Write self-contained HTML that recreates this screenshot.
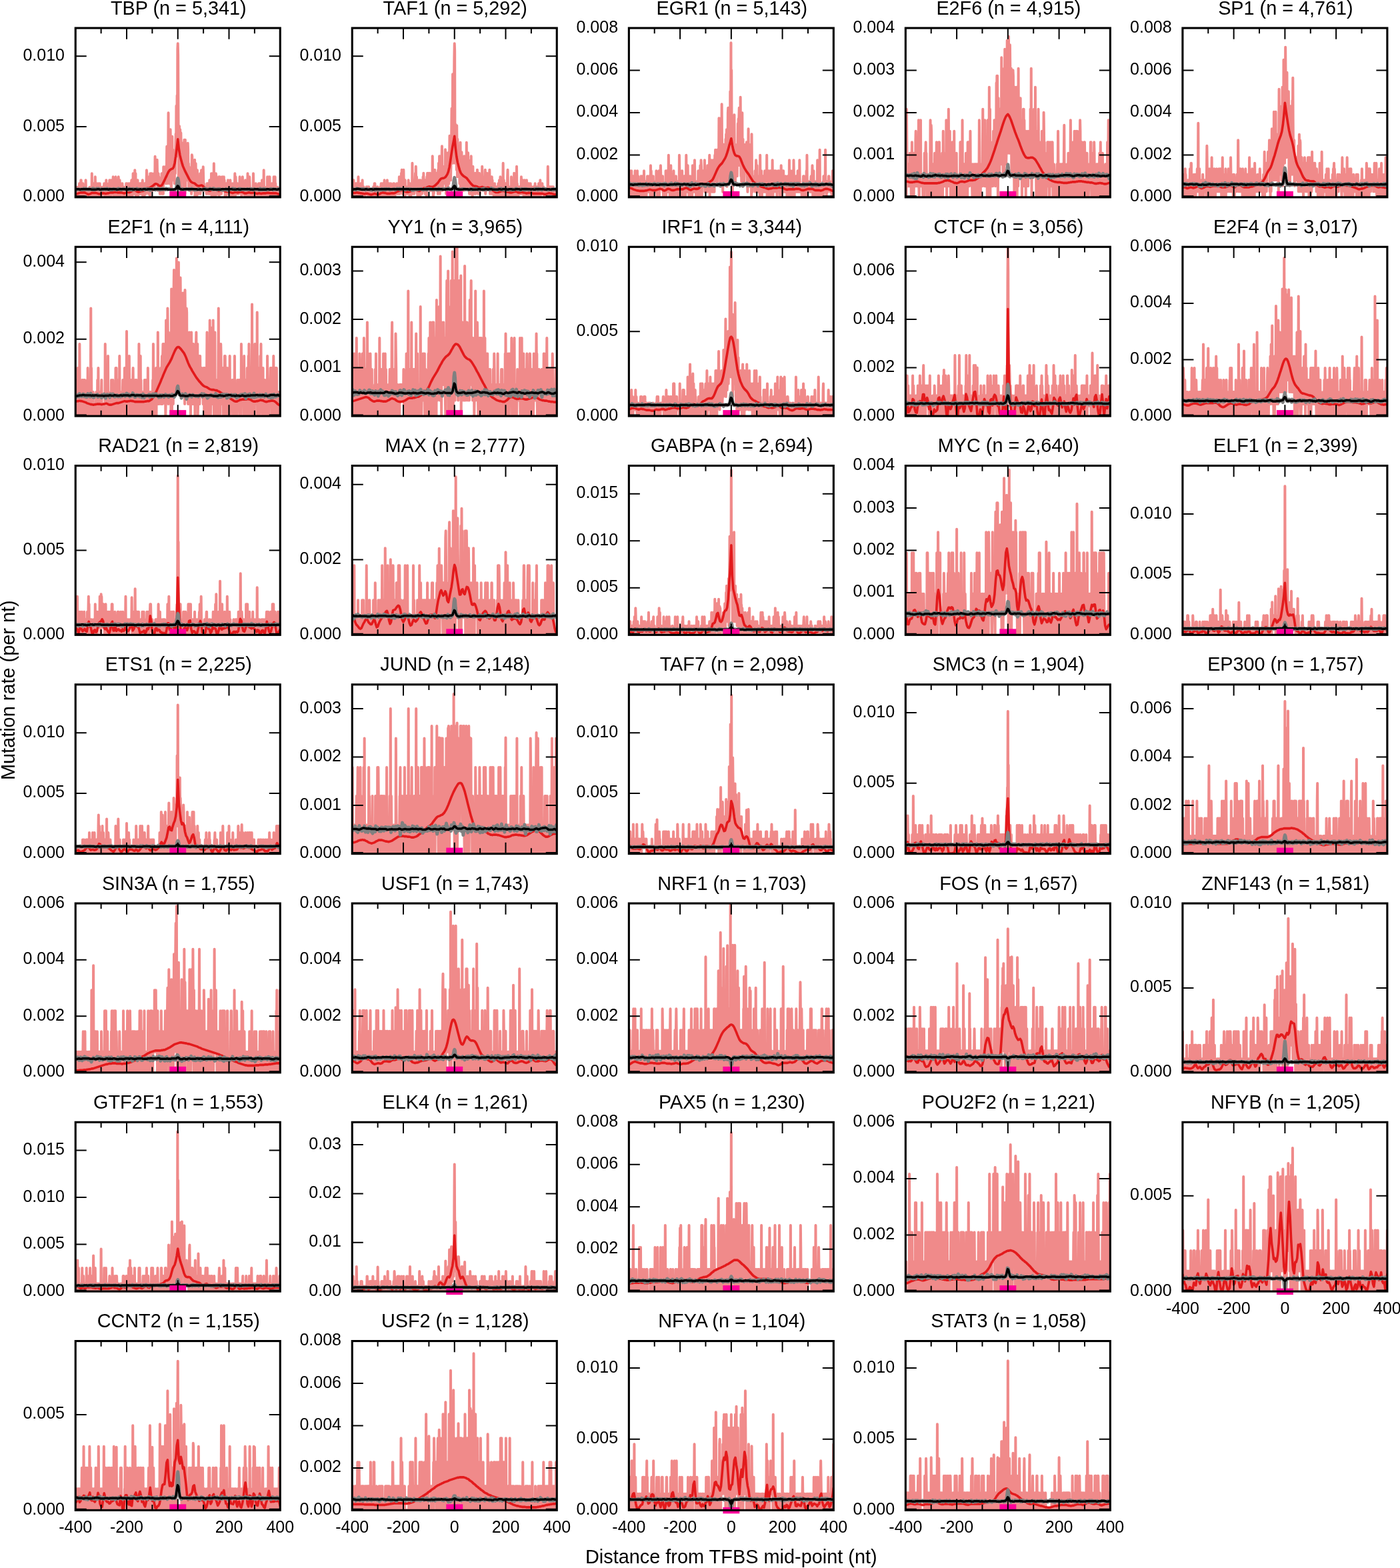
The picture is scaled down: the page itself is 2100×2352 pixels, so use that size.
<!DOCTYPE html><html><head><meta charset="utf-8"><title>Mutation rate around TFBS</title><style>html,body{margin:0;padding:0;background:#fff;width:2100px;height:2352px;overflow:hidden}svg{display:block}</style></head><body><svg width="2100" height="2352" viewBox="0 0 2100 2352"><style>.tl{font-family:"Liberation Sans",Arial,sans-serif;font-size:25px;fill:#000}.tt{font-family:"Liberation Sans",Arial,sans-serif;font-size:28.8px;fill:#000}.al{font-family:"Liberation Sans",Arial,sans-serif;font-size:28.9px;fill:#000}</style><rect width="2100" height="2352" fill="#fff"/><clipPath id="c0"><rect x="113.25" y="42.05" width="307.00" height="253.80"/></clipPath>
<g clip-path="url(#c0)">
<path transform="translate(113.25 295.85) scale(0.38375 0.5)" d="M0-20l1 0l1 20l1-10l1 10l1-30l1 0l1 20l1-10l1 0l1-10l1 10l1 20l1-20l1-10l1-11l1 31l1-10l1 10l1-10l1 20l1-51l1 0l1 51l1-20l1-21l1 11l1 10l1-10l1-11l1 31l1 10l1-30l1 0l1 10l1-10l1 10l1-10l1 20l1-10l1-31l1 31l1 0l1 0l1 0l1 10l1-10l1 20l1-10l1 0l1 10l1-10l1 10l1-10l1 0l1-20l1 10l1 0l1 10l1-20l1 10l1 10l1 10l1 0l1-71l1 61l1-20l1 0l1 10l1 0l1-21l1 41l1-41l1 41l1-10l1-10l1 10l1-51l1 41l1 20l1-10l1-20l1-11l1 0l1 21l1 10l1-20l1 20l1 10l1-41l1 41l1-10l1 10l1 0l1 0l1-41l1 21l1 10l1 0l1-10l1-10l1 30l1-20l1 10l1-20l1 0l1 10l1-10l1 20l1-10l1 0l1-10l1-11l1 31l1 10l1-10l1 10l1-10l1 0l1-10l1-31l1 51l1-41l1 41l1 0l1-20l1-10l1 30l1-20l1-10l1-11l1 31l1 0l1-41l1 31l1 10l1-10l1 20l1-10l1-41l1 31l1 10l1-31l1-10l1 31l1 10l1 0l1-51l1 41l1 20l1 0l1-30l1 30l1-30l1 0l1 20l1-20l1-31l1 20l1-10l1 31l1 10l1-10l1 20l1-20l1 0l1 20l1-20l1-41l1 41l1 20l1-10l1-10l1-31l1 51l1-30l1 30l1-41l1 31l1-20l1 20l1-20l1 0l1-11l1 21l1 10l1-10l1 10l1 10l1-30l1 20l1 0l1-10l1 20l1-10l1 0l1-10l1 10l1-31l1 11l1-11l1 11l1 30l1-30l1 10l1 10l1-31l1 31l1-20l1 30l1-10l1 0l1-31l1 11l1 20l1-20l1 10l1 20l1-41l1-10l1 10l1 21l1 20l1-20l1 10l1-61l1 51l1-10l1 0l1 0l1-41l1 61l1-71l1 40l1 21l1-51l1 61l1 10l1-20l1 10l1 0l1-31l1 31l1-41l1 51l1-10l1-20l1 10l1 10l1 0l1 0l1-31l1 21l1 0l1-21l1 31l1-31l1 11l1 10l1 0l1 0l1-10l1-21l1 51l1-20l1 10l1-31l1 11l1 10l1 20l1-30l1-11l1 11l1 10l1 10l1 0l1-10l1-21l1-40l1 10l1 20l1 21l1 10l1-31l1-10l1 20l1 31l1-31l1 11l1 20l1-20l1 30l1-71l1 30l1-20l1-10l1 20l1 31l1-51l1 30l1 11l1 10l1-10l1-31l1 20l1 11l1-21l1-20l1 10l1 0l1 31l1-92l1 71l1 0l1 0l1-10l1 10l1 10l1-10l1-61l1 41l1 20l1 31l1-10l1-41l1 41l1-31l1 20l1 0l1 11l1 20l1 0l1-41l1 21l1 10l1 0l1-21l1-30l1 0l1 61l1-51l1 51l1-10l1 10l1-81l1 20l1 20l1-30l1 10l1 10l1-30l1 10l1 0l1 40l1-50l1 40l1-30l1-71l1 111l1-20l1-71l1 41l1 0l1-162l1 182l1 10l1 0l1 20l1-141l1 91l1-19l1-93l1 61l1 61l1 61l1-31l1-121l1 101l1-111l1 81l1 50l1-91l1 30l1 41l1-20l1 40l1-40l1 50l1-81l1 21l1 30l1-71l1-48l1 68l1-152l1 92l1 0l1-123l1 143l1-282l1-17l1 34l1 194l1 192l1-30l1-122l1-20l1 61l1 10l1-61l1 55l1 128l1-173l1 51l1 0l1 51l1-31l1 61l1-101l1 0l1 30l1 20l1 92l1-51l1-51l1-50l1 40l1 0l1 122l1-162l1 152l1-71l1-10l1 30l1-81l1 91l1-20l1 30l1-50l1-61l1 18l1 93l1-50l1 71l1-61l1 71l1-51l1-10l1 20l1 10l1 0l1 10l1-20l1 51l1-61l1-56l1 5l1 81l1-10l1 31l1-41l1 10l1-30l1 20l1 41l1-41l1-51l1 112l1-20l1-10l1-71l1 40l1-10l1 0l1 71l1-10l1-71l1 51l1 0l1 10l1 10l1-20l1-21l1-10l1 20l1-20l1 10l1-20l1 61l1-31l1 11l1-21l1-30l1 30l1-30l1 61l1-21l1-40l1 40l1-50l1 30l1 31l1-11l1 11l1 0l1 10l1 0l1-10l1 0l1 0l1 10l1-10l1 20l1 0l1-31l1 11l1 10l1-21l1 0l1 21l1 0l1 10l1-20l1 20l1-41l1 31l1 10l1 0l1-20l1 20l1-10l1-51l1 61l1 10l1-71l1 71l1-10l1-41l1-10l1 0l1 41l1-81l1 101l1-51l1 10l1 21l1-21l1 0l1 41l1-71l1 10l1 51l1-41l1 41l1-20l1-11l1 0l1 31l1-20l1 20l1-51l1 61l1-10l1 0l1-51l1 41l1 0l1-10l1 10l1-31l1 41l1-31l1-10l1-10l1 0l1 31l1-11l1 21l1-21l1 21l1-41l1 41l1-31l1 21l1 10l1 20l1-10l1-20l1 0l1 30l1-41l1 11l1 20l1 0l1-10l1-21l1-10l1 10l1 21l1 0l1 0l1 0l1-21l1 21l1 20l1-51l1 51l1-30l1 10l1 20l1-10l1-20l1 20l1 0l1-31l1 11l1 20l1 0l1 0l1 10l1-30l1 30l1-30l1-41l1 71l1-10l1-51l1 20l1 11l1 20l1-10l1 10l1-10l1-21l1 31l1 0l1 0l1 0l1-10l1 0l1 0l1-10l1-31l1 31l1 10l1-10l1 0l1 20l1-20l1 30l1-30l1-11l1 31l1-51l1 31l1 20l1-20l1 10l1 10l1-20l1 20l1-10l1 20l1-10l1-41l1 41l1 0l1 10l1 0l1-10l1-10l1-10l1 30l1-71l1 30l1 21l1 0l1 20l1-20l1 10l1-51l1 20l1 21l1 20l1-20l1 0l1 0l1 0l1 0l1 10l1 10l1-10l1 0l1-10l1 0l1-51l1 41l1-11l1 0l1 11l1 30l1 0l1-10l1-20l1 30l1-41l1 11l1 20l1-10l1 10l1 10l1-20l1 10l1-10l1-10l1 20l1-31l1 31l1 10l1-41l1 11l1 20l1 0l1-31l1 31l1-20l1 30l1 0l1 0l1-51l1 51l1-30l1 30l1-41l1 31l1 0l1-71l1 81l1-20l1 20l1-20l1-10l1 20l1-10l1 10l1-20l1 0l1 30l1-30l1 20l1-51l1 41l1 20l1-20l1 20l1-10l1-51l1 31l1 20l1-51l1 51l1 10l1-10l1 0l1-20l1 30l1 0l1-30l1-11l1 11l1 20l1 0l1 0l1-20l1 20l1-51l1 51l1 10l1 0l1-20l1-41l1 51l1-31l1 41l1-30l1 10l1 10l1 10l1-20l1 0l1-10l1 10l1 10l1 0l1 0l1-10l1 20l1-20l1 10l1-10l1 10" fill="none" stroke="#f08a8a" stroke-width="4.0" vector-effect="non-scaling-stroke" stroke-linejoin="round" stroke-linecap="round"/>
<path transform="translate(113.25 295.85) scale(0.38375 0.5)" d="M0-10l4 0l4-1l4-1l4-1l4-1l4 0l4 0l4 0l4 0l4 2l4 1l4 2l4 0l4-1l4-1l4-2l4 0l4 0l4 0l4 0l4 1l4 1l4 1l4 0l4-1l4-1l4 0l4 0l4 1l4 0l4-1l4 0l4-1l4-1l4 0l4 0l4 0l4-1l4 0l4 0l4 1l4 0l4 0l4 0l4 0l4 1l4 1l4 0l4-1l4-1l4-1l4 0l4 0l4-1l4-2l4-2l4-1l4 0l4 2l4 2l4 1l4 0l4-1l4-1l4-1l4 0l4-1l4-2l4-3l4-2l4 0l4-1l4-1l4-2l4-2l4-2l4-3l4-2l4 0l4 1l4 3l4 2l4 0l4-1l4-4l4-6l4-6l4-7l4-6l4-7l4-6l4-4l4-2l4-2l4-1l4-5l4-12l4-20l4-24l4-27l4 28l4 19l4 13l4 11l4 10l4 7l4 7l4 6l4 6l4 6l4 6l4 5l4 4l4 2l4 1l4 1l4 2l4 3l4 2l4 1l4 0l4-1l4-1l4 1l4 3l4 4l4 4l4 2l4 1l4 1l4 0l4 0l4-2l4-2l4-1l4 0l4 1l4 2l4 2l4 1l4-1l4-1l4-2l4 1l4 1l4 3l4 1l4 0l4 0l4 1l4 1l4 1l4 1l4 0l4-1l4-1l4 0l4 1l4 0l4-1l4-1l4 0l4 1l4 1l4 2l4 0l4 0l4-1l4-1l4 0l4 1l4 0l4 0l4-1l4 1l4 1l4 1l4 0l4-1l4 0l4 1l4 0l4-1l4 0l4 0l4 0l4-1l4 0l4 0l4 1l4 0l4 0l4 0l4 0l4 0l4 0l4 1l4 1l4 1l4 0" fill="none" stroke="#e31a1c" stroke-width="3.6" vector-effect="non-scaling-stroke" stroke-linejoin="round"/>
<path transform="translate(113.25 295.85) scale(0.38375 0.5)" d="M0-23l2-1l2 2l2-2l2 0l2 0l2 0l2 0l2 1l2 0l2 0l2-1l2 2l2 0l2-1l2 0l2-3l2 1l2 2l2 0l2-3l2 3l2 0l2 0l2-1l2 0l2 1l2-2l2 1l2 1l2 0l2-1l2 0l2 1l2-3l2 2l2 2l2-3l2 2l2-1l2 0l2 0l2-2l2 2l2-1l2-1l2 2l2 1l2-1l2 1l2 0l2-2l2 2l2-1l2 1l2-1l2-1l2 1l2-1l2 2l2-2l2 1l2-2l2 2l2 1l2 0l2 0l2-2l2 3l2-1l2-1l2 2l2 0l2-2l2-1l2 0l2 1l2 0l2 0l2 1l2 1l2-1l2-2l2 0l2-1l2 1l2 1l2-1l2 1l2 2l2-1l2-1l2 0l2-1l2 0l2 1l2 0l2 0l2 1l2 0l2-3l2 2l2 1l2 0l2 1l2-4l2 2l2-1l2 3l2 0l2-1l2-2l2 3l2-3l2 1l2 0l2 0l2 1l2 0l2-2l2-1l2 1l2 1l2 0l2 0l2 0l2 0l2 1l2 1l2-2l2 0l2 1l2 0l2-1l2-1l2 1l2 2l2-3l2 1l2 0l2-1l2 1l2 1l2-2l2 2l2 1l2 1l2-4l2 2l2-2l2 1l2 0l2 0l2-1l2 2l2 0l2 1l2-1l2-1l2-1l2 0l2 2l2-3l2 3l2 0l2 1l2-1l2 0l2-2l2-1l2 3l2 0l2-2l2 1l2 0l2 0l2 1l2-3l2 1l2 0l2 2l2-2l2 1l2-1l2 1l2 0l2 2l2 0l2-1l2 0l2 0l2 0l2 2l2-1l2 0l2-1l2-3l2-1l2-11l2-12l2-7l2 6l2 12l2 10l2 4l2 1l2 0l2 2l2-1l2-2l2 1l2 0l2 1l2 2l2-1l2-2l2 0l2-1l2 0l2 1l2 0l2 1l2-2l2 1l2 2l2-3l2 0l2-1l2 2l2 0l2 0l2 0l2 2l2-1l2 1l2-1l2 0l2 1l2 0l2-2l2-1l2 0l2 1l2 1l2 1l2-1l2 0l2 0l2 1l2 0l2-1l2-1l2-2l2 2l2-1l2 2l2-2l2 1l2 1l2 0l2-1l2 0l2 0l2-2l2 1l2 1l2 0l2 0l2 1l2-3l2 0l2 3l2-1l2 0l2 0l2 0l2 2l2-2l2 1l2-2l2 1l2 1l2-2l2 2l2 1l2 0l2-1l2 2l2-3l2 1l2 1l2 0l2-1l2 0l2-2l2 2l2 1l2 1l2-3l2-1l2 2l2 0l2 0l2 0l2-1l2 0l2 0l2-2l2 2l2-1l2 1l2 1l2-2l2 1l2 2l2 0l2-1l2 0l2 0l2-2l2 0l2 0l2 3l2-3l2 2l2 0l2-1l2 0l2 1l2-1l2 1l2-1l2 1l2 0l2 0l2 0l2-2l2 1l2 1l2 0l2 0l2-2l2 2l2-2l2 0l2 1l2 1l2 1l2-2l2-1l2 2l2-1l2 1l2 0l2 0l2-1l2 0l2 0l2 2l2-1l2 1l2-4l2 1l2 3l2-1l2 1l2 0l2-3l2 2l2-2l2 3l2 0l2-2l2 2l2-1l2-1l2 1l2 0l2 0l2 0l2 0l2-2l2 0l2 0l2 1l2 0l2 2l2-3l2 1l2 0l2 1l2-1l2 1l2 0l2-1l2 0l2-1l2 2l2-2l2 3l2-1" fill="none" stroke="#808080" stroke-width="5.0" vector-effect="non-scaling-stroke" stroke-linejoin="round"/>
<path transform="translate(113.25 295.85) scale(0.38375 0.5)" d="M0-24l3 0l3 0l3 0l3 0l3 0l3 1l3-1l3 0l3 0l3 0l3 0l3 0l3 0l3 0l3 0l3 0l3 0l3 0l3 0l3 0l3 1l3 0l3 0l3 0l3 0l3 0l3 0l3-1l3 0l3 0l3 0l3 1l3 0l3-1l3 0l3 0l3 0l3 0l3 0l3 0l3 0l3 0l3 1l3-1l3 0l3 0l3 0l3 0l3 0l3 0l3 0l3 0l3 0l3 1l3 0l3 0l3-1l3 0l3 0l3 0l3 0l3 0l3 0l3 0l3 0l3 1l3 0l3 0l3-1l3 0l3 0l3 0l3 0l3 0l3 1l3 0l3-1l3 0l3 0l3 1l3 0l3 0l3 0l3-1l3 0l3 1l3 0l3-1l3 0l3 0l3 0l3 1l3 0l3-1l3 0l3 0l3 0l3 0l3 0l3 0l3 1l3 0l3-1l3 0l3 0l3 0l3 0l3 0l3 0l3 0l3 0l3 0l3 0l3 0l3 0l3 0l3 0l3 0l3 0l3 0l3 1l3 0l3 0l3 0l3 0l3 0l3 0l3 0l3-1l3 0l3-2l3-4l3-4l3 1l3 5l3 3l3 1l3 0l3 1l3 0l3-1l3 0l3 0l3 0l3 0l3 0l3 0l3 0l3 0l3 0l3 0l3 0l3 0l3 0l3 0l3 0l3 0l3 0l3 1l3 0l3 0l3-1l3 0l3 1l3 0l3-1l3 0l3 0l3 0l3 1l3 0l3 0l3 0l3-1l3 0l3 0l3 0l3 0l3 0l3 1l3 0l3 0l3 0l3 0l3 0l3 0l3 0l3 0l3 0l3-1l3 0l3 0l3 0l3 0l3 0l3 0l3 0l3 0l3 0l3 0l3 0l3 0l3 0l3 0l3 1l3 0l3 0l3 0l3 0l3-1l3 0l3 0l3 1l3 0l3 0l3-1l3 0l3 0l3 0l3 0l3 0l3 0l3 0l3 0l3 0l3 0l3 0l3 1l3 0l3 0l3 0l3 0l3-1l3 0l3 0l3 0l3 0l3 0l3 1l3 0l3 0l3 0l3 0l3 0l3 0l3 0l3 0l3 0l3-1l3 0l3 0l3 0l3 1l3 0l3 0l3 0l3-1l3 0l3 0l3 0l3 0l3 1l3 0l3-1l3 0l3 0" fill="none" stroke="#000000" stroke-width="3.5" vector-effect="non-scaling-stroke" stroke-linejoin="round"/>
<rect x="254.28" y="286.85" width="24.94" height="9.00" fill="#ff0099"/>
</g>
<path d="M151.62 42.05v8.3M151.62 295.85v-8.3M190.00 42.05v16.8M190.00 295.85v-16.8M228.38 42.05v8.3M228.38 295.85v-8.3M266.75 42.05v16.8M266.75 295.85v-16.8M305.12 42.05v8.3M305.12 295.85v-8.3M343.50 42.05v16.8M343.50 295.85v-16.8M381.88 42.05v8.3M381.88 295.85v-8.3M113.25 294.25h16.5M420.25 294.25h-16.5M113.25 190.10h16.5M420.25 190.10h-16.5M113.25 84.35h16.5M420.25 84.35h-16.5" stroke="#000" stroke-width="2" fill="none"/>
<rect x="113.25" y="42.05" width="307.00" height="253.80" fill="none" stroke="#000" stroke-width="3.1"/>
<text x="96.95" y="302.35" class="tl" text-anchor="end">0.000</text>
<text x="96.95" y="196.60" class="tl" text-anchor="end">0.005</text>
<text x="96.95" y="90.85" class="tl" text-anchor="end">0.010</text>
<text x="267.75" y="21.70" class="tt" text-anchor="middle">TBP (n = 5,341)</text>
<clipPath id="c1"><rect x="528.25" y="42.05" width="307.00" height="253.80"/></clipPath>
<g clip-path="url(#c1)">
<path transform="translate(528.25 295.85) scale(0.38375 0.5)" d="M0 0l1-51l1 41l1 0l1 10l1-10l1-41l1 31l1-21l1 31l1 0l1-10l1 10l1-10l1-21l1 31l1-31l1 41l1-31l1 11l1 10l1-31l1 31l1-10l1-41l1 51l1-31l1 41l1-31l1 31l1-20l1 10l1 10l1-31l1-10l1 31l1-10l1 20l1-10l1-10l1-31l1 41l1 0l1-10l1 0l1-11l1 31l1 0l1-20l1 10l1 10l1-20l1 0l1 10l1-10l1 0l1-11l1 11l1 10l1-10l1-11l1 11l1 10l1 10l1-10l1-21l1 31l1-20l1 20l1-20l1 20l1-20l1 10l1 0l1 10l1-10l1 0l1 10l1 0l1-20l1 20l1 0l1-20l1-11l1 0l1 31l1-20l1-21l1 41l1-41l1 41l1-20l1 10l1-10l1 0l1 20l1 0l1-20l1 20l1-31l1 21l1 0l1 0l1 10l1 0l1-10l1 0l1 10l1-20l1 10l1-21l1 11l1 10l1-31l1 31l1-31l1 21l1 0l1 20l1-31l1-10l1 21l1 0l1 10l1 0l1 10l1-51l1 31l1-11l1 0l1 21l1 0l1-21l1 31l1-20l1 20l1 0l1-51l1 41l1 0l1-21l1 11l1 20l1-10l1 10l1-41l1 41l1-10l1-21l1 31l1 0l1-41l1 31l1 10l1-31l1 0l1 0l1 11l1 0l1 0l1 20l1-41l1 31l1 10l1-41l1 31l1 10l1 0l1-10l1 0l1-10l1 10l1-21l1 0l1-10l1 0l1 21l1 10l1-21l1 0l1-10l1 0l1 31l1-21l1-30l1 51l1 0l1-10l1-31l1 20l1 0l1 11l1-52l1 41l1-51l1 62l1 0l1 10l1 0l1-21l1 11l1-62l1 41l1 10l1 0l1 11l1 20l1-51l1 41l1-10l1-11l1 21l1 0l1 0l1-10l1-11l1 11l1-11l1 11l1 10l1-41l1 41l1 0l1-21l1-10l1 41l1-41l1 21l1-11l1 31l1-20l1 0l1-11l1 0l1 21l1-92l1 82l1 0l1 10l1-21l1-10l1 21l1 10l1-31l1 0l1 21l1-31l1-21l1 52l1-72l1 51l1 10l1-30l1 41l1 10l1-21l1 31l1-10l1 10l1-20l1-11l1-20l1 51l1-31l1 31l1-31l1 31l1-51l1 10l1 0l1 21l1 0l1-11l1 21l1-10l1-21l1 21l1-41l1 41l1-52l1 21l1 10l1-10l1 31l1-11l1 21l1-41l1 0l1 20l1 0l1 21l1 10l1-61l1 30l1-41l1 41l1-20l1 0l1 20l1-41l1 11l1 30l1-10l1-10l1-21l1 52l1-21l1 21l1-11l1 0l1-10l1 0l1 21l1 0l1-103l1 62l1 30l1 31l1-20l1 10l1-10l1-11l1 11l1-62l1 31l1-10l1 30l1 0l1-20l1-21l1 0l1 41l1 0l1-41l1 11l1 51l1-72l1 72l1-92l1 51l1 31l1-103l1 31l1 82l1-41l1 0l1-72l1 41l1-31l1 72l1-72l1-40l1 133l1-62l1 62l1-72l1 51l1-20l1 10l1-21l1 0l1 31l1-20l1-11l1-71l1 25l1 36l1 72l1-72l1-51l1 72l1 41l1-72l1 31l1 30l1-102l1 92l1-92l1 92l1-41l1-20l1-82l1 92l1-31l1 51l1 21l1-41l1-92l1 15l1-97l1 164l1-51l1-21l1-195l1 267l1-184l1 24l1 6l1-51l1-108l1-46l1 21l1 338l1-118l1 97l1 21l1-62l1 0l1 82l1-133l1 82l1 72l1-113l1 61l1 31l1 0l1 0l1-61l1-9l1 50l1 61l1-82l1 72l1-113l1 164l1-51l1-72l1 62l1-74l1 94l1-72l1 31l1-10l1 10l1-20l1 82l1-41l1-21l1-41l1 62l1 10l1-51l1 71l1-71l1-11l1 62l1 10l1-123l1 123l1-10l1-21l1 41l1-51l1-51l1 72l1-21l1 51l1-61l1 82l1-51l1-49l1 69l1-61l1 82l1 10l1-113l1 113l1-41l1-10l1 0l1 61l1-20l1-72l1 61l1 11l1 0l1 0l1-21l1-10l1 0l1 41l1-62l1 21l1 41l1-62l1 31l1 21l1-21l1 21l1-62l1 62l1-21l1-20l1 51l1-41l1 31l1 10l1-62l1 41l1 21l1-41l1 31l1-11l1-10l1 10l1 0l1-10l1 10l1-61l1 31l1 0l1 0l1 30l1 0l1 11l1 0l1-11l1-30l1 20l1 0l1-41l1 72l1-10l1 0l1 0l1-11l1-41l1 21l1 0l1 10l1-10l1 10l1 0l1 10l1-41l1 31l1 0l1-41l1 41l1 31l1-10l1 0l1-41l1 0l1 41l1 10l1-51l1 30l1-20l1 41l1-31l1 0l1 21l1 0l1 20l1-10l1-21l1-10l1 31l1 0l1 10l1-31l1 11l1 0l1-11l1 21l1 10l1-20l1 20l1-31l1 11l1-21l1 31l1 0l1 0l1-41l1 41l1 10l1-10l1-51l1 20l1 0l1 10l1 31l1 0l1 0l1-41l1-10l1 31l1-11l1-71l1 92l1-31l1-10l1 51l1-10l1 0l1-21l1-10l1 0l1 41l1-10l1 10l1-41l1 21l1 20l1-10l1-51l1-21l1 51l1 21l1-10l1 10l1-21l1 21l1-10l1 20l1-10l1-10l1 0l1-11l1 21l1-51l1 61l1-10l1-10l1 20l1-31l1 0l1 31l1-10l1-41l1 51l1-72l1 21l1 41l1-31l1 21l1 0l1 10l1 0l1-41l1 51l1-92l1 72l1-21l1 21l1 0l1 20l1 0l1-20l1 10l1-10l1-11l1 21l1-21l1 21l1-21l1 21l1-10l1-11l1-30l1 51l1-31l1 31l1 0l1-10l1-31l1 41l1 0l1 0l1 10l1-41l1 10l1-20l1 41l1-31l1 41l1-20l1 20l1 0l1-20l1-31l1 51l1 0l1-10l1 0l1-31l1 10l1-10l1 31l1-31l1 41l1-20l1 0l1-11l1 21l1-31l1 41l1-10l1-10l1 0l1-11l1 11l1 0l1 10l1 0l1-10l1 20l1-31l1 11l1 10l1 10l1-10l1-21l1-10l1 31l1 10l1-10l1 0l1-21l1 0l1 31l1-31l1 31l1-20l1 20l1-20l1 10l1-31l1 31l1 0l1 10l1-10l1-10l1-31l1 51l1-10l1-10l1 0l1 10l1-10l1 0l1-21l1 31l1-10l1 10l1 0l1-21l1 11l1 20l1 0l1-20l1 20l1-10l1-10l1 10l1 10l1 0l1-20l1 0l1 0l1 10l1 0l1 0l1-82l1 92l1-10l1 10l1-31l1 11l1 20l1-31l1 0l1 21l1-21l1 21l1 0l1 0l1-10l1-11l1 21l1 0l1-21l1 31l1-10l1-21l1 11l1 20l1 0l1 0l1-10l1-10l1 10l1-10l1 20l1-20l1 10l1 0l1 0l1 0" fill="none" stroke="#f08a8a" stroke-width="4.0" vector-effect="non-scaling-stroke" stroke-linejoin="round" stroke-linecap="round"/>
<path transform="translate(528.25 295.85) scale(0.38375 0.5)" d="M0-13l4 0l4 0l4 0l4-1l4 0l4 1l4 0l4 1l4 0l4 1l4 0l4 1l4-1l4 0l4 0l4 1l4 1l4 1l4 0l4-1l4-1l4-1l4 1l4 1l4 0l4 0l4-1l4-2l4-1l4-1l4 1l4 0l4 1l4 1l4 0l4 0l4 0l4-1l4 0l4 0l4 0l4-1l4-2l4-2l4-1l4-1l4-1l4-1l4 0l4 1l4 2l4 1l4 1l4 0l4 0l4-1l4-1l4-1l4-2l4-1l4-2l4 0l4 1l4 3l4 1l4 0l4-2l4-2l4-2l4-2l4 0l4 0l4-2l4-2l4-1l4 0l4 1l4 0l4 0l4-2l4-2l4-3l4-3l4-3l4-5l4-4l4-3l4-1l4 0l4-1l4-2l4-4l4-5l4-8l4-13l4-19l4-21l4-20l4-16l4-17l4 36l4 25l4 17l4 12l4 11l4 8l4 5l4 3l4 3l4 2l4 2l4 2l4 4l4 4l4 4l4 4l4 3l4 3l4 1l4 1l4 0l4 1l4 2l4 1l4 0l4-1l4-1l4 1l4 1l4 1l4 0l4-1l4 0l4 1l4 1l4 3l4 2l4 3l4 2l4 2l4 0l4 0l4 0l4-1l4-1l4-2l4 0l4 0l4 1l4 2l4 0l4 0l4 1l4 1l4 0l4 0l4-1l4-1l4-1l4 0l4 1l4 2l4 0l4 0l4-1l4 0l4 1l4 0l4 1l4 1l4 0l4-1l4 0l4 0l4 1l4 0l4 1l4 0l4 0l4 0l4 0l4 0l4 0l4 0l4 0l4 0l4 1l4 1l4 0l4-1l4-1l4-1l4 0l4 1l4 0l4 1l4 1l4 1l4 0l4 0" fill="none" stroke="#e31a1c" stroke-width="3.6" vector-effect="non-scaling-stroke" stroke-linejoin="round"/>
<path transform="translate(528.25 295.85) scale(0.38375 0.5)" d="M0-25l2-1l2 3l2 0l2 0l2 0l2-1l2 2l2-1l2-3l2 2l2-1l2 2l2 0l2-1l2 0l2-1l2 1l2 0l2-1l2 2l2 0l2-2l2 1l2 0l2 1l2 1l2-2l2 1l2-2l2 1l2 0l2 1l2 0l2 0l2 0l2 1l2-2l2 0l2 3l2-1l2-2l2-1l2 1l2 0l2 3l2-2l2-2l2 2l2-1l2 1l2-1l2 2l2-1l2 0l2 0l2 1l2-2l2-1l2 3l2-1l2-1l2 1l2-2l2 2l2 1l2-3l2 0l2 0l2 1l2 0l2-1l2 0l2 2l2 1l2-1l2 0l2 0l2 0l2-1l2 0l2 0l2-1l2 1l2 2l2-1l2-1l2 0l2-2l2 1l2 0l2 0l2-1l2 2l2 1l2-2l2 1l2 0l2-1l2 1l2 1l2-2l2 2l2-1l2 2l2-1l2-2l2 0l2 1l2 0l2-1l2 2l2-1l2-1l2 1l2 0l2 0l2 3l2-2l2 0l2 2l2-3l2 1l2 0l2-1l2 1l2 0l2-1l2 0l2 1l2-1l2 0l2 0l2 0l2 0l2-1l2 1l2 1l2 0l2 1l2-1l2 0l2 0l2-2l2 1l2-1l2 3l2-2l2-1l2-1l2 1l2 0l2 0l2 1l2-1l2 2l2 0l2 0l2 1l2 0l2-1l2-1l2 0l2-1l2 1l2 2l2-1l2-1l2 2l2-4l2 3l2-2l2 1l2 1l2 0l2-1l2-1l2 1l2-1l2 1l2 0l2-1l2 1l2 1l2-1l2-1l2 2l2-2l2-2l2 2l2 1l2-1l2 1l2 0l2 1l2-1l2 0l2-3l2-10l2-14l2-8l2 7l2 13l2 11l2 5l2-1l2 0l2 2l2-1l2-2l2 1l2 2l2-1l2-1l2 0l2-1l2 1l2 0l2-1l2 1l2 0l2 1l2-1l2 1l2 0l2-1l2 1l2 1l2-1l2-1l2 0l2-1l2 2l2 1l2 0l2-3l2 0l2 2l2-1l2 1l2 0l2 0l2-3l2 1l2 0l2 1l2 1l2 1l2-2l2 1l2 0l2-1l2 0l2 0l2-1l2 3l2-1l2-3l2 0l2 3l2 1l2 0l2-2l2-1l2 1l2 1l2 0l2-1l2 1l2 1l2-1l2 0l2-4l2 3l2 0l2 0l2-1l2 1l2 1l2 0l2 0l2 1l2-1l2 2l2-2l2-1l2 1l2-2l2 0l2 0l2 2l2-3l2 2l2 1l2 1l2-1l2-2l2 2l2 1l2-2l2 2l2-1l2 0l2 1l2-2l2 1l2 1l2-1l2 0l2-1l2 1l2 1l2-2l2 2l2-2l2 1l2 1l2-1l2-1l2-1l2-1l2 2l2-1l2 2l2-1l2 1l2 0l2-1l2 2l2-1l2 1l2-3l2 1l2-1l2 1l2 1l2 1l2-3l2 0l2 3l2-2l2-1l2 1l2 1l2-1l2 2l2-1l2 0l2-1l2 1l2 0l2-1l2 1l2 0l2 0l2 0l2-2l2 0l2 2l2-1l2-2l2 1l2 0l2 3l2-4l2 3l2-1l2-1l2 2l2 0l2 0l2 1l2-2l2-2l2 2l2 0l2-1l2 0l2 0l2 2l2-1l2 2l2 0l2 0l2 0l2-1l2 0l2 0l2 0l2 0l2 1l2-2l2 0l2 2l2-3l2 1l2 1l2-1l2 2l2-3l2 0" fill="none" stroke="#808080" stroke-width="5.0" vector-effect="non-scaling-stroke" stroke-linejoin="round"/>
<path transform="translate(528.25 295.85) scale(0.38375 0.5)" d="M0-23l3 0l3-1l3 0l3 0l3 0l3-1l3 0l3 0l3 0l3 1l3 0l3 1l3 0l3 0l3 0l3 0l3-1l3 0l3 0l3 1l3 0l3 0l3-1l3 0l3 0l3 0l3 1l3 0l3-1l3 0l3 0l3 0l3 0l3 0l3 0l3 0l3 0l3 0l3 0l3 0l3 0l3 0l3 0l3 0l3 0l3 0l3 0l3 0l3 0l3 0l3 0l3 0l3 0l3 0l3 0l3 0l3 0l3 0l3 0l3 0l3 0l3 0l3 0l3 0l3 0l3 0l3 0l3 0l3 0l3 0l3 0l3 0l3 0l3 0l3 1l3-1l3 0l3 0l3 0l3 0l3 0l3 0l3 0l3 0l3 0l3 0l3 0l3 0l3 0l3 0l3 0l3 0l3 0l3 0l3 0l3 0l3 0l3 0l3 0l3 0l3 0l3 0l3 0l3 0l3 0l3 0l3 0l3 0l3 0l3 0l3 0l3 0l3 0l3 0l3 0l3 0l3 0l3 1l3 0l3 0l3 0l3-1l3 0l3 0l3 0l3 0l3 1l3 0l3-1l3 0l3-3l3-4l3-3l3 1l3 5l3 3l3 1l3 0l3 1l3 0l3 0l3 0l3 0l3 0l3-1l3 0l3 0l3 0l3 0l3 0l3 0l3 1l3 0l3-1l3 0l3 0l3 1l3 0l3 0l3 0l3 0l3 0l3 0l3-1l3 0l3 0l3 0l3 1l3 0l3 0l3 0l3 0l3-1l3 0l3 0l3 0l3 1l3-1l3 0l3 0l3 0l3 0l3 1l3 0l3 0l3 0l3 0l3 0l3 0l3 0l3-1l3 0l3 0l3 1l3 0l3-1l3 0l3 0l3 0l3 0l3 0l3 1l3 0l3-1l3 0l3 0l3 0l3 0l3 1l3 0l3 0l3 0l3-1l3 0l3 0l3 0l3 0l3 0l3 1l3 0l3-1l3 0l3 0l3 0l3 0l3 0l3 0l3 0l3 0l3 0l3 0l3 0l3 1l3-1l3 0l3 0l3 1l3 0l3-1l3 0l3 0l3 0l3 0l3 0l3 0l3 0l3 0l3 0l3 0l3 0l3 1l3 0l3 0l3-1l3 0l3 0l3 0l3 1l3 0l3-1l3 0l3 0l3 0l3 0l3 0l3 0" fill="none" stroke="#000000" stroke-width="3.5" vector-effect="non-scaling-stroke" stroke-linejoin="round"/>
<rect x="669.28" y="286.85" width="24.94" height="9.00" fill="#ff0099"/>
</g>
<path d="M566.62 42.05v8.3M566.62 295.85v-8.3M605.00 42.05v16.8M605.00 295.85v-16.8M643.38 42.05v8.3M643.38 295.85v-8.3M681.75 42.05v16.8M681.75 295.85v-16.8M720.12 42.05v8.3M720.12 295.85v-8.3M758.50 42.05v16.8M758.50 295.85v-16.8M796.88 42.05v8.3M796.88 295.85v-8.3M528.25 294.25h16.5M835.25 294.25h-16.5M528.25 190.10h16.5M835.25 190.10h-16.5M528.25 84.35h16.5M835.25 84.35h-16.5" stroke="#000" stroke-width="2" fill="none"/>
<rect x="528.25" y="42.05" width="307.00" height="253.80" fill="none" stroke="#000" stroke-width="3.1"/>
<text x="511.95" y="302.35" class="tl" text-anchor="end">0.000</text>
<text x="511.95" y="196.60" class="tl" text-anchor="end">0.005</text>
<text x="511.95" y="90.85" class="tl" text-anchor="end">0.010</text>
<text x="682.75" y="21.70" class="tt" text-anchor="middle">TAF1 (n = 5,292)</text>
<clipPath id="c2"><rect x="943.35" y="42.05" width="307.00" height="253.80"/></clipPath>
<g clip-path="url(#c2)">
<path transform="translate(943.35 295.85) scale(0.38375 0.5)" d="M0-32l1-31l1 16l1 15l1-47l1 47l1-15l1 15l1-31l1 63l1-79l1 79l1-32l1 16l1-47l1 16l1-16l1 31l1 16l1-31l1 15l1-15l1 47l1-32l1-47l1 63l1-16l1 0l1 16l1 0l1 0l1-16l1 32l1-79l1 79l1-47l1-16l1 47l1-16l1 32l1 0l1-16l1-16l1-15l1 31l1 16l1-32l1-31l1 63l1-47l1 0l1-16l1 47l1 0l1 0l1 16l1-16l1 0l1 16l1-79l1 47l1 16l1-16l1 0l1 32l1-32l1-15l1 31l1 16l1-16l1-16l1-15l1-16l1 31l1 0l1 16l1 0l1 0l1 0l1-47l1 0l1 31l1-31l1 31l1 32l1-95l1 79l1-63l1 63l1 0l1-16l1 16l1 0l1 16l1-16l1-47l1 63l1-32l1 0l1 0l1-15l1 31l1-31l1 15l1 0l1-15l1 31l1-63l1 63l1-31l1 47l1 0l1 0l1-47l1 31l1 0l1-31l1-32l1 63l1 16l1-63l1 31l1-31l1 0l1-32l1 32l1 31l1 0l1 0l1 0l1 0l1 0l1-31l1 47l1 0l1 16l1-16l1-16l1 0l1 16l1 0l1 0l1 16l1 0l1-79l1 79l1-16l1-16l1 0l1-47l1 63l1-31l1-32l1 32l1 31l1-110l1 79l1 31l1 0l1-63l1 79l1-16l1-16l1 32l1-95l1 63l1 0l1 16l1-16l1 32l1-32l1 32l1-16l1-16l1 16l1-63l1 79l1-16l1-47l1 47l1 16l1-47l1 0l1 0l1-16l1 31l1-15l1 0l1 0l1 15l1 0l1 32l1-47l1 47l1 0l1-16l1 16l1-126l1 47l1 63l1-31l1-32l1 63l1-47l1 63l1 0l1-16l1-16l1-47l1 79l1-16l1-31l1 0l1 47l1-32l1 0l1-31l1 16l1-16l1 16l1 15l1 32l1-32l1 16l1-110l1 79l1-48l1 48l1 0l1 31l1-79l1 48l1 15l1 16l1-16l1 32l1-16l1-16l1-15l1-16l1 63l1 0l1 0l1-16l1 16l1-32l1-31l1 63l1-16l1-79l1 63l1 0l1-63l1 79l1 0l1-47l1 16l1-64l1 95l1-16l1 16l1-16l1 16l1 16l1-47l1 15l1 16l1-31l1 15l1 0l1 32l1-79l1 63l1-16l1 32l1-16l1-31l1 31l1-31l1-48l1 63l1 32l1-111l1 16l1 32l1 63l1-47l1-16l1 31l1-31l1-16l1 16l1-16l1 47l1-47l1 32l1-64l1 95l1-31l1 15l1 0l1-31l1-16l1 47l1 16l1-16l1 16l1-79l1 32l1 31l1-15l1 0l1-32l1 47l1-47l1-47l1 126l1-47l1 0l1-16l1 16l1 15l1-79l1 32l1 47l1-15l1 31l1 0l1-31l1-64l1 79l1-31l1 31l1-15l1 31l1-63l1-47l1 31l1-47l1 95l1-32l1 16l1-63l1 0l1 15l1-31l1 95l1-64l1 32l1 0l1-32l1 16l1-142l1 158l1-63l1 79l1-95l1 126l1-31l1-79l1-95l1 126l1 64l1-232l1 121l1 111l1-16l1 47l1-110l1-32l1 0l1 0l1 63l1-63l1 111l1-79l1-16l1 95l1-127l1 48l1-63l1 31l1-45l1 171l1-31l1-48l1 0l1-142l1-15l1 221l1-188l1 156l1-158l1 79l1-16l1 111l1-254l1 1l1 63l1-210l1 416l1-334l1 192l1 31l1-31l1 189l1-111l1 32l1 16l1-95l1 0l1 95l1-184l1 136l1-47l1 32l1 79l1-48l1-47l1 0l1 31l1 48l1-95l1 95l1-79l1 0l1-79l1 126l1-140l1 109l1-111l1-31l1 79l1 94l1 0l1-94l1-111l1 142l1 95l1-48l1 64l1-79l1 15l1-142l1 174l1 47l1-142l1 127l1-48l1 16l1-47l1 79l1-64l1-15l1 0l1-32l1 47l1 32l1-32l1 0l1-54l1 39l1 47l1 32l1 31l1-31l1-32l1-126l1 158l1-95l1 63l1-79l1 63l1 63l1 0l1-120l1 120l1-31l1 16l1 47l1-189l1 110l1 32l1 31l1-31l1 0l1 0l1 0l1 15l1-15l1-16l1 16l1 15l1-47l1 63l1-47l1 0l1-48l1 16l1 63l1 16l1-79l1 63l1 16l1-31l1-16l1 16l1 0l1 15l1 0l1 0l1-31l1 63l1-126l1 110l1-16l1-47l1 63l1-63l1 32l1 47l1-32l1 16l1-31l1-16l1 16l1-16l1 16l1 15l1 16l1-31l1-32l1 47l1-15l1 31l1-16l1 16l1-31l1 15l1-94l1 126l1-63l1 16l1 31l1 16l1 0l1-47l1-32l1 79l1 0l1-47l1 31l1 16l1-79l1 0l1 16l1 16l1 15l1 16l1-16l1 0l1-79l1 95l1 16l1-32l1-15l1 31l1-31l1-16l1-16l1 32l1-16l1 31l1-31l1-16l1 63l1-16l1-31l1 31l1 32l1-16l1-16l1 0l1-47l1 47l1-31l1-16l1 16l1 16l1 0l1 15l1 32l1-47l1 0l1 0l1-48l1 32l1 47l1 16l1-79l1 16l1 16l1-32l1 16l1-16l1 63l1 0l1-31l1 31l1 0l1 0l1-31l1-16l1 47l1-31l1 31l1-16l1 16l1 16l1-47l1 0l1-16l1 63l1-63l1 31l1 0l1 16l1-95l1 95l1 16l1-32l1 32l1-79l1 32l1 31l1-31l1 31l1-47l1 16l1-32l1 79l1-16l1 16l1 0l1-111l1 48l1 47l1 16l1-32l1-31l1 16l1 31l1 0l1-31l1-16l1 47l1-16l1 0l1-31l1 47l1-63l1 32l1 31l1 0l1-31l1-16l1 47l1-95l1 64l1 31l1 0l1-16l1 0l1 0l1 0l1 16l1 16l1-16l1 0l1 16l1-32l1-15l1-16l1 47l1-47l1 31l1-15l1 47l1-47l1 31l1 16l1-16l1-31l1 47l1-79l1 79l1-126l1 94l1-15l1 15l1-15l1 15l1-15l1 31l1-31l1 31l1-31l1 31l1-16l1 16l1 0l1-31l1-16l1 0l1 47l1-31l1-16l1-32l1 63l1 32l1-63l1 63l1-79l1 79l1-47l1 15l1 16l1 16l1-16l1-31l1 31l1 0l1-16l1 16l1 0l1-16l1 0l1-79l1 111l1-16l1 16l1-47l1 47l1-63l1 31l1 0l1-110l1 142l1 0l1-32l1 16l1 0l1 16l1-16l1 0l1 0l1 16l1-32l1 16l1-31l1 47l1-63l1 0l1 31l1 16l1-31l1 0l1 0l1-95l1 126l1-31l1 15l1 32l1-16l1-16l1-15l1 15l1 16l1-16l1-15l1 15l1-31l1 0l1 31l1 0l1-15l1 15l1 0l1 16l1 0l1-16l1-15l1 15l1 32l1-47l1 31l1-63l1 79l1 0l1-16l1 0" fill="none" stroke="#f08a8a" stroke-width="4.0" vector-effect="non-scaling-stroke" stroke-linejoin="round" stroke-linecap="round"/>
<path transform="translate(943.35 295.85) scale(0.38375 0.5)" d="M0-28l4 0l4 1l4 1l4 2l4 1l4 1l4 1l4 1l4 0l4 1l4 0l4 0l4 0l4 0l4 0l4-1l4 0l4-1l4-1l4-1l4 0l4 1l4 1l4 0l4 0l4 0l4-1l4-1l4-1l4-1l4 0l4 1l4 2l4 2l4 0l4-1l4-2l4-2l4 0l4 1l4 2l4 1l4 0l4 0l4-1l4-1l4-1l4 0l4 0l4 0l4 0l4 0l4 0l4-2l4-1l4-1l4 1l4 2l4 2l4 1l4 0l4-2l4-1l4-1l4 1l4 0l4 0l4-1l4-3l4-3l4-3l4-3l4-1l4 0l4 0l4-1l4-2l4-2l4-2l4-2l4-2l4-4l4-6l4-7l4-7l4-7l4-6l4-5l4-4l4-3l4-3l4-5l4-5l4-5l4-7l4-9l4-10l4-12l4-10l4-11l4 19l4 15l4 10l4 6l4 2l4 0l4 1l4 2l4 5l4 8l4 8l4 7l4 6l4 5l4 5l4 4l4 4l4 5l4 5l4 5l4 5l4 4l4 2l4 2l4 2l4 2l4 2l4 1l4 2l4 1l4 1l4 1l4 0l4 2l4 1l4 1l4 0l4-1l4 0l4-1l4-1l4 0l4 0l4 0l4 0l4-1l4 0l4 0l4 0l4 0l4 2l4 2l4 1l4 1l4 0l4-1l4 0l4 0l4 0l4 0l4 0l4 0l4-1l4 0l4 0l4 0l4 1l4 2l4 1l4 0l4 0l4-1l4-1l4-1l4-1l4 0l4 0l4 0l4 0l4 1l4 2l4 1l4 0l4 0l4 0l4 0l4 1l4 0l4-1l4-1l4-2l4-1l4 0l4 0l4 1l4 1l4 1l4 2l4 1l4 0" fill="none" stroke="#e31a1c" stroke-width="3.6" vector-effect="non-scaling-stroke" stroke-linejoin="round"/>
<path transform="translate(943.35 295.85) scale(0.38375 0.5)" d="M0-44l2 3l2 5l2-5l2 4l2-2l2 2l2-2l2-1l2 3l2-1l2-2l2 2l2-2l2 3l2-1l2 0l2-2l2 3l2 1l2-2l2 2l2-4l2 2l2 0l2 1l2 2l2-4l2 0l2 2l2 1l2-2l2 0l2 1l2-4l2 1l2 2l2 2l2-2l2 0l2-1l2-1l2 3l2-1l2-1l2 2l2-1l2 0l2-2l2 1l2-2l2 3l2 1l2-2l2 2l2 0l2-3l2 0l2 0l2 2l2 2l2-4l2 0l2 1l2 0l2 2l2 0l2-3l2 0l2 5l2-6l2 4l2-4l2 2l2 1l2 1l2 0l2 0l2-2l2 0l2-1l2 3l2-2l2-3l2 4l2 1l2-2l2 0l2 1l2-1l2 2l2-5l2 1l2 4l2-1l2-3l2 3l2 1l2-2l2 0l2 2l2-1l2-2l2 4l2-3l2 2l2-2l2 0l2-1l2 0l2 1l2 1l2-2l2 2l2 2l2-1l2-2l2 4l2-5l2 3l2 4l2-4l2-4l2-2l2 2l2 3l2 2l2-1l2 0l2-1l2-3l2 1l2 2l2 0l2 0l2-2l2 1l2 2l2-2l2 3l2-1l2 3l2-5l2 3l2-3l2 1l2 1l2-1l2 4l2-1l2 2l2-3l2-2l2 1l2-1l2-3l2 4l2 3l2-3l2 2l2-1l2-1l2 0l2-2l2 3l2-1l2-2l2 5l2-2l2 0l2-1l2 0l2-2l2 3l2-3l2 3l2-2l2-2l2 1l2 5l2-6l2 4l2-1l2-1l2 1l2-4l2 2l2 0l2 0l2 3l2 0l2-1l2-1l2-1l2 1l2 0l2-3l2-3l2-9l2-13l2-8l2 8l2 13l2 8l2 7l2 1l2-3l2-2l2-1l2 1l2 4l2 1l2-3l2 3l2-2l2 2l2-2l2 5l2-2l2-2l2 0l2-1l2 4l2 1l2-7l2 1l2 1l2 1l2-1l2-1l2-2l2 0l2 7l2-1l2-2l2-1l2 3l2-2l2 2l2-1l2 0l2 0l2 3l2-6l2 2l2 1l2-2l2 1l2-1l2 0l2 0l2 0l2 5l2-4l2 0l2-2l2 0l2 2l2-1l2 2l2 0l2-3l2 3l2 0l2-2l2 2l2-1l2 1l2 3l2-2l2 1l2-2l2-1l2-1l2 3l2-2l2 1l2 0l2 0l2 0l2 0l2 0l2 1l2-1l2-3l2 5l2-4l2-1l2 2l2 2l2 1l2-7l2 5l2-1l2 0l2 0l2-2l2-1l2 7l2-1l2-1l2-2l2 0l2 0l2-1l2-2l2 0l2 3l2 1l2-3l2 1l2-1l2 3l2-3l2 0l2 0l2 4l2-5l2 1l2 0l2 0l2 7l2-3l2-3l2-2l2 2l2 0l2-1l2 1l2-2l2 4l2 0l2-4l2 3l2 1l2 1l2-1l2 2l2-1l2 1l2-1l2-5l2 2l2 5l2-4l2-1l2-1l2 3l2 1l2-4l2 1l2 0l2-2l2 2l2-4l2 4l2 2l2 1l2 3l2-3l2-3l2 1l2-1l2 3l2-2l2-3l2 6l2-1l2-3l2 0l2 1l2 3l2-4l2 1l2-1l2 2l2-2l2 0l2-2l2 1l2 3l2-1l2-1l2 1l2 0l2 0l2-1l2 0l2 1l2 0l2-1l2 0l2-2l2 2l2 2l2-1l2 2l2 2l2 1l2-3l2-2" fill="none" stroke="#808080" stroke-width="5.0" vector-effect="non-scaling-stroke" stroke-linejoin="round"/>
<path transform="translate(943.35 295.85) scale(0.38375 0.5)" d="M0-38l3 0l3 0l3 0l3 0l3 1l3 0l3-1l3 0l3 0l3 0l3 0l3-1l3 0l3 0l3 0l3 0l3 0l3 0l3 0l3 0l3 0l3 0l3 1l3 0l3-1l3 0l3 1l3 0l3 0l3 0l3 1l3-1l3 0l3 0l3 0l3 1l3 0l3 0l3 0l3-1l3 0l3 0l3 0l3 0l3 0l3 0l3 0l3 0l3 0l3 1l3 0l3 0l3-1l3 0l3 0l3 0l3 0l3 0l3-1l3 0l3 1l3-1l3 0l3 0l3 0l3 0l3 1l3 0l3 0l3 0l3-1l3 0l3 0l3 1l3 0l3-1l3 0l3 1l3 1l3 0l3 0l3-1l3 0l3 0l3 0l3 0l3 1l3 0l3-1l3 0l3 0l3-1l3-1l3 0l3 0l3 0l3 1l3 0l3 0l3 0l3 0l3 1l3 0l3 0l3 0l3 1l3 0l3 0l3-1l3 0l3 0l3 0l3 0l3 1l3 0l3-1l3 0l3 0l3 0l3 1l3 0l3 0l3 0l3-1l3 0l3 0l3 0l3-1l3 0l3-1l3-2l3-6l3-5l3 1l3 7l3 5l3 2l3 0l3 0l3 1l3 0l3 0l3 0l3 0l3-1l3 0l3 0l3 0l3 0l3 0l3-1l3 0l3 0l3 0l3 0l3 0l3 0l3 1l3 0l3 0l3 0l3 0l3 0l3-1l3 1l3 0l3 0l3 0l3 0l3 0l3 0l3 1l3 0l3 0l3 0l3-1l3 0l3 0l3 1l3-1l3 0l3 0l3 0l3 0l3-1l3-1l3 0l3 1l3 1l3 1l3 0l3 0l3-1l3 0l3 0l3 0l3-1l3 0l3 0l3 0l3 0l3 0l3 0l3 0l3 0l3 0l3 0l3 0l3 1l3 0l3 0l3 0l3 0l3-1l3 1l3 0l3 1l3 0l3-1l3 0l3 0l3 0l3 0l3 0l3 0l3 0l3 0l3 0l3 0l3 0l3 0l3 0l3 0l3 0l3 0l3 0l3-1l3 0l3 1l3 0l3 0l3 0l3 0l3 0l3 0l3 0l3 1l3 0l3 0l3-1l3 0l3 0l3 0l3 0l3 0l3-1l3-1l3 1l3 0l3 1l3 0l3 0l3 0l3 0l3 1l3 0" fill="none" stroke="#000000" stroke-width="3.5" vector-effect="non-scaling-stroke" stroke-linejoin="round"/>
<rect x="1084.38" y="286.85" width="24.94" height="9.00" fill="#ff0099"/>
</g>
<path d="M981.73 42.05v8.3M981.73 295.85v-8.3M1020.10 42.05v16.8M1020.10 295.85v-16.8M1058.47 42.05v8.3M1058.47 295.85v-8.3M1096.85 42.05v16.8M1096.85 295.85v-16.8M1135.22 42.05v8.3M1135.22 295.85v-8.3M1173.60 42.05v16.8M1173.60 295.85v-16.8M1211.97 42.05v8.3M1211.97 295.85v-8.3M943.35 294.25h16.5M1250.35 294.25h-16.5M943.35 232.40h16.5M1250.35 232.40h-16.5M943.35 168.95h16.5M1250.35 168.95h-16.5M943.35 105.50h16.5M1250.35 105.50h-16.5" stroke="#000" stroke-width="2" fill="none"/>
<rect x="943.35" y="42.05" width="307.00" height="253.80" fill="none" stroke="#000" stroke-width="3.1"/>
<text x="927.05" y="302.35" class="tl" text-anchor="end">0.000</text>
<text x="927.05" y="238.90" class="tl" text-anchor="end">0.002</text>
<text x="927.05" y="175.45" class="tl" text-anchor="end">0.004</text>
<text x="927.05" y="112.00" class="tl" text-anchor="end">0.006</text>
<text x="927.05" y="48.55" class="tl" text-anchor="end">0.008</text>
<text x="1097.85" y="21.70" class="tt" text-anchor="middle">EGR1 (n = 5,143)</text>
<clipPath id="c3"><rect x="1358.35" y="42.05" width="307.00" height="253.80"/></clipPath>
<g clip-path="url(#c3)">
<path transform="translate(1358.35 295.85) scale(0.38375 0.5)" d="M0 0l1-132l1 99l1 33l1-264l1 99l1 99l1 33l1-66l1 0l1 33l1 0l1 33l1-66l1 33l1 33l1 0l1-99l1 66l1-33l1 33l1 0l1 66l1-33l1-66l1-66l1 132l1 0l1-66l1 0l1 33l1-66l1 132l1-66l1 33l1-33l1 33l1-33l1 33l1-132l1-33l1 99l1 66l1-99l1 99l1-132l1 66l1 66l1 0l1-33l1-33l1-132l1 198l1 33l1-66l1 0l1 33l1-66l1-66l1-66l1 198l1 0l1 0l1 0l1-33l1 33l1 0l1 0l1 33l1-66l1 33l1-33l1 66l1 0l1-132l1 0l1 99l1 0l1-99l1-33l1 66l1-33l1 66l1 0l1 66l1-33l1 0l1 0l1-33l1 66l1-66l1 66l1-66l1 33l1 0l1 33l1-66l1-165l1 198l1 0l1-183l1 18l1 132l1 33l1 33l1-66l1 0l1-33l1 66l1-33l1 66l1-66l1 0l1 33l1-99l1 66l1 66l1 0l1 0l1-132l1 66l1-99l1 165l1-99l1 99l1-66l1 33l1 0l1 33l1-66l1-99l1 165l1-165l1 132l1 0l1 0l1 33l1-99l1 33l1 0l1 33l1-66l1 0l1-33l1 99l1 33l1-66l1-132l1 132l1-66l1 33l1 66l1-33l1 33l1 0l1-66l1 33l1-66l1 99l1-198l1 165l1 66l1-132l1 0l1 0l1 99l1-66l1 66l1-231l1 198l1-99l1 132l1 0l1-165l1 165l1-99l1 132l1 0l1-99l1 99l1-132l1 0l1 132l1-165l1 132l1-33l1 33l1 0l1 0l1-33l1-132l1 198l1-66l1 33l1 0l1-33l1 66l1-33l1-66l1-33l1 99l1 0l1 0l1 33l1 0l1 0l1-66l1 66l1-66l1 66l1-66l1 33l1 0l1-33l1-99l1 99l1-99l1 66l1-33l1 132l1-165l1 132l1-198l1 165l1 0l1 66l1-33l1 0l1 0l1 33l1-99l1 66l1 33l1-33l1 0l1-33l1-66l1 99l1-33l1 33l1 33l1 0l1 0l1-165l1 33l1 99l1-33l1-99l1 66l1 66l1-66l1 33l1 0l1-132l1 132l1-33l1 0l1 0l1 33l1 33l1 0l1 33l1-99l1 66l1-33l1 0l1 0l1 33l1-66l1 66l1 33l1-66l1 33l1-66l1 0l1 0l1 0l1 33l1 33l1 33l1-66l1-33l1 33l1 33l1-66l1 33l1 66l1-66l1-165l1 66l1 132l1 0l1-33l1 66l1-99l1 66l1-33l1-33l1 0l1 33l1 33l1-99l1-132l1 165l1-33l1-66l1 66l1 66l1-66l1 99l1-198l1 132l1 66l1 0l1-33l1 0l1 33l1-66l1-33l1 132l1 0l1-231l1 198l1 0l1-33l1 66l1-66l1-264l1 231l1-33l1-132l1 264l1-165l1 99l1 0l1 0l1 33l1-33l1-66l1 99l1-132l1 132l1-99l1-66l1 0l1 33l1 66l1-132l1 99l1-33l1 66l1 66l1-66l1 0l1-66l1-178l1 145l1-166l1 199l1-199l1 232l1 132l1-198l1-99l1 231l1-66l1 66l1 0l1-66l1-132l1 132l1-66l1 0l1-33l1 132l1-320l1 221l1 0l1 66l1-165l1 132l1 99l1-66l1-132l1-100l1-22l1 320l1-165l1-213l1 58l1 155l1-155l1 0l1 287l1-33l1-66l1-33l1-239l1 84l1 254l1-66l1-166l1 34l1-152l1 350l1-132l1 99l1 33l1-325l1 71l1 221l1-33l1-188l1 0l1 287l1 33l1-66l1-33l1 0l1 0l1-216l1 17l1 166l1 0l1 99l1 99l1-66l1-165l1-99l1 198l1 66l1-66l1 33l1-66l1-66l1-99l1 330l1-99l1-165l1-66l1 297l1-353l1 221l1 33l1-66l1 33l1 66l1-165l1 132l1-165l1 231l1-165l1 66l1 99l1-33l1 99l1-231l1 132l1 33l1 33l1-231l1 198l1-198l1 231l1-198l1 99l1 99l1-99l1-66l1 0l1 198l1-198l1 99l1 33l1-66l1 0l1 33l1-66l1-33l1 165l1-132l1 33l1 66l1-66l1-66l1 66l1-66l1 99l1-165l1 66l1 99l1-287l1 254l1 132l1-231l1 0l1 66l1 0l1 66l1 33l1-33l1-66l1-99l1 198l1-165l1 132l1 0l1-231l1 165l1 99l1-33l1 99l1-165l1 0l1-33l1 132l1 0l1 66l1-33l1-231l1 99l1 99l1 0l1-66l1-33l1 165l1-33l1-33l1-33l1 0l1 66l1 33l1-33l1-165l1 66l1 33l1 99l1-99l1 66l1-33l1-188l1 56l1 66l1-33l1 165l1 0l1-132l1 99l1 0l1-66l1 99l1-66l1 33l1-33l1 33l1-132l1 132l1-66l1 0l1-66l1 132l1-33l1 66l1 0l1-66l1-99l1 99l1 33l1 0l1 0l1-66l1-66l1 132l1-33l1-99l1 66l1 99l1 0l1-99l1 0l1 0l1 33l1 33l1-33l1 0l1 33l1 33l1-33l1 0l1 33l1-33l1-33l1-33l1 33l1 0l1 0l1-132l1 99l1 99l1-99l1 66l1-66l1 0l1 66l1-33l1-33l1 33l1 33l1 33l1 0l1-33l1-66l1 99l1-99l1 66l1-66l1 33l1 33l1 0l1-99l1-84l1 150l1 66l1-99l1 33l1 0l1 0l1 0l1 66l1-66l1 33l1-33l1-33l1 66l1 0l1 0l1-99l1 33l1 99l1 0l1-33l1 0l1 0l1-66l1 0l1-132l1 132l1 0l1 99l1 0l1-66l1 33l1 0l1 33l1-132l1-33l1 132l1-99l1 99l1-33l1-132l1 132l1 33l1 33l1-66l1 66l1-198l1 132l1 66l1-66l1-33l1-99l1 165l1-66l1 66l1 33l1-66l1-66l1 99l1 0l1-165l1 132l1-165l1 33l1 132l1 66l1 0l1-33l1-99l1-33l1 99l1 33l1-99l1 99l1 33l1-33l1-33l1 33l1-132l1 33l1-33l1 66l1 66l1-33l1 66l1-132l1 0l1 99l1-33l1-66l1 99l1 0l1 33l1-99l1 0l1 99l1-33l1-33l1 33l1-33l1-33l1 0l1 33l1-99l1 33l1-33l1 132l1 33l1-33l1 33l1-66l1-33l1 33l1-66l1 132l1-66l1 33l1-132l1 33l1 132l1-33l1 0l1 0l1-33l1 33l1 0l1 33l1-99l1 99l1-66l1-33l1 66l1 33l1-33l1-33l1 0l1 66l1-66l1-66l1 0l1 33l1 33l1-99l1 99l1-33l1 99l1-99l1 33l1 66l1-66l1-66l1 66l1 66l1-66l1 33l1 0l1 33l1 0l1-66l1 33l1-33l1-33l1 99l1 0l1-33l1 33l1-66l1-33l1 66l1-132l1 165l1 0l1-99l1-132l1 231l1-66l1 66l1-132l1 99l1-33l1-99" fill="none" stroke="#f08a8a" stroke-width="4.0" vector-effect="non-scaling-stroke" stroke-linejoin="round" stroke-linecap="round"/>
<path transform="translate(1358.35 295.85) scale(0.38375 0.5)" d="M0-47l4 0l4 0l4 1l4 1l4 0l4 0l4 0l4-1l4 0l4-1l4 0l4 0l4 1l4 1l4 1l4 1l4 0l4 1l4 0l4 0l4 0l4 0l4 0l4 0l4 0l4 0l4 0l4 0l4 0l4 0l4 0l4-1l4 0l4-1l4-1l4-1l4-1l4-2l4-1l4 0l4-1l4 1l4 0l4 2l4 1l4 1l4 2l4 1l4 0l4 1l4-1l4-1l4-2l4-1l4 0l4 0l4 1l4 0l4-1l4-1l4-1l4-2l4 0l4 0l4 0l4 0l4-1l4 0l4-2l4-2l4-2l4-3l4-3l4-3l4-4l4-3l4-3l4-3l4-4l4-4l4-6l4-6l4-7l4-8l4-9l4-9l4-9l4-10l4-9l4-10l4-9l4-9l4-9l4-10l4-10l4-9l4-8l4-7l4-4l4-3l4 4l4 6l4 7l4 9l4 9l4 9l4 9l4 8l4 8l4 7l4 8l4 9l4 8l4 8l4 7l4 6l4 5l4 3l4 1l4 0l4 0l4-1l4 0l4 0l4 2l4 2l4 3l4 5l4 5l4 5l4 6l4 5l4 6l4 5l4 4l4 5l4 4l4 3l4 3l4 2l4 2l4 1l4 2l4 1l4 1l4 1l4 0l4 1l4 0l4 0l4 0l4 1l4 0l4 1l4 0l4 0l4 0l4 0l4-1l4 0l4-1l4 0l4-1l4 0l4 0l4 0l4-1l4 0l4-1l4 0l4 0l4 0l4 1l4 0l4 1l4 0l4 1l4 0l4 0l4 1l4 0l4 0l4 1l4 1l4 1l4 0l4 0l4-1l4 0l4-1l4 1l4 0l4 1l4 1l4 0l4 0l4-1l4-1l4-1l4 0" fill="none" stroke="#e31a1c" stroke-width="3.6" vector-effect="non-scaling-stroke" stroke-linejoin="round"/>
<path transform="translate(1358.35 295.85) scale(0.38375 0.5)" d="M0-64l2-3l2 0l2 1l2-1l2 1l2 2l2 2l2 1l2-6l2 2l2 4l2-6l2-2l2 7l2 3l2-10l2-2l2 3l2 12l2-7l2 2l2 4l2-16l2 3l2 4l2 0l2 3l2 1l2-1l2 0l2-1l2-3l2 0l2 0l2 7l2-11l2 2l2 3l2-1l2 2l2 0l2 2l2-1l2-3l2 7l2-7l2 6l2 0l2-10l2 2l2 2l2 0l2 5l2-8l2 6l2 3l2 0l2-7l2 4l2-3l2 1l2-1l2-1l2 5l2-6l2 5l2-5l2 8l2 1l2 0l2-2l2-1l2-4l2 4l2-2l2 3l2 2l2-7l2-2l2 3l2-1l2-2l2 11l2-5l2-2l2-1l2 1l2-4l2-1l2 4l2 3l2-3l2 6l2-2l2-5l2-3l2 4l2 3l2-1l2-3l2 7l2-3l2-1l2 1l2-3l2 1l2-4l2 0l2 10l2-7l2 5l2 0l2 1l2-1l2 3l2-9l2 1l2 2l2 1l2-3l2 2l2 2l2 4l2-6l2-3l2-6l2 4l2 3l2 0l2 1l2 1l2 2l2 2l2 1l2-2l2-4l2 1l2-2l2 1l2 4l2-3l2-3l2 4l2 1l2 0l2-1l2 1l2-2l2-3l2 0l2 3l2-1l2-1l2-3l2 3l2-1l2 3l2 0l2 1l2-2l2 1l2-4l2-1l2 6l2-1l2-1l2 1l2-5l2 5l2-1l2-1l2 1l2 1l2-2l2 2l2-5l2-2l2 0l2 4l2 2l2-1l2 4l2-3l2-7l2 6l2-1l2 0l2 0l2 5l2 1l2-1l2-7l2 2l2 4l2-9l2 7l2 0l2-13l2-9l2-11l2 13l2 10l2 12l2 1l2-4l2 2l2-5l2 3l2 0l2 3l2-2l2 2l2-4l2 6l2-8l2 5l2 3l2-5l2 3l2-3l2-5l2 3l2 0l2 12l2-8l2 3l2-3l2-2l2 1l2 0l2 1l2-2l2-5l2 3l2 7l2-8l2 2l2 3l2 2l2 0l2 0l2-4l2 5l2 2l2-4l2-3l2-5l2 6l2 5l2-3l2-5l2 1l2 2l2 2l2-1l2-6l2 5l2 3l2 5l2-13l2 3l2 1l2 3l2-2l2-2l2 4l2-1l2 4l2 0l2-3l2-3l2-1l2 0l2 5l2 3l2-5l2 2l2-5l2-1l2 5l2 0l2 0l2-5l2 10l2-2l2-2l2-3l2-3l2 8l2-4l2 4l2-2l2-4l2-1l2 5l2-2l2-1l2 1l2-4l2 3l2 2l2 1l2 0l2-3l2-2l2-2l2 4l2 2l2-3l2 2l2 2l2-1l2-4l2-4l2 5l2 1l2 1l2-6l2 1l2 6l2-4l2-3l2 4l2 1l2 3l2-5l2 1l2 7l2-1l2-10l2 5l2 1l2-1l2-1l2-3l2 4l2-1l2 1l2-3l2 6l2-4l2 1l2 3l2-5l2-3l2 1l2 4l2-4l2 2l2-3l2-2l2 7l2 1l2 1l2-3l2 1l2-2l2 6l2-1l2-4l2 1l2 2l2 0l2-3l2-1l2-1l2 6l2-1l2 2l2-5l2 0l2-2l2 0l2 2l2 1l2 3l2-2l2-8l2 6l2-1l2 4l2-4l2-1l2 3l2-2l2-4l2 6l2-2l2 1l2 1l2 1l2-4l2 0l2 2l2-1l2 5l2 0l2 6l2-4l2-5" fill="none" stroke="#808080" stroke-width="5.0" vector-effect="non-scaling-stroke" stroke-linejoin="round"/>
<path transform="translate(1358.35 295.85) scale(0.38375 0.5)" d="M0-64l3 0l3-1l3 0l3 1l3-1l3 0l3 0l3 0l3 1l3 0l3 0l3-1l3 0l3 0l3 1l3 0l3 0l3 1l3 0l3 1l3-1l3-2l3-1l3 1l3 1l3 1l3 1l3-1l3-1l3 0l3 0l3 0l3 1l3 0l3-1l3-1l3 0l3-1l3-1l3 1l3 1l3 0l3 0l3 0l3 1l3-1l3 0l3 0l3 1l3 0l3 0l3 0l3 0l3 1l3 0l3 0l3 0l3 0l3 0l3-1l3 0l3 0l3-1l3 1l3 0l3 0l3 0l3 0l3 1l3-1l3-1l3-1l3 0l3 0l3 0l3 1l3 1l3 0l3-1l3 0l3 0l3 0l3 1l3 0l3-1l3-1l3-1l3 0l3 1l3 0l3 1l3 1l3 0l3 0l3 0l3-1l3-1l3 0l3-1l3 1l3 1l3 1l3 0l3 0l3-1l3 0l3 0l3 1l3 0l3 0l3-1l3 0l3 0l3 0l3-1l3 0l3 0l3 0l3 0l3 1l3 0l3 1l3 0l3-1l3-1l3 0l3 0l3 0l3 0l3 1l3-3l3-6l3-5l3 1l3 7l3 4l3 2l3 0l3-1l3 0l3-1l3 0l3 1l3 1l3 0l3 0l3 0l3 0l3 0l3 0l3 0l3 1l3 0l3 0l3-1l3-1l3 0l3 1l3 0l3 0l3-1l3 0l3 0l3-1l3 1l3 0l3 0l3 0l3 0l3 2l3 1l3 0l3-1l3-1l3-1l3 0l3 0l3 1l3 1l3 0l3 0l3-1l3-1l3 0l3 1l3 1l3 0l3 1l3 0l3 0l3 0l3 0l3-1l3 0l3 1l3 0l3 0l3 0l3 0l3-1l3-1l3 0l3 0l3 0l3 0l3-1l3 0l3 0l3 0l3 0l3 0l3 0l3 0l3 0l3 1l3 0l3 1l3 1l3 0l3-1l3-1l3 0l3-1l3 0l3 0l3 0l3 0l3 1l3 0l3 0l3 1l3-1l3 0l3 0l3 0l3 1l3 0l3-1l3-1l3 0l3 0l3 1l3 0l3-1l3 0l3 0l3 1l3 0l3 1l3-1l3 0l3 1l3 0l3 1l3 0l3-1l3 0l3 0l3 0l3 1l3 0l3-1l3 0l3-1l3-1l3-1" fill="none" stroke="#000000" stroke-width="3.5" vector-effect="non-scaling-stroke" stroke-linejoin="round"/>
<rect x="1499.38" y="286.85" width="24.94" height="9.00" fill="#ff0099"/>
</g>
<path d="M1396.72 42.05v8.3M1396.72 295.85v-8.3M1435.10 42.05v16.8M1435.10 295.85v-16.8M1473.47 42.05v8.3M1473.47 295.85v-8.3M1511.85 42.05v16.8M1511.85 295.85v-16.8M1550.22 42.05v8.3M1550.22 295.85v-8.3M1588.60 42.05v16.8M1588.60 295.85v-16.8M1626.97 42.05v8.3M1626.97 295.85v-8.3M1358.35 294.25h16.5M1665.35 294.25h-16.5M1358.35 232.40h16.5M1665.35 232.40h-16.5M1358.35 168.95h16.5M1665.35 168.95h-16.5M1358.35 105.50h16.5M1665.35 105.50h-16.5" stroke="#000" stroke-width="2" fill="none"/>
<rect x="1358.35" y="42.05" width="307.00" height="253.80" fill="none" stroke="#000" stroke-width="3.1"/>
<text x="1342.05" y="302.35" class="tl" text-anchor="end">0.000</text>
<text x="1342.05" y="238.90" class="tl" text-anchor="end">0.001</text>
<text x="1342.05" y="175.45" class="tl" text-anchor="end">0.002</text>
<text x="1342.05" y="112.00" class="tl" text-anchor="end">0.003</text>
<text x="1342.05" y="48.55" class="tl" text-anchor="end">0.004</text>
<text x="1512.85" y="21.70" class="tt" text-anchor="middle">E2F6 (n = 4,915)</text>
<clipPath id="c4"><rect x="1773.90" y="42.05" width="307.00" height="253.80"/></clipPath>
<g clip-path="url(#c4)">
<path transform="translate(1773.90 295.85) scale(0.38375 0.5)" d="M0-34l1 0l1-34l1 34l1 34l1-34l1 17l1-51l1 51l1-17l1-51l1 34l1-17l1 34l1 34l1-34l1 17l1 17l1-34l1 17l1 17l1-51l1 34l1 0l1 0l1-34l1 51l1-34l1-17l1-34l1 51l1 0l1 34l1-102l1 0l1 85l1 0l1 0l1 0l1-17l1 34l1-17l1-17l1 0l1-34l1 34l1 17l1 0l1 0l1-17l1-34l1 68l1-34l1 0l1 0l1 0l1 0l1-51l1 68l1 0l1 0l1-205l1 205l1 0l1-17l1 0l1-51l1 85l1-51l1 51l1-17l1-34l1 34l1 17l1-51l1 51l1 0l1-34l1 17l1-51l1 34l1 34l1-34l1-17l1 17l1 0l1-17l1 34l1-34l1 0l1 34l1 0l1 0l1 17l1-68l1-86l1 52l1 51l1 34l1 0l1-17l1 17l1-17l1-17l1 34l1-68l1 85l1-34l1 17l1 0l1-51l1 68l1-68l1 68l1-119l1 102l1-17l1 0l1-51l1 34l1-17l1 68l1-34l1 17l1-68l1 17l1 17l1 17l1 34l1-51l1 17l1 17l1 0l1-68l1 17l1 17l1 17l1 17l1-34l1 0l1-17l1 51l1-68l1 51l1 0l1 17l1 0l1-68l1 0l1 68l1 0l1-17l1 34l1-17l1 17l1 0l1-119l1 85l1 17l1-34l1-17l1 0l1 68l1-34l1 0l1 0l1 34l1-17l1-68l1 85l1-51l1 34l1-34l1 34l1-51l1 51l1-17l1 17l1 0l1-68l1 51l1 0l1 0l1-17l1 34l1-51l1-17l1 68l1-102l1 51l1 17l1 34l1-51l1 51l1 0l1 0l1-34l1 0l1 51l1-68l1 68l1-68l1 68l1 0l1-34l1-17l1 17l1 17l1 0l1 0l1 0l1-34l1-17l1 17l1-17l1 0l1 17l1-120l1 103l1 51l1-17l1 17l1-17l1-51l1 68l1-17l1-51l1 34l1 0l1 34l1-17l1-17l1 17l1-17l1 51l1-85l1 34l1 17l1 17l1 17l1 0l1-34l1 0l1 0l1 34l1-34l1-51l1 51l1 17l1-17l1 0l1 0l1-34l1 68l1-68l1 51l1 0l1 17l1 0l1 0l1-34l1-85l1 85l1 34l1-51l1 17l1 0l1-34l1 51l1 17l1 0l1-51l1-34l1 68l1-34l1 51l1-34l1-34l1 51l1 0l1 0l1 17l1-102l1 51l1 17l1 17l1-34l1 0l1 0l1 34l1-34l1 34l1-17l1-34l1 17l1 0l1 34l1-34l1-17l1 34l1 0l1 0l1-51l1 34l1 0l1 0l1 34l1-34l1 0l1 17l1 0l1-17l1 0l1 51l1-34l1 0l1-34l1 34l1-34l1 0l1-68l1 136l1-85l1 34l1 0l1-17l1 51l1-85l1 85l1-68l1 0l1 0l1-17l1 0l1-34l1 17l1 34l1 0l1-34l1-52l1 103l1 51l1-68l1 85l1-51l1 0l1 34l1-68l1 17l1-137l1 15l1 105l1-69l1 52l1 34l1-68l1 85l1-205l1 205l1-120l1 103l1 0l1-17l1-17l1-154l1 188l1 17l1-103l1-34l1 17l1-17l1 34l1 103l1-120l1 35l1 119l1-137l1-170l1 102l1 17l1-68l1 68l1 69l1 68l1-51l1 17l1-86l1 137l1-137l1 0l1-142l1 279l1 17l1-256l1 188l1-310l1 293l1-137l1 17l1 137l1-258l1 206l1-296l1 90l1 121l1 120l1 0l1-103l1-152l1 203l1-34l1-17l1 51l1-51l1-95l1 61l1 205l1-188l1 103l1 68l1 34l1-239l1 51l1 137l1-17l1-137l1 103l1 0l1 68l1-222l1 36l1-104l1 136l1 103l1 17l1-52l1-17l1 120l1 17l1-34l1 0l1-17l1-34l1 17l1 0l1-17l1 68l1-34l1 34l1-34l1 0l1 51l1-120l1 137l1-17l1-17l1-137l1 120l1 51l1-154l1 6l1 80l1 0l1 68l1-17l1-51l1-34l1 85l1-51l1 51l1-34l1 0l1 68l1-51l1 17l1-68l1 68l1-85l1 68l1 17l1 0l1 0l1 17l1-17l1-68l1 68l1 17l1-34l1 17l1-68l1-17l1 68l1 17l1-85l1 119l1-68l1 17l1-68l1 68l1 0l1 51l1-17l1-68l1 17l1 51l1-17l1-102l1 85l1-34l1 0l1 34l1-17l1 17l1 17l1-51l1-17l1 68l1-68l1 51l1 17l1-51l1 51l1-17l1 34l1-68l1 34l1-17l1 51l1-17l1 34l1 0l1-34l1 34l1-51l1 34l1 0l1-85l1 68l1-17l1 51l1-34l1 17l1-68l1 85l1-136l1 102l1 0l1 17l1 17l1 0l1-34l1 0l1 0l1-17l1 17l1 17l1 0l1 0l1 0l1 0l1-51l1 17l1 51l1 0l1-85l1 17l1 68l1 0l1-68l1 17l1-34l1 68l1 17l1-51l1 17l1-17l1 17l1 0l1 34l1-17l1 17l1 0l1 0l1-51l1 34l1-17l1-34l1 68l1-17l1-68l1 51l1-51l1-17l1 85l1-68l1 34l1 51l1-51l1 17l1 17l1 0l1 17l1-34l1 0l1-17l1 17l1-34l1 51l1 0l1 0l1-17l1-17l1-17l1 0l1 17l1 17l1 0l1 0l1 0l1 0l1-17l1 34l1 17l1-68l1-51l1 85l1 0l1-51l1 0l1 34l1 0l1-34l1 68l1-17l1 17l1 17l1-68l1 17l1 0l1-17l1 34l1 34l1-34l1-85l1 85l1-51l1 34l1 51l1-17l1-34l1-17l1 51l1-34l1-34l1 85l1-51l1 17l1 0l1-51l1 51l1 0l1-17l1 51l1-51l1 0l1 0l1 51l1-34l1-34l1 51l1-17l1 0l1 0l1 17l1-17l1 17l1-34l1 0l1 17l1-34l1 68l1-34l1 17l1 0l1 0l1-51l1 68l1-34l1 17l1 17l1 0l1 0l1-17l1-17l1 17l1 0l1-17l1 0l1-17l1 51l1-51l1-34l1 51l1 34l1-17l1 17l1-51l1 51l1-34l1 34l1-34l1-17l1 0l1 34l1 0l1 0l1-34l1 51l1-34l1-68l1 17l1 51l1 0l1 34l1-34l1 0l1 0l1-51l1 51l1 34l1-34l1-51l1 0l1 68l1-17l1 17l1-34l1-17l1 17l1-17l1 17l1 17l1-17l1 17l1 0l1-34l1 51l1 0l1-34l1 0l1-51l1 0l1 68l1 17l1 0l1-17l1-17l1-51l1 68l1 34l1-17l1-34l1 17l1 0l1 17l1-17l1 0l1 0l1 0l1-51l1 85l1-34l1 0l1-34l1 68l1-17l1-51l1-34l1 85l1-17l1 0l1 0l1-34l1 17l1 34l1 17l1-17l1 17l1-34l1 17l1-51l1 0l1 34l1 34l1-119l1 119l1-17l1-34l1 34l1-17l1 0" fill="none" stroke="#f08a8a" stroke-width="4.0" vector-effect="non-scaling-stroke" stroke-linejoin="round" stroke-linecap="round"/>
<path transform="translate(1773.90 295.85) scale(0.38375 0.5)" d="M0-30l4 0l4 0l4 1l4 2l4 0l4-1l4-1l4-1l4 1l4 1l4 0l4-1l4-1l4-2l4-1l4 1l4 3l4 2l4 0l4-1l4-1l4-2l4-2l4 0l4 0l4 1l4 1l4-1l4-1l4-1l4 0l4 0l4 0l4 0l4 0l4 1l4 2l4 1l4 0l4 0l4 0l4 0l4-1l4-1l4-2l4-1l4 0l4 1l4 2l4 2l4 0l4-3l4-3l4-3l4 0l4 2l4 2l4 2l4 2l4 1l4 0l4 0l4 0l4 0l4 0l4-1l4-1l4 0l4-1l4-1l4-1l4-2l4-1l4-2l4-1l4-1l4-1l4-3l4-4l4-5l4-6l4-7l4-7l4-5l4-4l4-5l4-8l4-10l4-10l4-9l4-11l4-11l4-12l4-10l4-8l4-8l4-11l4-20l4-29l4-37l4 23l4 21l4 20l4 18l4 14l4 10l4 10l4 13l4 17l4 16l4 14l4 9l4 7l4 5l4 6l4 7l4 7l4 6l4 4l4 4l4 1l4 1l4 0l4 1l4 1l4 0l4 0l4 0l4 2l4 4l4 4l4 3l4 2l4 1l4-1l4 1l4 1l4 1l4 1l4-1l4-1l4 0l4 1l4 1l4 1l4-2l4-2l4-2l4 1l4 1l4 1l4-1l4-1l4-1l4-2l4-1l4 0l4 0l4 1l4 1l4 0l4 0l4 1l4 1l4 1l4 1l4 1l4 1l4 1l4 1l4 2l4 1l4 0l4-1l4-1l4 0l4-1l4-1l4-2l4-1l4-1l4-1l4-1l4-1l4 0l4 0l4 0l4 1l4 1l4 2l4 1l4 0l4-1l4 0l4 1l4 0l4 1l4 0l4 0l4 0" fill="none" stroke="#e31a1c" stroke-width="3.6" vector-effect="non-scaling-stroke" stroke-linejoin="round"/>
<path transform="translate(1773.90 295.85) scale(0.38375 0.5)" d="M0-37l2 1l2-5l2 6l2 0l2-3l2-3l2 2l2-2l2 2l2 0l2 0l2 2l2-1l2-1l2-1l2 1l2 0l2-1l2-1l2 3l2 1l2-3l2-1l2 1l2 2l2-2l2 1l2-1l2 2l2 0l2-1l2 5l2 1l2-3l2-1l2 0l2 5l2-4l2-2l2-3l2 3l2 1l2 1l2-2l2-6l2 7l2-3l2 3l2-1l2-3l2 1l2 4l2 0l2-4l2 2l2 2l2-1l2-1l2-2l2 3l2-1l2 2l2 0l2 0l2-2l2 1l2-2l2 2l2 3l2-4l2 0l2 3l2-4l2 1l2 0l2 1l2-4l2 3l2 4l2-5l2 2l2-1l2-5l2 4l2-1l2 0l2 6l2-3l2-3l2 0l2 3l2-2l2 1l2 1l2-3l2-3l2 2l2 4l2 1l2-3l2-1l2 0l2 1l2 4l2-5l2 0l2 1l2 1l2 1l2-1l2 0l2-2l2 2l2-1l2-1l2 1l2 1l2 3l2-3l2-2l2 0l2 2l2 1l2-2l2 1l2-2l2 1l2 3l2-3l2 0l2 0l2 1l2-3l2 2l2-2l2 1l2 2l2-1l2 1l2 0l2 0l2 1l2-4l2 1l2-2l2 3l2 1l2 0l2 0l2-2l2 2l2 1l2 0l2-5l2 1l2 0l2 2l2-1l2 1l2-1l2 4l2-3l2 2l2 1l2-3l2 0l2 3l2 1l2-3l2 0l2-2l2 1l2 2l2-1l2-4l2 1l2 3l2 1l2 0l2 0l2-1l2 2l2-2l2 1l2-3l2 0l2 4l2-4l2-1l2 3l2 4l2-4l2 2l2-4l2 1l2 0l2-8l2-13l2-18l2-10l2 10l2 20l2 14l2 8l2-3l2-2l2 0l2 5l2-1l2-6l2 6l2-2l2 0l2 2l2-2l2 1l2-2l2 2l2-2l2 2l2-1l2 0l2 1l2 1l2-1l2 0l2 0l2 0l2 0l2 0l2-1l2 4l2-1l2-2l2-4l2 5l2-1l2 0l2 1l2-2l2-1l2-1l2 0l2 3l2-1l2 1l2 0l2 2l2-4l2 0l2 2l2-1l2 1l2-1l2 5l2-3l2-2l2 2l2-3l2 2l2-2l2 0l2 0l2 0l2-1l2 4l2-1l2-1l2 3l2 0l2 0l2-2l2 0l2 0l2-3l2 4l2 1l2-2l2-2l2 2l2-1l2 2l2 1l2-5l2 2l2-1l2 2l2-1l2 3l2-2l2 0l2 0l2-2l2 4l2-4l2 1l2 1l2 1l2 0l2-3l2 5l2-3l2-2l2-2l2 4l2 2l2-1l2-4l2 2l2 0l2 1l2 2l2-2l2-1l2 0l2 1l2-1l2 0l2 1l2-2l2 2l2 0l2 0l2-3l2 5l2 0l2-4l2 5l2-4l2 2l2 0l2-2l2 1l2 0l2 1l2 0l2 0l2 0l2-2l2-2l2 2l2 2l2 0l2 0l2 0l2-2l2-1l2 0l2 3l2 2l2-6l2 2l2 0l2-1l2 0l2-1l2 4l2-3l2 1l2-3l2 2l2 0l2 4l2-1l2 3l2-1l2-4l2 1l2-1l2 1l2 0l2 1l2-3l2 3l2-3l2 1l2 1l2 1l2-1l2-2l2-1l2 5l2-2l2 2l2-2l2 0l2 1l2 2l2-3l2-1l2 3l2-3l2-2l2 2l2 3l2-4l2 5l2-6l2 6l2-4" fill="none" stroke="#808080" stroke-width="5.0" vector-effect="non-scaling-stroke" stroke-linejoin="round"/>
<path transform="translate(1773.90 295.85) scale(0.38375 0.5)" d="M0-39l3-1l3 0l3 1l3 0l3 1l3 0l3 0l3 0l3-1l3 0l3 0l3 0l3 0l3 1l3 0l3 0l3-1l3 0l3 0l3 1l3 1l3 0l3 0l3 0l3-1l3 0l3 0l3 1l3 0l3 0l3 0l3-1l3 0l3-1l3 0l3 0l3 1l3 0l3 0l3 0l3 0l3 0l3 0l3 0l3 1l3 0l3-1l3 0l3 0l3 0l3 0l3 0l3 0l3 0l3 0l3 0l3 0l3 1l3 0l3 0l3 0l3-1l3-1l3 0l3 0l3 0l3 0l3 0l3 0l3 0l3 0l3 0l3 1l3 0l3-1l3 0l3 0l3 0l3 1l3 0l3 0l3 1l3 0l3-1l3 0l3 0l3 0l3 0l3 0l3 0l3 0l3 0l3 0l3 0l3 0l3 0l3 0l3 0l3-1l3 0l3 1l3 0l3 0l3 0l3 0l3 1l3 0l3-1l3-1l3 0l3-1l3 1l3 1l3 1l3 0l3 0l3-1l3 0l3 0l3 0l3 0l3 0l3 0l3 0l3 0l3-1l3 0l3 1l3 0l3-1l3-6l3-15l3-13l3 3l3 15l3 12l3 4l3 0l3 0l3 0l3 0l3 0l3 0l3 0l3 0l3 1l3 0l3 0l3 0l3 0l3 0l3 0l3 0l3 0l3 1l3 0l3 0l3 0l3 0l3 0l3 0l3 0l3-1l3 0l3 0l3 0l3 0l3 0l3 0l3 0l3 0l3 0l3 0l3 0l3 0l3 0l3 0l3 0l3 1l3 0l3 0l3 0l3 0l3 0l3 0l3 0l3-1l3 0l3 0l3 0l3-1l3 0l3 1l3 0l3 0l3 0l3 0l3 0l3 0l3 0l3 1l3-1l3 0l3 0l3 0l3 1l3 0l3 0l3-1l3 0l3-1l3 0l3 0l3 0l3 0l3 0l3 0l3 0l3 1l3 0l3 1l3-1l3 0l3 0l3 0l3-1l3 0l3 0l3 1l3 0l3 1l3 0l3-1l3 0l3 0l3 0l3-1l3 0l3 0l3 0l3 1l3 0l3 0l3 0l3 0l3 0l3 0l3 0l3 0l3 0l3 0l3 0l3 0l3 0l3 0l3 0l3 0l3-1l3 0l3 1l3 0l3 0l3 0l3-1l3 0l3 1" fill="none" stroke="#000000" stroke-width="3.5" vector-effect="non-scaling-stroke" stroke-linejoin="round"/>
<rect x="1914.93" y="286.85" width="24.94" height="9.00" fill="#ff0099"/>
</g>
<path d="M1812.28 42.05v8.3M1812.28 295.85v-8.3M1850.65 42.05v16.8M1850.65 295.85v-16.8M1889.03 42.05v8.3M1889.03 295.85v-8.3M1927.40 42.05v16.8M1927.40 295.85v-16.8M1965.78 42.05v8.3M1965.78 295.85v-8.3M2004.15 42.05v16.8M2004.15 295.85v-16.8M2042.53 42.05v8.3M2042.53 295.85v-8.3M1773.90 294.25h16.5M2080.90 294.25h-16.5M1773.90 232.40h16.5M2080.90 232.40h-16.5M1773.90 168.95h16.5M2080.90 168.95h-16.5M1773.90 105.50h16.5M2080.90 105.50h-16.5" stroke="#000" stroke-width="2" fill="none"/>
<rect x="1773.90" y="42.05" width="307.00" height="253.80" fill="none" stroke="#000" stroke-width="3.1"/>
<text x="1757.60" y="302.35" class="tl" text-anchor="end">0.000</text>
<text x="1757.60" y="238.90" class="tl" text-anchor="end">0.002</text>
<text x="1757.60" y="175.45" class="tl" text-anchor="end">0.004</text>
<text x="1757.60" y="112.00" class="tl" text-anchor="end">0.006</text>
<text x="1757.60" y="48.55" class="tl" text-anchor="end">0.008</text>
<text x="1928.40" y="21.70" class="tt" text-anchor="middle">SP1 (n = 4,761)</text>
<clipPath id="c5"><rect x="113.25" y="370.30" width="307.00" height="253.80"/></clipPath>
<g clip-path="url(#c5)">
<path transform="translate(113.25 624.10) scale(0.38375 0.5)" d="M0-108l1 108l1-36l1 36l1-72l1 0l1 72l1-72l1 0l1-72l1 36l1 72l1-36l1 72l1-108l1 108l1-216l1 180l1-36l1 72l1-72l1 36l1 0l1 36l1 0l1-72l1-36l1 0l1 0l1 108l1-36l1-36l1 36l1-72l1 36l1-36l1 0l1 108l1-36l1 0l1 36l1-36l1 0l1 0l1 0l1 36l1-108l1 108l1-144l1 72l1 72l1-72l1 72l1 0l1 0l1-72l1 36l1 36l1-36l1-72l1-215l1 287l1-108l1 108l1 36l1 0l1 0l1-36l1-36l1 0l1 72l1 0l1-36l1 0l1 0l1 36l1-36l1 36l1-36l1 0l1 0l1-36l1 0l1 36l1-36l1 72l1-108l1 108l1-36l1-108l1 144l1 0l1-36l1-36l1 72l1-36l1-36l1 36l1 0l1 0l1 0l1-36l1-36l1 108l1 0l1 0l1-36l1 0l1 36l1-36l1 36l1 0l1-36l1 0l1 0l1 36l1-216l1 144l1 72l1-36l1-108l1 108l1 0l1-36l1 0l1 72l1 0l1-180l1 180l1-36l1 36l1 0l1-36l1 36l1 0l1 0l1 0l1 0l1-72l1 72l1-108l1 36l1 36l1 0l1 0l1 0l1-72l1 108l1 0l1-72l1 72l1-36l1 36l1 0l1-36l1-36l1 36l1-108l1 108l1 0l1-108l1 144l1-108l1 72l1 0l1 36l1 0l1-108l1 72l1 36l1-36l1 36l1-180l1 180l1-36l1 0l1-36l1 72l1-36l1-36l1 36l1 0l1 0l1-36l1 0l1-36l1 36l1 0l1 72l1-36l1-36l1 36l1-108l1 144l1-108l1 0l1 72l1-36l1 0l1 0l1-182l1 182l1 36l1 36l1-36l1 0l1-72l1 108l1-36l1 36l1-180l1 144l1-36l1-36l1 108l1-36l1-72l1 36l1 0l1-36l1 72l1 36l1-36l1-72l1 0l1-36l1 72l1 72l1-72l1 36l1 36l1 0l1 0l1-36l1-72l1 72l1 0l1-36l1-36l1 36l1 72l1-36l1-36l1 72l1-72l1 0l1 36l1 36l1-216l1 108l1 108l1-36l1 36l1 0l1-180l1 180l1-108l1 108l1-36l1 0l1 0l1-36l1 0l1 0l1 36l1-36l1 72l1-36l1 0l1 0l1-72l1 36l1 36l1 0l1 36l1-108l1 36l1 36l1-36l1 36l1 0l1-36l1 72l1-144l1 108l1-36l1 72l1-72l1 72l1-36l1 0l1-36l1 0l1 72l1-72l1 36l1 36l1 0l1-36l1 0l1 0l1 0l1-72l1 108l1-216l1 108l1 108l1 0l1-72l1 36l1-36l1 0l1 36l1-36l1 72l1-144l1 144l1-144l1 108l1-108l1 72l1 36l1-215l1 143l1 36l1 0l1 36l1-36l1-36l1 0l1 0l1 0l1 36l1-72l1 108l1-36l1 0l1-72l1-36l1 108l1 36l1-144l1-36l1 72l1-72l1 108l1 36l1 0l1-108l1-36l1 180l1-72l1 108l1-36l1-251l1 179l1-36l1 36l1-179l1 215l1-251l1 72l1 107l1 108l1-215l1 107l1 72l1-72l1 36l1-36l1 36l1 36l1-108l1 180l1-72l1-309l1 237l1 144l1-359l1 143l1 180l1-144l1 144l1-144l1-198l1-60l1 294l1-36l1 108l1-72l1 36l1-251l1 108l1 107l1 72l1-401l1 329l1-234l1 306l1-72l1-234l1 91l1 143l1-317l1 389l1-306l1 91l1 107l1 0l1 108l1-343l1 92l1 215l1-72l1 72l1 36l1-108l1 36l1 36l1 36l1-297l1 225l1 72l1-108l1 36l1 36l1-251l1 323l1-342l1 55l1 251l1-72l1 36l1 0l1-215l1 12l1 203l1 0l1 36l1-36l1 72l1 0l1-72l1 0l1 36l1-179l1 71l1-36l1 108l1-108l1 216l1-108l1 0l1-143l1 215l1-108l1 108l1-108l1 108l1-180l1 180l1-180l1 144l1 0l1-36l1-36l1 0l1 144l1-108l1 0l1 36l1-144l1-35l1 215l1-72l1 72l1-72l1-108l1 216l1-36l1-108l1 108l1-72l1 36l1-108l1 144l1-36l1-108l1 72l1 0l1 0l1-36l1 36l1-36l1 72l1 0l1 0l1 0l1 0l1 36l1-36l1-72l1 36l1 108l1-36l1-108l1 108l1-36l1-36l1 108l1-144l1 108l1-108l1 0l1-107l1 143l1-36l1 108l1-36l1 72l1-144l1 108l1-36l1 36l1 0l1-251l1 251l1 36l1 0l1-36l1-229l1 157l1 36l1 36l1 0l1-72l1 72l1 0l1-251l1 215l1-108l1 180l1-72l1 0l1-36l1-143l1 251l1-72l1 0l1 0l1 0l1 36l1-72l1 0l1 108l1-72l1 0l1 36l1-108l1-179l1 251l1-36l1-72l1 144l1 36l1 0l1 0l1-72l1-144l1 36l1 108l1 36l1 0l1-36l1 36l1-36l1 0l1-72l1 144l1-72l1 36l1-36l1-36l1-72l1 144l1-144l1 108l1 72l1-72l1 0l1 36l1-72l1 72l1-108l1 72l1 72l1-72l1-36l1 36l1 0l1 0l1-72l1 144l1-180l1 180l1-36l1 36l1-108l1 72l1 0l1-36l1 0l1 36l1 0l1-72l1 0l1 72l1 36l1-72l1 0l1 72l1 0l1-180l1 180l1 0l1-36l1-36l1 36l1 0l1 36l1-36l1 0l1 36l1-108l1 36l1 36l1 0l1-36l1-36l1 36l1 0l1-36l1 72l1 36l1-72l1 0l1 72l1 0l1-216l1 180l1 0l1-108l1 72l1 0l1-36l1 72l1 0l1-36l1 72l1-180l1 180l1-108l1 72l1-36l1 72l1-108l1 108l1-108l1 72l1 0l1 0l1-108l1 36l1 72l1 0l1 36l1-180l1 180l1-216l1 72l1 72l1 72l1-108l1 108l1-36l1-72l1 0l1-36l1 72l1 36l1-299l1 299l1 0l1 36l1-36l1-36l1 72l1-36l1 36l1-36l1 36l1-216l1 108l1 72l1-36l1 36l1-144l1 144l1 0l1 0l1-275l1 311l1-36l1-72l1 108l1-144l1 144l1-72l1 36l1 36l1 0l1-36l1-144l1 144l1-72l1-108l1 180l1 0l1-108l1 36l1 72l1 36l1-36l1-108l1 144l1-36l1 36l1-72l1 0l1 36l1-72l1 72l1 0l1 0l1-36l1 72l1-72l1-36l1 108l1-36l1-144l1 144l1 0l1 0l1 0l1 36l1 0l1-72l1 36l1-36l1 0l1-36l1-36l1 72l1 36l1-72l1-36l1 144l1-72l1 72l1 0l1 0l1-36l1 36l1-180l1 108l1 72l1-144l1 72l1-36l1 36l1 72l1-144l1 108l1 36l1-72l1-72l1 144l1-72l1 72l1 0l1 0l1 0l1-36l1-36l1 36l1 0l1 36l1-36l1 36l1-36" fill="none" stroke="#f08a8a" stroke-width="4.0" vector-effect="non-scaling-stroke" stroke-linejoin="round" stroke-linecap="round"/>
<path transform="translate(113.25 624.10) scale(0.38375 0.5)" d="M0-44l4 0l4-1l4 0l4-1l4 1l4 0l4 1l4 1l4 1l4 1l4 2l4 1l4 1l4 1l4 1l4 0l4 1l4 0l4-1l4 0l4-1l4 0l4 0l4 0l4 1l4 0l4-1l4 0l4-1l4-1l4 1l4 2l4 1l4 0l4 0l4-1l4-1l4-1l4-1l4-1l4 0l4 0l4-1l4-1l4-1l4-1l4-1l4-1l4 1l4 0l4 0l4-1l4 0l4-1l4 1l4 0l4 1l4 1l4 0l4 0l4 0l4 0l4 0l4 0l4 0l4 0l4 0l4-1l4 0l4-1l4 0l4 0l4-2l4-2l4-3l4-5l4-5l4-6l4-6l4-7l4-7l4-7l4-7l4-8l4-7l4-8l4-7l4-7l4-7l4-5l4-5l4-5l4-6l4-6l4-8l4-7l4-7l4-6l4-4l4-2l4 0l4 3l4 3l4 4l4 4l4 4l4 6l4 7l4 8l4 8l4 7l4 6l4 5l4 6l4 5l4 5l4 5l4 5l4 4l4 4l4 4l4 3l4 4l4 3l4 3l4 2l4 1l4 1l4 2l4 2l4 2l4 1l4 1l4 0l4 0l4 1l4 1l4 0l4 2l4 1l4 2l4 2l4 2l4 2l4 1l4 1l4 2l4 1l4 2l4 3l4 2l4 3l4 2l4 2l4 2l4 1l4 0l4 0l4-2l4-1l4-2l4 0l4-1l4 0l4 0l4 0l4 0l4-1l4 0l4 1l4 1l4 2l4 2l4 1l4 0l4 0l4-1l4 0l4-1l4-1l4-1l4 1l4 0l4 2l4 1l4 1l4 0l4-1l4-1l4 0l4-1l4 0l4 0l4 1l4 2l4 2l4 3l4 3l4 2l4 1" fill="none" stroke="#e31a1c" stroke-width="3.6" vector-effect="non-scaling-stroke" stroke-linejoin="round"/>
<path transform="translate(113.25 624.10) scale(0.38375 0.5)" d="M0-58l2 2l2-3l2-2l2 1l2-4l2 1l2 5l2-9l2 4l2 0l2 3l2 1l2-4l2-1l2-2l2 2l2 5l2-5l2 1l2 0l2 6l2 0l2-6l2-4l2 5l2 0l2 3l2-5l2 6l2-10l2 8l2 1l2-1l2 3l2-6l2 7l2-7l2 3l2 0l2 0l2-3l2 2l2-4l2 8l2-2l2-2l2 2l2-1l2 1l2 1l2 3l2-9l2 6l2-2l2-4l2-2l2 9l2 2l2 1l2-7l2-2l2-2l2 2l2 1l2-2l2 5l2 3l2-4l2-6l2 4l2-2l2 1l2-3l2 1l2 6l2-3l2 4l2-4l2 0l2 0l2-1l2 4l2-2l2 3l2-1l2-2l2 1l2 2l2-4l2-2l2 4l2-4l2-1l2 1l2 0l2 3l2 2l2-3l2-4l2-2l2 5l2 2l2-3l2-1l2 4l2 3l2-4l2 0l2 2l2-4l2 3l2-8l2 7l2-3l2 1l2 7l2 0l2-2l2 0l2-5l2 2l2 1l2-2l2 3l2 2l2 0l2-5l2 0l2 3l2 4l2-5l2-5l2 7l2 4l2-3l2-4l2 2l2 0l2 0l2-1l2-1l2-1l2 2l2-4l2 8l2-3l2 1l2-5l2 0l2 5l2-4l2-3l2 8l2-4l2-2l2-1l2-2l2 3l2 1l2 3l2 0l2-2l2 6l2-2l2-5l2 1l2 5l2-6l2 2l2-2l2 2l2 2l2 2l2-4l2 1l2-5l2 3l2 0l2 0l2 3l2-3l2 5l2-5l2-1l2 3l2-1l2-1l2 2l2-5l2 1l2 1l2 3l2 3l2-6l2 2l2-5l2-2l2-5l2-13l2-4l2 10l2 7l2 9l2-1l2 1l2 1l2 9l2-5l2-7l2 5l2-2l2 3l2-3l2 2l2-6l2 11l2 5l2-5l2-6l2 3l2 0l2-4l2-1l2 3l2-1l2 3l2 1l2-3l2-3l2 2l2 0l2 1l2 0l2 0l2 2l2 0l2-2l2 1l2 0l2 2l2-2l2-2l2 1l2-2l2 1l2 1l2-6l2 9l2-3l2-2l2-3l2 2l2 1l2 3l2-3l2 2l2 0l2 7l2-3l2-2l2 1l2-1l2-1l2-3l2-1l2 1l2 3l2 0l2-2l2 3l2 0l2-2l2-3l2-3l2 8l2 1l2-4l2-1l2 7l2-6l2 2l2 0l2 3l2 0l2-7l2 2l2-3l2 6l2-2l2 0l2-4l2 3l2 0l2-1l2-2l2 11l2-8l2-2l2 7l2-2l2 2l2-2l2-3l2 1l2-3l2 4l2-1l2 0l2 1l2-4l2 4l2-1l2-3l2 3l2 6l2-3l2 1l2-2l2 1l2-4l2 0l2 1l2-3l2 2l2-2l2-1l2 1l2 4l2 0l2-6l2-1l2 7l2 7l2-9l2-2l2 2l2 1l2 2l2-6l2 5l2-6l2 7l2-1l2 3l2-2l2 1l2 1l2-9l2-2l2 12l2-4l2 2l2-1l2 1l2-1l2-4l2 2l2 2l2-2l2-3l2 0l2 6l2-2l2 1l2-5l2 1l2 3l2 1l2 1l2-5l2-1l2-2l2 4l2 2l2-1l2 0l2 4l2-3l2-3l2 0l2 1l2 7l2-7l2-2l2 5l2 3l2-7l2-2l2 6l2-2l2 3l2-1l2 0l2-3l2-2l2 2l2 1l2 0l2 0l2-6" fill="none" stroke="#808080" stroke-width="5.0" vector-effect="non-scaling-stroke" stroke-linejoin="round"/>
<path transform="translate(113.25 624.10) scale(0.38375 0.5)" d="M0-59l3-1l3 0l3-1l3 0l3-1l3 0l3 0l3 0l3-1l3 0l3 0l3 1l3 0l3 0l3 0l3 0l3 0l3 0l3 0l3 0l3 1l3-1l3 0l3 1l3-1l3 0l3 0l3 0l3 1l3 0l3 0l3 0l3 0l3 0l3 0l3 0l3 1l3-1l3 0l3 0l3 0l3 0l3 0l3-1l3 0l3 0l3 1l3 0l3 0l3-1l3-1l3 1l3 0l3 1l3 0l3 0l3 0l3-1l3 0l3 0l3 1l3-1l3 0l3 0l3 0l3 0l3 0l3 0l3 0l3 1l3 0l3-1l3-1l3 0l3 0l3 0l3 1l3 1l3-1l3 0l3 0l3 0l3 0l3 0l3 0l3 0l3 2l3 0l3-1l3 0l3 0l3 0l3 0l3 0l3 0l3 0l3 0l3 0l3 0l3 0l3 0l3 0l3 0l3 0l3 0l3 0l3 1l3 0l3 0l3-1l3 0l3 1l3-1l3 0l3-1l3 1l3 0l3 0l3 0l3 0l3 0l3 0l3 0l3 1l3 0l3 0l3-1l3-1l3-1l3 0l3-2l3-5l3-5l3 1l3 6l3 5l3 2l3 0l3 0l3-1l3 1l3 0l3 1l3 0l3 0l3 0l3-1l3-1l3-1l3 1l3 0l3 0l3 0l3 0l3 1l3 0l3 0l3 0l3 0l3 0l3 0l3-1l3 0l3 0l3 1l3 0l3 0l3-1l3 0l3 0l3 0l3 0l3 0l3 0l3 0l3 0l3 0l3 1l3 0l3 1l3 0l3 0l3 0l3 0l3 0l3-1l3-1l3 0l3 0l3 1l3 0l3 0l3 1l3 0l3-1l3-1l3 0l3 0l3-1l3 0l3 0l3 0l3 1l3 1l3 0l3 0l3 0l3 1l3-1l3-1l3 1l3 0l3 0l3 1l3 0l3-1l3-1l3 0l3 1l3 1l3 0l3 0l3-1l3 0l3-1l3 1l3 0l3-1l3 0l3 0l3 0l3 0l3 0l3 0l3-1l3 0l3 0l3 1l3 0l3 0l3 0l3 0l3 0l3-1l3 0l3 1l3 1l3 0l3 0l3 1l3-1l3 0l3-1l3-1l3 0l3 0l3 0l3 0l3 0l3 1l3 0l3 0l3-1l3 0l3 1l3 1" fill="none" stroke="#000000" stroke-width="3.5" vector-effect="non-scaling-stroke" stroke-linejoin="round"/>
<rect x="254.28" y="615.10" width="24.94" height="9.00" fill="#ff0099"/>
</g>
<path d="M151.62 370.30v8.3M151.62 624.10v-8.3M190.00 370.30v16.8M190.00 624.10v-16.8M228.38 370.30v8.3M228.38 624.10v-8.3M266.75 370.30v16.8M266.75 624.10v-16.8M305.12 370.30v8.3M305.12 624.10v-8.3M343.50 370.30v16.8M343.50 624.10v-16.8M381.88 370.30v8.3M381.88 624.10v-8.3M113.25 622.50h16.5M420.25 622.50h-16.5M113.25 508.74h16.5M420.25 508.74h-16.5M113.25 393.37h16.5M420.25 393.37h-16.5" stroke="#000" stroke-width="2" fill="none"/>
<rect x="113.25" y="370.30" width="307.00" height="253.80" fill="none" stroke="#000" stroke-width="3.1"/>
<text x="96.95" y="630.60" class="tl" text-anchor="end">0.000</text>
<text x="96.95" y="515.24" class="tl" text-anchor="end">0.002</text>
<text x="96.95" y="399.87" class="tl" text-anchor="end">0.004</text>
<text x="267.75" y="349.95" class="tt" text-anchor="middle">E2F1 (n = 4,111)</text>
<clipPath id="c6"><rect x="528.25" y="370.30" width="307.00" height="253.80"/></clipPath>
<g clip-path="url(#c6)">
<path transform="translate(528.25 624.10) scale(0.38375 0.5)" d="M0-94l1 94l1-47l1 47l1-47l1 0l1 0l1 0l1-140l1 93l1 94l1-47l1 47l1-140l1 140l1 0l1 0l1-234l1 140l1 94l1-94l1 0l1 0l1 47l1 0l1-93l1 93l1 47l1-94l1-93l1 93l1 94l1-94l1 94l1-94l1 47l1 47l1 0l1 0l1-140l1-47l1 47l1 93l1 47l1 0l1 0l1-234l1 94l1 46l1 0l1 47l1-47l1 94l1-140l1 93l1 0l1 47l1-47l1-93l1-141l1 141l1 46l1 94l1-187l1 47l1 46l1 47l1 47l1 0l1 0l1-140l1-47l1 93l1 47l1 47l1-94l1 94l1-140l1 140l1 0l1 0l1 0l1 0l1-47l1 0l1 0l1 0l1 0l1-47l1 94l1-140l1 93l1 0l1-140l1 187l1 0l1-47l1 0l1-47l1 47l1 0l1-47l1 0l1 47l1 47l1-94l1 47l1-187l1 187l1 47l1-94l1 94l1-47l1-47l1-46l1 140l1-94l1 94l1-47l1 47l1 0l1 0l1-187l1 187l1-47l1 47l1-94l1 94l1 0l1-187l1 187l1-94l1-46l1 93l1-47l1 47l1 47l1-47l1 0l1 47l1 0l1-47l1-47l1 47l1-47l1 47l1-47l1-46l1 140l1-47l1 47l1 0l1-94l1 47l1-47l1-140l1-47l1 281l1 0l1-94l1 47l1-93l1 93l1 0l1-93l1 93l1 0l1-93l1 140l1-94l1-153l1 60l1 47l1 140l1-47l1 47l1 0l1 0l1-94l1 94l1-47l1 47l1-47l1 47l1-47l1 47l1-94l1 47l1-47l1 47l1 0l1 0l1-47l1 0l1 47l1 0l1 0l1 0l1-47l1 47l1 0l1-93l1 93l1 47l1 0l1-47l1 47l1 0l1-47l1 0l1 47l1-94l1-93l1 140l1-47l1 94l1 0l1-47l1 0l1-328l1 281l1 47l1 0l1 47l1-94l1 94l1-140l1 46l1 47l1-47l1-46l1 93l1-234l1 281l1 0l1 0l1 0l1-47l1 0l1 47l1-140l1 140l1-47l1-47l1-46l1 93l1-47l1 47l1 47l1-94l1-153l1 200l1 0l1-93l1 93l1-140l1 140l1-47l1 94l1-47l1 47l1 0l1-47l1 0l1 0l1-47l1 94l1-328l1 281l1 47l1-47l1 47l1-47l1 0l1 0l1 0l1 0l1-140l1 0l1 140l1-47l1 0l1 47l1-140l1 187l1-140l1 93l1-93l1 46l1 47l1 0l1 0l1 47l1-47l1 47l1-47l1-47l1 0l1-93l1 140l1-187l1 234l1 0l1 0l1-94l1-187l1 234l1 0l1-140l1 47l1 140l1 0l1-94l1-46l1-141l1 94l1 140l1-234l1 0l1 47l1 94l1 140l1-140l1-47l1 140l1-187l1 140l1 94l1 0l1 0l1-348l1 208l1 46l1 47l1-47l1-140l1 0l1 0l1 140l1-46l1-188l1 47l1 187l1 47l1-93l1-339l1 385l1-140l1 94l1 140l1-281l1 187l1 0l1-140l1 140l1-93l1 93l1-187l1 94l1 0l1 93l1-140l1 47l1 93l1 47l1 47l1-234l1 94l1-47l1-141l1-78l1 219l1 93l1-93l1 47l1-295l1 435l1-234l1 234l1-187l1 140l1-47l1 94l1-94l1 0l1-234l1 328l1-406l1 359l1-93l1-47l1-94l1-212l1 399l1-93l1 187l1-187l1-47l1-172l1 219l1 47l1-235l1 328l1-47l1-140l1-274l1 180l1 188l1-47l1-141l1-180l1 368l1 46l1-140l1 187l1 0l1-93l1-266l1 78l1 94l1 94l1 0l1 46l1-187l1-94l1-46l1 421l1-281l1 141l1 93l1-93l1-141l1 94l1 47l1 93l1-140l1 93l1 47l1-187l1 140l1-356l1 356l1 47l1-47l1-46l1 46l1-187l1 187l1-46l1-141l1 234l1-93l1 0l1 0l1 46l1 0l1 47l1-140l1 140l1-140l1-161l1 114l1 94l1-141l1-47l1-78l1 266l1 46l1-46l1 0l1 46l1 47l1-187l1 94l1 46l1-93l1 47l1 140l1-47l1-187l1 47l1 47l1-235l1 328l1-93l1 46l1 0l1-140l1 187l1-234l1 47l1 94l1 93l1 47l1-47l1-187l1 94l1-47l1-47l1 187l1-187l1 234l1-140l1 46l1-46l1-94l1 140l1-46l1 93l1 47l1 0l1-187l1 140l1-93l1 140l1-375l1 328l1-140l1 47l1-94l1 234l1 0l1-140l1 93l1-47l1 47l1 0l1-140l1 140l1-140l1 140l1 47l1 0l1-47l1-47l1 94l1-140l1 46l1 0l1-46l1 93l1 47l1-47l1 0l1 0l1 47l1-47l1-47l1 94l1-47l1 47l1-140l1 46l1 47l1 0l1-140l1 47l1 93l1 47l1 0l1-47l1-47l1 47l1 47l1-47l1 0l1 47l1-47l1 47l1-187l1 187l1 0l1 0l1-94l1 94l1-47l1-47l1 47l1 47l1-94l1 47l1-47l1 0l1-46l1 140l1-47l1-93l1 93l1 0l1 47l1-94l1 94l1 0l1 0l1-47l1 0l1 47l1 0l1-187l1 187l1-247l1 153l1 94l1 0l1 0l1-47l1 0l1 47l1-94l1 0l1-93l1 140l1-93l1 140l1 0l1-94l1-93l1 93l1 0l1-46l1 46l1 0l1 47l1-187l1 47l1 187l1-47l1 47l1-47l1 0l1 0l1-47l1-46l1 46l1-140l1 187l1-47l1 94l1 0l1 0l1-94l1 0l1 94l1 0l1-47l1 0l1-93l1 46l1 47l1 0l1-47l1 47l1 0l1 0l1 0l1 0l1-187l1 234l1-187l1 187l1-47l1-47l1 0l1-140l1 187l1-47l1 94l1-140l1 140l1 0l1-187l1 140l1-47l1 47l1-93l1 140l1-47l1 47l1 0l1-94l1 94l1 0l1-94l1-93l1 140l1 47l1-47l1-47l1 47l1 0l1 0l1 47l1-140l1 140l1-187l1 0l1 47l1 46l1 94l1-47l1 0l1-93l1 0l1 140l1-47l1-93l1 140l1-47l1 47l1-47l1-140l1 93l1 0l1 47l1 0l1 0l1-93l1 93l1-47l1-46l1-107l1 107l1-47l1 140l1 47l1-94l1 47l1-93l1 93l1-47l1 47l1-93l1 140l1-47l1 47l1 0l1 0l1-94l1 94l1-47l1-47l1-46l1 0l1 140l1-47l1 0l1 47l1 0l1-47l1-140l1 140l1-140l1 187l1-47l1 0l1 0l1 0l1 47l1-47l1 47l1-140l1-94l1 187l1 47l1-140l1 93l1 0l1 47l1 0l1-94l1 94l1 0l1 0l1-140l1 93l1-47l1 94l1 0l1-140l1 93l1 0l1 47l1 0l1-187l1 47l1 46l1 47l1 0l1 47l1 0l1 0l1 0l1 0l1-47l1 0l1 0l1-93l1 93l1-47l1 47l1 0" fill="none" stroke="#f08a8a" stroke-width="4.0" vector-effect="non-scaling-stroke" stroke-linejoin="round" stroke-linecap="round"/>
<path transform="translate(528.25 624.10) scale(0.38375 0.5)" d="M0-44l4-1l4-1l4-1l4-1l4-1l4-1l4-1l4-1l4-1l4-1l4-1l4-1l4-1l4 0l4 1l4 1l4 3l4 3l4 2l4 2l4 1l4 0l4-1l4-1l4 0l4 0l4 0l4 1l4 0l4 1l4 0l4 0l4 0l4-1l4-2l4-1l4-2l4-2l4-1l4 1l4 1l4 1l4 3l4 2l4 1l4 1l4 0l4 0l4-1l4 0l4-2l4-1l4-2l4-2l4-2l4-1l4 0l4 0l4 0l4-1l4 0l4-1l4-1l4-1l4 0l4-2l4-2l4-2l4-2l4-3l4-3l4-2l4-4l4-5l4-5l4-7l4-7l4-6l4-6l4-5l4-5l4-5l4-5l4-6l4-6l4-6l4-5l4-6l4-5l4-4l4-4l4-3l4-2l4-3l4-3l4-5l4-6l4-5l4-6l4-4l4-3l4 0l4 1l4 3l4 4l4 6l4 6l4 6l4 6l4 5l4 3l4 3l4 2l4 1l4 2l4 3l4 4l4 5l4 5l4 5l4 6l4 6l4 5l4 6l4 6l4 6l4 6l4 6l4 5l4 6l4 6l4 6l4 5l4 5l4 4l4 3l4 3l4 2l4 2l4 2l4 2l4 1l4 1l4 1l4 0l4 1l4 1l4 0l4 0l4-2l4-2l4-3l4-3l4-2l4-2l4 0l4 1l4 1l4 2l4 1l4 1l4-1l4 0l4-1l4 0l4 0l4 1l4 1l4 1l4 0l4 0l4-1l4-1l4-1l4-1l4-1l4-1l4 0l4 0l4 0l4 2l4 2l4 2l4 1l4 1l4 1l4 0l4 1l4 0l4 0l4 1l4 1l4 0l4 1l4 0l4 0l4 1l4 0l4 0l4 0" fill="none" stroke="#e31a1c" stroke-width="3.6" vector-effect="non-scaling-stroke" stroke-linejoin="round"/>
<path transform="translate(528.25 624.10) scale(0.38375 0.5)" d="M0-68l2-11l2 4l2 13l2-11l2-1l2-1l2 9l2 0l2-4l2 5l2-6l2 4l2 1l2-5l2-6l2 4l2 0l2 0l2 0l2 2l2 1l2-1l2 0l2-6l2 9l2 0l2-1l2-1l2 0l2-3l2 2l2-1l2-6l2 0l2 1l2 10l2-5l2 1l2 2l2-6l2 9l2 0l2-6l2 9l2-7l2-5l2 4l2 4l2-2l2 1l2 8l2-14l2 8l2-7l2 4l2-10l2 8l2 0l2-4l2 1l2 5l2 4l2 3l2 0l2-10l2 1l2 7l2-7l2 1l2 2l2 8l2-3l2-7l2 5l2-4l2-3l2-1l2-3l2 8l2-6l2 1l2 7l2-6l2 0l2-1l2 8l2-4l2 0l2 8l2-7l2 4l2-1l2-11l2-1l2 1l2 6l2 8l2-10l2 6l2-5l2-8l2 1l2 8l2 3l2-1l2-2l2 1l2-4l2-1l2 2l2 7l2-10l2 6l2 2l2 5l2-10l2 0l2-1l2-6l2 8l2 3l2-9l2 0l2 11l2 4l2-8l2 1l2 5l2-11l2 8l2-9l2 10l2-10l2-4l2 9l2 3l2-4l2 2l2 4l2 1l2-10l2 3l2 1l2 4l2-6l2 1l2 0l2-8l2 11l2 5l2-12l2 0l2 6l2 2l2 0l2-4l2 10l2-7l2 8l2-10l2 8l2-13l2 3l2 3l2 0l2-5l2-4l2 1l2 3l2 7l2-5l2-2l2 6l2-5l2 4l2 10l2-13l2 4l2 0l2-1l2-2l2-6l2 8l2 0l2-9l2 8l2 8l2-22l2 13l2 10l2-6l2-10l2 0l2 9l2-3l2-1l2-7l2-10l2-29l2-11l2 15l2 28l2 12l2 9l2-1l2 2l2 3l2-8l2 6l2-4l2-8l2 1l2 6l2 5l2-11l2 5l2-2l2 4l2-5l2 2l2 5l2-4l2 4l2 3l2-9l2 9l2-3l2-10l2 3l2 6l2-3l2 5l2-3l2-9l2 12l2 5l2-11l2 7l2-1l2-5l2-5l2 12l2-3l2-5l2-3l2 6l2 2l2-5l2 3l2-1l2 5l2 3l2-1l2-11l2 8l2-1l2 0l2-2l2-11l2 15l2-7l2 2l2-9l2 12l2-2l2 7l2-9l2-2l2 5l2-6l2 7l2-2l2 3l2 1l2 0l2-3l2-5l2-2l2 5l2-4l2 5l2-9l2 11l2-12l2 7l2-8l2 13l2-2l2 2l2 1l2 4l2-16l2 2l2 6l2-1l2-6l2 6l2-6l2 3l2 10l2-3l2 2l2-3l2 6l2 0l2-6l2-2l2-3l2 2l2 11l2-4l2-15l2 0l2-2l2 8l2 3l2 3l2 5l2-10l2-1l2-8l2 11l2-3l2 13l2-11l2 3l2-1l2 2l2-2l2 5l2 6l2-18l2 3l2 6l2-8l2 6l2-9l2 1l2 4l2-3l2 3l2 8l2-3l2-7l2 7l2 0l2 10l2-9l2 0l2-1l2 0l2 2l2-4l2-8l2 3l2 9l2 11l2-9l2 5l2-5l2 0l2-1l2-13l2 0l2 2l2 0l2 2l2 3l2-9l2 18l2 4l2-15l2 2l2-2l2 4l2 1l2-3l2 1l2-1l2 5l2-6l2-7l2 10l2 1l2-1l2-9l2 5l2 3l2-2l2-9l2 7l2 12l2-2l2-4l2-13l2 19l2-7l2-3l2 9l2-4" fill="none" stroke="#808080" stroke-width="5.0" vector-effect="non-scaling-stroke" stroke-linejoin="round"/>
<path transform="translate(528.25 624.10) scale(0.38375 0.5)" d="M0-70l3 0l3-1l3 0l3 0l3 0l3 0l3 0l3 1l3 1l3-1l3-1l3 1l3 1l3 0l3-1l3 1l3 1l3 0l3-1l3-1l3 0l3 0l3 0l3-1l3 1l3 1l3 0l3 0l3 0l3-1l3 1l3 0l3 0l3 0l3 0l3 0l3-1l3 1l3 0l3 0l3 0l3-1l3-2l3-1l3 0l3 1l3 1l3 1l3 0l3 0l3 0l3 0l3 1l3 0l3 1l3 1l3 0l3-1l3 0l3-1l3-1l3 0l3 0l3 0l3 0l3 1l3 0l3 1l3 0l3 0l3 0l3-1l3 0l3 0l3 0l3 1l3 0l3-1l3 0l3-1l3 1l3 0l3 0l3 1l3 0l3 0l3-1l3 0l3-1l3-1l3 1l3 0l3 1l3 0l3 1l3 0l3-1l3 0l3 0l3 0l3 1l3 0l3 1l3 0l3 0l3 0l3-1l3 0l3 0l3 0l3-2l3-1l3 0l3 1l3 1l3 0l3 0l3-1l3-1l3 0l3 1l3 1l3 0l3 0l3 0l3 0l3 0l3 0l3 1l3-2l3-5l3-13l3-10l3 3l3 12l3 9l3 3l3 2l3 0l3 0l3 0l3-1l3 0l3-1l3 0l3 0l3 2l3 1l3 0l3-1l3 0l3 0l3 0l3 0l3 0l3 0l3-1l3 0l3-1l3 0l3-1l3-1l3-1l3 0l3 1l3 1l3 2l3 0l3 0l3-1l3 0l3 0l3 0l3 1l3 0l3 0l3 1l3 1l3 1l3 0l3-1l3 0l3-1l3 0l3-1l3 0l3 1l3 0l3-1l3 0l3 1l3 0l3 0l3 0l3 1l3 1l3 1l3-1l3-2l3-1l3-1l3 1l3 1l3 0l3-1l3 0l3-1l3 0l3-1l3 0l3 0l3 1l3 0l3 1l3 1l3-1l3-2l3 0l3 1l3 1l3 1l3 0l3 0l3 1l3 1l3-1l3-1l3-1l3 1l3 0l3 0l3-1l3 0l3-1l3 1l3 0l3 1l3 0l3-1l3 1l3 0l3 1l3-1l3-1l3-1l3 0l3-1l3 0l3 1l3 1l3 2l3 0l3 0l3-2l3-1l3 0l3 1l3 1l3 1l3 1l3 0l3 0l3-1l3-1l3-1l3 1" fill="none" stroke="#000000" stroke-width="3.5" vector-effect="non-scaling-stroke" stroke-linejoin="round"/>
<rect x="669.28" y="615.10" width="24.94" height="9.00" fill="#ff0099"/>
</g>
<path d="M566.62 370.30v8.3M566.62 624.10v-8.3M605.00 370.30v16.8M605.00 624.10v-16.8M643.38 370.30v8.3M643.38 624.10v-8.3M681.75 370.30v16.8M681.75 624.10v-16.8M720.12 370.30v8.3M720.12 624.10v-8.3M758.50 370.30v16.8M758.50 624.10v-16.8M796.88 370.30v8.3M796.88 624.10v-8.3M528.25 622.50h16.5M835.25 622.50h-16.5M528.25 551.59h16.5M835.25 551.59h-16.5M528.25 479.07h16.5M835.25 479.07h-16.5M528.25 406.56h16.5M835.25 406.56h-16.5" stroke="#000" stroke-width="2" fill="none"/>
<rect x="528.25" y="370.30" width="307.00" height="253.80" fill="none" stroke="#000" stroke-width="3.1"/>
<text x="511.95" y="630.60" class="tl" text-anchor="end">0.000</text>
<text x="511.95" y="558.09" class="tl" text-anchor="end">0.001</text>
<text x="511.95" y="485.57" class="tl" text-anchor="end">0.002</text>
<text x="511.95" y="413.06" class="tl" text-anchor="end">0.003</text>
<text x="682.75" y="349.95" class="tt" text-anchor="middle">YY1 (n = 3,965)</text>
<clipPath id="c7"><rect x="943.35" y="370.30" width="307.00" height="253.80"/></clipPath>
<g clip-path="url(#c7)">
<path transform="translate(943.35 624.10) scale(0.38375 0.5)" d="M0-39l1 39l1-39l1 39l1-19l1 0l1 19l1-19l1 0l1-20l1-39l1 39l1 0l1-19l1 0l1 58l1 0l1-39l1 20l1-20l1 20l1 0l1-20l1 20l1-39l1 39l1-59l1 59l1 0l1-39l1 39l1 0l1 19l1-19l1 0l1-20l1 20l1 0l1 19l1 0l1-19l1 19l1-19l1 0l1-20l1 0l1-19l1 19l1 20l1-39l1 58l1-19l1 0l1-20l1 0l1 39l1-39l1 39l1-19l1-39l1 39l1 0l1 19l1-58l1 58l1-19l1 0l1 19l1-39l1 39l1-39l1 20l1 0l1 0l1 19l1 0l1-19l1-20l1 39l1-39l1 0l1 20l1-20l1 0l1 39l1-19l1 19l1 0l1-19l1 0l1 19l1 0l1 0l1-19l1-20l1 20l1 0l1 19l1 0l1-19l1 19l1 0l1-19l1 0l1 0l1 0l1-20l1 0l1 20l1-20l1-19l1 39l1 19l1-19l1-39l1 58l1-19l1 0l1 19l1 0l1-19l1 0l1 19l1 0l1-39l1 20l1-20l1 20l1 0l1 0l1-20l1 0l1 0l1 0l1-19l1 0l1 39l1 19l1-19l1 19l1 0l1 0l1-19l1 19l1 0l1-19l1-59l1 59l1 19l1 0l1-39l1 0l1 39l1-58l1 39l1-39l1 19l1 39l1-19l1 0l1-20l1 20l1 0l1-39l1 39l1-20l1 39l1 0l1 0l1-58l1 19l1 0l1 20l1 19l1-97l1 78l1 0l1-78l1 58l1 39l1-58l1 19l1 39l1 0l1 0l1-58l1 39l1-39l1 39l1 0l1 0l1-20l1 20l1-20l1 20l1 0l1 0l1 19l1 0l1-97l1 97l1-39l1 20l1 0l1 0l1 19l1-19l1-20l1 20l1-20l1 0l1-39l1 78l1-78l1 78l1-78l1 78l1-19l1-20l1 39l1 0l1-39l1 0l1-19l1 58l1-39l1 39l1 0l1 0l1-19l1-98l1 98l1 19l1-19l1 19l1 0l1 0l1-19l1-78l1-58l1 155l1-58l1 58l1-19l1 19l1 0l1-97l1 39l1-59l1 78l1-88l1 127l1-58l1-39l1 58l1 0l1 0l1 0l1 0l1-39l1 78l1-58l1 19l1 20l1 19l1-19l1-20l1 39l1-39l1 0l1 0l1 20l1 0l1-39l1 39l1 19l1-39l1 20l1 0l1 0l1-78l1 97l1 0l1-78l1 39l1-58l1 78l1-78l1 58l1 20l1-59l1 20l1-20l1 78l1-58l1 19l1-39l1 59l1-20l1-39l1-19l1 39l1 19l1 39l1-39l1-97l1 136l1-39l1-19l1-39l1 58l1-58l1 39l1-20l1 59l1-20l1-39l1 20l1-59l1 117l1-58l1 19l1 20l1-20l1 20l1-78l1 97l1-39l1 20l1-20l1 39l1-97l1 19l1 78l1 0l1-78l1 20l1 39l1-59l1-58l1 78l1-59l1-19l1 97l1 39l1-78l1-58l1 97l1-78l1 78l1-78l1-77l1 116l1 0l1 39l1 20l1-78l1 19l1 20l1-59l1 59l1 19l1-97l1 58l1 39l1 0l1-19l1-20l1-39l1 59l1-140l1 120l1-39l1 20l1-78l1 58l1-77l1 0l1-97l1 233l1-39l1-97l1 97l1 0l1 19l1-19l1-97l1-20l1-40l1 157l1-39l1-19l1 0l1-98l1 0l1-194l1 311l1 0l1-78l1 97l1-375l1 317l1-97l1 136l1 19l1-188l1 247l1-214l1 58l1 97l1 0l1-136l1 59l1 58l1 39l1-243l1 146l1 116l1-39l1 78l1-175l1 136l1 59l1-175l1-20l1-14l1 170l1 19l1-136l1 97l1 20l1-39l1 78l1-59l1-39l1 20l1-39l1 117l1-78l1 19l1 0l1 0l1 78l1-19l1-117l1-19l1 116l1 20l1-20l1 0l1-19l1 58l1-136l1 58l1 20l1 0l1-59l1 98l1-20l1-39l1 39l1-116l1 116l1-58l1-20l1 59l1 19l1 20l1-59l1 39l1 0l1-97l1 117l1-20l1 0l1-39l1 59l1 0l1-78l1 78l1 0l1-59l1 39l1 39l1-39l1-58l1 58l1 0l1 39l1-19l1-39l1-78l1 97l1 20l1 19l1-78l1 39l1 20l1-117l1 97l1 0l1 39l1 0l1-39l1 0l1 39l1-58l1-39l1 78l1 0l1-59l1 0l1-39l1 117l1-58l1 58l1-19l1 19l1-19l1-20l1 39l1 0l1-19l1 0l1 0l1-20l1 20l1-59l1 78l1-39l1 0l1 39l1-78l1 39l1 39l1-39l1 39l1 0l1-39l1 20l1 0l1-78l1 97l1 0l1 0l1 0l1-39l1 0l1 39l1-19l1 19l1-39l1 20l1-39l1 39l1 0l1-59l1 59l1-20l1 20l1 0l1 19l1 0l1-19l1 0l1 0l1-39l1 39l1 0l1 19l1 0l1-39l1-58l1 19l1 78l1 0l1-39l1 20l1 0l1 0l1-20l1-78l1 98l1-59l1 39l1 0l1 0l1-19l1 19l1 20l1 19l1-19l1 19l1-78l1-39l1 117l1-19l1 0l1 0l1 19l1-112l1 112l1-19l1 19l1-39l1-19l1 39l1-20l1-78l1 78l1 39l1-19l1-20l1 39l1-39l1 20l1-20l1 20l1 19l1-58l1 58l1-58l1 19l1 0l1 0l1 20l1 19l1 0l1-39l1 39l1-19l1-20l1 39l1-19l1 0l1 0l1 19l1 0l1 0l1 0l1-39l1 39l1-39l1 39l1-19l1 0l1 0l1 19l1-19l1 0l1 0l1-20l1 39l1-117l1 98l1-20l1 20l1-20l1 39l1-19l1 0l1 19l1-78l1 78l1-58l1 39l1-39l1 19l1 39l1-19l1 19l1-39l1 39l1 0l1-78l1 39l1 39l1 0l1-19l1-59l1 39l1 20l1-78l1 78l1 19l1-58l1 58l1-78l1 78l1 0l1-39l1 20l1 0l1 19l1 0l1 0l1-19l1 19l1-58l1 39l1-39l1 39l1 19l1-39l1 0l1 39l1-19l1 0l1 0l1 0l1 19l1-39l1 20l1-20l1-19l1 19l1 20l1-20l1 20l1 0l1 19l1-58l1 19l1 20l1 0l1 19l1 0l1-78l1 59l1 0l1-20l1 0l1 20l1 19l1-39l1 20l1 19l1 0l1 0l1 0l1-19l1-98l1 117l1-39l1 39l1 0l1-19l1 0l1-20l1 20l1 0l1 19l1-39l1 39l1 0l1 0l1 0l1-39l1 39l1-78l1-19l1 97l1-19l1 0l1 19l1 0l1-39l1 0l1 0l1 20l1-20l1 20l1 0l1 0l1-20l1 39l1 0l1 0l1-19l1 0l1-59l1 59l1 19l1-19l1-39l1 58l1-19l1 19l1-58l1 58l1 0l1-19l1-20l1 0l1 39l1-58l1 58l1 0l1-19l1-20l1 39" fill="none" stroke="#f08a8a" stroke-width="4.0" vector-effect="non-scaling-stroke" stroke-linejoin="round" stroke-linecap="round"/>
<path transform="translate(943.35 624.10) scale(0.38375 0.5)" d="M0-20l4-1l4-1l4-2l4 0l4 0l4 0l4 2l4 1l4 1l4 0l4-1l4-1l4 1l4 0l4 1l4 1l4 1l4 0l4 0l4 0l4 1l4 1l4 0l4 0l4-1l4-2l4-1l4 1l4 0l4 0l4-1l4-1l4 0l4 0l4 2l4 0l4-1l4-1l4-1l4 0l4-1l4-1l4-1l4 0l4 0l4 1l4 1l4 0l4 0l4 0l4-1l4-1l4-1l4 1l4 0l4 1l4-1l4-1l4-3l4-2l4-3l4-1l4-1l4 1l4 2l4 2l4 1l4-1l4-2l4-3l4-4l4-3l4-2l4-1l4-2l4-2l4-2l4-1l4 0l4 0l4 0l4-3l4-5l4-7l4-8l4-7l4-6l4-3l4-3l4-3l4-7l4-11l4-16l4-18l4-19l4-18l4-19l4-17l4-12l4-3l4 4l4 12l4 18l4 22l4 21l4 20l4 15l4 12l4 10l4 7l4 7l4 5l4 4l4 3l4 3l4 4l4 5l4 6l4 5l4 3l4 3l4 2l4 1l4 2l4 2l4 1l4 1l4 3l4 3l4 3l4 1l4 1l4 0l4 1l4 2l4 1l4 0l4-1l4 1l4 0l4 0l4-1l4-1l4-2l4-1l4 0l4 1l4 2l4 2l4 1l4 0l4-1l4 1l4 0l4 1l4 2l4 2l4 1l4 1l4 0l4-1l4-2l4-2l4-1l4 0l4 1l4 0l4 0l4-1l4 0l4 0l4 2l4 1l4 1l4 0l4-1l4-1l4-1l4 0l4 0l4 1l4 0l4 1l4 1l4 0l4 0l4 1l4-1l4 0l4-1l4-1l4 1l4 0l4 1l4 0l4 0l4 0l4 0l4 0l4 0" fill="none" stroke="#e31a1c" stroke-width="3.6" vector-effect="non-scaling-stroke" stroke-linejoin="round"/>
<path transform="translate(943.35 624.10) scale(0.38375 0.5)" d="M0-33l2 2l2 0l2-1l2-2l2 0l2-3l2 4l2 2l2-4l2 1l2 0l2 4l2-4l2 2l2-2l2 3l2-3l2 1l2-2l2 2l2-1l2 2l2-1l2 0l2 2l2-6l2 6l2 0l2-1l2-2l2 2l2 1l2 0l2 0l2 0l2-1l2 1l2-4l2 1l2-1l2 2l2 1l2-2l2-3l2 6l2 0l2-2l2 0l2-2l2 4l2-1l2-1l2 1l2-2l2 0l2-1l2 0l2 3l2 0l2-1l2-2l2 1l2 0l2 3l2-2l2 2l2-1l2-2l2 1l2 1l2 0l2 1l2-3l2 2l2-2l2 1l2 1l2-2l2 0l2-1l2 1l2 2l2-1l2 2l2-2l2 1l2 1l2-2l2 0l2-3l2 1l2 0l2 3l2 1l2 0l2-1l2 0l2 1l2-1l2 0l2-3l2 0l2 4l2-2l2-1l2 0l2 1l2 0l2 1l2-2l2-1l2 3l2-2l2 2l2-3l2-1l2 4l2-4l2 1l2 2l2-1l2 0l2 0l2 1l2 2l2-3l2 1l2 1l2 2l2-1l2-1l2 1l2-3l2-1l2 3l2-1l2 0l2 0l2 0l2-2l2 1l2 3l2-2l2-2l2 1l2 2l2-1l2 1l2 0l2-3l2 1l2 2l2 0l2-4l2 3l2-2l2-2l2 3l2 2l2 0l2-1l2-3l2 4l2-3l2 1l2 2l2 3l2 0l2-4l2 0l2-1l2 2l2 1l2-2l2-1l2-1l2 1l2-3l2 3l2 1l2-1l2 0l2 0l2 1l2 4l2-5l2 1l2-1l2 2l2 0l2-2l2 2l2-2l2-1l2 0l2 1l2-2l2-11l2-15l2-7l2 6l2 13l2 12l2 4l2 1l2 1l2-2l2-1l2 1l2 0l2 2l2-1l2 3l2-3l2 1l2-1l2 0l2-1l2-1l2 4l2-1l2 0l2-1l2-3l2 2l2 0l2 3l2-4l2 2l2-2l2 2l2 2l2-2l2-1l2 0l2 2l2 0l2 1l2-3l2 2l2-1l2 2l2-3l2 4l2 0l2-1l2-2l2-1l2-3l2 3l2 1l2 1l2 0l2 1l2-2l2-3l2 2l2 2l2-2l2 2l2-2l2 0l2 0l2 0l2-1l2-3l2 3l2 3l2 0l2-1l2 2l2-1l2 1l2-2l2 3l2-5l2 3l2-2l2-1l2 3l2 0l2 0l2-1l2-2l2 4l2-1l2-3l2 4l2-2l2 0l2 1l2 1l2-1l2-2l2 0l2 0l2 0l2 2l2 1l2 0l2-3l2-2l2 0l2 6l2 1l2-7l2 2l2 2l2-6l2 2l2 3l2 0l2 2l2-1l2-2l2 2l2 1l2 1l2-1l2-4l2 0l2 5l2-1l2-1l2 2l2-1l2-2l2 3l2-3l2 3l2-3l2-3l2 4l2 1l2-3l2 1l2 1l2-1l2 1l2-2l2 1l2 3l2-2l2 0l2 0l2 3l2-5l2-3l2 3l2 1l2 1l2-2l2 1l2-2l2-1l2 4l2 2l2-1l2 2l2-5l2 1l2 0l2 0l2-1l2-1l2-1l2 0l2 1l2 2l2-2l2 2l2 0l2 0l2 0l2 0l2 3l2-2l2 0l2-3l2 3l2-1l2-1l2 0l2-2l2 2l2 2l2 0l2 0l2-1l2 1l2 0l2-1l2 1l2 0l2-2l2 0l2 3l2-3l2 1l2-1" fill="none" stroke="#808080" stroke-width="5.0" vector-effect="non-scaling-stroke" stroke-linejoin="round"/>
<path transform="translate(943.35 624.10) scale(0.38375 0.5)" d="M0-32l3-1l3 0l3 0l3 0l3 0l3 0l3 1l3 0l3 0l3-1l3 0l3 0l3 0l3 0l3 0l3 0l3 0l3 0l3 0l3 0l3-1l3 0l3 0l3 0l3 0l3 0l3 0l3 0l3 1l3 0l3 0l3 0l3 0l3 0l3 0l3 0l3 0l3 0l3 0l3 0l3 0l3 0l3 0l3 0l3 0l3 0l3 0l3 0l3 0l3 0l3 0l3 0l3 0l3 0l3 0l3 0l3 1l3-1l3 0l3 1l3 0l3-1l3 1l3 0l3 0l3 0l3-1l3 0l3 0l3 0l3 0l3 0l3 0l3 0l3 0l3 0l3 1l3 0l3 0l3-1l3 0l3 0l3 0l3 0l3-1l3 0l3 1l3 0l3 0l3 0l3 0l3 0l3 0l3 0l3 0l3 0l3 0l3-1l3 0l3 0l3 0l3 0l3 0l3 1l3 0l3 0l3 0l3 0l3 0l3 1l3 0l3-1l3 0l3 0l3 0l3 0l3-1l3 1l3 0l3 0l3 0l3 0l3 0l3 0l3 0l3-1l3 0l3 1l3 0l3-1l3-4l3-9l3-8l3 2l3 10l3 7l3 2l3 1l3 0l3 0l3 0l3 1l3 0l3 0l3 0l3-1l3 0l3 0l3 0l3 0l3 0l3 0l3 0l3 0l3 0l3 0l3-1l3 0l3 0l3 0l3 1l3 0l3 0l3 1l3 0l3-1l3 0l3 0l3 1l3 0l3-1l3 0l3 0l3 0l3 0l3-1l3 0l3 0l3 0l3 0l3 0l3 0l3 1l3-1l3 0l3 0l3 0l3 1l3 1l3 0l3 0l3-1l3 0l3 0l3 1l3 0l3 0l3-1l3 0l3-1l3 0l3 0l3 0l3 0l3 0l3 0l3 1l3 1l3 0l3 0l3 0l3 0l3 0l3 0l3 0l3-1l3 0l3 0l3 0l3 0l3 0l3 0l3 0l3 0l3 0l3 0l3 0l3 0l3 0l3 0l3 0l3 0l3 0l3 0l3 0l3 0l3 0l3 0l3 0l3 0l3 0l3 0l3-1l3 0l3 1l3 0l3 1l3 1l3 0l3 0l3-1l3 0l3 0l3-1l3 0l3-1l3 1l3 0l3 0l3 0l3 0l3 1l3-1l3 0l3 0l3-1" fill="none" stroke="#000000" stroke-width="3.5" vector-effect="non-scaling-stroke" stroke-linejoin="round"/>
<rect x="1084.38" y="615.10" width="24.94" height="9.00" fill="#ff0099"/>
</g>
<path d="M981.73 370.30v8.3M981.73 624.10v-8.3M1020.10 370.30v16.8M1020.10 624.10v-16.8M1058.47 370.30v8.3M1058.47 624.10v-8.3M1096.85 370.30v16.8M1096.85 624.10v-16.8M1135.22 370.30v8.3M1135.22 624.10v-8.3M1173.60 370.30v16.8M1173.60 624.10v-16.8M1211.97 370.30v8.3M1211.97 624.10v-8.3M943.35 622.50h16.5M1250.35 622.50h-16.5M943.35 497.20h16.5M1250.35 497.20h-16.5" stroke="#000" stroke-width="2" fill="none"/>
<rect x="943.35" y="370.30" width="307.00" height="253.80" fill="none" stroke="#000" stroke-width="3.1"/>
<text x="927.05" y="630.60" class="tl" text-anchor="end">0.000</text>
<text x="927.05" y="503.70" class="tl" text-anchor="end">0.005</text>
<text x="927.05" y="376.80" class="tl" text-anchor="end">0.010</text>
<text x="1097.85" y="349.95" class="tt" text-anchor="middle">IRF1 (n = 3,344)</text>
<clipPath id="c8"><rect x="1358.35" y="370.30" width="307.00" height="253.80"/></clipPath>
<g clip-path="url(#c8)">
<path transform="translate(1358.35 624.10) scale(0.38375 0.5)" d="M0 0l1 0l1-61l1 61l1 0l1 0l1-121l1 91l1-31l1 61l1-91l1 61l1 30l1 0l1 0l1-30l1-31l1 31l1 0l1 0l1-31l1 0l1 61l1 0l1-61l1 31l1 30l1-61l1-60l1 121l1-61l1-30l1 30l1 31l1 0l1 0l1 0l1 0l1 30l1-30l1 0l1-31l1 31l1 30l1 0l1-30l1 0l1 30l1-91l1 30l1 0l1 31l1 30l1-61l1 31l1 30l1-121l1 60l1 0l1 61l1-30l1 0l1-61l1 30l1 31l1 0l1 0l1 0l1 30l1-121l1-31l1 61l1 61l1 30l1-30l1-31l1-30l1 91l1 0l1-61l1 0l1 31l1-61l1 30l1 31l1 0l1-31l1 0l1-30l1 61l1 0l1 0l1 30l1 0l1 0l1-121l1 91l1-31l1 0l1 61l1 0l1-30l1 0l1 30l1 0l1 0l1-30l1-31l1 61l1-30l1 30l1-61l1 61l1-91l1 30l1 61l1 0l1-30l1 30l1-30l1-31l1 31l1-31l1 31l1 30l1 0l1 0l1-61l1 0l1-60l1 60l1-30l1 91l1-30l1-61l1 91l1-61l1 31l1 0l1-31l1 31l1 30l1-91l1 30l1 0l1 61l1-61l1 0l1-60l1 91l1-108l1 108l1-61l1 61l1-31l1 61l1-30l1-91l1 60l1 61l1 0l1 0l1 0l1 0l1-61l1 61l1 0l1-30l1-91l1 30l1 91l1 0l1-61l1 61l1-30l1-31l1 31l1 30l1-61l1 31l1 0l1-31l1 61l1-61l1 0l1 31l1-31l1 0l1 31l1-31l1 0l1 61l1-30l1-152l1 121l1 0l1 61l1 0l1-61l1 31l1 30l1 0l1 0l1 0l1 0l1 0l1-61l1-30l1 61l1 30l1-182l1 182l1 0l1 0l1 0l1 0l1-91l1 30l1-30l1 61l1-31l1 61l1-30l1 0l1-31l1 31l1-31l1 31l1 30l1-30l1 30l1-30l1 0l1 0l1 30l1-91l1 30l1-121l1 152l1 30l1-61l1 0l1 31l1-31l1 61l1-121l1 121l1 0l1-30l1 30l1-182l1 182l1 0l1-30l1 30l1-61l1 31l1 30l1-30l1 0l1-31l1 0l1 31l1 0l1-61l1 61l1 30l1-152l1 122l1-61l1 30l1 31l1 0l1-122l1 122l1 0l1-91l1 121l1-61l1 61l1-145l1 145l1 0l1 0l1 0l1 0l1 0l1 0l1-30l1 0l1 30l1-61l1 0l1 61l1-91l1 61l1 30l1 0l1 0l1 0l1-61l1 31l1 0l1 0l1 30l1-30l1-61l1 0l1 61l1-31l1 31l1 0l1-31l1 0l1 31l1-31l1 61l1-30l1 0l1-31l1 31l1-91l1 91l1 30l1-30l1 30l1-30l1 30l1-30l1 0l1 30l1 0l1-121l1 30l1 61l1-31l1-30l1 30l1 61l1 0l1-30l1 0l1-31l1 0l1 61l1-121l1 60l1-30l1 61l1 0l1-31l1 0l1 31l1-31l1-60l1 91l1 30l1-61l1-30l1 91l1 0l1-30l1 0l1-61l1 30l1 0l1 61l1 0l1-30l1 30l1-61l1 31l1 30l1 0l1-30l1 0l1-31l1 61l1 0l1 0l1-30l1-31l1 31l1-61l1 0l1 61l1-31l1-60l1 91l1 30l1-61l1 31l1 30l1 0l1-30l1-31l1-30l1-61l1 0l1-247l1-109l1 73l1 283l1 61l1-30l1 30l1-61l1 31l1 91l1-61l1 0l1 61l1 30l1 0l1-30l1 0l1 0l1 0l1-31l1 61l1-30l1 30l1-30l1 30l1-30l1 30l1-61l1 31l1 0l1 0l1 0l1-31l1-30l1 30l1-30l1 61l1 30l1-30l1-61l1 30l1 61l1-30l1 0l1-31l1-30l1 91l1-61l1 61l1-121l1 121l1 0l1-30l1-31l1 31l1 30l1 0l1-30l1 30l1-30l1-61l1 61l1-61l1 91l1 0l1-61l1 31l1-31l1 61l1-30l1 30l1-61l1 61l1-30l1 30l1 0l1-30l1 30l1-30l1-91l1 121l1-61l1 31l1 0l1 30l1 0l1-152l1 152l1-30l1-31l1 61l1 0l1 0l1 0l1-30l1-91l1 30l1 91l1-61l1 61l1-30l1-31l1-91l1 152l1 0l1 0l1-61l1 0l1 31l1 0l1 30l1-61l1 0l1-30l1 30l1 61l1-30l1 0l1 30l1-30l1 30l1 0l1-30l1 0l1 30l1-30l1 30l1 0l1 0l1-91l1 61l1 0l1 0l1-91l1 91l1-61l1 61l1 0l1 30l1 0l1-30l1-31l1 61l1 0l1-30l1 30l1 0l1-30l1 0l1 0l1-31l1-91l1 122l1 30l1-121l1 30l1 91l1-30l1 30l1-91l1 61l1 0l1 30l1 0l1-61l1 31l1 0l1-31l1 31l1 0l1 0l1 30l1 0l1-30l1 30l1-91l1 61l1 30l1 0l1-30l1-122l1 122l1-31l1 0l1 61l1-121l1 91l1 0l1 0l1 30l1-91l1 30l1 0l1 31l1 0l1 30l1-61l1 31l1 0l1-31l1 31l1 0l1-61l1 61l1-61l1 61l1-91l1 121l1 0l1-61l1 0l1 0l1 0l1 61l1 0l1 0l1-30l1-91l1 60l1 61l1-61l1-30l1 91l1-61l1 31l1 0l1 0l1-31l1 31l1 30l1 0l1 0l1 0l1-121l1 0l1 91l1 30l1 0l1 0l1-91l1 61l1-31l1 61l1 0l1-30l1 30l1-30l1-31l1 0l1 61l1-30l1-108l1 108l1-61l1 91l1 0l1-121l1 0l1 60l1 31l1 30l1 0l1 0l1-30l1-152l1 182l1 0l1-91l1 0l1 0l1 30l1 31l1 0l1 0l1 0l1-31l1 61l1 0l1-30l1 30l1-30l1 30l1-30l1-31l1 61l1-30l1-31l1 31l1 30l1 0l1-91l1 61l1-61l1 30l1 61l1-30l1-61l1 91l1 0l1 0l1-30l1-61l1 30l1 31l1 0l1-31l1 61l1 0l1-91l1 30l1-60l1 121l1-61l1 31l1 0l1 0l1 0l1-31l1 31l1-31l1 0l1 31l1 0l1 0l1-61l1 61l1 30l1-61l1 31l1 0l1-61l1-98l1 98l1 61l1-61l1 91l1 0l1-30l1 0l1 0l1 0l1-91l1 121l1-121l1 30l1 61l1 30l1-91l1 30l1 31l1 30l1-152l1 152l1 0l1 0l1-61l1 31l1 30l1 0l1-30l1 30l1-30l1 0l1-31l1 61l1-61l1 31l1 0l1-61l1 0l1 30l1 0l1-30l1 91l1-30l1 0l1 0l1 30l1 0l1 0l1 0l1-30l1-61l1 30l1 31l1-91l1 60l1 61l1-61l1 61l1-30l1 30l1 0l1-61l1 0l1-30l1 0l1 61l1 0l1-31l1 31l1-61" fill="none" stroke="#f08a8a" stroke-width="4.0" vector-effect="non-scaling-stroke" stroke-linejoin="round" stroke-linecap="round"/>
<path transform="translate(1358.35 624.10) scale(0.38375 0.5)" d="M0-1l4-12l4-18l4 19l4-4l4-9l4-2l4-24l4 3l4 28l4 9l4 1l4-22l4-5l4-8l4 1l4 2l4-23l4 0l4 26l4-7l4-9l4 11l4 23l4-8l4 22l4 6l4-5l4-14l4 7l4-3l4-3l4-34l4-3l4 19l4-2l4-14l4-7l4 10l4 12l4 33l4 2l4-30l4 9l4 3l4-8l4-14l4-9l4-11l4 27l4 35l4 0l4-36l4 13l4-10l4-5l4 12l4 14l4-11l4-42l4 9l4 20l4 6l4 8l4 8l4-19l4-21l4-17l4-1l4 21l4 46l4 5l4 0l4-19l4 14l4 1l4-26l4-20l4 8l4 10l4-4l4 24l4 5l4-40l4-3l4 19l4-25l4-7l4 4l4 14l4 15l4 0l4 22l4 8l4-1l4-21l4-36l4 21l4 37l4-69l4-251l4 210l4 47l4 40l4 18l4 5l4-2l4-26l4-27l4 9l4 10l4-2l4 10l4 18l4 1l4-20l4 7l4 15l4 7l4-12l4-16l4 1l4 13l4-5l4-24l4 1l4 13l4-3l4-6l4 30l4 8l4 0l4-22l4-27l4 25l4 24l4 0l4-41l4-22l4 26l4 20l4-1l4 7l4 5l4-20l4-28l4 5l4 8l4 7l4 3l4-18l4-6l4 15l4 15l4-13l4-5l4 18l4 13l4-20l4 7l4 12l4 4l4-7l4-18l4-18l4 19l4-23l4-7l4 35l4 28l4-1l4-13l4-15l4-9l4 18l4-9l4-7l4-14l4 10l4 3l4-2l4 4l4-5l4 3l4 11l4-30l4-6l4 18l4 27l4 17l4-7l4-31l4-26l4 28l4 36l4-25l4-25l4 28l4-16l4-20l4 4" fill="none" stroke="#e31a1c" stroke-width="3.6" vector-effect="non-scaling-stroke" stroke-linejoin="round"/>
<path transform="translate(1358.35 624.10) scale(0.38375 0.5)" d="M0-39l2 3l2 1l2-6l2 6l2-2l2-2l2 1l2 0l2 2l2 0l2-1l2 0l2 2l2-2l2-2l2 0l2 0l2 6l2-2l2-2l2 1l2 1l2 1l2-4l2-3l2 1l2 0l2 2l2-1l2 2l2-1l2 0l2 4l2-5l2 2l2 3l2-2l2-3l2 4l2-1l2 1l2 0l2 0l2 0l2-2l2-2l2 0l2 2l2 0l2-2l2 0l2 3l2 0l2 4l2-4l2 1l2-1l2-1l2 0l2 2l2-2l2-4l2 3l2-1l2-1l2 2l2-2l2 0l2 2l2-1l2 1l2 1l2 0l2 0l2-1l2-3l2 1l2 1l2 3l2-3l2 2l2-2l2-1l2 4l2 1l2-1l2-1l2 0l2 0l2-2l2 2l2 0l2 1l2-3l2 1l2-1l2 4l2-1l2-5l2 2l2 0l2 0l2 4l2-3l2 3l2-4l2 0l2 2l2-1l2-1l2 1l2 1l2-1l2 0l2-2l2 3l2-4l2 4l2-1l2-3l2 1l2 3l2-1l2-3l2 4l2-1l2 2l2-2l2-1l2 0l2-1l2 3l2-3l2-1l2 3l2 2l2-6l2 3l2-2l2 4l2 0l2 0l2-2l2 4l2-3l2 1l2 2l2-4l2 2l2-4l2 3l2 3l2-6l2 2l2 0l2-2l2 3l2 4l2-3l2-4l2 5l2-3l2 4l2-3l2 1l2 1l2-1l2-2l2 1l2 1l2-3l2 1l2 1l2-3l2 3l2-1l2 1l2 1l2-1l2 0l2-1l2 2l2 2l2-4l2 0l2 0l2-1l2 3l2 1l2-2l2 3l2-3l2 3l2-2l2 1l2-3l2-9l2-13l2-21l2-13l2 10l2 24l2 14l2 7l2 2l2 0l2 0l2 4l2-3l2 3l2-3l2 3l2-2l2-4l2 1l2 1l2 2l2-2l2-1l2 6l2 0l2 0l2-3l2 0l2 1l2-1l2 0l2-4l2 2l2-1l2-1l2 0l2 1l2 2l2-2l2 1l2-1l2-2l2 1l2 3l2-4l2 3l2 1l2 0l2-3l2 1l2 0l2 1l2-1l2 0l2 0l2 1l2-1l2 2l2-3l2-1l2 3l2 3l2-5l2 0l2 5l2-3l2 1l2 0l2 1l2 0l2 2l2-3l2 0l2 1l2 0l2-2l2 3l2-3l2-2l2 3l2-2l2 2l2-1l2 0l2 1l2-3l2 3l2-2l2 2l2-1l2 1l2 0l2-3l2 0l2-3l2 1l2 4l2-1l2 1l2 0l2 1l2-1l2 1l2 1l2 0l2-2l2 0l2 0l2 0l2 0l2 1l2-2l2 4l2-2l2 0l2-1l2 1l2 2l2-2l2 1l2 0l2-1l2 0l2 0l2-2l2 0l2 1l2-1l2 1l2-1l2-1l2 4l2-2l2-1l2 2l2-1l2 0l2 0l2-3l2 5l2-3l2 0l2 2l2-2l2 0l2-2l2 2l2 1l2 2l2-4l2 3l2 1l2-4l2 0l2 3l2-2l2 3l2-1l2 0l2-4l2 2l2 4l2-2l2-5l2 3l2 2l2 1l2-1l2-2l2 1l2 1l2 0l2-1l2-2l2 3l2 1l2-2l2 1l2-4l2-1l2 2l2 2l2 2l2-1l2-1l2 2l2-1l2-4l2 1l2 3l2 1l2-4l2 4l2 2l2-5l2 0l2 1l2 2l2-1l2 1l2-4l2 1l2 2l2-5" fill="none" stroke="#808080" stroke-width="5.0" vector-effect="non-scaling-stroke" stroke-linejoin="round"/>
<path transform="translate(1358.35 624.10) scale(0.38375 0.5)" d="M0-36l3 0l3-1l3 0l3-1l3 0l3 0l3 0l3 0l3 0l3 0l3 0l3 1l3 0l3 0l3 0l3 0l3 0l3 0l3-1l3 0l3 0l3 0l3 1l3 0l3 0l3-1l3 0l3 0l3 0l3 0l3 1l3 0l3 0l3 0l3 0l3-1l3 0l3 0l3 0l3 0l3 0l3 1l3 0l3 0l3 0l3-1l3 0l3 0l3 0l3 0l3 0l3 0l3 0l3 0l3 0l3 0l3 0l3 0l3 0l3 1l3 0l3 0l3 0l3-1l3 0l3 0l3 1l3 0l3-1l3 0l3 0l3 0l3 0l3 0l3 1l3-1l3 0l3 0l3 0l3 0l3 0l3 0l3 0l3-1l3 0l3 0l3 0l3 0l3 1l3 0l3-1l3 0l3 0l3 0l3 1l3 0l3 0l3 0l3 0l3 0l3 0l3 0l3 0l3 0l3 0l3 0l3 0l3 0l3 1l3 0l3 0l3 0l3 0l3 0l3 0l3 0l3 0l3-1l3 0l3 0l3 0l3 1l3-1l3 0l3 0l3 1l3 0l3-1l3-1l3-1l3-4l3-9l3-9l3 2l3 11l3 9l3 3l3 0l3-1l3 0l3 0l3 1l3 0l3-1l3 0l3 0l3 0l3 0l3 0l3-1l3 0l3 0l3 1l3 0l3 0l3 1l3-1l3 0l3-1l3 0l3 1l3 0l3 0l3 0l3 1l3 0l3 1l3-1l3 0l3-1l3 0l3 1l3 0l3 0l3-1l3 0l3 0l3 0l3 0l3 0l3 0l3 0l3 0l3 0l3 0l3 0l3 0l3 0l3 0l3 0l3 0l3 0l3 0l3 0l3 0l3 0l3 1l3 0l3-1l3 0l3 0l3 1l3-1l3 0l3 0l3 0l3 0l3 0l3 0l3 0l3 0l3-1l3 1l3 0l3-1l3 0l3 0l3 0l3 0l3 1l3 0l3 0l3 0l3 0l3 1l3 0l3 0l3 0l3 1l3 0l3-1l3-1l3 0l3 0l3 0l3 0l3 0l3 0l3 0l3 0l3 0l3 0l3 0l3 1l3 0l3-1l3 0l3 0l3 0l3 0l3 0l3 0l3 0l3 0l3 0l3 0l3 1l3 0l3 0l3 0l3 0l3 0l3 0l3 0l3-1l3-1" fill="none" stroke="#000000" stroke-width="3.5" vector-effect="non-scaling-stroke" stroke-linejoin="round"/>
<rect x="1499.38" y="615.10" width="24.94" height="9.00" fill="#ff0099"/>
</g>
<path d="M1396.72 370.30v8.3M1396.72 624.10v-8.3M1435.10 370.30v16.8M1435.10 624.10v-16.8M1473.47 370.30v8.3M1473.47 624.10v-8.3M1511.85 370.30v16.8M1511.85 624.10v-16.8M1550.22 370.30v8.3M1550.22 624.10v-8.3M1588.60 370.30v16.8M1588.60 624.10v-16.8M1626.97 370.30v8.3M1626.97 624.10v-8.3M1358.35 622.50h16.5M1665.35 622.50h-16.5M1358.35 551.59h16.5M1665.35 551.59h-16.5M1358.35 479.07h16.5M1665.35 479.07h-16.5M1358.35 406.56h16.5M1665.35 406.56h-16.5" stroke="#000" stroke-width="2" fill="none"/>
<rect x="1358.35" y="370.30" width="307.00" height="253.80" fill="none" stroke="#000" stroke-width="3.1"/>
<text x="1342.05" y="630.60" class="tl" text-anchor="end">0.000</text>
<text x="1342.05" y="558.09" class="tl" text-anchor="end">0.002</text>
<text x="1342.05" y="485.57" class="tl" text-anchor="end">0.004</text>
<text x="1342.05" y="413.06" class="tl" text-anchor="end">0.006</text>
<text x="1512.85" y="349.95" class="tt" text-anchor="middle">CTCF (n = 3,056)</text>
<clipPath id="c9"><rect x="1773.90" y="370.30" width="307.00" height="253.80"/></clipPath>
<g clip-path="url(#c9)">
<path transform="translate(1773.90 624.10) scale(0.38375 0.5)" d="M0-72l1 72l1 0l1-144l1 36l1 72l1 0l1 36l1 0l1-108l1 72l1 36l1-36l1 36l1-36l1 0l1-36l1 36l1 36l1-72l1 36l1 0l1 36l1-36l1 0l1 36l1 0l1-36l1-36l1 36l1-36l1 72l1-72l1 36l1 0l1 0l1-108l1 144l1-36l1-36l1 36l1 0l1 0l1 36l1-72l1 36l1-108l1 144l1-108l1 108l1-108l1 108l1-72l1-36l1 36l1 72l1 0l1-36l1-36l1 36l1-36l1 36l1 0l1 0l1 0l1 36l1-72l1 0l1 36l1-36l1 72l1 0l1 0l1-36l1 36l1 0l1 0l1-72l1-36l1 72l1-36l1-143l1 215l1-36l1-36l1 72l1 0l1 0l1-108l1 0l1 108l1 0l1 0l1-72l1-72l1 72l1 36l1 0l1 36l1-72l1-131l1 131l1 36l1 0l1 0l1-36l1 0l1 36l1 36l1-108l1-36l1 108l1 0l1 0l1 36l1-36l1 0l1-36l1 72l1-36l1-108l1 72l1 72l1 0l1-36l1 36l1-144l1 144l1-72l1 36l1 0l1-143l1 179l1-72l1-72l1 108l1-72l1 36l1 72l1-36l1 36l1-108l1 72l1 0l1 0l1 36l1 0l1-36l1 0l1-72l1 108l1-36l1 36l1 0l1 0l1 0l1 0l1 0l1-36l1 36l1-108l1 72l1 36l1 0l1 0l1 0l1-36l1 36l1-72l1 72l1-108l1 0l1 72l1 0l1 36l1-72l1 36l1 36l1 0l1 0l1-36l1 36l1-72l1 36l1-72l1 36l1-72l1 144l1-108l1 72l1 0l1-108l1 108l1 36l1-72l1 36l1 36l1-36l1 0l1-36l1 0l1 0l1 72l1-72l1 72l1-72l1 72l1 0l1-108l1 108l1-36l1 0l1 36l1-72l1 72l1 0l1-36l1 36l1 0l1-215l1 179l1 0l1-36l1-36l1 72l1 0l1 0l1-36l1 72l1-36l1-36l1 0l1 72l1 0l1-144l1 72l1 72l1 0l1-36l1 36l1-195l1 195l1 0l1-108l1 0l1 36l1 72l1-36l1-72l1 108l1-36l1 0l1 36l1-36l1 36l1-36l1 36l1 0l1 0l1-108l1 0l1 72l1 0l1 0l1 36l1 0l1-36l1 0l1-108l1 108l1 0l1 0l1-72l1 36l1-72l1 36l1 108l1 0l1-72l1-143l1 179l1 36l1-72l1 0l1 72l1-36l1 36l1 0l1-72l1 36l1 36l1-251l1 143l1 108l1-72l1 0l1 0l1 72l1-72l1 0l1 72l1-36l1 0l1 0l1 0l1 36l1-36l1 0l1-108l1 108l1-36l1-36l1 0l1 36l1 72l1 0l1-108l1 0l1-36l1 72l1 36l1 0l1 36l1-72l1 0l1 72l1 0l1-36l1-36l1 72l1-36l1-72l1-36l1 108l1-36l1 36l1 36l1-72l1-36l1 72l1 0l1 0l1-36l1-107l1 71l1 72l1-179l1 36l1 107l1 0l1-199l1 235l1-72l1-71l1 71l1 36l1 72l1-72l1 0l1-107l1 179l1-108l1 36l1 36l1-72l1-222l1 115l1 36l1 107l1 0l1 36l1-72l1 72l1 0l1-251l1 108l1 107l1 0l1-72l1 36l1-143l1 107l1 72l1-107l1 107l1-36l1-36l1 0l1 36l1 0l1-273l1 309l1-179l1 143l1-107l1 143l1 0l1-402l1 223l1 107l1-35l1-72l1 107l1-235l1 307l1-287l1 251l1 0l1-256l1 113l1 143l1-107l1 71l1 36l1-71l1-200l1 164l1 71l1 72l1-179l1 143l1-143l1 179l1-72l1 36l1-247l1 283l1-36l1 36l1-107l1 35l1 72l1 0l1-36l1-36l1 72l1-107l1 107l1 72l1-72l1 0l1-36l1 108l1-179l1 107l1 36l1-108l1-107l1 215l1-108l1 144l1-36l1-108l1-215l1 251l1 36l1-36l1 0l1 72l1-36l1-182l1 218l1 36l1 0l1-36l1 0l1 0l1-36l1 0l1-72l1 108l1-36l1-36l1 72l1-72l1-71l1 107l1 0l1 36l1 0l1 36l1-215l1 179l1-108l1 0l1 108l1-72l1 72l1-36l1 0l1 36l1 0l1-72l1 108l1 0l1-72l1 0l1-36l1 0l1 36l1-36l1-36l1 144l1-144l1 72l1 0l1-72l1 108l1-108l1 108l1-36l1 36l1-36l1-72l1 72l1-72l1 72l1 36l1 0l1-36l1-123l1 123l1 36l1 36l1 0l1-36l1 36l1-36l1-36l1 36l1-108l1 72l1 0l1 72l1-36l1-36l1 72l1-36l1-72l1 108l1 0l1-72l1 36l1 0l1 0l1 36l1-36l1 0l1 36l1-36l1-36l1 0l1 72l1-36l1-72l1 36l1 72l1-144l1 72l1 72l1-72l1 0l1 36l1-36l1 72l1 0l1-36l1-72l1 108l1 0l1 0l1-36l1-36l1 36l1 0l1-108l1 144l1-36l1 36l1 0l1-108l1 72l1 36l1-108l1 72l1 36l1-108l1 108l1-72l1 36l1 36l1-36l1-108l1 144l1-72l1 72l1 0l1-72l1 72l1-36l1-36l1 36l1-36l1-72l1 36l1 108l1-36l1 36l1-72l1 72l1-36l1 0l1 36l1 0l1-36l1 36l1 0l1-108l1 36l1 36l1 36l1-36l1 36l1 0l1 0l1-179l1 143l1-72l1 108l1-108l1 72l1 36l1-144l1 72l1 72l1-36l1 0l1 0l1-72l1 72l1-36l1-36l1 72l1-36l1 0l1 72l1-144l1 144l1 0l1 0l1-36l1-72l1-36l1 36l1 0l1 72l1-36l1 36l1 36l1-72l1 0l1 72l1-72l1 0l1 0l1 36l1 36l1 0l1 0l1-72l1 0l1-36l1-36l1 36l1 72l1-36l1 72l1 0l1 0l1-36l1-72l1-71l1 179l1 0l1 0l1-108l1 108l1-72l1-72l1 108l1-36l1 36l1 0l1-36l1 72l1-36l1 0l1-36l1 36l1 0l1-201l1 165l1 72l1 0l1-72l1 36l1 36l1-36l1 36l1 0l1-72l1 0l1 36l1-72l1 0l1 36l1 0l1-36l1 108l1 0l1-72l1 36l1 0l1-36l1 0l1 0l1 36l1 0l1 0l1 0l1-36l1-36l1 36l1 36l1 0l1 0l1 36l1-36l1 36l1-36l1-108l1 144l1-72l1 72l1-36l1-72l1 72l1 36l1-72l1 36l1 0l1 36l1-359l1 323l1 36l1 0l1 0l1-72l1 72l1-72l1 36l1-251l1 251l1-72l1 108l1-72l1 36l1 36l1-72l1 72l1-108l1 108l1 0l1-36l1 0l1 36l1-36l1-36l1 0l1 36l1-72l1 72l1 36l1 0l1-72l1 72l1-36l1 0l1-36l1 36l1 0l1 0l1 0l1 0l1-72l1 108l1 0l1-144l1 144l1-36l1 0" fill="none" stroke="#f08a8a" stroke-width="4.0" vector-effect="non-scaling-stroke" stroke-linejoin="round" stroke-linecap="round"/>
<path transform="translate(1773.90 624.10) scale(0.38375 0.5)" d="M0-35l4 0l4 1l4 1l4 1l4 0l4 0l4-1l4-2l4-1l4-1l4-1l4 0l4 0l4 1l4 1l4 1l4 1l4 0l4-1l4-1l4-1l4-1l4-1l4 0l4 0l4 0l4 0l4 0l4 0l4 0l4-1l4 0l4 0l4 2l4 2l4 3l4 3l4 2l4 1l4 0l4-1l4-2l4-2l4-2l4-2l4-1l4-1l4 0l4 1l4 1l4 1l4 1l4 0l4-1l4-1l4 0l4 0l4 0l4 1l4 1l4 0l4 1l4-1l4-1l4-1l4-3l4-2l4-2l4-2l4 0l4 0l4 0l4 0l4 0l4-1l4-1l4-2l4-1l4-1l4-1l4-1l4-2l4-3l4-5l4-5l4-5l4-5l4-4l4-3l4-4l4-6l4-6l4-8l4-9l4-10l4-9l4-10l4-10l4-8l4-5l4-2l4 2l4 6l4 10l4 11l4 13l4 12l4 10l4 8l4 6l4 4l4 4l4 3l4 5l4 4l4 4l4 2l4 0l4 1l4 1l4 1l4 1l4 1l4 1l4 0l4 1l4 2l4 2l4 4l4 3l4 4l4 3l4 2l4 2l4 1l4 1l4 0l4-1l4 0l4 1l4 0l4 1l4 1l4 0l4 0l4-1l4 0l4 0l4 0l4 1l4 0l4 1l4 1l4-1l4-1l4-2l4-1l4-2l4-1l4-1l4-1l4 0l4 0l4 1l4 0l4 1l4 0l4 0l4 0l4 1l4 0l4 1l4 1l4 1l4 1l4-1l4 0l4-1l4-1l4-1l4 0l4 1l4 0l4 1l4-1l4-1l4-1l4-1l4 0l4 0l4 2l4 2l4 1l4 2l4 0l4 1l4 0l4-1l4 0l4 0" fill="none" stroke="#e31a1c" stroke-width="3.6" vector-effect="non-scaling-stroke" stroke-linejoin="round"/>
<path transform="translate(1773.90 624.10) scale(0.38375 0.5)" d="M0-45l2-4l2 4l2 0l2 0l2 0l2-1l2 2l2-2l2 1l2 0l2-2l2 0l2 0l2 0l2 0l2 1l2 2l2-3l2 0l2 0l2-2l2 4l2-2l2 1l2-1l2-1l2 3l2-5l2 4l2-1l2 0l2 1l2-3l2 8l2-3l2-2l2 1l2-2l2-2l2 0l2 4l2-1l2 2l2-4l2 3l2-1l2-2l2-1l2-1l2 7l2-4l2 0l2 0l2-2l2 2l2-1l2 1l2-1l2 0l2 0l2 0l2 4l2-2l2 1l2-2l2 0l2-1l2 5l2 1l2-5l2 0l2 1l2 0l2 3l2-4l2 1l2-1l2 2l2 2l2-6l2 6l2-7l2 5l2-3l2 1l2-1l2 0l2 2l2 0l2 2l2 0l2-2l2 1l2 0l2 0l2-2l2 4l2 0l2-1l2 3l2-3l2 1l2-5l2-1l2-1l2 4l2-2l2 4l2-2l2 0l2 0l2-3l2 3l2-2l2 4l2 2l2-2l2-5l2-1l2 8l2-5l2 0l2 2l2-3l2 5l2-5l2 6l2-3l2-2l2-1l2-1l2 0l2 5l2-2l2-2l2 4l2-1l2 1l2-3l2 2l2 0l2 1l2 3l2-2l2-4l2 4l2-3l2-1l2-1l2 3l2-2l2-1l2 5l2-3l2 2l2-3l2 1l2-2l2 3l2-1l2-3l2 4l2-2l2 0l2-1l2 1l2 1l2 3l2 0l2-3l2 0l2-1l2-1l2-1l2 3l2-1l2 2l2-2l2 0l2 2l2-2l2-1l2 2l2 1l2-7l2 5l2 3l2-6l2 7l2-2l2-2l2-1l2 0l2 1l2 3l2 3l2-8l2-8l2-7l2-6l2 9l2 7l2 5l2 4l2-1l2 2l2-4l2-2l2 2l2 0l2-1l2 6l2 1l2-8l2 7l2-6l2 4l2-2l2 3l2 2l2-1l2 1l2-3l2 2l2-3l2 2l2-3l2 2l2-3l2 3l2-3l2 1l2 2l2 0l2-3l2 2l2-1l2-1l2 3l2 1l2 3l2-5l2 0l2 2l2 0l2-1l2 1l2 2l2-4l2-1l2 2l2-1l2 1l2-3l2 4l2-5l2 1l2-3l2 4l2 3l2-1l2-1l2 1l2 0l2 0l2 0l2-2l2 2l2 2l2 2l2-6l2 1l2 2l2-5l2 5l2-2l2 0l2 3l2-2l2 1l2-1l2-1l2 1l2-1l2-2l2 5l2-5l2-3l2 5l2-4l2 5l2-1l2 4l2-3l2 0l2 1l2-1l2 0l2 0l2 0l2-1l2 1l2 1l2 0l2-3l2 1l2 0l2 0l2-4l2 7l2-1l2-4l2-2l2-2l2 4l2 0l2 0l2 3l2 1l2-3l2 0l2 1l2 2l2 0l2-2l2 1l2 1l2-2l2-4l2 5l2 2l2-2l2-4l2 2l2 3l2-2l2 1l2-6l2 6l2 1l2-3l2-3l2 4l2 3l2-2l2-2l2-2l2 0l2 1l2 3l2 1l2-1l2-6l2 4l2 1l2 2l2-4l2 2l2 4l2-6l2 4l2 0l2 0l2-1l2 0l2 1l2 0l2-4l2 6l2-1l2-5l2-1l2 3l2 1l2-1l2 2l2 1l2-2l2-1l2 2l2-3l2 0l2 3l2-2l2 3l2-1l2 0l2 2l2-2l2-2l2 1l2-1l2-3l2 3l2-4l2 4l2 1l2 0l2-2l2-2" fill="none" stroke="#808080" stroke-width="5.0" vector-effect="non-scaling-stroke" stroke-linejoin="round"/>
<path transform="translate(1773.90 624.10) scale(0.38375 0.5)" d="M0-47l3 0l3 1l3 0l3 1l3 0l3-1l3 0l3-1l3 1l3 0l3 0l3 0l3 0l3 0l3 1l3 0l3 0l3 0l3 0l3-1l3 1l3 0l3 0l3 0l3 0l3 0l3 0l3 0l3 0l3-1l3 0l3 0l3 0l3 1l3 0l3 0l3 0l3 0l3 0l3 0l3 0l3 0l3 0l3 0l3 0l3-1l3-1l3 0l3 1l3 1l3-1l3 0l3 0l3 0l3 1l3 0l3-1l3 0l3 1l3 0l3 0l3 0l3-1l3 0l3 0l3 0l3-1l3 0l3 0l3 0l3 1l3 0l3 0l3 0l3 0l3 1l3 0l3 1l3 0l3 0l3-1l3-1l3 0l3 0l3 0l3 0l3 0l3 0l3 0l3-1l3 1l3 0l3 0l3 0l3 0l3 0l3 1l3 0l3 0l3 0l3 0l3 0l3-1l3 0l3 0l3 0l3 1l3 0l3 0l3-1l3 0l3-1l3 0l3-1l3 1l3 1l3 1l3 1l3 0l3 0l3 0l3-1l3 0l3 0l3 0l3 0l3-1l3 0l3-1l3 0l3-2l3-5l3-3l3 1l3 6l3 4l3 1l3-1l3 0l3 0l3 0l3 1l3 0l3-1l3 0l3 0l3 1l3 0l3-1l3 0l3 0l3-1l3 0l3 1l3 1l3-1l3 0l3 0l3 0l3 0l3 0l3 0l3 0l3-1l3 0l3 0l3 1l3 0l3 0l3 1l3 0l3 0l3 1l3-1l3-1l3 0l3-1l3 0l3 1l3 0l3 0l3 0l3 0l3 1l3 1l3 0l3 0l3 0l3-1l3 0l3 0l3-1l3 0l3 0l3 0l3 0l3 0l3 0l3 0l3 0l3 0l3 0l3 1l3 0l3 0l3-1l3 0l3 0l3 1l3 0l3-1l3 0l3-1l3 0l3 0l3 0l3 0l3 0l3 1l3 1l3 0l3 0l3 0l3 0l3 0l3 0l3 0l3-1l3 0l3-1l3 1l3 0l3 1l3 0l3 0l3-1l3 0l3-1l3 0l3 0l3 1l3 0l3 1l3 1l3 1l3 0l3-1l3-1l3-1l3-1l3 0l3 0l3 1l3 0l3 0l3 0l3 1l3 0l3 0l3 0l3 0l3-1l3 0l3 0l3 0l3 0" fill="none" stroke="#000000" stroke-width="3.5" vector-effect="non-scaling-stroke" stroke-linejoin="round"/>
<rect x="1914.93" y="615.10" width="24.94" height="9.00" fill="#ff0099"/>
</g>
<path d="M1812.28 370.30v8.3M1812.28 624.10v-8.3M1850.65 370.30v16.8M1850.65 624.10v-16.8M1889.03 370.30v8.3M1889.03 624.10v-8.3M1927.40 370.30v16.8M1927.40 624.10v-16.8M1965.78 370.30v8.3M1965.78 624.10v-8.3M2004.15 370.30v16.8M2004.15 624.10v-16.8M2042.53 370.30v8.3M2042.53 624.10v-8.3M1773.90 622.50h16.5M2080.90 622.50h-16.5M1773.90 539.50h16.5M2080.90 539.50h-16.5M1773.90 454.90h16.5M2080.90 454.90h-16.5" stroke="#000" stroke-width="2" fill="none"/>
<rect x="1773.90" y="370.30" width="307.00" height="253.80" fill="none" stroke="#000" stroke-width="3.1"/>
<text x="1757.60" y="630.60" class="tl" text-anchor="end">0.000</text>
<text x="1757.60" y="546.00" class="tl" text-anchor="end">0.002</text>
<text x="1757.60" y="461.40" class="tl" text-anchor="end">0.004</text>
<text x="1757.60" y="376.80" class="tl" text-anchor="end">0.006</text>
<text x="1928.40" y="349.95" class="tt" text-anchor="middle">E2F4 (n = 3,017)</text>
<clipPath id="c10"><rect x="113.25" y="698.55" width="307.00" height="253.80"/></clipPath>
<g clip-path="url(#c10)">
<path transform="translate(113.25 952.35) scale(0.38375 0.5)" d="M0 0l1-46l1 0l1 23l1 23l1-23l1 23l1-115l1 92l1 23l1-23l1 23l1 0l1-23l1 23l1 0l1-69l1 0l1 46l1-23l1 46l1-23l1 23l1-23l1-23l1-23l1 46l1 23l1-23l1 23l1-23l1 23l1-46l1 23l1-46l1 46l1 23l1-46l1 46l1-46l1 0l1 46l1 0l1-23l1 0l1 23l1-69l1 69l1 0l1-23l1-46l1-46l1 115l1-92l1 92l1-46l1 23l1-23l1 46l1-46l1 0l1 23l1 0l1-23l1 23l1 23l1 0l1 0l1 0l1 0l1 0l1-46l1 0l1 23l1-23l1 46l1 0l1-92l1 92l1 0l1-23l1 0l1 23l1 0l1-69l1 69l1-23l1 0l1-23l1 23l1-46l1 46l1-23l1 23l1 0l1-92l1 92l1-46l1 46l1 23l1-122l1 76l1-69l1 46l1 23l1 23l1 0l1 0l1-69l1 0l1 69l1 0l1 0l1 0l1 23l1 0l1-23l1 0l1-69l1 69l1-23l1 46l1 0l1-69l1 69l1-23l1-23l1 46l1 0l1-69l1 69l1-23l1 23l1 0l1 0l1-69l1 69l1-46l1 23l1-23l1 46l1-46l1-46l1 46l1-46l1 69l1-23l1 23l1 23l1 0l1-23l1 23l1 0l1-23l1-46l1 23l1 0l1 0l1 23l1 0l1 23l1 0l1 0l1-46l1 23l1-46l1 69l1-23l1-46l1 69l1 0l1-46l1 23l1 23l1-23l1-23l1 46l1-69l1 46l1 23l1-23l1 23l1-23l1 23l1-46l1-23l1 23l1 46l1-23l1 23l1 0l1-46l1 46l1-23l1 0l1-23l1-69l1 115l1-23l1 0l1 0l1 23l1-23l1-23l1 46l1-23l1 0l1-23l1 46l1-23l1 0l1 0l1 0l1-23l1 23l1-23l1 23l1-23l1 0l1 0l1-66l1 89l1 23l1-46l1 46l1 0l1 0l1-23l1-46l1 23l1 23l1 23l1 0l1-138l1 138l1-46l1 23l1 23l1-46l1-23l1 69l1-69l1 69l1 0l1-69l1 46l1-23l1-23l1 69l1-23l1 0l1 0l1 23l1 0l1-23l1-23l1 46l1 0l1-46l1 23l1 23l1-69l1 69l1 0l1 0l1-46l1 46l1-69l1 69l1-46l1 23l1 23l1-23l1 23l1-23l1 23l1 0l1-46l1 23l1-46l1 69l1-23l1 0l1-46l1 46l1 23l1-23l1 0l1 23l1-23l1-23l1-23l1-23l1 0l1 0l1 46l1 23l1 0l1 0l1 0l1-23l1 46l1 0l1 0l1 0l1-23l1 23l1 0l1 0l1-23l1 0l1 0l1 0l1-23l1 0l1 0l1 46l1-46l1 0l1 46l1 0l1-46l1 46l1 0l1-92l1 92l1-46l1 46l1-46l1 46l1-69l1 69l1 0l1 0l1-23l1-23l1 23l1 0l1 23l1-23l1 23l1-46l1 46l1 0l1-46l1 46l1-46l1 46l1 0l1-46l1 23l1 23l1 0l1 0l1-23l1 0l1 0l1 0l1 0l1 0l1-69l1 23l1 46l1 23l1-46l1-69l1 92l1 0l1 23l1 0l1 0l1-46l1 23l1 0l1-46l1 46l1 0l1-23l1 46l1-23l1-46l1 0l1 69l1-46l1-23l1 69l1-46l1 46l1-23l1 23l1-23l1-23l1 46l1-46l1 23l1-23l1 0l1-46l1 0l1-136l1-249l1 293l1-95l1 187l1 23l1 0l1-23l1 92l1-46l1 46l1-92l1 46l1 46l1 0l1 0l1-23l1 23l1-23l1 23l1-46l1 23l1 23l1-69l1 69l1 0l1-69l1 46l1 0l1-23l1 46l1-69l1 46l1 23l1-46l1 23l1-23l1 46l1-23l1 23l1-23l1 0l1-69l1 92l1-46l1 23l1-46l1-23l1 69l1-46l1 46l1-69l1 69l1 23l1-23l1 23l1 0l1-23l1-23l1 46l1 0l1-46l1 23l1-23l1 46l1-23l1 23l1-69l1 69l1-23l1 23l1-23l1 0l1 23l1-46l1 46l1 0l1 0l1-23l1-23l1 23l1-23l1 23l1 23l1-46l1-23l1 69l1-92l1 69l1-46l1 46l1 0l1-92l1 69l1 23l1 23l1 0l1 0l1-23l1 0l1 0l1 0l1 0l1 23l1-23l1-23l1 46l1 0l1 0l1 0l1-23l1 0l1-23l1-23l1 0l1 69l1-46l1 23l1-23l1 0l1 23l1 23l1-23l1 0l1 0l1-23l1 0l1 23l1 23l1-23l1 23l1-23l1 23l1-23l1 23l1-46l1 0l1 0l1 23l1-46l1 46l1 23l1-23l1 23l1-69l1 69l1-46l1 23l1-69l1 92l1 0l1-122l1 122l1-23l1 23l1-23l1 23l1 0l1-46l1 46l1 0l1-69l1 69l1-46l1 46l1 0l1-161l1 161l1-23l1 23l1-69l1 69l1 0l1 0l1-92l1 92l1-46l1 46l1-46l1 0l1 46l1-46l1 23l1 23l1-69l1 46l1 23l1-46l1 0l1 0l1 46l1-23l1 0l1 23l1-115l1 92l1-23l1 23l1-23l1 23l1 23l1-23l1 0l1-46l1 69l1 0l1-46l1 46l1-23l1 23l1 0l1 0l1-23l1 23l1 0l1 0l1-23l1 0l1 0l1-23l1 0l1 46l1-23l1 23l1-23l1 23l1-23l1-23l1 46l1-46l1 46l1-46l1 46l1-23l1 0l1 0l1 23l1 0l1-69l1 69l1-23l1 0l1-46l1 23l1 23l1 0l1-161l1 184l1-23l1-23l1 0l1-23l1 23l1 23l1 23l1-23l1 0l1 0l1-23l1 46l1-23l1 23l1-46l1 23l1 23l1-23l1 0l1 0l1-69l1 69l1 0l1-46l1 69l1-92l1 92l1-23l1 0l1-46l1 23l1 46l1-23l1-46l1 69l1-23l1-23l1 0l1 23l1 0l1 0l1 23l1-46l1 23l1-23l1 23l1-46l1 69l1-23l1-23l1 23l1-23l1 46l1-23l1-23l1 23l1 0l1 0l1 0l1 0l1 0l1 0l1 23l1-142l1 142l1-46l1 0l1 23l1-23l1 46l1 0l1-46l1 0l1 46l1 0l1 0l1 0l1-23l1 0l1 23l1-23l1-23l1 23l1 0l1-23l1 23l1 23l1-23l1-23l1 23l1 23l1 0l1-23l1 23l1-46l1 46l1-23l1 0l1 23l1-46l1-23l1 0l1 0l1 0l1 69l1 0l1-69l1 46l1 0l1 0l1 23l1-23l1 0l1 0l1 23l1 0l1-69l1 69l1 0l1-46l1 23l1 0l1 0l1-69l1 69l1 23l1-46l1-46l1 69l1 0l1-23l1 0l1 0l1-23l1 23l1 23l1-23l1 46l1 0l1-23l1 0l1 23l1 0l1 0l1-69l1 69l1 0l1-23l1 0l1 0l1 0l1 23l1-69l1 69" fill="none" stroke="#f08a8a" stroke-width="4.0" vector-effect="non-scaling-stroke" stroke-linejoin="round" stroke-linecap="round"/>
<path transform="translate(113.25 952.35) scale(0.38375 0.5)" d="M0-20l4 1l4 4l4 10l4-14l4 0l4 2l4 6l4-4l4-3l4 6l4 2l4-15l4-15l4 12l4 7l4 14l4 6l4-12l4-2l4 7l4-4l4-13l4-11l4-3l4-2l4-6l4 6l4 20l4 4l4-4l4 7l4 5l4 3l4-10l4-19l4-5l4 27l4 0l4-12l4 13l4-4l4-1l4 4l4-1l4 4l4-7l4 5l4-3l4-11l4 11l4 4l4-2l4-7l4-12l4 1l4 18l4-5l4-10l4 1l4 2l4 0l4 6l4 13l4-1l4-2l4 0l4-4l4 8l4-4l4-10l4 2l4-9l4-31l4 17l4 32l4 7l4 0l4-17l4-3l4 8l4-3l4 1l4 7l4 0l4 3l4-1l4 1l4 3l4-13l4-20l4 0l4 19l4-1l4-8l4-5l4 5l4 13l4 0l4-41l4-119l4 90l4 49l4 20l4 10l4-8l4-7l4-4l4 3l4 5l4-9l4-19l4-1l4 25l4 12l4-5l4 0l4 4l4 4l4-4l4-13l4-13l4-9l4 13l4 22l4 1l4 3l4-5l4-21l4 1l4 10l4 2l4 10l4-4l4-14l4 5l4-2l4 3l4 14l4 1l4-11l4-12l4 5l4 5l4-4l4 1l4-2l4 0l4-6l4 1l4 10l4 8l4 7l4 0l4-7l4-2l4 3l4-3l4 2l4-3l4-18l4-19l4 5l4 18l4 13l4 2l4-8l4-13l4 1l4 4l4 3l4 2l4 2l4-5l4 3l4 4l4 3l4 5l4-6l4 1l4 11l4 2l4-12l4-1l4 7l4 2l4-15l4-20l4 12l4 16l4 6l4-5l4-12l4-11l4-4l4 3l4 22l4 12l4-4l4-6l4-6" fill="none" stroke="#e31a1c" stroke-width="3.6" vector-effect="non-scaling-stroke" stroke-linejoin="round"/>
<path transform="translate(113.25 952.35) scale(0.38375 0.5)" d="M0-27l2-2l2-1l2-1l2 3l2-2l2-1l2 4l2-2l2-2l2 1l2 0l2 1l2-2l2 4l2-3l2 2l2-3l2 1l2 1l2-2l2 0l2-1l2 2l2 0l2 1l2-3l2 2l2-1l2 2l2 0l2 0l2-1l2-1l2 2l2-2l2 2l2-2l2 1l2-1l2 1l2 0l2 1l2-1l2-1l2 3l2-3l2-2l2 2l2 0l2 2l2 0l2-2l2 3l2-2l2-1l2 3l2-1l2-2l2 3l2-2l2 0l2-2l2 1l2 3l2 0l2-2l2 1l2-1l2 0l2 0l2-2l2 1l2 2l2-1l2 0l2-1l2-2l2 3l2-2l2 2l2 1l2-1l2-2l2 0l2 2l2-2l2 2l2-1l2 2l2 2l2-2l2 1l2 1l2-2l2-2l2-1l2-1l2 1l2 3l2-2l2-2l2 3l2 1l2-2l2-1l2 2l2 0l2-3l2 2l2 0l2-1l2 1l2-1l2 1l2 2l2 0l2-2l2 0l2 1l2 1l2 0l2 1l2-4l2 2l2 1l2 0l2-1l2 0l2 3l2-3l2-2l2 3l2 1l2-2l2 0l2 1l2 0l2-1l2-2l2 2l2 0l2 0l2 1l2-2l2 2l2 0l2-2l2 0l2 1l2-1l2 0l2-1l2 2l2-4l2 4l2 1l2 1l2 0l2-2l2 2l2-1l2 1l2-2l2 2l2-1l2 1l2-2l2-1l2 1l2-1l2 2l2-3l2 3l2-1l2 2l2-4l2 3l2-1l2 0l2 0l2 0l2 1l2 0l2-1l2 1l2-2l2 4l2 1l2-3l2-1l2 0l2-2l2 3l2-1l2 0l2 0l2-8l2-7l2-11l2-8l2 4l2 16l2 9l2 3l2 2l2 0l2-1l2-1l2 4l2 0l2-1l2-1l2 0l2 0l2 1l2-1l2-1l2 0l2 1l2 0l2 1l2-1l2 1l2-1l2 0l2-1l2 0l2 1l2-2l2 2l2 0l2 0l2 3l2-2l2-1l2 2l2-1l2 0l2-2l2-1l2 3l2-3l2 1l2 0l2 0l2 3l2-2l2-1l2 0l2 1l2-2l2 4l2-3l2 1l2-3l2 3l2-4l2 3l2 1l2 4l2-5l2 0l2 4l2-4l2 1l2-1l2-2l2 1l2 2l2-1l2 0l2 2l2-1l2 2l2 0l2-3l2 1l2 1l2-1l2-1l2 0l2 2l2 1l2-2l2-1l2 2l2-3l2 2l2 0l2 1l2 0l2-2l2 4l2-3l2-1l2 0l2-2l2 1l2 1l2 3l2-1l2-1l2-1l2 3l2 0l2-1l2-1l2-2l2-1l2 2l2 1l2-1l2 1l2-1l2 2l2-2l2 1l2 0l2 2l2-1l2-1l2 2l2-2l2 0l2 1l2 0l2 0l2-3l2 0l2 4l2-4l2 1l2-1l2 1l2 1l2-1l2-1l2 4l2-2l2-1l2 0l2 3l2-3l2-3l2 3l2 3l2-4l2 2l2 2l2-1l2 0l2-2l2 0l2 0l2 1l2 0l2 2l2-2l2-2l2 1l2 3l2-1l2 0l2-2l2 3l2 0l2-2l2 2l2-1l2-1l2-1l2 3l2-2l2 1l2-1l2-1l2 1l2-1l2-1l2 1l2 0l2-1l2 2l2 0l2 0l2-1l2 2l2-1l2 0l2-1l2-2l2 2l2 2l2-3l2 1l2 0l2-1l2 0l2 2l2 5" fill="none" stroke="#808080" stroke-width="5.0" vector-effect="non-scaling-stroke" stroke-linejoin="round"/>
<path transform="translate(113.25 952.35) scale(0.38375 0.5)" d="M0-30l3 0l3 0l3 0l3 0l3 0l3 0l3 0l3-1l3 0l3 0l3 1l3 0l3 0l3 1l3 0l3-1l3 0l3 0l3-1l3 0l3 0l3 0l3 1l3 0l3-1l3 0l3 0l3 0l3 0l3 0l3 0l3 0l3 0l3 1l3 0l3 0l3 0l3 0l3 0l3 0l3 0l3 0l3 0l3 0l3 0l3 0l3 0l3 0l3 0l3 0l3 0l3 0l3 0l3 1l3 0l3 0l3 0l3-1l3 0l3 0l3 0l3 0l3 0l3 0l3 0l3 0l3 0l3 0l3 0l3 0l3 0l3 0l3 0l3 0l3 0l3 0l3 1l3 0l3 0l3-1l3 0l3 0l3 0l3 0l3 0l3 0l3 1l3 0l3-1l3 0l3 0l3 0l3 0l3 0l3 0l3 0l3 0l3 0l3 0l3 0l3 0l3 0l3 0l3 0l3 0l3 0l3 0l3 0l3 0l3 0l3 0l3 0l3 0l3 0l3 0l3 0l3 0l3 0l3 0l3 0l3 1l3 0l3-1l3 0l3 0l3 0l3 0l3 0l3 0l3 0l3-3l3-4l3-5l3 1l3 6l3 4l3 2l3 0l3 0l3-1l3 0l3 0l3 1l3 0l3-1l3 0l3 1l3-1l3 1l3 0l3 0l3-1l3 0l3 0l3 0l3 1l3 0l3 0l3 0l3 0l3-1l3 0l3 0l3 0l3 0l3 0l3-1l3 0l3 0l3 0l3 1l3 0l3 0l3 0l3 0l3 1l3 0l3 0l3-1l3 0l3 0l3 0l3 1l3 0l3-1l3 0l3 0l3 1l3 0l3 0l3-1l3 0l3 0l3-1l3 0l3 0l3 1l3 0l3 0l3 0l3 0l3 1l3-1l3 0l3 0l3 0l3 0l3 0l3 0l3 0l3 0l3 0l3 0l3 0l3 0l3 0l3 0l3 0l3 0l3 0l3 0l3 0l3 0l3 0l3 0l3 0l3 0l3 0l3 0l3 0l3 0l3 0l3 0l3 1l3 0l3-1l3 0l3 0l3 0l3 0l3 1l3 0l3-1l3 0l3 0l3 0l3 0l3 0l3 0l3 0l3 0l3 0l3 1l3 0l3-1l3 0l3 0l3 0l3 0l3 0l3 1l3-1l3 0l3 0l3 0l3 0" fill="none" stroke="#000000" stroke-width="3.5" vector-effect="non-scaling-stroke" stroke-linejoin="round"/>
<rect x="254.28" y="943.35" width="24.94" height="9.00" fill="#ff0099"/>
</g>
<path d="M151.62 698.55v8.3M151.62 952.35v-8.3M190.00 698.55v16.8M190.00 952.35v-16.8M228.38 698.55v8.3M228.38 952.35v-8.3M266.75 698.55v16.8M266.75 952.35v-16.8M305.12 698.55v8.3M305.12 952.35v-8.3M343.50 698.55v16.8M343.50 952.35v-16.8M381.88 698.55v8.3M381.88 952.35v-8.3M113.25 950.75h16.5M420.25 950.75h-16.5M113.25 825.45h16.5M420.25 825.45h-16.5" stroke="#000" stroke-width="2" fill="none"/>
<rect x="113.25" y="698.55" width="307.00" height="253.80" fill="none" stroke="#000" stroke-width="3.1"/>
<text x="96.95" y="958.85" class="tl" text-anchor="end">0.000</text>
<text x="96.95" y="831.95" class="tl" text-anchor="end">0.005</text>
<text x="96.95" y="705.05" class="tl" text-anchor="end">0.010</text>
<text x="267.75" y="678.20" class="tt" text-anchor="middle">RAD21 (n = 2,819)</text>
<clipPath id="c11"><rect x="528.25" y="698.55" width="307.00" height="253.80"/></clipPath>
<g clip-path="url(#c11)">
<path transform="translate(528.25 952.35) scale(0.38375 0.5)" d="M0-104l1 0l1 104l1 0l1-52l1 0l1 0l1 0l1-156l1 208l1 0l1 0l1 0l1 0l1-52l1 0l1 52l1 0l1-52l1 0l1 52l1 0l1 0l1-104l1 104l1 0l1 0l1-52l1 52l1 0l1 0l1-52l1 52l1 0l1 0l1 0l1 0l1 0l1 0l1-104l1 104l1 0l1 0l1-52l1-52l1 104l1 0l1-52l1 52l1-52l1 0l1 52l1-52l1 52l1-52l1 52l1-208l1 156l1 0l1 52l1-104l1 104l1 0l1 0l1 0l1-52l1 0l1 52l1-104l1 104l1-52l1 52l1-52l1 52l1-52l1 52l1 0l1 0l1 0l1-52l1 0l1 0l1 52l1-104l1 52l1 52l1-52l1 0l1 0l1 52l1-156l1 104l1 52l1 0l1 0l1 0l1 0l1 0l1 0l1 0l1 0l1 0l1-104l1 104l1-52l1 52l1-52l1 52l1-104l1 0l1 104l1 0l1-52l1 52l1 0l1-52l1 52l1-208l1 156l1 52l1-52l1 0l1 0l1-52l1 104l1 0l1-104l1 104l1 0l1-260l1 156l1 104l1 0l1-52l1 0l1 0l1-52l1 0l1 52l1-156l1 208l1-104l1 52l1 52l1 0l1 0l1 0l1-52l1 0l1 52l1-226l1 174l1 52l1 0l1 0l1-52l1 52l1 0l1-156l1-52l1 0l1 156l1 0l1 52l1 0l1-52l1-52l1 52l1 0l1-52l1 52l1-52l1 52l1-104l1 156l1-156l1 156l1-104l1 52l1-104l1 156l1-208l1 208l1 0l1-156l1-52l1 104l1 104l1-52l1 0l1 0l1-52l1 0l1 104l1-52l1 52l1-52l1 0l1 52l1 0l1 0l1-52l1-52l1 104l1 0l1 0l1 0l1-208l1 156l1 52l1-52l1 52l1 0l1-156l1 52l1 104l1-208l1 156l1 52l1-52l1 0l1 52l1 0l1-52l1 0l1 52l1-52l1 52l1 0l1 0l1-52l1 0l1 52l1 0l1 0l1 0l1-52l1 52l1 0l1-208l1 208l1-104l1 0l1 104l1 0l1 0l1-52l1 52l1 0l1-52l1 0l1 0l1 52l1-52l1 0l1-52l1 104l1-52l1 0l1 52l1 0l1 0l1 0l1-208l1 104l1 52l1 0l1 0l1-104l1 156l1-52l1 0l1-52l1 52l1 0l1-52l1 104l1 0l1-52l1 52l1-104l1 104l1-104l1 0l1 104l1 0l1 0l1 0l1-104l1 104l1 0l1 0l1 0l1 0l1-156l1 156l1 0l1 0l1 0l1-104l1 0l1 0l1 52l1 0l1 0l1 0l1 52l1-104l1 52l1 52l1 0l1-104l1-52l1 156l1 0l1-156l1 156l1-104l1 52l1 0l1 52l1-52l1 52l1-104l1 104l1-52l1 52l1 0l1-52l1 52l1-104l1-52l1 156l1-104l1-104l1 104l1 52l1 0l1-156l1 208l1-259l1 155l1 104l1-104l1 0l1-104l1 0l1 156l1-52l1-104l1 52l1 104l1-52l1-52l1 104l1 52l1-156l1 104l1-52l1 104l1-156l1 52l1 52l1 0l1-156l1-85l1-19l1 104l1 208l1-156l1 52l1 0l1 104l1 0l1-104l1 52l1 0l1 0l1 52l1-312l1-26l1 234l1 52l1 52l1-260l1 208l1-104l1 52l1-52l1-52l1 104l1 0l1 104l1-104l1-104l1-164l1 320l1-52l1-156l1 52l1-52l1 0l1 104l1 156l1-208l1-266l1 422l1-156l1 156l1 0l1 0l1 0l1-298l1 90l1 52l1 104l1 0l1 52l1 52l1-156l1 104l1-156l1 156l1-52l1 0l1-223l1 327l1-104l1-275l1 223l1 52l1-208l1 260l1 0l1-156l1 104l1 0l1 52l1 0l1 0l1 0l1-52l1-208l1 312l1-104l1-167l1 167l1-208l1 52l1 208l1-104l1 52l1 104l1-156l1 156l1-260l1 52l1 156l1-52l1 0l1 0l1 0l1 104l1-104l1 0l1-52l1 104l1 0l1 52l1-104l1 52l1 52l1-52l1 52l1-260l1 156l1 52l1-52l1 104l1-208l1 156l1-52l1 52l1 0l1-52l1 52l1 0l1 0l1-104l1 104l1-52l1 104l1-52l1 0l1 0l1 0l1 52l1 0l1-104l1 104l1 0l1 0l1 0l1 0l1-156l1 104l1-52l1 104l1-52l1-52l1 104l1-104l1 0l1 104l1-52l1 0l1 0l1-52l1 104l1-104l1 52l1-104l1 104l1-104l1 156l1 0l1 0l1-104l1 52l1-104l1 104l1 52l1-52l1 52l1-52l1 0l1 0l1 52l1 0l1-104l1 0l1 104l1 0l1 0l1 0l1-156l1 0l1 156l1-104l1 0l1 52l1 52l1 0l1-104l1 104l1-104l1 104l1 0l1-52l1 0l1 52l1 0l1-52l1 52l1-52l1 0l1 0l1-52l1 0l1 104l1-208l1 208l1-208l1 156l1-156l1 52l1 104l1 52l1 0l1-52l1-52l1 0l1 52l1 52l1 0l1 0l1-52l1 0l1 52l1 0l1-104l1 104l1 0l1 0l1-52l1-104l1 52l1 52l1-52l1 104l1-248l1 248l1 0l1 0l1 0l1 0l1-104l1-104l1 208l1-104l1 0l1 52l1 0l1 0l1-52l1 52l1-104l1 156l1-52l1 52l1-52l1-52l1 104l1 0l1 0l1-52l1 52l1-104l1 104l1 0l1-156l1 52l1 104l1 0l1-52l1 0l1 52l1-52l1 52l1-104l1 52l1 0l1-52l1 104l1-52l1 52l1-52l1 52l1 0l1-104l1 52l1 0l1 0l1 52l1 0l1 0l1 0l1-52l1 52l1-52l1 0l1 52l1-52l1 52l1 0l1-52l1 0l1-52l1 52l1-52l1 0l1-104l1 0l1 208l1 0l1 0l1-52l1-52l1 0l1 104l1-52l1 52l1 0l1 0l1 0l1 0l1-156l1-52l1 104l1 104l1-104l1 104l1-208l1 156l1 52l1 0l1 0l1 0l1-52l1 52l1 0l1 0l1-52l1 0l1 0l1 52l1-156l1 104l1-52l1 104l1-52l1 52l1-52l1 52l1-104l1 104l1 0l1-52l1 0l1-104l1 156l1-208l1 208l1 0l1 0l1 0l1-52l1 52l1-52l1 52l1 0l1-52l1 52l1-52l1 0l1 52l1 0l1 0l1 0l1 0l1-104l1 52l1 0l1-52l1 104l1-52l1-52l1 52l1 52l1-52l1 52l1 0l1 0l1-52l1 52l1-156l1 156l1-52l1-52l1 0l1 52l1 52l1 0l1 0l1-208l1 104l1 52l1 52l1-208l1 156l1 52l1 0l1-104l1 104l1 0l1 0l1 0l1-104l1-52l1-52l1 208l1-52l1 52l1 0l1 0l1-52l1-104l1 104l1 0l1 52l1 0l1 0l1 0l1 0l1 0l1 0l1 0l1 0l1 0l1 0l1 0" fill="none" stroke="#f08a8a" stroke-width="4.0" vector-effect="non-scaling-stroke" stroke-linejoin="round" stroke-linecap="round"/>
<path transform="translate(528.25 952.35) scale(0.38375 0.5)" d="M0-57l4 1l4 8l4 10l4 7l4 3l4 4l4 4l4 2l4-2l4-7l4-7l4-5l4-6l4-4l4 4l4 7l4 3l4 3l4 0l4-6l4-7l4 1l4 11l4 10l4-2l4-9l4-7l4-5l4-5l4-5l4-4l4-5l4-5l4-2l4 10l4 18l4 11l4-6l4-20l4-15l4-1l4-1l4-5l4-4l4-3l4 2l4 10l4 17l4 14l4 6l4-5l4-9l4-8l4 1l4 12l4 13l4 7l4-2l4-9l4-7l4 3l4 3l4-3l4-4l4-7l4-11l4-4l4 6l4 8l4 7l4 7l4 7l4-1l4-10l4-11l4-4l4 0l4-1l4 2l4 7l4 2l4-13l4-22l4-18l4-12l4-13l4-6l4 8l4 8l4-4l4-9l4 8l4 20l4 5l4-14l4-16l4-15l4-21l4-29l4-17l4 9l4 21l4 19l4 21l4 19l4 0l4-14l4-2l4 12l4 3l4-12l4-10l4 1l4 8l4 14l4 17l4 13l4 1l4-4l4 2l4 8l4 11l4 14l4 13l4 2l4-8l4-9l4-5l4-3l4-3l4 3l4 8l4 8l4 4l4-2l4-8l4-2l4 8l4 9l4 0l4-14l4-23l4-12l4 10l4 21l4 16l4 5l4-8l4-7l4 0l4-3l4-10l4-3l4 8l4 13l4 6l4-2l4-2l4 0l4 0l4 3l4 5l4 6l4 3l4-6l4-17l4-20l4-4l4 14l4 11l4-5l4-8l4 7l4 17l4 4l4-7l4-5l4 0l4-1l4 1l4 10l4 9l4 3l4-4l4-9l4-6l4 2l4 0l4-9l4-8l4-5l4 4l4 6l4-1l4 0l4 9l4 14l4 17l4 10l4 3" fill="none" stroke="#e31a1c" stroke-width="3.6" vector-effect="non-scaling-stroke" stroke-linejoin="round"/>
<path transform="translate(528.25 952.35) scale(0.38375 0.5)" d="M0-56l2-2l2 8l2 2l2-9l2 4l2-4l2-3l2 4l2 1l2-3l2-4l2 2l2 4l2-1l2-1l2 2l2 1l2 1l2-1l2 2l2-4l2 1l2-1l2 1l2-2l2 4l2-1l2-2l2 4l2-3l2-3l2 5l2-5l2 1l2 2l2 0l2 5l2-5l2-4l2 7l2-4l2 2l2 0l2 0l2 3l2-4l2-1l2-1l2 0l2-4l2 7l2 2l2-3l2-4l2 3l2 0l2-2l2 5l2-4l2 0l2 1l2-5l2 7l2-6l2 4l2-2l2 3l2 0l2-3l2 5l2-4l2 3l2-1l2 0l2 1l2 2l2 1l2-7l2 4l2-4l2 5l2 4l2 0l2-1l2-4l2-5l2 5l2-3l2 2l2 3l2-5l2 1l2 1l2 0l2 2l2-3l2-1l2 3l2 3l2-3l2-6l2-1l2 1l2 0l2 5l2 0l2 0l2-1l2 4l2-2l2-1l2-5l2 1l2 3l2 1l2-1l2 3l2-1l2-2l2 3l2-3l2 2l2-3l2 0l2 4l2 1l2-3l2-1l2-2l2 0l2 0l2 2l2 0l2 2l2 0l2 1l2-1l2 2l2-3l2-4l2 3l2 2l2-2l2 3l2-4l2 4l2-3l2 6l2-5l2 1l2 1l2 0l2-4l2 0l2 1l2 3l2-1l2 0l2-1l2-5l2-1l2 5l2 2l2 1l2-2l2 0l2 4l2-5l2-1l2 1l2 0l2 2l2 0l2 1l2-4l2 2l2 3l2-4l2 4l2-4l2 1l2 2l2-3l2 1l2 5l2-5l2-5l2 5l2 2l2-4l2 4l2 2l2-6l2 3l2-1l2-2l2-7l2-13l2-21l2-9l2 4l2 22l2 15l2 6l2-2l2 7l2 1l2 3l2-4l2 2l2-1l2 1l2-7l2 6l2 0l2 0l2-4l2 2l2 0l2 2l2-2l2-2l2 1l2 1l2 3l2-1l2 0l2-1l2-1l2-3l2 4l2 0l2-1l2 0l2 2l2 1l2-3l2-2l2 5l2-1l2-2l2 1l2 0l2 1l2 0l2 0l2 1l2-3l2-3l2 5l2-3l2 3l2-3l2 4l2 0l2 0l2-2l2-2l2 1l2-5l2 3l2 3l2 0l2 3l2-3l2 1l2-2l2-1l2 4l2-2l2-1l2-1l2 0l2-2l2-2l2 3l2 5l2-2l2 3l2-3l2-3l2 1l2 0l2 2l2-6l2 7l2 1l2-4l2 2l2-1l2 4l2-2l2-4l2 0l2 4l2 2l2 3l2-6l2-4l2 8l2-6l2 1l2-1l2 3l2 1l2-6l2 1l2 3l2 2l2-6l2 4l2 0l2 0l2 0l2 1l2-4l2 4l2 1l2-8l2 2l2 8l2-3l2-9l2 5l2 2l2 2l2 5l2-8l2 1l2-1l2 4l2-2l2-3l2-3l2 5l2-1l2 2l2-2l2 0l2 1l2 0l2-3l2 7l2-7l2 4l2 2l2-2l2 1l2 0l2-1l2 3l2-7l2 5l2 2l2 2l2-7l2 0l2 2l2 0l2-1l2-1l2-1l2 0l2 2l2 4l2-4l2-1l2 0l2 1l2 1l2 1l2-6l2 5l2 1l2-5l2 1l2 4l2-3l2 3l2 0l2-1l2-5l2 7l2-1l2-1l2 2l2 1l2-3l2-3l2 1l2 7l2-7l2-5l2 5l2 2l2-1l2 3l2-4l2 2l2 4" fill="none" stroke="#808080" stroke-width="5.0" vector-effect="non-scaling-stroke" stroke-linejoin="round"/>
<path transform="translate(528.25 952.35) scale(0.38375 0.5)" d="M0-59l3 0l3 2l3 1l3 0l3-1l3 1l3 0l3 0l3 0l3-1l3 0l3 1l3 0l3 0l3 0l3 0l3 0l3 0l3 0l3 1l3 0l3 0l3 0l3-1l3-1l3 0l3 0l3 0l3 0l3 0l3 1l3 0l3 0l3-1l3 0l3 0l3 0l3 0l3 0l3 0l3 0l3 0l3 0l3 0l3 1l3 0l3 0l3 0l3 0l3 0l3 0l3-1l3 0l3-1l3 0l3 1l3 1l3 1l3 0l3 0l3 0l3 1l3 0l3-1l3-1l3 0l3-1l3 0l3 0l3 0l3 0l3 0l3 0l3 0l3 0l3 0l3-1l3 1l3 1l3 0l3 0l3 0l3-1l3 0l3-1l3 0l3 1l3 0l3 0l3 0l3-2l3 0l3 1l3 0l3 1l3 0l3 0l3 0l3 0l3 0l3 1l3 1l3-1l3-1l3 0l3 0l3 1l3 0l3 0l3 1l3-1l3-1l3 0l3 1l3 0l3 0l3 0l3 0l3-1l3-1l3 0l3 0l3 1l3 0l3 1l3-1l3-1l3 0l3 0l3-1l3-2l3-7l3-6l3 2l3 7l3 6l3 2l3 1l3 1l3 0l3-1l3 0l3 0l3-1l3 0l3 0l3 0l3 0l3 0l3 0l3 0l3 0l3 1l3 1l3 0l3-1l3-1l3 0l3 0l3 0l3 1l3 0l3 0l3 0l3 0l3 0l3 0l3 0l3 0l3 0l3 0l3 0l3 0l3-1l3 0l3-1l3-1l3 1l3 0l3 1l3 0l3 0l3 0l3 0l3 1l3 0l3 1l3 0l3 0l3-1l3 0l3 0l3-1l3 0l3 0l3-1l3 0l3 1l3 0l3 1l3 0l3 0l3 0l3 0l3 0l3 0l3 0l3 1l3-1l3 0l3 0l3-1l3 0l3 1l3 1l3 0l3 0l3-1l3 0l3 0l3 0l3-1l3 0l3 1l3 0l3 1l3-1l3 0l3-1l3-1l3 0l3 1l3 1l3 0l3 0l3 0l3 0l3 0l3-1l3 0l3 0l3 0l3 0l3 0l3 1l3 0l3-1l3 0l3-1l3 0l3 1l3 1l3 0l3 0l3 0l3 0l3 0l3 0l3 0l3 0l3-1l3 0l3 0l3 0l3-1l3 0" fill="none" stroke="#000000" stroke-width="3.5" vector-effect="non-scaling-stroke" stroke-linejoin="round"/>
<rect x="669.28" y="943.35" width="24.94" height="9.00" fill="#ff0099"/>
</g>
<path d="M566.62 698.55v8.3M566.62 952.35v-8.3M605.00 698.55v16.8M605.00 952.35v-16.8M643.38 698.55v8.3M643.38 952.35v-8.3M681.75 698.55v16.8M681.75 952.35v-16.8M720.12 698.55v8.3M720.12 952.35v-8.3M758.50 698.55v16.8M758.50 952.35v-16.8M796.88 698.55v8.3M796.88 952.35v-8.3M528.25 950.75h16.5M835.25 950.75h-16.5M528.25 839.55h16.5M835.25 839.55h-16.5M528.25 726.75h16.5M835.25 726.75h-16.5" stroke="#000" stroke-width="2" fill="none"/>
<rect x="528.25" y="698.55" width="307.00" height="253.80" fill="none" stroke="#000" stroke-width="3.1"/>
<text x="511.95" y="958.85" class="tl" text-anchor="end">0.000</text>
<text x="511.95" y="846.05" class="tl" text-anchor="end">0.002</text>
<text x="511.95" y="733.25" class="tl" text-anchor="end">0.004</text>
<text x="682.75" y="678.20" class="tt" text-anchor="middle">MAX (n = 2,777)</text>
<clipPath id="c12"><rect x="943.35" y="698.55" width="307.00" height="253.80"/></clipPath>
<g clip-path="url(#c12)">
<path transform="translate(943.35 952.35) scale(0.38375 0.5)" d="M0 0l1 0l1 0l1 0l1-27l1-13l1 27l1 0l1 13l1-27l1 14l1 0l1 0l1-14l1 14l1 13l1 0l1 0l1 0l1-40l1 27l1 13l1-54l1 54l1 0l1-27l1-53l1 26l1 54l1-13l1 13l1 0l1-27l1 27l1-40l1 27l1 0l1 0l1 13l1-13l1-14l1 14l1 13l1 0l1-13l1 0l1 0l1-14l1 14l1-41l1 54l1 0l1 0l1 0l1-40l1 27l1 13l1-13l1-27l1 40l1-13l1-27l1 40l1-40l1 13l1 14l1 0l1 0l1 13l1-13l1 0l1 13l1-13l1 0l1-27l1 27l1 13l1-67l1 54l1 0l1 13l1 0l1-13l1-14l1 27l1-13l1 0l1 13l1-27l1-13l1 0l1 40l1-13l1 0l1 0l1-27l1-14l1 54l1-13l1 0l1-14l1 14l1 0l1 13l1-13l1 13l1-13l1 0l1 13l1-13l1 0l1 13l1-54l1 54l1-40l1 27l1 0l1 0l1-67l1 80l1-13l1-54l1 67l1-13l1 13l1 0l1-27l1 27l1-13l1 0l1 13l1-13l1 0l1 0l1 0l1 0l1-41l1 54l1 0l1 0l1 0l1-27l1 0l1 27l1-40l1 27l1 13l1 0l1-54l1 27l1 27l1-13l1 0l1 13l1 0l1-40l1 27l1-41l1 54l1 0l1-27l1 14l1 0l1 0l1 13l1 0l1-13l1 0l1 13l1 0l1-27l1 14l1 0l1 13l1 0l1-13l1 0l1 13l1-13l1 13l1 0l1-54l1 54l1 0l1-13l1 13l1-13l1 13l1-13l1 0l1-41l1 54l1 0l1 0l1 0l1-13l1 13l1 0l1 0l1-13l1 0l1 0l1-14l1 0l1 14l1 13l1-13l1-14l1 14l1-27l1 13l1-27l1 41l1 13l1 0l1-13l1 13l1-13l1 13l1-27l1 27l1 0l1 0l1-13l1 0l1 0l1 13l1-13l1-14l1 27l1-27l1 14l1-14l1 0l1 27l1-40l1 40l1-13l1 13l1 0l1 0l1 0l1-13l1 0l1 0l1-14l1 27l1 0l1 0l1-13l1 0l1 13l1-13l1-14l1 27l1 0l1-13l1 13l1-27l1 27l1-27l1 27l1-27l1 0l1 14l1-41l1 27l1 27l1-27l1 27l1-40l1 0l1 40l1 0l1 0l1 0l1-13l1 0l1 0l1 13l1 0l1-13l1 13l1-27l1 27l1-13l1 13l1-54l1 54l1 0l1-27l1 14l1-14l1 0l1 27l1-54l1 54l1-13l1-14l1 27l1 0l1 0l1-13l1-14l1 27l1-13l1 0l1 13l1-27l1 14l1 0l1 13l1-13l1 13l1-27l1-13l1 27l1 13l1 0l1-13l1 0l1 13l1 0l1-67l1 67l1-27l1-13l1 13l1-27l1 0l1-13l1 27l1 13l1 27l1-13l1-14l1-80l1 107l1-27l1-53l1 13l1 54l1 0l1 0l1-81l1 0l1 27l1-27l1 54l1 40l1-27l1-80l1 94l1-14l1 27l1-85l1 72l1-67l1 80l1-40l1 0l1 27l1-41l1 0l1 0l1 41l1 0l1-14l1 0l1-40l1 67l1-67l1 0l1 40l1-27l1-40l1 27l1 54l1-81l1 54l1-87l1 73l1-93l1 107l1-27l1 27l1-40l1 40l1-14l1-53l1-62l1 142l1-107l1-54l1-107l1 161l1-54l1-38l1 92l1-13l1-347l1 333l1-94l1-19l1 100l1 134l1-107l1 93l1-101l1 61l1 14l1-228l1 268l1-94l1 67l1 27l1-107l1 93l1 0l1 14l1-78l1 78l1-81l1 94l1-13l1-54l1-13l1 67l1-54l1 54l1 13l1 27l1-40l1-67l1 67l1 27l1 0l1 0l1-108l1 41l1-10l1 36l1 54l1-80l1 80l1-40l1 13l1-40l1 54l1 0l1-14l1 27l1-13l1 13l1 0l1-67l1 13l1 27l1 0l1-13l1 40l1 0l1 0l1 0l1-27l1 0l1-40l1 40l1 14l1 13l1-13l1-67l1 53l1 0l1 14l1-27l1 13l1 0l1 14l1-27l1 40l1-13l1-27l1 40l1 0l1-54l1 54l1-13l1 13l1-13l1 13l1-27l1 0l1 27l1-27l1-13l1 40l1 0l1-13l1 0l1 13l1-40l1 27l1 0l1 0l1-14l1 0l1 27l1-13l1 0l1 0l1 13l1 0l1 0l1 0l1-40l1-27l1 54l1 0l1 13l1-27l1 14l1-54l1 67l1-54l1 14l1 13l1 14l1 13l1 0l1 0l1 0l1-40l1 40l1 0l1-13l1-14l1-13l1 27l1 13l1-13l1 13l1-27l1-13l1 40l1-27l1 14l1 0l1-41l1 41l1-14l1 0l1 14l1-14l1 27l1-13l1 13l1-27l1 27l1 0l1-13l1 13l1-13l1 13l1-13l1 0l1-41l1 0l1 54l1-13l1-14l1 27l1-80l1 67l1 0l1 0l1-14l1 27l1-13l1 13l1-13l1 13l1-67l1 67l1-40l1-14l1 54l1-27l1 27l1-13l1 13l1 0l1 0l1-13l1-14l1 0l1 27l1 0l1-27l1 27l1-13l1 0l1-41l1 54l1 0l1-13l1 13l1-40l1 13l1-40l1 13l1 27l1 14l1 13l1-13l1 13l1-40l1 0l1 13l1 27l1 0l1 0l1-13l1-14l1 0l1 14l1 13l1 0l1-27l1-13l1 27l1 13l1-13l1 13l1 0l1-27l1 0l1 27l1-13l1 0l1 13l1-13l1 13l1-13l1-14l1 0l1 27l1-13l1-41l1 0l1 27l1 14l1 13l1-13l1-54l1 54l1 13l1-13l1 13l1-13l1 0l1 13l1-13l1-14l1 27l1 0l1 0l1 0l1-13l1-14l1 14l1 0l1 0l1 0l1 13l1 0l1-13l1-14l1 0l1 14l1 13l1-27l1 14l1-27l1-14l1 41l1-14l1 14l1 13l1 0l1-13l1 13l1 0l1-13l1 13l1-27l1-27l1 54l1-13l1 13l1 0l1-27l1 14l1 13l1-13l1-14l1 27l1 0l1-13l1-14l1 27l1-40l1 13l1 27l1 0l1-27l1 27l1-13l1 13l1-13l1 13l1 0l1-13l1 0l1 13l1 0l1-13l1 13l1-27l1 0l1 27l1-13l1 0l1 0l1 13l1-13l1 13l1-13l1-14l1 27l1-40l1 40l1-40l1 13l1 27l1-13l1 0l1-27l1 0l1 27l1-14l1 14l1 13l1-27l1 0l1 14l1 13l1-13l1-14l1 27l1-13l1 13l1-27l1-27l1 41l1-14l1 14l1-27l1 0l1 13l1 14l1 0l1 13l1 0l1-27l1 0l1 14l1 13l1-13l1 13l1-40l1 13l1 14l1 0l1 0l1-14l1 14l1-14l1 14l1-14l1 14l1 13l1-54l1 54l1-13l1-14l1-13l1 27l1 13l1-13l1 13" fill="none" stroke="#f08a8a" stroke-width="4.0" vector-effect="non-scaling-stroke" stroke-linejoin="round" stroke-linecap="round"/>
<path transform="translate(943.35 952.35) scale(0.38375 0.5)" d="M0-5l4-3l4-3l4 2l4 1l4-5l4-6l4 1l4 5l4 3l4 1l4-1l4-1l4 1l4-2l4-2l4 0l4 3l4-1l4-2l4 3l4 0l4-3l4-3l4 1l4 4l4 4l4-1l4-5l4-5l4 1l4 7l4 3l4-1l4-1l4 0l4-2l4 0l4 0l4 0l4 2l4 3l4 2l4 0l4 0l4-1l4-1l4 0l4 2l4 1l4-4l4-5l4-3l4 3l4 6l4 2l4-1l4-4l4-2l4 4l4 3l4 0l4 0l4-1l4-1l4-5l4-5l4 1l4 6l4 5l4 0l4-3l4-4l4-2l4 2l4 3l4 1l4-1l4-1l4-1l4-3l4-10l4-10l4-1l4-3l4-11l4-14l4-3l4 14l4 11l4 2l4-4l4-10l4-14l4-6l4-1l4-8l4-25l4-47l4-48l4-67l4 92l4 40l4 13l4 14l4 11l4 9l4 17l4 15l4 1l4-3l4 9l4 13l4 9l4 2l4 5l4 1l4-4l4-2l4 3l4 6l4 4l4 3l4-1l4 0l4 0l4 0l4 2l4 0l4-6l4-5l4 1l4 7l4 4l4-2l4-2l4-3l4-1l4 3l4 6l4 1l4-6l4-6l4 1l4 4l4 0l4-2l4 5l4 3l4-1l4-2l4-5l4-6l4 2l4 5l4 4l4 1l4 0l4 1l4 1l4-1l4-5l4-5l4 1l4 6l4 5l4 2l4-1l4-2l4-3l4-4l4-1l4 6l4 2l4-1l4 0l4 1l4-1l4 0l4 3l4 2l4 0l4-3l4-1l4-1l4-4l4-3l4-1l4 3l4 2l4-2l4-5l4 1l4 5l4 2l4-2l4-2l4 0l4 0l4 2l4 2" fill="none" stroke="#e31a1c" stroke-width="3.6" vector-effect="non-scaling-stroke" stroke-linejoin="round"/>
<path transform="translate(943.35 952.35) scale(0.38375 0.5)" d="M0-16l2 1l2-1l2 0l2 0l2 0l2 0l2 0l2 1l2 0l2-1l2 0l2 0l2 2l2-2l2 0l2-1l2 0l2 1l2 0l2 1l2 0l2 0l2 0l2-1l2 0l2 1l2 0l2 0l2-1l2 0l2-1l2 2l2 0l2 0l2 0l2 0l2 0l2-1l2-2l2 2l2 1l2-1l2 0l2 1l2 0l2-1l2 0l2 2l2-2l2 1l2-1l2 0l2 0l2 1l2 0l2-1l2 1l2 0l2-1l2-1l2 1l2 0l2 0l2-1l2 1l2 0l2 1l2-1l2-1l2 0l2 1l2 1l2-2l2 2l2-1l2-1l2 1l2 0l2 0l2 0l2-1l2 2l2 0l2-1l2 1l2-2l2 1l2-2l2 1l2 1l2 0l2 0l2-1l2 1l2 0l2-1l2 1l2 0l2 0l2 0l2 0l2-1l2 1l2 0l2 1l2-3l2 1l2 1l2 0l2 0l2 0l2 0l2 0l2 0l2 1l2-1l2-1l2 2l2 0l2-1l2-1l2 1l2 0l2 1l2-1l2 2l2-2l2-1l2 0l2 1l2 0l2 0l2-1l2 1l2 0l2 0l2 1l2-2l2 1l2 0l2-1l2 1l2 0l2-1l2 1l2 0l2 0l2 1l2-1l2 0l2 0l2 1l2-1l2 0l2-1l2-1l2 2l2 0l2-1l2 2l2-2l2 1l2 1l2 0l2-1l2-1l2 0l2 2l2 1l2-1l2-1l2 0l2 2l2-2l2 0l2 1l2-3l2 2l2 0l2-1l2 0l2 1l2 1l2-1l2 1l2-1l2 1l2-2l2 2l2-2l2 1l2-1l2 1l2 0l2-1l2 0l2-2l2-4l2-8l2-4l2 2l2 9l2 6l2 1l2 2l2-1l2-1l2 0l2 1l2 0l2 0l2-1l2 2l2-2l2-1l2 1l2 0l2 1l2 0l2 0l2-1l2 0l2-1l2 0l2 1l2 1l2-1l2 0l2 0l2 2l2-1l2-1l2 0l2 1l2 1l2-1l2 0l2 0l2 1l2 1l2-2l2 0l2 1l2 0l2-1l2-1l2 2l2 0l2-1l2 1l2 0l2-2l2 1l2-1l2 0l2 1l2 0l2 0l2 0l2 0l2 0l2 0l2 0l2 1l2-1l2 0l2 0l2 0l2 0l2 0l2 0l2-1l2 0l2 1l2 1l2-1l2 0l2-1l2 1l2-1l2 2l2 0l2 1l2-3l2 1l2 0l2 0l2 0l2 0l2 0l2 0l2 0l2 1l2 0l2-1l2 0l2 1l2 0l2-1l2-1l2 0l2 2l2-2l2 0l2 0l2 0l2 1l2-1l2 0l2 2l2-1l2 0l2 0l2 0l2-1l2 1l2 0l2 0l2-1l2 1l2 0l2-1l2-1l2 1l2 0l2 2l2-1l2-1l2 0l2 2l2 0l2-1l2-1l2-1l2 2l2-1l2 0l2 1l2 1l2-2l2 1l2 1l2-1l2-1l2 0l2 1l2 0l2 0l2-1l2 1l2 0l2 1l2 0l2-2l2-1l2 2l2-1l2 0l2 2l2-2l2 0l2 0l2 0l2 0l2 0l2 1l2 1l2 0l2-1l2 1l2-1l2-1l2 0l2 2l2 0l2-1l2-1l2 0l2 0l2 0l2 0l2 0l2 1l2 2l2-2l2 1l2-1l2 0l2 0l2 1l2 0l2-2l2 0l2 2l2-1l2-1l2 1l2 0l2-1l2 0" fill="none" stroke="#808080" stroke-width="5.0" vector-effect="non-scaling-stroke" stroke-linejoin="round"/>
<path transform="translate(943.35 952.35) scale(0.38375 0.5)" d="M0-16l3 0l3 0l3-1l3 1l3 0l3 0l3 0l3 0l3 0l3 0l3 0l3 0l3 0l3 0l3 0l3 0l3 0l3 0l3-1l3 1l3 0l3 0l3 0l3 0l3 0l3 0l3 0l3 0l3 0l3 0l3 0l3 0l3 0l3 0l3 0l3 0l3 0l3 0l3 0l3 0l3 0l3 0l3 0l3 0l3 0l3 0l3 0l3 0l3 0l3 0l3 0l3 0l3 0l3 0l3 0l3 0l3 0l3 0l3 0l3 0l3 0l3 0l3 0l3 0l3 0l3 0l3 0l3 0l3 0l3 0l3 0l3 0l3 0l3 0l3 0l3 0l3 0l3 0l3 0l3 0l3 0l3 0l3 0l3 0l3 0l3 0l3-1l3 0l3 1l3 0l3 0l3 0l3 0l3 0l3 0l3 0l3 0l3 0l3 0l3 0l3 0l3 0l3 0l3 0l3 0l3 0l3 0l3 0l3 0l3 0l3 0l3 0l3 0l3 1l3 0l3-1l3 0l3 0l3 0l3 0l3 0l3 0l3 0l3 0l3 0l3 0l3 0l3 0l3 0l3 0l3-2l3-2l3-3l3 1l3 3l3 2l3 1l3 1l3 0l3-1l3 0l3 0l3 0l3 0l3 0l3 0l3 0l3 0l3 0l3 1l3 0l3 0l3-1l3 0l3 0l3 0l3 0l3 0l3 0l3 0l3 0l3 0l3 0l3 0l3 0l3 0l3 0l3 0l3 0l3 0l3 0l3 0l3 0l3 0l3 0l3 0l3 0l3 0l3 0l3 0l3 0l3 0l3 0l3 0l3 0l3 0l3 0l3 0l3 0l3 0l3 0l3 0l3 0l3 0l3 0l3 0l3 0l3 0l3 0l3 0l3 0l3 0l3 0l3 0l3 0l3 0l3 0l3 0l3 0l3 0l3 0l3 0l3 0l3 0l3 0l3 0l3 0l3 0l3 0l3 0l3 0l3 0l3 0l3 0l3 0l3 0l3 0l3 0l3 0l3 0l3 0l3 0l3 0l3 0l3 0l3 0l3 0l3 0l3 0l3 0l3 0l3 0l3 0l3 0l3 0l3 0l3 0l3 0l3 0l3 0l3 0l3 0l3 0l3 0l3 0l3 0l3 0l3 0l3 0l3 0l3 0l3 0l3 0l3 0l3 0l3 0" fill="none" stroke="#000000" stroke-width="3.5" vector-effect="non-scaling-stroke" stroke-linejoin="round"/>
<rect x="1084.38" y="943.35" width="24.94" height="9.00" fill="#ff0099"/>
</g>
<path d="M981.73 698.55v8.3M981.73 952.35v-8.3M1020.10 698.55v16.8M1020.10 952.35v-16.8M1058.47 698.55v8.3M1058.47 952.35v-8.3M1096.85 698.55v16.8M1096.85 952.35v-16.8M1135.22 698.55v8.3M1135.22 952.35v-8.3M1173.60 698.55v16.8M1173.60 952.35v-16.8M1211.97 698.55v8.3M1211.97 952.35v-8.3M943.35 950.75h16.5M1250.35 950.75h-16.5M943.35 881.85h16.5M1250.35 881.85h-16.5M943.35 811.35h16.5M1250.35 811.35h-16.5M943.35 740.85h16.5M1250.35 740.85h-16.5" stroke="#000" stroke-width="2" fill="none"/>
<rect x="943.35" y="698.55" width="307.00" height="253.80" fill="none" stroke="#000" stroke-width="3.1"/>
<text x="927.05" y="958.85" class="tl" text-anchor="end">0.000</text>
<text x="927.05" y="888.35" class="tl" text-anchor="end">0.005</text>
<text x="927.05" y="817.85" class="tl" text-anchor="end">0.010</text>
<text x="927.05" y="747.35" class="tl" text-anchor="end">0.015</text>
<text x="1097.85" y="678.20" class="tt" text-anchor="middle">GABPA (n = 2,694)</text>
<clipPath id="c13"><rect x="1358.35" y="698.55" width="307.00" height="253.80"/></clipPath>
<g clip-path="url(#c13)">
<path transform="translate(1358.35 952.35) scale(0.38375 0.5)" d="M0-62l1 0l1 0l1 0l1-184l1 246l1 0l1 0l1 0l1-62l1 62l1-62l1 62l1 0l1-62l1-61l1 123l1-123l1 123l1-123l1 0l1 123l1 0l1 0l1 0l1-246l1 246l1-62l1 62l1 0l1-123l1-123l1 246l1-62l1 0l1-123l1 123l1 0l1 62l1-185l1 123l1 62l1-123l1-62l1 185l1 0l1-62l1 0l1 0l1-61l1 123l1 0l1-62l1-123l1 185l1-123l1 123l1-185l1 62l1 61l1 0l1 62l1-62l1 62l1 0l1-123l1 123l1-62l1 0l1 62l1 0l1-123l1 61l1 62l1 0l1-62l1 0l1 62l1-62l1 62l1-62l1 0l1 62l1 0l1-246l1 246l1-246l1 123l1 123l1 0l1 0l1 0l1 0l1-185l1 0l1 123l1 62l1 0l1-185l1 185l1 0l1 0l1-123l1 123l1-185l1 185l1-123l1 123l1 0l1-185l1 62l1 123l1 0l1 0l1 0l1 0l1-123l1 123l1 0l1 0l1 0l1-62l1-184l1 123l1 123l1-246l1 61l1-123l1 185l1 61l1-61l1 61l1-123l1 62l1-62l1-61l1 246l1-62l1 62l1-62l1 62l1-62l1 0l1 62l1-62l1 62l1 0l1 0l1-123l1 123l1-185l1 62l1 123l1 0l1 0l1-123l1 123l1-62l1-61l1 123l1-123l1 61l1-61l1 123l1-62l1-61l1-62l1 185l1 0l1-246l1 246l1-185l1 123l1 0l1-123l1 185l1-62l1-61l1 123l1 0l1-246l1 61l1 123l1 62l1-62l1-184l1 184l1 62l1-62l1-123l1 185l1-62l1 0l1 62l1 0l1 0l1-123l1 123l1 0l1-62l1-255l1 317l1-185l1 185l1 0l1-62l1-123l1 123l1 0l1 0l1 62l1 0l1 0l1-123l1 123l1-123l1 123l1-246l1 123l1 123l1 0l1 0l1-62l1 0l1 62l1-123l1 61l1 62l1 0l1-246l1 123l1 61l1 62l1-123l1 61l1 62l1-62l1 0l1 0l1 62l1 0l1 0l1-62l1 0l1 0l1 62l1 0l1 0l1-62l1 62l1 0l1-62l1 0l1 0l1 62l1 0l1 0l1-185l1 185l1-62l1 62l1-62l1 0l1-61l1 61l1-61l1 123l1 0l1 0l1-62l1-123l1 185l1-123l1 61l1 0l1 0l1 0l1-61l1 0l1-123l1 246l1 0l1-123l1 123l1-62l1 62l1-185l1 123l1-184l1 246l1 0l1-62l1-61l1 0l1 61l1 0l1 62l1-62l1-61l1 123l1-62l1 0l1-61l1 123l1 0l1-62l1 62l1 0l1-62l1-61l1 0l1 61l1 0l1-61l1 123l1-308l1 185l1-123l1 246l1-123l1 0l1 123l1-62l1 0l1 62l1-308l1 62l1 123l1 61l1-123l1 62l1 61l1-61l1 61l1-123l1 123l1 0l1 62l1 0l1-62l1-246l1 246l1-61l1 0l1 61l1 0l1 0l1-61l1 0l1 61l1 62l1-308l1-61l1 246l1 0l1 61l1-123l1-211l1 273l1-62l1-211l1 273l1 61l1-184l1 123l1 0l1 61l1-184l1-62l1 62l1-84l1 84l1 61l1 0l1 62l1 61l1 62l1-369l1 123l1 61l1 123l1 62l1-62l1-123l1-61l1-224l1 408l1-123l1-211l1 273l1-123l1-150l1 211l1 0l1 0l1-234l1 111l1 123l1 0l1-184l1 246l1-273l1 396l1-246l1 123l1-372l1 372l1-62l1 185l1-369l1-12l1-15l1 396l1-246l1 246l1-308l1 246l1-123l1 0l1 0l1 62l1-185l1 123l1 123l1 0l1-61l1 0l1 0l1-62l1 62l1-220l1 220l1-185l1 123l1 123l1 0l1 0l1 62l1-62l1 62l1-62l1-61l1 0l1 61l1 0l1 62l1-185l1 185l1-308l1 123l1-120l1 59l1 0l1 61l1 123l1-61l1-185l1 185l1-123l1 0l1 184l1-123l1-123l1 246l1 62l1-123l1 0l1 61l1-246l1 185l1 123l1 0l1 0l1-185l1 62l1-62l1 62l1 123l1-123l1 0l1 61l1-123l1 62l1 61l1 0l1-61l1 0l1 123l1-123l1 0l1 123l1-123l1 61l1-123l1 185l1-185l1 185l1 0l1-185l1 185l1 0l1-62l1 62l1-62l1 62l1 0l1-62l1 0l1 0l1 62l1 0l1-123l1 0l1 0l1 123l1-62l1 0l1-61l1 61l1-123l1 123l1 0l1-184l1 246l1 0l1-246l1 184l1 62l1-62l1 62l1-62l1 0l1 62l1 0l1 0l1-123l1 123l1-62l1 0l1-61l1 61l1 0l1 0l1 62l1 0l1-62l1-61l1 61l1 0l1 62l1-279l1 279l1-62l1 62l1-123l1 123l1 0l1 0l1 0l1-62l1-61l1-123l1 184l1 62l1 0l1 0l1-62l1 62l1-123l1 123l1-62l1 62l1-62l1 0l1 62l1-123l1 61l1 0l1-123l1 123l1-61l1 123l1-62l1 0l1 62l1-62l1 62l1-123l1 0l1 61l1 0l1 62l1-123l1 123l1-62l1 0l1 62l1 0l1-123l1 61l1 62l1-185l1 123l1 62l1-62l1 62l1 0l1-62l1 0l1-61l1 61l1 0l1-61l1 123l1 0l1-62l1-61l1-62l1 185l1-62l1 0l1 62l1-123l1 61l1-123l1 185l1-246l1 246l1 0l1-123l1 123l1 0l1-62l1-123l1 62l1 61l1 62l1 0l1-185l1 123l1-123l1 123l1 62l1-62l1 62l1 0l1-62l1 62l1-62l1-246l1 308l1 0l1-62l1 62l1-123l1 61l1-246l1 308l1-123l1 61l1 0l1 62l1-62l1 62l1-185l1 185l1 0l1-62l1 62l1 0l1-393l1 331l1 62l1-62l1 62l1 0l1 0l1-185l1 185l1-246l1 184l1-61l1 123l1-62l1 62l1 0l1-185l1 62l1 61l1-61l1 0l1 61l1 0l1-61l1 61l1 62l1-246l1 0l1 246l1-62l1-61l1 0l1 123l1 0l1 0l1 0l1-123l1-62l1 123l1 62l1-246l1 184l1 0l1 0l1 62l1 0l1 0l1 0l1 0l1-123l1 61l1-61l1 123l1-123l1 61l1-61l1 123l1 0l1-369l1 307l1-184l1 246l1-62l1 62l1 0l1-62l1-61l1-123l1 61l1 185l1-246l1 184l1 62l1 0l1-246l1 184l1 62l1-62l1 0l1 62l1-62l1 0l1 62l1 0l1-62l1-123l1 185l1-123l1-123l1 246l1-185l1 123l1 0l1 62l1 0l1 0l1-246l1 246l1-123l1 123l1 0l1-123l1-123l1 246l1 0l1-246l1 123l1 123l1 0l1-62l1 62l1 0l1 0l1 0l1 0l1-62l1 0l1 62l1-62l1 62l1-62l1 62l1 0l1 0l1-185l1 185l1 0l1-62l1 0l1 62l1-62" fill="none" stroke="#f08a8a" stroke-width="4.0" vector-effect="non-scaling-stroke" stroke-linejoin="round" stroke-linecap="round"/>
<path transform="translate(1358.35 952.35) scale(0.38375 0.5)" d="M0-62l4 11l4 19l4 0l4-13l4-3l4-1l4-11l4-13l4-2l4 6l4 9l4 6l4-7l4-6l4 13l4 16l4 4l4 2l4 0l4-12l4-18l4 2l4 5l4 0l4 5l4-3l4 3l4 16l4 3l4-34l4-51l4-19l4 16l4 36l4 38l4 12l4-9l4-7l4-3l4-11l4-11l4-8l4 0l4 3l4-4l4 2l4 17l4 23l4 12l4-7l4-12l4-1l4 0l4-8l4 6l4 1l4-12l4 2l4 18l4 14l4 6l4 1l4-6l4-10l4-10l4-4l4-3l4-12l4-12l4 3l4 5l4-3l4 6l4 10l4 10l4 4l4-16l4-31l4-17l4 6l4-8l4-8l4 18l4 15l4-5l4-9l4-23l4-41l4-29l4-2l4 13l4 2l4 11l4 19l4 13l4-14l4-52l4-46l4-12l4 20l4 32l4 15l4 12l4 16l4 10l4 15l4 1l4 11l4 40l4 17l4-22l4-42l4-31l4-9l4 11l4 28l4 22l4 10l4-2l4 3l4 10l4 10l4 6l4 15l4 22l4 8l4-11l4-19l4-17l4-8l4 11l4 26l4 14l4-7l4-7l4 2l4 2l4 7l4-1l4-11l4 6l4 7l4-9l4-16l4 0l4 9l4 0l4 5l4 3l4-2l4 2l4-5l4-7l4-5l4-6l4-3l4 6l4 2l4-5l4 7l4 11l4-6l4-13l4-7l4 15l4 20l4 12l4-2l4-20l4-15l4-4l4-10l4-9l4-1l4 17l4 12l4-5l4 12l4 16l4-14l4-24l4-14l4 4l4-5l4 0l4 22l4 20l4-3l4-21l4-2l4 13l4-3l4-8l4 15l4 30l4 11l4-5l4-6l4-3l4-1" fill="none" stroke="#e31a1c" stroke-width="3.6" vector-effect="non-scaling-stroke" stroke-linejoin="round"/>
<path transform="translate(1358.35 952.35) scale(0.38375 0.5)" d="M0-61l2 0l2 4l2-8l2-1l2 0l2 7l2-6l2-2l2 7l2 2l2-2l2-2l2 2l2-5l2 2l2 2l2-4l2 0l2 1l2 4l2-1l2-2l2 1l2-3l2-2l2 5l2-1l2 3l2-4l2 0l2-2l2 4l2-1l2 3l2 0l2-7l2 0l2 4l2 2l2-11l2 8l2-4l2 5l2-7l2 8l2-1l2 2l2 0l2 2l2-3l2 0l2 4l2 0l2-3l2-5l2 4l2 2l2-4l2-3l2 9l2-5l2 1l2-1l2-1l2 2l2-2l2 1l2 0l2 1l2 1l2-5l2 0l2 8l2-3l2-2l2 1l2-5l2 7l2 2l2-6l2 1l2-1l2-1l2 0l2 3l2 3l2-7l2 1l2-2l2-2l2 6l2-1l2 1l2 2l2-7l2 2l2-3l2 7l2-2l2 1l2 0l2-9l2 5l2 5l2-2l2-1l2-1l2 1l2 3l2 3l2-1l2-2l2 2l2-4l2-8l2 9l2-4l2 1l2-2l2 1l2 1l2-3l2 2l2 1l2 0l2 0l2 2l2 6l2-7l2 1l2 2l2 1l2-9l2 6l2 1l2-3l2-1l2 7l2 0l2-7l2 0l2 1l2-4l2 6l2 4l2-5l2-3l2 0l2 7l2 3l2-4l2-6l2 3l2 5l2-2l2-3l2 1l2-2l2 2l2 2l2 0l2 1l2-6l2 3l2 1l2 3l2-4l2-3l2 3l2-1l2-2l2 2l2 3l2 2l2 1l2-10l2-3l2 8l2-1l2-2l2 1l2 6l2 4l2-4l2-6l2 4l2 1l2-7l2 2l2-1l2 1l2 5l2-7l2 1l2 1l2-1l2-2l2-13l2-8l2-10l2 2l2 18l2 11l2 3l2 1l2-3l2 0l2 3l2 2l2-5l2 2l2 1l2 2l2 2l2-6l2 3l2 5l2 2l2 3l2-14l2 9l2-2l2-1l2-5l2 1l2-3l2 4l2 2l2 4l2-4l2 5l2-2l2-2l2 2l2-1l2-2l2-1l2-1l2 2l2-5l2-1l2 6l2 2l2 2l2 0l2-4l2-1l2-4l2 3l2 2l2 1l2-2l2 5l2-4l2 1l2-6l2 5l2-1l2 2l2 1l2-4l2 7l2-3l2-5l2-3l2 7l2 0l2-5l2 5l2 4l2-2l2-2l2 4l2-3l2-2l2 0l2 0l2-1l2-1l2 5l2 1l2-4l2 4l2-7l2 0l2 3l2-1l2 0l2 4l2-4l2 2l2-5l2 1l2 0l2 1l2-3l2 1l2 1l2 2l2 4l2-2l2 3l2-2l2-1l2-1l2 4l2-7l2 0l2 7l2 1l2-2l2 2l2 2l2-8l2-1l2-2l2 5l2-3l2 1l2-4l2 8l2 4l2-4l2-1l2-3l2 2l2-2l2 0l2 0l2 2l2 0l2-2l2 5l2-8l2 5l2 0l2-6l2 3l2 4l2-1l2-3l2 3l2-2l2-3l2 2l2 4l2 1l2 1l2-5l2-1l2 5l2-1l2-10l2 3l2 5l2-1l2-1l2-3l2 6l2-2l2 5l2-7l2-2l2 5l2 2l2-9l2 7l2-1l2 0l2 5l2-1l2-3l2-2l2 3l2 1l2-4l2 1l2 8l2-4l2-6l2 0l2 5l2-3l2-2l2 1l2 6l2-3l2 3l2 1l2-6l2 1l2-2l2 1l2-5l2 6l2-1l2 0l2 0l2 2l2-3" fill="none" stroke="#808080" stroke-width="5.0" vector-effect="non-scaling-stroke" stroke-linejoin="round"/>
<path transform="translate(1358.35 952.35) scale(0.38375 0.5)" d="M0-65l3 1l3 0l3 0l3 0l3 0l3 1l3 1l3 0l3 0l3 1l3 0l3 0l3-1l3 0l3-1l3 0l3 0l3-1l3 0l3 1l3 2l3 0l3 0l3-1l3-1l3 0l3 0l3 0l3 0l3 0l3 0l3 1l3 0l3 0l3-1l3-1l3-1l3 0l3 1l3 0l3 0l3-1l3 0l3 0l3 1l3 1l3 0l3 0l3 0l3-1l3 0l3 1l3 0l3 0l3 0l3 0l3 1l3 0l3 0l3 1l3-1l3 0l3-1l3 0l3 0l3 0l3-1l3 0l3 1l3 0l3-1l3-1l3 0l3 1l3 0l3 1l3 0l3 1l3 0l3 1l3 0l3 0l3-1l3-1l3-1l3 0l3 1l3 1l3 0l3-1l3 0l3-1l3 0l3-1l3 1l3 0l3 1l3 0l3 0l3-1l3 0l3 0l3 0l3 1l3-1l3-1l3 0l3 0l3 0l3 1l3 0l3 1l3 1l3 0l3 0l3-1l3 0l3 0l3 0l3 0l3 0l3 0l3 0l3 0l3 0l3 0l3 0l3 0l3 0l3 0l3-3l3-6l3-6l3 1l3 6l3 5l3 2l3 1l3 0l3 0l3-1l3 0l3 0l3 1l3-1l3 0l3 0l3 0l3 0l3 1l3 1l3 0l3 0l3 0l3 0l3 0l3 0l3 0l3-1l3 0l3 0l3-1l3 0l3 1l3 1l3 0l3 0l3-1l3 0l3 0l3 1l3 0l3-1l3 0l3 0l3 0l3 0l3 0l3 0l3 0l3 0l3 0l3 0l3 0l3-1l3 1l3 1l3 0l3 0l3-1l3-1l3-1l3 0l3 0l3 1l3 0l3 0l3 1l3 1l3 0l3 0l3 0l3 0l3 0l3-1l3 0l3 0l3-1l3 0l3 0l3 0l3 0l3 1l3 0l3 1l3-1l3-1l3 0l3 1l3 1l3-1l3-1l3-1l3 0l3 0l3 0l3 0l3 1l3 0l3 1l3 0l3 0l3 0l3 1l3-1l3 0l3 0l3 0l3 0l3 0l3 0l3 0l3 1l3 1l3 1l3-1l3-1l3 0l3-1l3 0l3 0l3 1l3 0l3-1l3 0l3 0l3 0l3 0l3 0l3 0l3 1l3 0l3-1l3 0l3 0l3 0" fill="none" stroke="#000000" stroke-width="3.5" vector-effect="non-scaling-stroke" stroke-linejoin="round"/>
<rect x="1499.38" y="943.35" width="24.94" height="9.00" fill="#ff0099"/>
</g>
<path d="M1396.72 698.55v8.3M1396.72 952.35v-8.3M1435.10 698.55v16.8M1435.10 952.35v-16.8M1473.47 698.55v8.3M1473.47 952.35v-8.3M1511.85 698.55v16.8M1511.85 952.35v-16.8M1550.22 698.55v8.3M1550.22 952.35v-8.3M1588.60 698.55v16.8M1588.60 952.35v-16.8M1626.97 698.55v8.3M1626.97 952.35v-8.3M1358.35 950.75h16.5M1665.35 950.75h-16.5M1358.35 888.90h16.5M1665.35 888.90h-16.5M1358.35 825.45h16.5M1665.35 825.45h-16.5M1358.35 762.00h16.5M1665.35 762.00h-16.5" stroke="#000" stroke-width="2" fill="none"/>
<rect x="1358.35" y="698.55" width="307.00" height="253.80" fill="none" stroke="#000" stroke-width="3.1"/>
<text x="1342.05" y="958.85" class="tl" text-anchor="end">0.000</text>
<text x="1342.05" y="895.40" class="tl" text-anchor="end">0.001</text>
<text x="1342.05" y="831.95" class="tl" text-anchor="end">0.002</text>
<text x="1342.05" y="768.50" class="tl" text-anchor="end">0.003</text>
<text x="1342.05" y="705.05" class="tl" text-anchor="end">0.004</text>
<text x="1512.85" y="678.20" class="tt" text-anchor="middle">MYC (n = 2,640)</text>
<clipPath id="c14"><rect x="1773.90" y="698.55" width="307.00" height="253.80"/></clipPath>
<g clip-path="url(#c14)">
<path transform="translate(1773.90 952.35) scale(0.38375 0.5)" d="M0-39l1 39l1 0l1 0l1-39l1 39l1 0l1-39l1 39l1-39l1 20l1 0l1 19l1 0l1 0l1-19l1 19l1 0l1 0l1-58l1 39l1-39l1 39l1 0l1 0l1-20l1 39l1-19l1 0l1 19l1-19l1 19l1-19l1 19l1 0l1 0l1 0l1 0l1 0l1 0l1-58l1 19l1 39l1 0l1-19l1 19l1-19l1 19l1-19l1 0l1 19l1-19l1-20l1 39l1-39l1 0l1 39l1-19l1 19l1-19l1 19l1 0l1 0l1-19l1 19l1 0l1 0l1-39l1 20l1 0l1 19l1-19l1 0l1 19l1 0l1-19l1 0l1 19l1 0l1-39l1 20l1 0l1 0l1 19l1-19l1-20l1 39l1-19l1 19l1-39l1 39l1 0l1 0l1 0l1 0l1 0l1-39l1 20l1 19l1-19l1 19l1-19l1 19l1-19l1 19l1-19l1-20l1 39l1-58l1 58l1-39l1 20l1-39l1 39l1 0l1 0l1 19l1 0l1-77l1 58l1 19l1 0l1 0l1 0l1-58l1 39l1 19l1 0l1-19l1 19l1-19l1-39l1 0l1 58l1-19l1 0l1 0l1 19l1-39l1 39l1 0l1 0l1 0l1 0l1 0l1-19l1 19l1 0l1-135l1 135l1-19l1 19l1-39l1 0l1 20l1-39l1 19l1 20l1 0l1 0l1 0l1 19l1-39l1 39l1 0l1-19l1-20l1 0l1 39l1 0l1-73l1 73l1-19l1 0l1-20l1 39l1-58l1 58l1 0l1 0l1 0l1-39l1 39l1 0l1-39l1 20l1 19l1 0l1 0l1 0l1 0l1-19l1 0l1 0l1 0l1 19l1 0l1-19l1-20l1 39l1-19l1 19l1-39l1 39l1-19l1 19l1 0l1 0l1 0l1 0l1-39l1 39l1-19l1 0l1 19l1 0l1-19l1 19l1-39l1 39l1-97l1 97l1 0l1-19l1 19l1-19l1 0l1-20l1 0l1 39l1 0l1 0l1 0l1 0l1-19l1 19l1-19l1 0l1 19l1 0l1 0l1 0l1-19l1-20l1 20l1 0l1 19l1 0l1-19l1 0l1 19l1 0l1 0l1-58l1 58l1 0l1 0l1 0l1-19l1-20l1-19l1 58l1-19l1 19l1 0l1-19l1 0l1 19l1 0l1 0l1 0l1-19l1 19l1 0l1-19l1 0l1 19l1-19l1 19l1-19l1 19l1 0l1 0l1-19l1 19l1 0l1-39l1 39l1-19l1 19l1-19l1-20l1 39l1-39l1 39l1-19l1 19l1 0l1-19l1 0l1 0l1 19l1 0l1 0l1 0l1 0l1-19l1 19l1-19l1 19l1 0l1 0l1 0l1-39l1 39l1-19l1-20l1-19l1 58l1-19l1 0l1 0l1-20l1 0l1 39l1 0l1-58l1 0l1 39l1-20l1 39l1-58l1 58l1 0l1-19l1 19l1 0l1-19l1 19l1 0l1-19l1 0l1 19l1 0l1-19l1 19l1-77l1 77l1 0l1-19l1-79l1 79l1-20l1 0l1 20l1-20l1 20l1-39l1 39l1 0l1-20l1-19l1 19l1-77l1 116l1-19l1-39l1 39l1 0l1 0l1 0l1 19l1-39l1-19l1 39l1-119l1 61l1-20l1 97l1-39l1-19l1 58l1-39l1 39l1-39l1-106l1 87l1-39l1 58l1-38l1-20l1 39l1 0l1-77l1 58l1 58l1-78l1-96l1 38l1 116l1-407l1 388l1-39l1 0l1 39l1 19l1-58l1 97l1-39l1-77l1-80l1 157l1-58l1 58l1 20l1 0l1 0l1-39l1-39l1 78l1-78l1 39l1 0l1 39l1 0l1-112l1 112l1-58l1 58l1-20l1-38l1 0l1 38l1-19l1-19l1 0l1 38l1-19l1 39l1-20l1 20l1 0l1 19l1-19l1 19l1 0l1 0l1 0l1-58l1 39l1-90l1 109l1 0l1-58l1 58l1 0l1 0l1-19l1 19l1 0l1 0l1 0l1-19l1 19l1 0l1 0l1-39l1 39l1 0l1-58l1 39l1 0l1 19l1-19l1 0l1 0l1 19l1 0l1 0l1 0l1-19l1 0l1 0l1 19l1-19l1 19l1 0l1 0l1 0l1-19l1 19l1-19l1 0l1 19l1-39l1 39l1 0l1 0l1-39l1 39l1 0l1 0l1-19l1 0l1 19l1-58l1 39l1 0l1 19l1-19l1-39l1 19l1 39l1-19l1 0l1 0l1 0l1 19l1 0l1-19l1 0l1 19l1-19l1 19l1 0l1-19l1 19l1 0l1-39l1 39l1 0l1 0l1-39l1 20l1 19l1 0l1 0l1 0l1-19l1 19l1-19l1 0l1 19l1 0l1 0l1-19l1 19l1 0l1-19l1 19l1-19l1 19l1-19l1 19l1 0l1 0l1 0l1-19l1-20l1 20l1 0l1 19l1-58l1 39l1 0l1 19l1-39l1 20l1 19l1-58l1 58l1 0l1-58l1 39l1 0l1 19l1-19l1 0l1-20l1 39l1-19l1 0l1 19l1 0l1-19l1 19l1 0l1-39l1 39l1-19l1 19l1-39l1 39l1-19l1 19l1-39l1 39l1 0l1-19l1 19l1 0l1 0l1-19l1-20l1 39l1 0l1-39l1 39l1-19l1 0l1 19l1 0l1 0l1-19l1 19l1 0l1-39l1 39l1 0l1-19l1 19l1 0l1-19l1 19l1 0l1 0l1 0l1-39l1 39l1-39l1 20l1 19l1-19l1-20l1 39l1 0l1 0l1-19l1 19l1 0l1 0l1-39l1 39l1 0l1-19l1 19l1-19l1 19l1 0l1-19l1 19l1-19l1 0l1 19l1 0l1 0l1 0l1 0l1-19l1-20l1 20l1 19l1-19l1 19l1-39l1 20l1 19l1 0l1 0l1-19l1 19l1-39l1 39l1-19l1 0l1-39l1 19l1 20l1 19l1-19l1 0l1-20l1 39l1-19l1 19l1 0l1-19l1-20l1-19l1 39l1 19l1-39l1 20l1-20l1 39l1 0l1-19l1 19l1-19l1 19l1-109l1 70l1 20l1-20l1 20l1 0l1 19l1-19l1 0l1 19l1 0l1 0l1-19l1 19l1-39l1 39l1-19l1 0l1-20l1 39l1 0l1-19l1 19l1 0l1 0l1-19l1-20l1 20l1 0l1 19l1-19l1 0l1 0l1 19l1-19l1-20l1-19l1 19l1 20l1-58l1 77l1-19l1 19l1 0l1-39l1 0l1 39l1-19l1 19l1 0l1-19l1 0l1-20l1 20l1 19l1 0l1-39l1 39l1 0l1-39l1 39l1-39l1 20l1 19l1-19l1 0l1 19l1 0l1-58l1 19l1 20l1 19l1-39l1 20l1 19l1 0l1 0l1 0l1 0l1 0l1 0l1 0l1-39l1 39l1-39l1 0l1-19l1 19l1 39l1 0l1-39l1-19l1 39l1 19l1 0l1-39l1 20l1 0l1 19l1-39l1 39" fill="none" stroke="#f08a8a" stroke-width="4.0" vector-effect="non-scaling-stroke" stroke-linejoin="round" stroke-linecap="round"/>
<path transform="translate(1773.90 952.35) scale(0.38375 0.5)" d="M0-7l4-2l4-1l4 1l4-2l4-7l4 1l4 6l4 6l4 1l4-4l4-2l4-1l4-2l4 2l4 5l4 0l4-2l4-1l4 0l4-3l4 0l4 4l4 3l4-1l4-3l4-4l4-6l4-2l4 4l4 4l4 1l4-3l4-2l4 4l4 6l4-3l4-10l4-5l4 2l4 6l4 4l4 0l4 0l4 1l4 3l4 2l4 2l4-2l4-3l4 1l4 3l4 1l4-3l4-4l4-4l4 1l4 5l4 4l4 1l4-2l4-2l4 1l4 0l4-2l4-2l4 4l4 4l4 0l4-1l4 1l4-2l4-4l4-1l4 3l4 3l4 2l4-1l4-6l4-7l4-4l4-2l4 0l4 8l4 7l4 0l4-6l4-8l4-9l4-9l4-7l4 2l4 8l4-2l4-6l4 0l4-9l4-19l4-20l4-25l4-38l4 58l4 25l4 12l4 3l4-3l4 2l4-1l4-1l4 13l4 21l4 13l4 3l4 1l4 4l4 2l4-3l4-5l4 0l4 4l4 2l4 1l4 0l4-2l4 0l4-2l4-5l4-4l4 1l4 6l4 4l4 1l4 0l4 0l4 1l4 1l4 0l4 0l4-1l4-4l4-6l4-3l4 1l4 0l4 3l4 4l4 2l4-1l4 0l4 2l4 0l4-1l4 1l4 2l4 0l4 1l4-1l4-4l4-1l4 4l4 1l4 0l4 0l4 1l4-2l4-3l4 0l4-1l4-5l4-3l4 2l4 1l4-3l4 2l4 5l4-1l4-1l4 4l4 1l4-2l4 1l4 0l4-4l4-5l4-6l4 3l4 6l4 3l4 0l4 0l4 0l4-2l4-1l4 4l4 6l4-3l4-10l4-4l4 3l4 4l4 1" fill="none" stroke="#e31a1c" stroke-width="3.6" vector-effect="non-scaling-stroke" stroke-linejoin="round"/>
<path transform="translate(1773.90 952.35) scale(0.38375 0.5)" d="M0-18l2-2l2 2l2-1l2 0l2-1l2 1l2 2l2-2l2 1l2 0l2-2l2 2l2 1l2-2l2 1l2-2l2 1l2 1l2 1l2-2l2-1l2 1l2 0l2 1l2-1l2 2l2-3l2 0l2 0l2 1l2 2l2-1l2 1l2-3l2 0l2 1l2-1l2 1l2-1l2 0l2-1l2 3l2-1l2 1l2-1l2 0l2 0l2 0l2 1l2 0l2-1l2 1l2 1l2-2l2 0l2 0l2 1l2-1l2 0l2 0l2 0l2 1l2-1l2 0l2 1l2-1l2 0l2 0l2 0l2 0l2 0l2-1l2 0l2 2l2-1l2 2l2-2l2-1l2 2l2 0l2 0l2-2l2 1l2 0l2 0l2 1l2-1l2-1l2-1l2 0l2 1l2 1l2 0l2 0l2 0l2 0l2-1l2 0l2 2l2-3l2 1l2 0l2 1l2-1l2 0l2-1l2 2l2 0l2 0l2 0l2 0l2 0l2 0l2 1l2-1l2 1l2-1l2 1l2-1l2-1l2 0l2 1l2 1l2 0l2-1l2 1l2-1l2 0l2-1l2 2l2 0l2-1l2 0l2 0l2 0l2-1l2-1l2 2l2-1l2 2l2 0l2 0l2-1l2 1l2-1l2-1l2 2l2 0l2 1l2-2l2 0l2 0l2 0l2-1l2 2l2-2l2 2l2-1l2 0l2 0l2 0l2 0l2 2l2-2l2 0l2-1l2 1l2 0l2 0l2 1l2 0l2-1l2 0l2 0l2 0l2-1l2 1l2 1l2 0l2 0l2-1l2 0l2-1l2 0l2 2l2 0l2 1l2-2l2-2l2 2l2 0l2-1l2 1l2 0l2 0l2 0l2-1l2-6l2-7l2-4l2 4l2 4l2 7l2 2l2 0l2 4l2-2l2-1l2 2l2-1l2-1l2 1l2 0l2-1l2 2l2-1l2 1l2-1l2-1l2-1l2 1l2-1l2 3l2-1l2-1l2 0l2 0l2 1l2-2l2 2l2-1l2 0l2 1l2-1l2 1l2 0l2-1l2-1l2 3l2-1l2 0l2 0l2-1l2 1l2-1l2-1l2 1l2-1l2 1l2 0l2 0l2 0l2 0l2 2l2-1l2 0l2 0l2-3l2 3l2 0l2 1l2-1l2 1l2-2l2 0l2 1l2-2l2 0l2 3l2-2l2 1l2-2l2 2l2-1l2 0l2 1l2 0l2-2l2 0l2 1l2 1l2-2l2 1l2-1l2 0l2 2l2 1l2-1l2 0l2-1l2-1l2 0l2 2l2-1l2 0l2 0l2 0l2-1l2 2l2-1l2 1l2-1l2-1l2 2l2 1l2 1l2-4l2-1l2 1l2 2l2 0l2 0l2 2l2-2l2 0l2-1l2 0l2 3l2-2l2 0l2-1l2-1l2 0l2 0l2 0l2-1l2 2l2 2l2-3l2 2l2 0l2 0l2 0l2 0l2 0l2-1l2 0l2 0l2-1l2 1l2 2l2-1l2-1l2 1l2-1l2 2l2 0l2-2l2 0l2 1l2-2l2 2l2 0l2 0l2-1l2 0l2-1l2-1l2 2l2 0l2 1l2-1l2-1l2 0l2 2l2-1l2 0l2 0l2 0l2 0l2 1l2 0l2 1l2 0l2-1l2-2l2 3l2-2l2 2l2-1l2 0l2-1l2-1l2-1l2 1l2 1l2-1l2 0l2 2l2 0l2-1l2-1l2 1l2-1l2 1l2 0l2 0l2 1l2-1l2-1" fill="none" stroke="#808080" stroke-width="5.0" vector-effect="non-scaling-stroke" stroke-linejoin="round"/>
<path transform="translate(1773.90 952.35) scale(0.38375 0.5)" d="M0-19l3 0l3 0l3 0l3 0l3 0l3 0l3 0l3 0l3 0l3 0l3 0l3 0l3 0l3 0l3 0l3 0l3 0l3 0l3 0l3 0l3 0l3 0l3 0l3 0l3 0l3 0l3 0l3 0l3 0l3 0l3 0l3 0l3 0l3 0l3 0l3 0l3 0l3 0l3 1l3 0l3 0l3-1l3 0l3 0l3 0l3 0l3 0l3 0l3 0l3 0l3 0l3 0l3 0l3 0l3 0l3 0l3 0l3 0l3 0l3 0l3 0l3 0l3 0l3 0l3 0l3 0l3 0l3 0l3 0l3 0l3 0l3 0l3 0l3 0l3 0l3 0l3 0l3 1l3-1l3 0l3 0l3 0l3 0l3 0l3 0l3 0l3 0l3 0l3 0l3 0l3 0l3 0l3 0l3 0l3 0l3 0l3 0l3 0l3 0l3 0l3 0l3 0l3 0l3 0l3 0l3 0l3 0l3 0l3 0l3 0l3 0l3 0l3 0l3 0l3 0l3 0l3 0l3 0l3 0l3 0l3 0l3 0l3 0l3 0l3 0l3 0l3 0l3 0l3 0l3 0l3-2l3-2l3-3l3 1l3 3l3 2l3 1l3 0l3 0l3 0l3 0l3 0l3 0l3 0l3 0l3 0l3 0l3 0l3 1l3 0l3-1l3 0l3 0l3 0l3 0l3 0l3 0l3 0l3 0l3 0l3 0l3 0l3 1l3-1l3 0l3 0l3 0l3 1l3 0l3 0l3-1l3 0l3 0l3 0l3 1l3-1l3 0l3 0l3 0l3 0l3 0l3 0l3 0l3 0l3 0l3 0l3 0l3 0l3 1l3-1l3 0l3 0l3 0l3 0l3 0l3 0l3 0l3 0l3 0l3 1l3 0l3 0l3 0l3-1l3 0l3 0l3 0l3 0l3 0l3 0l3 0l3 0l3 0l3 0l3 0l3 0l3 0l3 0l3 0l3 0l3 1l3-1l3 0l3 1l3-1l3 0l3 0l3 0l3 1l3 0l3-1l3 0l3 0l3 0l3 0l3 0l3 0l3 0l3 0l3 0l3 0l3 0l3 0l3 0l3 0l3 0l3 0l3 0l3 0l3 0l3 0l3 0l3 0l3 0l3 0l3 0l3 0l3 0l3 0l3 1l3 0l3 0l3 0l3-1l3 0l3-1" fill="none" stroke="#000000" stroke-width="3.5" vector-effect="non-scaling-stroke" stroke-linejoin="round"/>
<rect x="1914.93" y="943.35" width="24.94" height="9.00" fill="#ff0099"/>
</g>
<path d="M1812.28 698.55v8.3M1812.28 952.35v-8.3M1850.65 698.55v16.8M1850.65 952.35v-16.8M1889.03 698.55v8.3M1889.03 952.35v-8.3M1927.40 698.55v16.8M1927.40 952.35v-16.8M1965.78 698.55v8.3M1965.78 952.35v-8.3M2004.15 698.55v16.8M2004.15 952.35v-16.8M2042.53 698.55v8.3M2042.53 952.35v-8.3M1773.90 950.75h16.5M2080.90 950.75h-16.5M1773.90 861.71h16.5M2080.90 861.71h-16.5M1773.90 771.06h16.5M2080.90 771.06h-16.5" stroke="#000" stroke-width="2" fill="none"/>
<rect x="1773.90" y="698.55" width="307.00" height="253.80" fill="none" stroke="#000" stroke-width="3.1"/>
<text x="1757.60" y="958.85" class="tl" text-anchor="end">0.000</text>
<text x="1757.60" y="868.21" class="tl" text-anchor="end">0.005</text>
<text x="1757.60" y="777.56" class="tl" text-anchor="end">0.010</text>
<text x="1928.40" y="678.20" class="tt" text-anchor="middle">ELF1 (n = 2,399)</text>
<clipPath id="c15"><rect x="113.25" y="1026.80" width="307.00" height="253.80"/></clipPath>
<g clip-path="url(#c15)">
<path transform="translate(113.25 1280.60) scale(0.38375 0.5)" d="M0 0l1-21l1 0l1 0l1 21l1 0l1-21l1 21l1-21l1 0l1 21l1-21l1 0l1 0l1 0l1 21l1 0l1-21l1 21l1 0l1 0l1-21l1 0l1 21l1 0l1 0l1-21l1 21l1-42l1 42l1 0l1-21l1 21l1-42l1 42l1 0l1 0l1-21l1 0l1 0l1 21l1-21l1-21l1 0l1 21l1 21l1-21l1-21l1 42l1-21l1-21l1 21l1-21l1 42l1-63l1 42l1 21l1 0l1 0l1-21l1 0l1 21l1 0l1-42l1 42l1-21l1 21l1-63l1 42l1 21l1 0l1-21l1 21l1 0l1-63l1 63l1 0l1-21l1 0l1 21l1 0l1-42l1 42l1-42l1 42l1-21l1 0l1 21l1-21l1-42l1-53l1 95l1-42l1-20l1 62l1 0l1-21l1 42l1-63l1 42l1 0l1-21l1 42l1-21l1 21l1-83l1 83l1 0l1-21l1-42l1 63l1-21l1 0l1 0l1 21l1-42l1 21l1-21l1 21l1 21l1 0l1-21l1-83l1 104l1-21l1 0l1 21l1 0l1-63l1 21l1 42l1 0l1-21l1 0l1 21l1-21l1-21l1 21l1 21l1 0l1-21l1 0l1 21l1-21l1 0l1 21l1 0l1-21l1 21l1-21l1 21l1 0l1-21l1 21l1 0l1-21l1 21l1-83l1 62l1 0l1 0l1 0l1 21l1-21l1 0l1 21l1-21l1-83l1 62l1 42l1 0l1 0l1 0l1-42l1 42l1 0l1-21l1 21l1-21l1 21l1-21l1 21l1 0l1 0l1-21l1 21l1 0l1-42l1 0l1 21l1 0l1 21l1 0l1 0l1-42l1 0l1 21l1 21l1-21l1 21l1-91l1 91l1-21l1 21l1 0l1 0l1 0l1 0l1-63l1 42l1 21l1-42l1 42l1 0l1-21l1 0l1 0l1 21l1-21l1 0l1 0l1 0l1 0l1 0l1 21l1 0l1 0l1-42l1 21l1 21l1-21l1 21l1 0l1 0l1-21l1 21l1 0l1-83l1 41l1 42l1 0l1-21l1 21l1 0l1 0l1 0l1-42l1 21l1 21l1 0l1 0l1-21l1 21l1-83l1 83l1-21l1 21l1 0l1-21l1 21l1-83l1 41l1 21l1 0l1-21l1 42l1-21l1-21l1 42l1-63l1 0l1 63l1 0l1-42l1 42l1 0l1 0l1-42l1 42l1-42l1 42l1-42l1 21l1-21l1-41l1 83l1 0l1 0l1-21l1 21l1-21l1-21l1 42l1 0l1 0l1-21l1 21l1 0l1-42l1 42l1-42l1 21l1 21l1-21l1 21l1-42l1 42l1-21l1 0l1 0l1 21l1-21l1 0l1 21l1 0l1 0l1-21l1 0l1 0l1 0l1 21l1-21l1 0l1 0l1 0l1 0l1 0l1 21l1 0l1-63l1 42l1 0l1 0l1 21l1-21l1-104l1 104l1-21l1 21l1-21l1-74l1 116l1 0l1-21l1-21l1 42l1-42l1 42l1-21l1 21l1-42l1-83l1 104l1-21l1 0l1 42l1-42l1 42l1-83l1 0l1 20l1 63l1-63l1 42l1-83l1-48l1 69l1-42l1 62l1-41l1 104l1-63l1 42l1-21l1 0l1-83l1 42l1 62l1 0l1-21l1-62l1 21l1-21l1 104l1-167l1 22l1 124l1-62l1 41l1-62l1 41l1 42l1-125l1 0l1 42l1 0l1 0l1-190l1 190l1 21l1-363l1 342l1-21l1-104l1 62l1 104l1 21l1-41l1-145l1 124l1-63l1 21l1 125l1-21l1-41l1 41l1 21l1-21l1-83l1 62l1-75l1 138l1-146l1 21l1 62l1 0l1 21l1 0l1 0l1-41l1 62l1 21l1-21l1-42l1 21l1 0l1 0l1-83l1 125l1-21l1-21l1 21l1-21l1 21l1 0l1-88l1 109l1-63l1 42l1-21l1 0l1-21l1 42l1 0l1-21l1 42l1-104l1-21l1 104l1-21l1-41l1 41l1-83l1 125l1-42l1-41l1 41l1 21l1 0l1 21l1-21l1 0l1 21l1 0l1 0l1 0l1-42l1-41l1 62l1 0l1 21l1-63l1 42l1 21l1-42l1 0l1 42l1-21l1 21l1 0l1-21l1 0l1 21l1-21l1 0l1 0l1 0l1 0l1 0l1 21l1-21l1 0l1 0l1 21l1 0l1 0l1 0l1-42l1 21l1 0l1 21l1-63l1 63l1-42l1 21l1 21l1 0l1-21l1-21l1 21l1 0l1 21l1 0l1-63l1 42l1-21l1 21l1 0l1 0l1 0l1 21l1-21l1 21l1 0l1 0l1 0l1-21l1 21l1 0l1-21l1 21l1-21l1 21l1-42l1 0l1-21l1 63l1-21l1 21l1-21l1 21l1-21l1-21l1 42l1 0l1-21l1 0l1 0l1 21l1 0l1 0l1 0l1 0l1-21l1 21l1 0l1 0l1-63l1 21l1 42l1 0l1-21l1 0l1 21l1-21l1-21l1-41l1 41l1 42l1 0l1-21l1 0l1 0l1 21l1-21l1 21l1-21l1 21l1 0l1-21l1 0l1 21l1 0l1-21l1-42l1 63l1-21l1 0l1 21l1 0l1-83l1 83l1 0l1-21l1-21l1 42l1 0l1 0l1-21l1 0l1 21l1 0l1-21l1-21l1 42l1-63l1 42l1 0l1 21l1 0l1-21l1 21l1 0l1-21l1 0l1 0l1 0l1-21l1 42l1 0l1-21l1 0l1 21l1 0l1 0l1-21l1-62l1 83l1-42l1 42l1-63l1 63l1-21l1 21l1 0l1-63l1 42l1 21l1 0l1-63l1-24l1 66l1 0l1 21l1-63l1 42l1 21l1 0l1 0l1-21l1-21l1 21l1 21l1-42l1-21l1 42l1 21l1-21l1 21l1-21l1-21l1 42l1-63l1 21l1 42l1 0l1-21l1 0l1-42l1 63l1 0l1 0l1-42l1-21l1 63l1-42l1 42l1 0l1 0l1-63l1 63l1-21l1 21l1 0l1-42l1 21l1 21l1 0l1-42l1 42l1-21l1 21l1-21l1 0l1 21l1-21l1 21l1 0l1 0l1 0l1 0l1-21l1 0l1 21l1-21l1-21l1 42l1-21l1 21l1 0l1-21l1-21l1 42l1 0l1-21l1 0l1-21l1 42l1-21l1 21l1 0l1-21l1 0l1-21l1 0l1 21l1 21l1-21l1 21l1 0l1 0l1 0l1-42l1 42l1 0l1-21l1 0l1 21l1 0l1-42l1 42l1-21l1 21l1 0l1 0l1 0l1-21l1 21l1-63l1 42l1 21l1-42l1 0l1 0l1 21l1 0l1 21l1 0l1 0l1 0l1-21l1-21l1 42l1-21l1 21l1-63l1 42l1-21l1 42l1 0l1 0l1-21l1 21l1 0l1-63l1 21l1-41l1 62l1 21l1-63l1-20l1 41l1 42l1 0l1-21l1 21l1-83l1 62l1 0l1 21l1 0" fill="none" stroke="#f08a8a" stroke-width="4.0" vector-effect="non-scaling-stroke" stroke-linejoin="round" stroke-linecap="round"/>
<path transform="translate(113.25 1280.60) scale(0.38375 0.5)" d="M0-10l4 1l4-1l4 0l4 3l4 2l4-1l4-2l4-1l4-2l4-4l4-4l4-1l4 0l4 6l4 3l4-1l4-1l4 2l4 0l4-1l4-3l4-7l4-8l4 1l4 5l4 4l4 1l4 0l4 0l4-2l4 1l4 3l4 2l4 2l4 3l4 2l4 2l4-3l4-6l4-4l4-1l4 1l4 7l4 5l4 1l4-3l4-4l4-1l4 3l4 5l4 0l4-5l4-2l4 0l4 0l4 2l4 2l4 0l4-4l4 2l4 3l4-1l4-4l4-4l4-5l4-2l4 1l4 5l4 2l4-4l4 0l4 6l4 4l4 0l4-3l4-1l4 1l4 2l4-1l4-3l4-2l4-4l4-8l4-6l4 4l4 5l4-6l4-8l4-8l4-15l4-16l4-2l4 10l4 1l4-12l4-10l4-7l4-14l4-27l4-82l4 70l4 29l4 23l4 12l4-4l4 6l4 20l4 12l4 5l4 9l4 8l4-3l4-9l4-10l4-4l4 11l4 19l4 10l4-4l4-2l4 4l4 6l4 1l4-1l4 2l4 1l4-4l4-2l4 0l4-1l4-1l4 4l4 8l4 1l4-6l4-5l4 1l4 4l4 4l4 3l4-3l4-6l4-5l4-3l4 6l4 6l4 1l4-3l4-3l4 0l4 3l4 1l4-3l4 0l4 3l4-1l4 0l4-1l4-5l4-1l4 1l4 0l4 0l4 2l4-1l4-3l4 1l4-1l4 2l4 0l4 1l4 3l4 2l4 1l4 1l4 3l4 2l4-3l4-3l4 0l4-1l4-1l4-2l4 3l4 4l4 0l4 0l4 0l4-5l4-6l4 2l4 5l4-2l4-2l4-1l4-9l4-6l4 5l4 7l4 3" fill="none" stroke="#e31a1c" stroke-width="3.6" vector-effect="non-scaling-stroke" stroke-linejoin="round"/>
<path transform="translate(113.25 1280.60) scale(0.38375 0.5)" d="M0-22l2 1l2 0l2 1l2-2l2 0l2 0l2 0l2 1l2-2l2 0l2 1l2 1l2-1l2 0l2 0l2 0l2 1l2-2l2 2l2 0l2-1l2 0l2 0l2 0l2 0l2 0l2-1l2 2l2-2l2 1l2 0l2 1l2-1l2 1l2 0l2-1l2 0l2 0l2 1l2 0l2 0l2 0l2 0l2 0l2-1l2 1l2 1l2-2l2 0l2 0l2 1l2-1l2-1l2 2l2 1l2 0l2-3l2 1l2 1l2 1l2-1l2-1l2 2l2-2l2 0l2-1l2 0l2 1l2 0l2-2l2 1l2 3l2 0l2-2l2 1l2 2l2-3l2 1l2-1l2 1l2 0l2 1l2-2l2 0l2 0l2 0l2-1l2 1l2 0l2 2l2-2l2 0l2 0l2-1l2 1l2-1l2 0l2 0l2 0l2 1l2 0l2 0l2 1l2-1l2-1l2 1l2 1l2 0l2-2l2 1l2 1l2 0l2-1l2 0l2 1l2-1l2 0l2 1l2 0l2-2l2 1l2 1l2 0l2 0l2 0l2-2l2-1l2 3l2 0l2-2l2-1l2 1l2 1l2 1l2-1l2 2l2 0l2-1l2-3l2 1l2 2l2-1l2 2l2 0l2-1l2-1l2-1l2 2l2-1l2 1l2-3l2 2l2-1l2 0l2 1l2 0l2 2l2-1l2 0l2-1l2-2l2-1l2 2l2 0l2 2l2-1l2 2l2-2l2 0l2 1l2 0l2-1l2 2l2-1l2-2l2 2l2 0l2-1l2 1l2 1l2-2l2 1l2-3l2 1l2 0l2 0l2 0l2 2l2-2l2 2l2-2l2 2l2-1l2 0l2 1l2-1l2-4l2-3l2-7l2-3l2 2l2 7l2 5l2 4l2 0l2-1l2 1l2 0l2-1l2-1l2 2l2 0l2-1l2 1l2-1l2-1l2 1l2 1l2 1l2-1l2-2l2 2l2 0l2 1l2-3l2 2l2-1l2-1l2 0l2 2l2 0l2-1l2 0l2 1l2 2l2-2l2 0l2-3l2 2l2 0l2 1l2-1l2-1l2 2l2 1l2-4l2 1l2 2l2 0l2 2l2-2l2-2l2 3l2-2l2-1l2 0l2 3l2-1l2-1l2 0l2-1l2 2l2 3l2-3l2-2l2-1l2 3l2-1l2 1l2-1l2 1l2-1l2 1l2 0l2 0l2-1l2-1l2 1l2 0l2 1l2-1l2 1l2-3l2 1l2 0l2 1l2 1l2-1l2 1l2-2l2 1l2 1l2 0l2 0l2 0l2-1l2-2l2 2l2-2l2 1l2 2l2 0l2-1l2 0l2-1l2 2l2 0l2 1l2-1l2-1l2 1l2-1l2 1l2-1l2-2l2 1l2 2l2-1l2 0l2 0l2-1l2 3l2-2l2 0l2 0l2 1l2 1l2-2l2 0l2 0l2 1l2 0l2 0l2-3l2 3l2-2l2 3l2-2l2 0l2 1l2 1l2-1l2-3l2 1l2 1l2 1l2 0l2 0l2 0l2 0l2 0l2 0l2-1l2 1l2 0l2 0l2-1l2 0l2 0l2 0l2 0l2-1l2 1l2-1l2 1l2 1l2-2l2 3l2-1l2-1l2 2l2-2l2 0l2 1l2 2l2-1l2-2l2 1l2 1l2 0l2-3l2 0l2 3l2-2l2 0l2 1l2 0l2-2l2 1l2 0l2-1l2 1l2 0l2 0l2 1l2 1l2 1l2-2l2-1l2 0" fill="none" stroke="#808080" stroke-width="5.0" vector-effect="non-scaling-stroke" stroke-linejoin="round"/>
<path transform="translate(113.25 1280.60) scale(0.38375 0.5)" d="M0-22l3 0l3 0l3 0l3 0l3 0l3 0l3 1l3 0l3 0l3-1l3 0l3 0l3 0l3 0l3 0l3 0l3 0l3 0l3 0l3 0l3 0l3 0l3 0l3 0l3 1l3 0l3 0l3-1l3 0l3 0l3 1l3 0l3 0l3-1l3 0l3 0l3 0l3 0l3 0l3 0l3 0l3 0l3 0l3 0l3 0l3 0l3 0l3 1l3 0l3 0l3-1l3 0l3 0l3 0l3 0l3 0l3 0l3 0l3 0l3 0l3 0l3 0l3 0l3 0l3 0l3 0l3 0l3 0l3 0l3 1l3 0l3 0l3-1l3 0l3 0l3 0l3 0l3 0l3 1l3 0l3 0l3 0l3 0l3 0l3 0l3 0l3 0l3-1l3 0l3 0l3 0l3 0l3 0l3 0l3 0l3 0l3 0l3 1l3 0l3 0l3 0l3 0l3-1l3 1l3 0l3 0l3 0l3 0l3 0l3-1l3 0l3 0l3 0l3 0l3 0l3 0l3 0l3 0l3 0l3 0l3 0l3 0l3 0l3 0l3 0l3 0l3 0l3 0l3 0l3 0l3-2l3-2l3-2l3 1l3 3l3 2l3 0l3 0l3 0l3 0l3 0l3 0l3 0l3 0l3 0l3 0l3 0l3 1l3 0l3 0l3-1l3 0l3 0l3 0l3 0l3 0l3 0l3 0l3 1l3 0l3-1l3 0l3 0l3 0l3 0l3 0l3 1l3-1l3 0l3 0l3 0l3 0l3 1l3 0l3-1l3 0l3 0l3 0l3 0l3 0l3 0l3 0l3 1l3 0l3 0l3 0l3 0l3 0l3 0l3 0l3 0l3 0l3 0l3 0l3-1l3 0l3 0l3 0l3 0l3 0l3 0l3 0l3 0l3 0l3 1l3 0l3-1l3 0l3 0l3 0l3 0l3 0l3 0l3 0l3 0l3 0l3 0l3 0l3 0l3-1l3 0l3 0l3 0l3 1l3 0l3 0l3 0l3 0l3 0l3 0l3 0l3 0l3 0l3 0l3 0l3 0l3 1l3 0l3-1l3 0l3 0l3 0l3 0l3 0l3 0l3 0l3 0l3 0l3 0l3 0l3 0l3 0l3 0l3 0l3 0l3 0l3 0l3 0l3 0l3 0l3-1l3 0l3 0l3 0l3 0l3 0" fill="none" stroke="#000000" stroke-width="3.5" vector-effect="non-scaling-stroke" stroke-linejoin="round"/>
<rect x="254.28" y="1271.60" width="24.94" height="9.00" fill="#ff0099"/>
</g>
<path d="M151.62 1026.80v8.3M151.62 1280.60v-8.3M190.00 1026.80v16.8M190.00 1280.60v-16.8M228.38 1026.80v8.3M228.38 1280.60v-8.3M266.75 1026.80v16.8M266.75 1280.60v-16.8M305.12 1026.80v8.3M305.12 1280.60v-8.3M343.50 1026.80v16.8M343.50 1280.60v-16.8M381.88 1026.80v8.3M381.88 1280.60v-8.3M113.25 1279.00h16.5M420.25 1279.00h-16.5M113.25 1189.96h16.5M420.25 1189.96h-16.5M113.25 1099.31h16.5M420.25 1099.31h-16.5" stroke="#000" stroke-width="2" fill="none"/>
<rect x="113.25" y="1026.80" width="307.00" height="253.80" fill="none" stroke="#000" stroke-width="3.1"/>
<text x="96.95" y="1287.10" class="tl" text-anchor="end">0.000</text>
<text x="96.95" y="1196.46" class="tl" text-anchor="end">0.005</text>
<text x="96.95" y="1105.81" class="tl" text-anchor="end">0.010</text>
<text x="267.75" y="1006.45" class="tt" text-anchor="middle">ETS1 (n = 2,225)</text>
<clipPath id="c16"><rect x="528.25" y="1026.80" width="307.00" height="253.80"/></clipPath>
<g clip-path="url(#c16)">
<path transform="translate(528.25 1280.60) scale(0.38375 0.5)" d="M0 0l1-259l1 259l1 0l1-86l1 86l1-86l1 86l1-86l1 86l1-86l1 86l1 0l1 0l1 0l1-86l1 0l1-87l1 173l1 0l1-86l1-87l1-86l1 259l1-173l1 173l1 0l1 0l1-86l1 86l1-86l1 86l1-259l1 259l1-86l1-87l1 173l1-86l1 86l1 0l1 0l1-86l1 86l1-86l1 0l1-173l1 86l1 0l1-173l1 346l1 0l1 0l1-86l1 86l1 0l1 0l1-86l1 86l1 0l1-86l1 0l1 0l1 0l1 86l1 0l1-259l1 259l1-173l1 87l1 86l1 0l1 0l1 0l1 0l1 0l1 0l1 0l1 0l1-86l1-87l1 173l1-86l1 0l1 86l1 0l1-86l1 86l1 0l1 0l1 0l1 0l1-173l1 87l1 86l1-86l1 86l1-86l1 86l1 0l1-259l1 173l1 86l1-259l1 86l1 173l1 0l1-86l1 86l1 0l1-86l1 86l1-86l1-87l1 173l1 0l1-173l1 0l1 173l1 0l1-173l1 87l1 86l1-86l1 86l1 0l1-173l1 173l1 0l1 0l1-86l1 86l1 0l1-86l1 0l1 86l1-259l1 173l1 86l1-86l1 86l1 0l1 0l1 0l1 0l1 0l1 0l1-86l1-87l1 173l1-86l1-349l1 435l1 0l1-173l1 87l1 0l1 0l1 86l1 0l1 0l1 0l1 0l1-86l1 86l1 0l1-86l1 86l1 0l1-86l1 0l1 86l1-346l1 173l1 87l1 0l1 86l1-86l1 86l1-86l1 86l1-86l1 0l1 86l1-86l1 86l1-86l1-87l1 0l1-86l1 259l1-86l1-87l1 173l1 0l1-173l1 173l1 0l1 0l1-86l1 86l1-173l1 87l1 86l1-86l1 0l1-173l1 259l1 0l1 0l1 0l1 0l1-173l1 87l1 0l1-87l1 0l1 0l1 173l1 0l1 0l1-435l1 435l1-86l1 0l1 0l1 86l1-86l1-87l1 87l1 0l1 86l1 0l1-173l1-86l1 259l1 0l1 0l1 0l1 0l1 0l1-86l1 86l1-86l1-87l1 87l1 86l1 0l1 0l1-86l1 86l1-435l1 435l1-86l1-87l1 173l1-86l1 86l1-259l1 259l1 0l1 0l1-86l1 0l1 86l1-173l1 87l1 86l1 0l1-173l1 173l1-259l1 173l1 86l1 0l1-259l1 86l1 173l1 0l1 0l1 0l1 0l1 0l1-346l1 173l1 87l1 86l1-259l1 173l1 0l1-87l1 173l1 0l1-86l1 0l1 86l1 0l1-259l1 0l1 259l1-259l1 173l1-173l1 173l1 86l1 0l1 0l1 0l1-86l1 86l1-86l1 86l1-383l1 383l1 0l1-86l1 0l1 0l1 0l1 0l1 0l1-87l1 87l1 86l1-259l1 259l1-259l1 86l1 0l1 87l1 0l1 0l1-297l1 210l1 0l1 0l1 87l1 0l1 86l1-259l1 86l1-175l1 262l1 86l1 0l1-86l1-260l1 346l1-86l1 0l1-260l1 173l1 173l1 0l1-346l1 346l1-173l1 173l1 0l1 0l1-259l1 173l1 86l1-259l1 86l1-86l1 173l1 0l1 0l1-260l1 346l1 0l1-86l1 86l1-173l1 0l1-204l1 377l1-383l1 37l1 173l1 173l1-259l1 173l1-87l1 87l1-87l1-173l1 173l1-210l1 297l1-87l1 0l1-86l1 86l1-173l1 173l1 87l1-393l1 393l1-87l1 173l1 0l1-86l1-260l1 260l1-173l1-124l1 0l1 210l1-210l1-9l1 392l1-173l1 87l1-87l1 87l1-260l1 260l1 0l1 0l1-260l1 87l1 86l1-210l1 124l1 0l1 86l1-210l1 37l1 173l1 87l1-260l1 173l1-173l1 87l1-124l1 210l1-210l1 297l1 86l1-346l1 87l1 259l1-86l1-173l1 0l1-124l1 210l1 87l1-173l1 0l1 86l1 173l1-259l1 259l1-86l1-297l1 383l1-86l1 0l1-262l1 89l1 173l1-173l1-87l1 173l1 87l1-87l1 0l1 173l1-173l1 0l1 173l1-86l1 0l1 86l1-86l1 0l1 0l1 86l1-86l1 86l1-259l1 86l1 173l1-86l1 86l1-86l1 0l1-87l1 0l1 87l1 0l1 0l1 86l1-86l1 86l1 0l1-259l1 86l1 173l1-173l1 87l1 86l1-86l1 0l1-87l1 173l1-173l1 87l1 0l1 0l1 86l1-173l1 173l1-259l1 0l1 259l1-86l1 0l1 0l1-173l1 86l1 87l1 0l1-87l1 0l1 173l1-173l1 173l1 0l1 0l1-86l1 86l1 0l1-173l1 173l1-86l1 86l1 0l1-259l1 259l1 0l1 0l1 0l1-173l1-86l1 259l1 0l1-86l1 86l1-259l1 173l1 86l1 0l1-86l1 0l1 86l1-86l1-87l1 87l1 0l1-87l1 173l1-173l1 87l1 86l1 0l1-86l1 0l1 86l1-86l1 86l1-259l1 259l1-173l1 173l1 0l1-86l1-173l1 173l1 86l1-86l1 0l1 86l1 0l1-173l1 173l1 0l1 0l1-173l1 173l1 0l1-86l1 86l1-86l1 86l1 0l1-259l1 86l1-175l1 262l1 86l1 0l1 0l1-86l1 86l1-86l1 0l1 0l1 0l1 0l1 0l1 0l1 86l1-86l1 86l1 0l1 0l1 0l1-173l1 173l1-86l1 0l1 0l1-87l1 87l1 86l1-86l1 86l1-173l1 87l1 0l1 0l1-87l1 87l1-87l1 173l1 0l1 0l1 0l1-86l1 0l1 0l1-260l1 346l1 0l1-86l1 86l1-86l1 86l1 0l1-86l1 0l1 0l1 0l1 0l1 86l1-173l1 87l1 0l1 0l1-173l1 259l1 0l1 0l1-86l1 86l1 0l1-173l1 0l1 87l1 0l1 0l1 0l1 86l1 0l1-86l1 86l1-86l1 86l1-86l1 86l1 0l1-86l1 0l1 0l1 0l1 86l1-86l1 0l1 0l1 0l1 86l1 0l1 0l1-86l1-260l1 87l1 173l1 0l1-87l1 173l1-173l1 87l1-87l1 87l1 86l1 0l1-259l1 259l1-86l1 86l1 0l1 0l1-86l1-87l1 87l1 86l1-259l1-104l1 190l1 87l1-87l1 0l1-86l1-87l1 346l1-173l1 173l1-86l1 0l1 86l1-86l1 86l1-173l1-86l1 173l1 0l1 86l1-86l1-173l1 259l1-86l1 0l1 86l1 0l1 0l1-86l1 0l1 86l1 0l1-86l1-87l1 87l1 86l1 0l1-173l1 173l1 0l1 0l1 0l1-173l1 173l1-86l1 86l1-86l1 86l1 0l1-86l1 0l1 0l1 0l1 0l1 86l1-173l1 173l1 0l1 0l1 0l1-173l1-173l1 346l1-173l1 173l1-173l1 173l1-173l1 87l1 86l1-259l1 259l1 0l1-86l1 0l1 0l1 86l1-346l1 346l1 0l1 0" fill="none" stroke="#f08a8a" stroke-width="4.0" vector-effect="non-scaling-stroke" stroke-linejoin="round" stroke-linecap="round"/>
<path transform="translate(528.25 1280.60) scale(0.38375 0.5)" d="M0-33l4-1l4 0l4-1l4-1l4-1l4-2l4-1l4-1l4 0l4-1l4 1l4 0l4 2l4 1l4 2l4 2l4 1l4 1l4 1l4-1l4-1l4-1l4-2l4-2l4-1l4-2l4 0l4 0l4 0l4 1l4 1l4 1l4 1l4 0l4 1l4 0l4-1l4-1l4-1l4-2l4-2l4-2l4-2l4-2l4-2l4-1l4-1l4 0l4 0l4 0l4 1l4 0l4 0l4 1l4 0l4 0l4 1l4 1l4 0l4 0l4-1l4-1l4-1l4-2l4-3l4-2l4-3l4-3l4-3l4-2l4-3l4-2l4-3l4-2l4-2l4-2l4-3l4-3l4-5l4-4l4-4l4-4l4-3l4-2l4-1l4-1l4-2l4-1l4-3l4-3l4-5l4-5l4-7l4-7l4-8l4-8l4-8l4-7l4-7l4-6l4-6l4-5l4-5l4-4l4-1l4 0l4 2l4 6l4 8l4 9l4 12l4 12l4 13l4 12l4 12l4 12l4 10l4 10l4 8l4 6l4 5l4 3l4 2l4 1l4 0l4 0l4 0l4 0l4 1l4 1l4 2l4 2l4 3l4 1l4 2l4 0l4 1l4-1l4 0l4 0l4 0l4 1l4 0l4 1l4 1l4 1l4 1l4 1l4 1l4 0l4 0l4-1l4 0l4-1l4-1l4-2l4-1l4 0l4-1l4 0l4 0l4 1l4 0l4 0l4 1l4 0l4 1l4 0l4 0l4-1l4-1l4-2l4-2l4-2l4-2l4-2l4-1l4-2l4-1l4 0l4 0l4 1l4 2l4 3l4 3l4 3l4 3l4 2l4 2l4 0l4 0l4-1l4-2l4-2l4-1l4-2l4-1l4 0l4-1l4 0" fill="none" stroke="#e31a1c" stroke-width="3.6" vector-effect="non-scaling-stroke" stroke-linejoin="round"/>
<path transform="translate(528.25 1280.60) scale(0.38375 0.5)" d="M0-78l2-1l2 9l2-4l2-2l2 3l2-10l2 9l2 4l2 3l2-1l2 4l2-12l2-3l2-5l2 12l2 2l2-7l2 6l2 3l2-1l2-4l2-5l2 3l2-8l2 10l2 8l2-11l2 2l2-2l2 3l2 9l2-15l2-1l2 5l2 4l2-10l2 3l2 13l2-5l2 9l2-15l2 0l2 9l2-2l2 3l2-17l2 4l2-1l2 5l2-4l2 7l2-3l2 7l2-2l2 3l2 0l2-12l2 10l2-10l2 3l2 6l2 1l2-7l2-3l2 5l2-6l2 9l2-7l2-1l2 0l2 4l2-4l2 0l2 1l2 5l2 9l2-14l2 1l2-1l2-3l2 10l2-4l2 3l2 3l2-13l2 9l2-2l2-4l2-4l2 9l2-8l2 11l2-10l2 25l2-13l2-12l2-2l2-10l2 5l2 10l2 4l2 7l2-18l2 16l2-5l2-6l2 4l2 2l2 6l2-11l2 0l2 7l2 6l2-1l2-2l2-1l2-2l2-11l2 10l2 5l2-13l2 7l2 4l2-1l2-1l2 5l2-15l2 3l2 9l2-7l2 1l2 1l2 8l2-7l2 0l2-3l2 4l2 11l2-10l2 3l2 2l2-4l2 3l2-2l2-3l2 5l2 0l2-3l2-1l2-9l2 9l2 2l2-2l2-6l2 2l2-5l2-1l2 14l2-2l2-5l2 2l2-8l2-4l2 17l2-2l2 11l2-7l2-4l2-6l2-6l2 8l2 3l2 0l2-6l2 13l2-13l2-3l2 0l2 2l2 10l2-2l2-13l2 10l2-18l2 7l2 1l2 8l2 2l2-3l2 0l2 4l2-4l2 8l2-18l2 13l2-2l2 1l2-9l2-10l2 7l2 1l2 18l2 5l2-11l2-7l2 10l2-11l2 12l2-2l2-2l2-6l2-10l2 11l2 11l2-13l2-1l2 25l2-11l2-7l2-1l2 0l2 2l2-3l2 7l2-7l2 13l2-4l2 0l2-11l2-8l2 2l2 15l2 3l2-11l2 0l2 1l2-13l2 16l2-8l2 4l2 10l2 0l2-4l2-3l2 0l2-8l2 14l2-5l2-8l2 18l2-9l2 5l2-5l2-7l2 15l2-5l2-9l2 1l2 2l2 8l2-1l2-1l2-2l2-1l2-2l2-3l2 0l2 6l2-2l2 3l2-7l2 3l2-3l2 1l2 1l2-7l2 9l2 1l2 4l2-4l2-11l2 8l2-3l2-8l2 17l2-8l2 0l2 6l2-8l2 6l2 2l2-18l2 13l2 3l2-6l2 9l2-1l2 6l2-14l2 1l2-8l2 7l2 0l2 6l2-4l2 1l2 2l2 5l2 1l2-2l2-10l2 7l2-6l2 3l2 0l2 3l2 4l2-6l2 4l2-7l2-5l2 15l2-4l2-3l2-6l2 9l2-1l2-2l2-1l2 5l2-1l2-8l2 3l2 6l2-3l2 3l2-16l2 20l2 8l2-13l2-7l2 8l2-6l2-1l2 3l2 6l2 0l2-5l2 6l2-2l2-12l2 2l2 8l2-5l2 2l2-5l2 0l2-1l2 7l2 8l2 0l2-10l2 1l2-3l2-9l2 10l2 6l2-5l2-2l2 10l2-5l2 0l2-6l2 4l2 5l2-11l2 4l2-2l2 3l2 5l2 3l2-5l2-3l2-5l2-3l2 16l2 9l2-13l2-11l2 17l2-6l2 6l2-6l2-8l2 2l2 11l2 1l2-5l2-15l2 12" fill="none" stroke="#808080" stroke-width="5.0" vector-effect="non-scaling-stroke" stroke-linejoin="round"/>
<path transform="translate(528.25 1280.60) scale(0.38375 0.5)" d="M0-73l3-1l3 0l3 0l3 0l3 0l3 0l3 1l3 0l3 1l3-1l3-1l3-1l3-1l3-1l3 0l3 0l3 1l3 0l3 1l3 0l3-1l3 1l3 0l3 0l3 1l3 0l3 0l3 0l3 0l3 0l3 0l3 2l3 0l3-1l3-1l3-1l3 1l3 0l3 0l3 0l3 0l3 0l3 0l3 0l3 1l3 1l3 0l3-1l3 0l3 0l3-1l3 0l3 1l3 0l3 0l3 0l3 0l3 0l3 0l3-1l3-1l3 0l3 1l3 1l3 1l3-1l3 0l3-1l3 0l3 0l3 1l3 0l3 0l3 0l3 0l3-1l3 0l3-1l3 0l3 1l3 0l3 0l3-1l3 1l3 0l3 1l3-1l3 0l3 0l3 0l3 1l3 1l3 0l3 0l3 0l3-1l3-1l3-1l3-1l3 0l3 1l3 1l3 1l3 0l3 0l3-1l3 0l3 0l3 0l3 1l3 0l3 0l3 0l3-1l3-1l3 0l3 0l3 1l3-1l3 0l3 2l3 1l3 0l3 0l3 0l3-1l3-1l3-1l3 0l3 0l3-1l3-3l3-3l3 0l3 2l3 3l3 1l3 1l3 0l3 0l3 0l3 0l3-1l3-1l3-1l3 0l3 0l3 2l3 1l3 1l3 0l3-1l3 0l3 1l3-1l3-1l3 0l3 1l3 0l3 0l3 1l3 1l3 0l3 0l3-2l3-1l3 0l3 1l3 1l3 0l3 0l3-2l3 0l3 0l3 1l3 0l3 0l3 1l3 0l3-2l3-1l3 0l3 2l3 2l3-1l3-1l3-2l3 1l3 1l3 1l3 0l3 0l3 0l3 0l3-1l3 0l3 0l3 1l3 0l3 0l3 1l3 0l3-1l3 0l3 0l3 0l3 0l3-1l3 0l3 0l3 1l3 0l3-1l3-1l3 0l3 1l3 1l3 0l3 1l3 0l3 0l3-1l3-1l3 0l3 0l3 1l3 0l3 0l3 0l3 0l3 1l3 1l3 0l3 0l3 0l3 0l3-1l3-1l3-1l3-1l3 1l3 1l3 1l3-1l3-1l3-1l3 0l3-1l3 0l3 0l3-1l3 0l3 1l3 1l3 2l3 2l3 0l3 0l3 0l3 0l3 0l3-1l3-1l3 0l3 2l3 1" fill="none" stroke="#000000" stroke-width="3.5" vector-effect="non-scaling-stroke" stroke-linejoin="round"/>
<rect x="669.28" y="1271.60" width="24.94" height="9.00" fill="#ff0099"/>
</g>
<path d="M566.62 1026.80v8.3M566.62 1280.60v-8.3M605.00 1026.80v16.8M605.00 1280.60v-16.8M643.38 1026.80v8.3M643.38 1280.60v-8.3M681.75 1026.80v16.8M681.75 1280.60v-16.8M720.12 1026.80v8.3M720.12 1280.60v-8.3M758.50 1026.80v16.8M758.50 1280.60v-16.8M796.88 1026.80v8.3M796.88 1280.60v-8.3M528.25 1279.00h16.5M835.25 1279.00h-16.5M528.25 1208.09h16.5M835.25 1208.09h-16.5M528.25 1135.57h16.5M835.25 1135.57h-16.5M528.25 1063.06h16.5M835.25 1063.06h-16.5" stroke="#000" stroke-width="2" fill="none"/>
<rect x="528.25" y="1026.80" width="307.00" height="253.80" fill="none" stroke="#000" stroke-width="3.1"/>
<text x="511.95" y="1287.10" class="tl" text-anchor="end">0.000</text>
<text x="511.95" y="1214.59" class="tl" text-anchor="end">0.001</text>
<text x="511.95" y="1142.07" class="tl" text-anchor="end">0.002</text>
<text x="511.95" y="1069.56" class="tl" text-anchor="end">0.003</text>
<text x="682.75" y="1006.45" class="tt" text-anchor="middle">JUND (n = 2,148)</text>
<clipPath id="c17"><rect x="943.35" y="1026.80" width="307.00" height="253.80"/></clipPath>
<g clip-path="url(#c17)">
<path transform="translate(943.35 1280.60) scale(0.38375 0.5)" d="M0-22l1 0l1-22l1 44l1-66l1 0l1 44l1-22l1 44l1-44l1 44l1 0l1-22l1 0l1-22l1 44l1 0l1-88l1 88l1 0l1-22l1-22l1 44l1-22l1-22l1 44l1-44l1 44l1-22l1 22l1 0l1-88l1 44l1 22l1 22l1 0l1 0l1-44l1 0l1 22l1 0l1 22l1-44l1 44l1-22l1 0l1 22l1-44l1 44l1 0l1-22l1 0l1-66l1 66l1 0l1-44l1 22l1 0l1 22l1 0l1-22l1 22l1-22l1 22l1 0l1-22l1 0l1 22l1-22l1 44l1-22l1 0l1 0l1 22l1-22l1 0l1 22l1 0l1 0l1 0l1 0l1-22l1 0l1 0l1 0l1 22l1 0l1-22l1 0l1 22l1-44l1 22l1 0l1 22l1-22l1 22l1-22l1 0l1 22l1-22l1 22l1-22l1 0l1 0l1 0l1-66l1 44l1 44l1-22l1 22l1-102l1 102l1 0l1-22l1 22l1-22l1 0l1 0l1-22l1-22l1 22l1 0l1 44l1-22l1 0l1 0l1 22l1 0l1-22l1 0l1 22l1 0l1 0l1-22l1 0l1-44l1 44l1 22l1 0l1-22l1-44l1 66l1-66l1 66l1 0l1 0l1 0l1-66l1 66l1-22l1 0l1 0l1 0l1 0l1 22l1-66l1 66l1 0l1-22l1-22l1 44l1 0l1 0l1-22l1-22l1 44l1 0l1-22l1 22l1-22l1 0l1 22l1-44l1 22l1-44l1 66l1-22l1 0l1 22l1-44l1 44l1-22l1 22l1 0l1 0l1-44l1 22l1 0l1 22l1 0l1-88l1 22l1 66l1 0l1-22l1 22l1 0l1-44l1 22l1 0l1 22l1 0l1 0l1-22l1 22l1 0l1 0l1 0l1-22l1 22l1-22l1-22l1-44l1 66l1 0l1-22l1 22l1 22l1 0l1-44l1 22l1 22l1-22l1 0l1 22l1 0l1-44l1 44l1 0l1-22l1 22l1 0l1-22l1 22l1 0l1-88l1 66l1-22l1 0l1 0l1 22l1 0l1 22l1-22l1 22l1 0l1-44l1 44l1 0l1-22l1-44l1 66l1 0l1-22l1-44l1 44l1 0l1-22l1 22l1-44l1 66l1-22l1-44l1 66l1-22l1 22l1-88l1 66l1 22l1 0l1-44l1 0l1 22l1 22l1-22l1-22l1 44l1-22l1-22l1 44l1-88l1 22l1 44l1 22l1 0l1-44l1-22l1 66l1-22l1 0l1 22l1 0l1 0l1-22l1 0l1 0l1 22l1-44l1 0l1 22l1-66l1 44l1 44l1 0l1 0l1 0l1-66l1 44l1-44l1 66l1 0l1-44l1 22l1-22l1 22l1 0l1 22l1-44l1 44l1-22l1 22l1-22l1 22l1-66l1 66l1 0l1-22l1 0l1-44l1 44l1-22l1 22l1 22l1 0l1-22l1-44l1 0l1 44l1-44l1 22l1 22l1 0l1-22l1-67l1 89l1-66l1-45l1 111l1 0l1-22l1-22l1 66l1-111l1 111l1-66l1-67l1 67l1-22l1 22l1-133l1 199l1-22l1-89l1 45l1-67l1 111l1-133l1 44l1 89l1-22l1-22l1 0l1 66l1-22l1-89l1 111l1-44l1 22l1-66l1 44l1-119l1 97l1-22l1 44l1-22l1-45l1-44l1 22l1 111l1-44l1-89l1 133l1-239l1 239l1 0l1-44l1-45l1-277l1 322l1-89l1 67l1-387l1 453l1-133l1 89l1-89l1-133l1 67l1 177l1 22l1-177l1 111l1 88l1-66l1 0l1-144l1 210l1-88l1 0l1-89l1 133l1 22l1-44l1 22l1 22l1-133l1 22l1 89l1 22l1-44l1-115l1 137l1 22l1-44l1-22l1-23l1 0l1 23l1 88l1-66l1-45l1 89l1-44l1 22l1 22l1-22l1 0l1 0l1 0l1 22l1 0l1 22l1-22l1-22l1 22l1-66l1 44l1-22l1 0l1 44l1-109l1 131l1-88l1 22l1 44l1 22l1-22l1-111l1 67l1 0l1 44l1 22l1 0l1 0l1 0l1 0l1-44l1 44l1-44l1 22l1 0l1 22l1-22l1 22l1-44l1 44l1-22l1 22l1-66l1 66l1 0l1 0l1-22l1-44l1 44l1 22l1 0l1-22l1-44l1 0l1 22l1 22l1-22l1-44l1 66l1 0l1-44l1 44l1 22l1 0l1 0l1-22l1-22l1 0l1 0l1-22l1 44l1 0l1 22l1-44l1 44l1-44l1 44l1 0l1 0l1 0l1-22l1-22l1 44l1-22l1-22l1 44l1 0l1 0l1 0l1-22l1-44l1 22l1-22l1 0l1 44l1-22l1 44l1-44l1 0l1 22l1 0l1 22l1 0l1-44l1 22l1 0l1 0l1-22l1 22l1-22l1-22l1 44l1-66l1 44l1 44l1-22l1-44l1 44l1 0l1 22l1 0l1 0l1-44l1 22l1 0l1 22l1-66l1 66l1 0l1 0l1-22l1 22l1-66l1 44l1 0l1 22l1 0l1 0l1 0l1 0l1 0l1-22l1 22l1 0l1-22l1 22l1-22l1 22l1-22l1 0l1-22l1 22l1 22l1-22l1 22l1 0l1 0l1 0l1-44l1 44l1 0l1-44l1 44l1 0l1-44l1 44l1-22l1-22l1 44l1 0l1-44l1-22l1 66l1-22l1 0l1-22l1 22l1 22l1-66l1 44l1-44l1 66l1 0l1-44l1 44l1 0l1 0l1-22l1 0l1 22l1 0l1 0l1 0l1-22l1 0l1-44l1 22l1 44l1 0l1 0l1-22l1 22l1 0l1-22l1-109l1 87l1 44l1-22l1 22l1 0l1 0l1-22l1 22l1-22l1 0l1 22l1 0l1-22l1 22l1 0l1 0l1-22l1 0l1 22l1 0l1 0l1-22l1 22l1 0l1 0l1 0l1-44l1 22l1 22l1 0l1-22l1 22l1-22l1 22l1 0l1-44l1-22l1 66l1 0l1-22l1 22l1 0l1 0l1-22l1 0l1 0l1-44l1 66l1-22l1-44l1 44l1 0l1 0l1 22l1 0l1 0l1-22l1 22l1 0l1-44l1 44l1-88l1 66l1 22l1-22l1 0l1-22l1 0l1-44l1 66l1-22l1 0l1 0l1 22l1 0l1 0l1 22l1 0l1-22l1 22l1-44l1 0l1 22l1 22l1 0l1-22l1 0l1-66l1 22l1 0l1 66l1 0l1-22l1 22l1-22l1 22l1 0l1-44l1 22l1-22l1 44l1 0l1 0l1-22l1 22l1-22l1-22l1 22l1 0l1-22l1 0l1 44l1-22l1-22l1 22l1 0l1 0l1 22l1 0l1-66l1 66l1 0l1 0l1 0l1 0l1-22l1 22l1 0l1 0l1 0l1-44l1-44l1 88l1-22l1 22l1-22l1-44l1 66l1-44l1 44l1 0l1-22l1 0l1 22l1-22l1 22l1-22l1 0l1 0l1 0" fill="none" stroke="#f08a8a" stroke-width="4.0" vector-effect="non-scaling-stroke" stroke-linejoin="round" stroke-linecap="round"/>
<path transform="translate(943.35 1280.60) scale(0.38375 0.5)" d="M0-25l4 1l4 4l4 4l4 1l4 0l4 0l4 0l4-1l4 1l4 1l4 0l4-3l4-7l4-4l4 1l4 4l4 5l4 7l4 5l4 1l4-2l4-2l4 0l4-1l4-3l4-2l4 2l4 1l4-4l4-2l4 4l4 4l4 0l4-3l4-1l4 1l4 0l4 0l4 1l4 3l4 0l4-2l4-2l4 0l4 2l4-1l4-2l4 0l4 4l4 4l4 0l4-5l4-6l4 0l4 5l4 4l4 0l4-5l4-5l4 0l4 4l4 0l4-5l4-4l4 0l4 1l4 2l4 0l4-2l4-2l4 2l4 5l4 1l4-4l4-3l4 0l4 0l4 1l4 2l4 1l4-3l4-5l4-6l4-9l4-9l4-8l4-4l4-7l4-11l4-6l4 1l4 9l4 9l4-1l4-11l4-13l4-3l4-2l4-19l4-41l4 9l4 16l4 24l4 17l4 6l4 4l4 4l4 1l4 2l4 8l4 12l4 9l4 1l4-5l4-2l4 3l4 9l4 13l4 8l4 2l4 0l4 0l4-4l4-6l4-5l4 1l4 5l4 2l4 3l4 5l4 5l4-1l4-4l4-8l4-3l4 3l4 3l4-4l4-4l4 3l4 7l4 5l4 2l4 2l4 4l4 3l4 0l4-3l4-1l4 0l4 0l4-2l4-4l4-4l4-3l4 2l4 5l4 5l4 1l4-2l4 0l4 1l4 2l4 2l4 1l4 1l4 1l4-1l4-1l4-3l4-2l4-1l4-2l4-3l4-1l4 3l4-1l4-6l4-7l4-2l4 6l4 5l4 0l4-3l4 0l4 5l4 4l4 0l4-3l4-3l4 1l4 5l4 5l4 0l4-4l4-4l4 0l4 3l4 1l4 0" fill="none" stroke="#e31a1c" stroke-width="3.6" vector-effect="non-scaling-stroke" stroke-linejoin="round"/>
<path transform="translate(943.35 1280.60) scale(0.38375 0.5)" d="M0-19l2 0l2-2l2 1l2 1l2 0l2 0l2-2l2 1l2 0l2 1l2-2l2 1l2 1l2-1l2 0l2 0l2-1l2 1l2-1l2 1l2-1l2 0l2-1l2 0l2 3l2 0l2-2l2 1l2 0l2 1l2-2l2 0l2 1l2 0l2 0l2-1l2 1l2 0l2 0l2-1l2 1l2-1l2 0l2 1l2-1l2 2l2 0l2 0l2-2l2 2l2-1l2 1l2 0l2-1l2 2l2-2l2 0l2 1l2-1l2 1l2-1l2 0l2-1l2 2l2 0l2 0l2-1l2-1l2 0l2 1l2 0l2 0l2 1l2 0l2-1l2-1l2 2l2 0l2 0l2 0l2-1l2 0l2-2l2 1l2 1l2 1l2-2l2 0l2 1l2 0l2-1l2 0l2 1l2 1l2-2l2 0l2 0l2 1l2 0l2 1l2 0l2-1l2 0l2 1l2-3l2 0l2 2l2-1l2 2l2 0l2 0l2-1l2 1l2 0l2-1l2-2l2 3l2-1l2-1l2 2l2-1l2-1l2 1l2 1l2-1l2 0l2 0l2 0l2 0l2 1l2-1l2 1l2 0l2 0l2 0l2-1l2 0l2 1l2-2l2 1l2 0l2-1l2 1l2 0l2-2l2 2l2-1l2 0l2 1l2 0l2-1l2 1l2 0l2 1l2-2l2 0l2 0l2 3l2-1l2-1l2 1l2 0l2-1l2-1l2-2l2 3l2 1l2-1l2 0l2 0l2 2l2 0l2-1l2 0l2 1l2-1l2-1l2 2l2-2l2 1l2-2l2 2l2-2l2 0l2 3l2-2l2 1l2-1l2 0l2 0l2 1l2-2l2 1l2 1l2 0l2 1l2-3l2-6l2-12l2-3l2 5l2 7l2 6l2 4l2 0l2-1l2 0l2 0l2 0l2 1l2-1l2 0l2-1l2 1l2 1l2 0l2 0l2-1l2 2l2-2l2 0l2-1l2 1l2 0l2 1l2 2l2-2l2 0l2 0l2-1l2 0l2 0l2 2l2 0l2-2l2 2l2-2l2 2l2 1l2-2l2-1l2 2l2-2l2 0l2 1l2 0l2-2l2 1l2-1l2 2l2-1l2 1l2 1l2-1l2 2l2-2l2-1l2-1l2 2l2 0l2 0l2 0l2 0l2 0l2 0l2 1l2-1l2-1l2 1l2 1l2-2l2 0l2 0l2 0l2 3l2-1l2 0l2 1l2-2l2-1l2 0l2 2l2 0l2-1l2-1l2 1l2-1l2 2l2 0l2-1l2-1l2 2l2-1l2 1l2-1l2 1l2-1l2 0l2 0l2-1l2 1l2 1l2-1l2-1l2 0l2 2l2-2l2 1l2 0l2-1l2 1l2 1l2-1l2 2l2-1l2-1l2-1l2 0l2 1l2 0l2 1l2 0l2-2l2 1l2 1l2-1l2 1l2-1l2 1l2 0l2 0l2-1l2-1l2 2l2-1l2 1l2-1l2 1l2-1l2 0l2-1l2 1l2 1l2-1l2 1l2-1l2 0l2 0l2-1l2 1l2-1l2 1l2 1l2-2l2 1l2 0l2 1l2-2l2-1l2 2l2 0l2 1l2 0l2-2l2 2l2-1l2-1l2 2l2-1l2-1l2 1l2 0l2 1l2-1l2-1l2 1l2 1l2 0l2 0l2-2l2 0l2 1l2 1l2-3l2 1l2 1l2 0l2-1l2 2l2-1l2 0l2 1l2-2l2 1l2-1l2 2l2 0l2 0l2 0l2-1" fill="none" stroke="#808080" stroke-width="5.0" vector-effect="non-scaling-stroke" stroke-linejoin="round"/>
<path transform="translate(943.35 1280.60) scale(0.38375 0.5)" d="M0-20l3 0l3 0l3 0l3 1l3 0l3-1l3 0l3 0l3 0l3 0l3 0l3 0l3 0l3 0l3 0l3 0l3 0l3 0l3 0l3 0l3 0l3 0l3 0l3 0l3 0l3 0l3 0l3 0l3 0l3 0l3 0l3 0l3 1l3 0l3 0l3 0l3 0l3 0l3-1l3 0l3 0l3 0l3 0l3 0l3 1l3 0l3-1l3 0l3 0l3 0l3 0l3 0l3 0l3 0l3 0l3 0l3 0l3 0l3 0l3 0l3 0l3-1l3 0l3 0l3 1l3 0l3 0l3 0l3 0l3 0l3 0l3 0l3 0l3 0l3 0l3 0l3 0l3 0l3 0l3 0l3 0l3 0l3 0l3 0l3 0l3 1l3 0l3 0l3-1l3 0l3 0l3 0l3 0l3 0l3 0l3 0l3 0l3 0l3 0l3 0l3 0l3 0l3 0l3 0l3 0l3 0l3 0l3 0l3 0l3 0l3 0l3 0l3 0l3 0l3 0l3 0l3 0l3 0l3 0l3 0l3 0l3 0l3 0l3 0l3 0l3 0l3 0l3 0l3 0l3 0l3-1l3-3l3-2l3 0l3 4l3 2l3 0l3 0l3 0l3 0l3 0l3 0l3 0l3 0l3 0l3 0l3 0l3 0l3 0l3 0l3 0l3 0l3 0l3 0l3 0l3 0l3 0l3 0l3 0l3 0l3 0l3 0l3 0l3 0l3 0l3 0l3 1l3 0l3 0l3-1l3 0l3 0l3 0l3 0l3 0l3 0l3 0l3 0l3 0l3 0l3 0l3 0l3 0l3 0l3 0l3 0l3 0l3 0l3 0l3 0l3 0l3 0l3 0l3 0l3 0l3 0l3 0l3 0l3 0l3 0l3 0l3 0l3 0l3 0l3 0l3 0l3 0l3 0l3 1l3 0l3 0l3-1l3 0l3 0l3 1l3 0l3-1l3 0l3 0l3 0l3 0l3 0l3 0l3 0l3 0l3-1l3 0l3 1l3 0l3 0l3 0l3 0l3 0l3 0l3 1l3 0l3 0l3-1l3 0l3 0l3 0l3 0l3 0l3 0l3 0l3 0l3 0l3 0l3 0l3 0l3 0l3 1l3 0l3 0l3-1l3 0l3 0l3 0l3 0l3 0l3 0l3 0l3 0l3 0l3 0l3 0" fill="none" stroke="#000000" stroke-width="3.5" vector-effect="non-scaling-stroke" stroke-linejoin="round"/>
<rect x="1084.38" y="1271.60" width="24.94" height="9.00" fill="#ff0099"/>
</g>
<path d="M981.73 1026.80v8.3M981.73 1280.60v-8.3M1020.10 1026.80v16.8M1020.10 1280.60v-16.8M1058.47 1026.80v8.3M1058.47 1280.60v-8.3M1096.85 1026.80v16.8M1096.85 1280.60v-16.8M1135.22 1026.80v8.3M1135.22 1280.60v-8.3M1173.60 1026.80v16.8M1173.60 1280.60v-16.8M1211.97 1026.80v8.3M1211.97 1280.60v-8.3M943.35 1279.00h16.5M1250.35 1279.00h-16.5M943.35 1189.96h16.5M1250.35 1189.96h-16.5M943.35 1099.31h16.5M1250.35 1099.31h-16.5" stroke="#000" stroke-width="2" fill="none"/>
<rect x="943.35" y="1026.80" width="307.00" height="253.80" fill="none" stroke="#000" stroke-width="3.1"/>
<text x="927.05" y="1287.10" class="tl" text-anchor="end">0.000</text>
<text x="927.05" y="1196.46" class="tl" text-anchor="end">0.005</text>
<text x="927.05" y="1105.81" class="tl" text-anchor="end">0.010</text>
<text x="1097.85" y="1006.45" class="tt" text-anchor="middle">TAF7 (n = 2,098)</text>
<clipPath id="c18"><rect x="1358.35" y="1026.80" width="307.00" height="253.80"/></clipPath>
<g clip-path="url(#c18)">
<path transform="translate(1358.35 1280.60) scale(0.38375 0.5)" d="M0-28l1 28l1-28l1 28l1 0l1-28l1-29l1 29l1-86l1 57l1 57l1-28l1-29l1 57l1 0l1 0l1 0l1-28l1 28l1-28l1 0l1 0l1 0l1 28l1 0l1 0l1-57l1 57l1-57l1 57l1-173l1 145l1 28l1-28l1 0l1 0l1-29l1 0l1 29l1-57l1 85l1-57l1 57l1-28l1-29l1 0l1 29l1 0l1 28l1-57l1 57l1 0l1 0l1-28l1-57l1 85l1 0l1-85l1 28l1 0l1 29l1-29l1 29l1 0l1 28l1-85l1 85l1-57l1 57l1-28l1 28l1-28l1 0l1 28l1 0l1 0l1 0l1 0l1-57l1 57l1-57l1 57l1-28l1 28l1-57l1 29l1 28l1-85l1 85l1-28l1-29l1 57l1-28l1 28l1-28l1-29l1 57l1 0l1-57l1 57l1-114l1 114l1 0l1-57l1 57l1-57l1 0l1 57l1-28l1-29l1 0l1 29l1 28l1 0l1 0l1-28l1 28l1-57l1 57l1-57l1 57l1-57l1 29l1 0l1 28l1 0l1-28l1 0l1 28l1-28l1-29l1 0l1 57l1 0l1-57l1 57l1-57l1 57l1-28l1-29l1 57l1-28l1-29l1 57l1 0l1 0l1-28l1 0l1 28l1-28l1 0l1 0l1-29l1 29l1-29l1 29l1 0l1 28l1-57l1 29l1 0l1-29l1 0l1 57l1-57l1 0l1 57l1 0l1-28l1 28l1-28l1 28l1 0l1 0l1 0l1 0l1-85l1 85l1 0l1 0l1-28l1 28l1 0l1-28l1 0l1 0l1 28l1 0l1-28l1 28l1 0l1 0l1-28l1-29l1 57l1 0l1-28l1-57l1 28l1 29l1 28l1-57l1 57l1 0l1 0l1-28l1 28l1-28l1 28l1-57l1 29l1 28l1 0l1 0l1-85l1 85l1-28l1-29l1 57l1 0l1-85l1 85l1-57l1 57l1 0l1 0l1 0l1-57l1 57l1-57l1 57l1-28l1 0l1 0l1 0l1 0l1 0l1-57l1 28l1 29l1 28l1 0l1 0l1 0l1-28l1 0l1 28l1 0l1 0l1-28l1 28l1-28l1-29l1 29l1 0l1-29l1 29l1-29l1 29l1-86l1 114l1-28l1 28l1-28l1-57l1 57l1 28l1-28l1 28l1-85l1 57l1-29l1 29l1 28l1 0l1-28l1 28l1-28l1 0l1 28l1-28l1 28l1 0l1-57l1 57l1-57l1 29l1 0l1 28l1-57l1 29l1 0l1 28l1 0l1-28l1 0l1-57l1 85l1-28l1 28l1-106l1 106l1-28l1-57l1 85l1-85l1 85l1-28l1 28l1-28l1-57l1 57l1 0l1 28l1 0l1 0l1 0l1-57l1 29l1 28l1-28l1-29l1 29l1-29l1 57l1 0l1-57l1 57l1 0l1-28l1 28l1-28l1 0l1 28l1-28l1-57l1 28l1 0l1 29l1 0l1 0l1-29l1 0l1 57l1-57l1 57l1 0l1-85l1 85l1-85l1 0l1 28l1 29l1-29l1 29l1 0l1 28l1-28l1 0l1 0l1 0l1-86l1 114l1-85l1 57l1 0l1 28l1 0l1-57l1 57l1-28l1-29l1 29l1 0l1 28l1 0l1-57l1 57l1 0l1-57l1 57l1-57l1 57l1 0l1-28l1-29l1 57l1 0l1-28l1 28l1-57l1 0l1 57l1-28l1-86l1 0l1 0l1-28l1-57l1 9l1-237l1 370l1-209l1 181l1 57l1 0l1-57l1 85l1-85l1 0l1 57l1 28l1-28l1-29l1 57l1-28l1 28l1 0l1 0l1 0l1 0l1 0l1-28l1 0l1 28l1-28l1 0l1 28l1-28l1 28l1 0l1 0l1 0l1 0l1-28l1 28l1-85l1 28l1 29l1 28l1 0l1 0l1-85l1 85l1 0l1 0l1-85l1 57l1 0l1 28l1 0l1-28l1 0l1 28l1 0l1-85l1 57l1 28l1 0l1-57l1 57l1-28l1 28l1-28l1 28l1 0l1-28l1-29l1 57l1 0l1 0l1-28l1 0l1 0l1 28l1 0l1-57l1 57l1 0l1 0l1-28l1 28l1 0l1 0l1-28l1 28l1-57l1-28l1 57l1 28l1-28l1-29l1 57l1-57l1 57l1 0l1-28l1 28l1-57l1 29l1-29l1 57l1-114l1 114l1 0l1 0l1-85l1 57l1 0l1 0l1 0l1 28l1 0l1-28l1 28l1-28l1-29l1 29l1-29l1 57l1-28l1 28l1 0l1 0l1-28l1 0l1 28l1-57l1 0l1 29l1 28l1 0l1-85l1 85l1 0l1-28l1 0l1 0l1 0l1-29l1 57l1 0l1-28l1 28l1-85l1 57l1 28l1-28l1 28l1 0l1-57l1 57l1-28l1 28l1 0l1 0l1-85l1 85l1 0l1-28l1-29l1 57l1-28l1 0l1 0l1 0l1-29l1 57l1 0l1 0l1-57l1 29l1 28l1 0l1-28l1-29l1 29l1-29l1 57l1 0l1-28l1 28l1 0l1-28l1-57l1 57l1-29l1 57l1-28l1-57l1 85l1-28l1 0l1 0l1 28l1-28l1 28l1 0l1-28l1 28l1-114l1 86l1 28l1 0l1 0l1-57l1 57l1 0l1-28l1 28l1-28l1 0l1 28l1-57l1 57l1-28l1-29l1 57l1-114l1 29l1 57l1 0l1-29l1 29l1 28l1-28l1 28l1-28l1 0l1 0l1 28l1-85l1 85l1-57l1 57l1 0l1-28l1-29l1 0l1 0l1 29l1-29l1-28l1 28l1 57l1-28l1 28l1-57l1-28l1 85l1 0l1-28l1 28l1-85l1 0l1 85l1 0l1 0l1-28l1 28l1-57l1 29l1 28l1-28l1 28l1 0l1 0l1-57l1 29l1 28l1 0l1-28l1 28l1 0l1-57l1 57l1 0l1-28l1 28l1 0l1 0l1 0l1-57l1 0l1 57l1-28l1 0l1 0l1 0l1 28l1-28l1 0l1 0l1-29l1 57l1-57l1 29l1-29l1 57l1 0l1-28l1 28l1 0l1-28l1 28l1 0l1-57l1 57l1-28l1 0l1 28l1-28l1 0l1 0l1 28l1 0l1-28l1 28l1-28l1 0l1-116l1 144l1-57l1 57l1 0l1 0l1 0l1-28l1-57l1 85l1 0l1-28l1 0l1 28l1 0l1 0l1 0l1 0l1-85l1 85l1-57l1-28l1 57l1 28l1-28l1 0l1 0l1 0l1 0l1 0l1 28l1 0l1-28l1 28l1 0l1 0l1-28l1 28l1 0l1-28l1 0l1 0l1 0l1-29l1 29l1-57l1 85l1-28l1 28l1 0l1 0l1-85l1 28l1 57l1 0l1-28l1 28l1-85l1 85l1 0l1-57l1 0l1 57l1-85l1 57l1 28l1-28l1 28l1-57l1 29l1-29l1 29l1 28l1-28l1 28l1-28l1 28l1-28l1-29l1 57l1 0" fill="none" stroke="#f08a8a" stroke-width="4.0" vector-effect="non-scaling-stroke" stroke-linejoin="round" stroke-linecap="round"/>
<path transform="translate(1358.35 1280.60) scale(0.38375 0.5)" d="M0-3l4-13l4-19l4 19l4 15l4-5l4 0l4-5l4-6l4-15l4-1l4 6l4 11l4 2l4-18l4-5l4 11l4 12l4 13l4 0l4-10l4-7l4-3l4 7l4 3l4 2l4-10l4-6l4 13l4 2l4-7l4 6l4-3l4-4l4 1l4 2l4 8l4-5l4-14l4-1l4-2l4 6l4 19l4 3l4 0l4 0l4-1l4 1l4-6l4-16l4 5l4 15l4-4l4-4l4-7l4 2l4 10l4-5l4-9l4-8l4 16l4 11l4-1l4-20l4-15l4 5l4 8l4-1l4 8l4 12l4-1l4-9l4-3l4 4l4 0l4 2l4-10l4 0l4 9l4 6l4-11l4 3l4 9l4-11l4-19l4 3l4 6l4-13l4-1l4 16l4-8l4 5l4 12l4 1l4 5l4-1l4 1l4-3l4-30l4-84l4-39l4 90l4 44l4 14l4 17l4 0l4-1l4 1l4 0l4-16l4 3l4 0l4 2l4 3l4-4l4 6l4 3l4 0l4 0l4 3l4 0l4-9l4-14l4 8l4 1l4-11l4 2l4 6l4 9l4-7l4 8l4 0l4-10l4 3l4 0l4 1l4 0l4 6l4 4l4-5l4-6l4-1l4 6l4-2l4-4l4 5l4-13l4-2l4 12l4 13l4 0l4 0l4-3l4-10l4-21l4-6l4 22l4 4l4-4l4-9l4-15l4 9l4 10l4 1l4 8l4 7l4 4l4 1l4 2l4 0l4-2l4-12l4 0l4-6l4 2l4 16l4 1l4-6l4 1l4 0l4-5l4 6l4-3l4 7l4-5l4-20l4 5l4 12l4 9l4 0l4-14l4-10l4 10l4-1l4-1l4-8l4 1l4 4l4 6l4 6l4 0" fill="none" stroke="#e31a1c" stroke-width="3.6" vector-effect="non-scaling-stroke" stroke-linejoin="round"/>
<path transform="translate(1358.35 1280.60) scale(0.38375 0.5)" d="M0-26l2 0l2 0l2-1l2-1l2 3l2 0l2 0l2-1l2 2l2-2l2-1l2 1l2 1l2-2l2-1l2 1l2 3l2 0l2-1l2 0l2-1l2-3l2 1l2 1l2-2l2 0l2 3l2 0l2-1l2 2l2-2l2-1l2 2l2-3l2 1l2 1l2-1l2 1l2 1l2 0l2-1l2 1l2 0l2 0l2 0l2 0l2-2l2 1l2 1l2 1l2-1l2 0l2 0l2 1l2 0l2 0l2-3l2 0l2 1l2-2l2 2l2 2l2-2l2-1l2 1l2 2l2-3l2 2l2 0l2-2l2 1l2 1l2 0l2-2l2 1l2 1l2 1l2-4l2 2l2 1l2-1l2 0l2-1l2 3l2-2l2-1l2 1l2-2l2 2l2 1l2-2l2 1l2 0l2 0l2 0l2 0l2 1l2-1l2-2l2 4l2-1l2-2l2-1l2 0l2 3l2 0l2 0l2 0l2 1l2-3l2-1l2 4l2-1l2-3l2 3l2 0l2-2l2-1l2 0l2 3l2 0l2 0l2-1l2-1l2 1l2 0l2-1l2-2l2 2l2 0l2 0l2 1l2 1l2-1l2-1l2 1l2 2l2-1l2-3l2 3l2-1l2 1l2-1l2 2l2-2l2 0l2 2l2-3l2 0l2 3l2-2l2 0l2 3l2-3l2 2l2-1l2-3l2 3l2-1l2 0l2-1l2 2l2-1l2 0l2 0l2-2l2 1l2 1l2 3l2-3l2 2l2 2l2-4l2 1l2-3l2 2l2 1l2-1l2-1l2 0l2 4l2-4l2-2l2 5l2-1l2 2l2-1l2-1l2-2l2 1l2-2l2 1l2 3l2 2l2-4l2-1l2-2l2-12l2-12l2-10l2 9l2 15l2 6l2 6l2 1l2-1l2 0l2 3l2-1l2-3l2 0l2 2l2-2l2 2l2-2l2 2l2 1l2 0l2 0l2 0l2-2l2 0l2 2l2 0l2 0l2-1l2 1l2-2l2 2l2 1l2-2l2 1l2 0l2-1l2-1l2 1l2 2l2-1l2 0l2-2l2 2l2-1l2-1l2 1l2 1l2 0l2-1l2 1l2-1l2 1l2-1l2 3l2-2l2-3l2 3l2-1l2 0l2 2l2-2l2 2l2-2l2 1l2 0l2-3l2 2l2 2l2-1l2-3l2 1l2 1l2 0l2-1l2 1l2-1l2 1l2-3l2 3l2 0l2 0l2 0l2 2l2-4l2 4l2-1l2 0l2 0l2-2l2 1l2-1l2 0l2 1l2 1l2-1l2-2l2 1l2-1l2 1l2 2l2-1l2 1l2 2l2 1l2-3l2-2l2 0l2 0l2 2l2 1l2-4l2 1l2 0l2 1l2 0l2 1l2 0l2 0l2 1l2-1l2-1l2 0l2-1l2-1l2 2l2-1l2-1l2 1l2 2l2 2l2-4l2 1l2 2l2-2l2 0l2 0l2 1l2 2l2-2l2 0l2 0l2 1l2 0l2-3l2 2l2-4l2 5l2-1l2 1l2-1l2 0l2 0l2 0l2-2l2 2l2 0l2-1l2 0l2 2l2-3l2 3l2-2l2 0l2-1l2 1l2 0l2-1l2 1l2 1l2-2l2 0l2 2l2-1l2 2l2-2l2-2l2 2l2 1l2-1l2 0l2 1l2 0l2 1l2 2l2-1l2-2l2 0l2 0l2-1l2 2l2 2l2-4l2 1l2-2l2 2l2 0l2-1l2 0l2 1l2-3l2 1l2 3" fill="none" stroke="#808080" stroke-width="5.0" vector-effect="non-scaling-stroke" stroke-linejoin="round"/>
<path transform="translate(1358.35 1280.60) scale(0.38375 0.5)" d="M0-26l3 0l3 0l3-1l3 0l3 0l3 1l3 0l3 0l3 0l3 0l3 0l3 0l3 0l3 0l3 0l3 0l3-1l3 0l3 0l3 0l3 0l3 0l3 1l3 0l3-1l3 0l3 0l3 0l3 0l3 0l3 0l3 0l3 1l3 0l3 0l3 0l3-1l3 0l3 0l3 1l3 0l3-1l3 0l3 0l3 1l3 0l3 0l3 0l3 0l3 0l3-1l3 0l3 1l3 0l3-1l3 0l3 0l3 0l3 0l3 0l3 0l3 0l3 1l3 0l3 0l3 0l3-1l3 0l3 0l3 0l3 1l3 0l3 0l3 0l3-1l3 0l3 1l3 0l3 0l3 0l3 0l3 0l3 0l3 0l3 0l3 0l3 0l3-1l3 0l3 0l3 0l3 1l3 0l3-1l3 0l3 0l3 0l3 0l3 1l3 0l3 1l3 0l3-1l3 0l3 0l3 0l3 0l3-1l3 0l3 0l3 0l3 0l3 0l3 0l3 0l3 0l3 0l3 1l3 0l3 0l3 0l3 0l3-1l3 0l3 0l3 0l3 0l3 0l3 0l3 0l3-2l3-3l3-3l3 0l3 4l3 3l3 1l3 0l3 1l3 0l3 0l3 0l3 0l3 0l3 0l3-1l3 0l3 0l3 1l3 0l3 0l3-1l3 0l3-1l3 1l3 0l3 0l3 0l3 0l3 0l3 0l3 0l3 0l3 0l3 0l3 1l3 0l3 0l3 0l3-1l3 0l3 0l3 0l3 0l3 0l3 0l3 0l3 1l3 0l3 0l3 0l3-1l3 0l3 0l3 0l3 0l3 0l3 1l3 0l3 0l3-1l3 0l3 0l3 0l3 0l3 0l3 0l3 0l3 1l3 0l3 0l3-1l3 0l3 0l3 0l3 0l3 0l3 1l3 0l3 0l3 0l3 0l3 0l3-1l3 0l3 0l3 1l3 0l3 0l3 0l3 0l3 0l3-1l3 0l3 0l3 0l3 0l3 0l3 0l3 0l3 0l3 0l3 0l3 0l3 0l3 0l3 0l3 0l3 0l3 0l3 1l3 0l3 0l3 0l3 0l3 0l3 0l3 0l3 0l3 0l3-1l3 0l3 0l3 0l3 0l3 0l3 0l3 0l3 0l3 1l3 0l3 0l3-1l3 0l3 0l3 0" fill="none" stroke="#000000" stroke-width="3.5" vector-effect="non-scaling-stroke" stroke-linejoin="round"/>
<rect x="1499.38" y="1271.60" width="24.94" height="9.00" fill="#ff0099"/>
</g>
<path d="M1396.72 1026.80v8.3M1396.72 1280.60v-8.3M1435.10 1026.80v16.8M1435.10 1280.60v-16.8M1473.47 1026.80v8.3M1473.47 1280.60v-8.3M1511.85 1026.80v16.8M1511.85 1280.60v-16.8M1550.22 1026.80v8.3M1550.22 1280.60v-8.3M1588.60 1026.80v16.8M1588.60 1280.60v-16.8M1626.97 1026.80v8.3M1626.97 1280.60v-8.3M1358.35 1279.00h16.5M1665.35 1279.00h-16.5M1358.35 1174.85h16.5M1665.35 1174.85h-16.5M1358.35 1069.10h16.5M1665.35 1069.10h-16.5" stroke="#000" stroke-width="2" fill="none"/>
<rect x="1358.35" y="1026.80" width="307.00" height="253.80" fill="none" stroke="#000" stroke-width="3.1"/>
<text x="1342.05" y="1287.10" class="tl" text-anchor="end">0.000</text>
<text x="1342.05" y="1181.35" class="tl" text-anchor="end">0.005</text>
<text x="1342.05" y="1075.60" class="tl" text-anchor="end">0.010</text>
<text x="1512.85" y="1006.45" class="tt" text-anchor="middle">SMC3 (n = 1,904)</text>
<clipPath id="c19"><rect x="1773.90" y="1026.80" width="307.00" height="253.80"/></clipPath>
<g clip-path="url(#c19)">
<path transform="translate(1773.90 1280.60) scale(0.38375 0.5)" d="M0-106l1 106l1 0l1-53l1 53l1 0l1 0l1-106l1 106l1 0l1 0l1 0l1 0l1 0l1-158l1 52l1 53l1 53l1 0l1 0l1 0l1 0l1-53l1-105l1 158l1-53l1 0l1 0l1 0l1 0l1 53l1 0l1 0l1 0l1 0l1 0l1-53l1 0l1 53l1-53l1-105l1 158l1 0l1-53l1 53l1 0l1 0l1 0l1-53l1 0l1 53l1-53l1 0l1 53l1-53l1 53l1-158l1 158l1 0l1 0l1-53l1 53l1-106l1 106l1 0l1-53l1 0l1 53l1-53l1-53l1 106l1-53l1 0l1 0l1-53l1 106l1-53l1 0l1 53l1 0l1 0l1 0l1-53l1 53l1 0l1 0l1 0l1-106l1 53l1 53l1 0l1 0l1 0l1-106l1 106l1 0l1 0l1 0l1-53l1 0l1-53l1 106l1-106l1-158l1 264l1-106l1 53l1 0l1 53l1-53l1 0l1 0l1-105l1 52l1 106l1-53l1 53l1 0l1 0l1 0l1 0l1-53l1 53l1-53l1 0l1 0l1 53l1 0l1 0l1-53l1 53l1-53l1 53l1 0l1 0l1-53l1 53l1-106l1 106l1-53l1 53l1 0l1-106l1 0l1 106l1 0l1-53l1 53l1-106l1 106l1 0l1-53l1 53l1 0l1-158l1 158l1 0l1 0l1 0l1 0l1 0l1-158l1 158l1-53l1 53l1-106l1 53l1 53l1 0l1-53l1-165l1 112l1 106l1 0l1-53l1 0l1 53l1 0l1 0l1-53l1 53l1 0l1-53l1 53l1 0l1 0l1-53l1 0l1 53l1 0l1-158l1 158l1-53l1-53l1 53l1-53l1 106l1 0l1 0l1 0l1-53l1 0l1-53l1 106l1-53l1-158l1 211l1-53l1 53l1-53l1-158l1 0l1 158l1 53l1 0l1-106l1-52l1 52l1 106l1 0l1-53l1 53l1-53l1 53l1 0l1-53l1-105l1 105l1 0l1 0l1-105l1 158l1-158l1 158l1 0l1-106l1 106l1 0l1-53l1 0l1 0l1 53l1-53l1 53l1 0l1 0l1 0l1-53l1 0l1 53l1-218l1 218l1-158l1 158l1-53l1 53l1 0l1-211l1 158l1 0l1-53l1 53l1 0l1 53l1-106l1 53l1 53l1 0l1 0l1 0l1 0l1 0l1 0l1 0l1-53l1 0l1 53l1-53l1 53l1 0l1 0l1-106l1-52l1 158l1 0l1-106l1 53l1 0l1 53l1-53l1 0l1-105l1 105l1-105l1 105l1 53l1 0l1-53l1 0l1-53l1-112l1 218l1-53l1-53l1 53l1 53l1 0l1-106l1 0l1 53l1 0l1 53l1-106l1-158l1 158l1-52l1 52l1 106l1 0l1 0l1 0l1 0l1-53l1 53l1-106l1 53l1 0l1 53l1-53l1 0l1-105l1 158l1 0l1-53l1 53l1-53l1 0l1 0l1 0l1 53l1-53l1 53l1 0l1-53l1 0l1 53l1-53l1 0l1 0l1 0l1 53l1-53l1-53l1 106l1 0l1-53l1-105l1 52l1-52l1 0l1 158l1 0l1 0l1 0l1-53l1 53l1-53l1-53l1 106l1-53l1 0l1-53l1 53l1 0l1-211l1 211l1 0l1-53l1 106l1-53l1 53l1-53l1 0l1 0l1 53l1-53l1-53l1 0l1 53l1 53l1-53l1 53l1 0l1-53l1 53l1-254l1 254l1-53l1-105l1 0l1-299l1 404l1-105l1 52l1 106l1-377l1 377l1-53l1 53l1-106l1 106l1-53l1-375l1 428l1-53l1 0l1 53l1-211l1 211l1 0l1 0l1-53l1 0l1-53l1 53l1 0l1-105l1 0l1 158l1 0l1 0l1-106l1 106l1-53l1 53l1-53l1-105l1 105l1-53l1 106l1-158l1 105l1-53l1-52l1 158l1-53l1-53l1 53l1 53l1-106l1 0l1 106l1 0l1-53l1 53l1-53l1-105l1 52l1 53l1 53l1-158l1 105l1 53l1 0l1-53l1-105l1 158l1-106l1 53l1 53l1-53l1 53l1-317l1 317l1-158l1 105l1 0l1 53l1 0l1-53l1 53l1-53l1 0l1 53l1-53l1 53l1-106l1 106l1-158l1 158l1 0l1-106l1 106l1-106l1 106l1 0l1-106l1 53l1 53l1-53l1 0l1-53l1 53l1 53l1 0l1-53l1 53l1 0l1-53l1 0l1-53l1 106l1-106l1 106l1 0l1 0l1 0l1 0l1 0l1 0l1 0l1 0l1-53l1 0l1 0l1 53l1-158l1-53l1 158l1 53l1-53l1 53l1-53l1 53l1-53l1 53l1 0l1 0l1 0l1-53l1 53l1-53l1 53l1 0l1 0l1 0l1 0l1 0l1 0l1 0l1-53l1 53l1 0l1 0l1-53l1 53l1-53l1 53l1 0l1 0l1 0l1 0l1-106l1 53l1 53l1 0l1-53l1 53l1-53l1 53l1-53l1 0l1 0l1 0l1-53l1 53l1 0l1 53l1 0l1-53l1 53l1 0l1 0l1-53l1 53l1 0l1 0l1-53l1 53l1 0l1 0l1-106l1 53l1 0l1 0l1 0l1 53l1-106l1 106l1-53l1 0l1-53l1 53l1 53l1 0l1-53l1 53l1 0l1 0l1 0l1 0l1 0l1 0l1-106l1 106l1 0l1 0l1-53l1 53l1 0l1-158l1 158l1 0l1 0l1 0l1 0l1 0l1 0l1-53l1-53l1-112l1 218l1-106l1 106l1 0l1 0l1 0l1 0l1 0l1-53l1 53l1-158l1 158l1-53l1-105l1 158l1-158l1 158l1 0l1 0l1-53l1 53l1 0l1-53l1 53l1-106l1 53l1 0l1 53l1-158l1-60l1 218l1 0l1 0l1-53l1 0l1 53l1 0l1-53l1 53l1 0l1-53l1 53l1-53l1 0l1-105l1 158l1 0l1-53l1 53l1-283l1 283l1 0l1-53l1 53l1-106l1 106l1 0l1-106l1 106l1 0l1 0l1-53l1 53l1-158l1 105l1 53l1 0l1-53l1 53l1 0l1 0l1-53l1 0l1 53l1-211l1 158l1 53l1 0l1 0l1 0l1 0l1 0l1-158l1 105l1-158l1 158l1 0l1 53l1-106l1 0l1 0l1 106l1 0l1-53l1 53l1 0l1 0l1-53l1-53l1 53l1 0l1 0l1 53l1-53l1 0l1 53l1 0l1 0l1 0l1 0l1 0l1-53l1 0l1 53l1-158l1 158l1 0l1-106l1 106l1-53l1 53l1 0l1 0l1 0l1 0l1 0l1 0l1 0l1-53l1 0l1-53l1 106l1-106l1 0l1 106l1 0l1-53l1 53l1-53l1 53l1-106l1 106l1 0l1-53l1-53l1 53l1 0l1 53l1-106l1 106l1-53l1 0l1-211l1 264l1-106l1 53l1 53l1 0l1-53l1 53l1 0l1 0l1 0l1 0l1-158l1 158l1-53l1 53l1 0l1 0" fill="none" stroke="#f08a8a" stroke-width="4.0" vector-effect="non-scaling-stroke" stroke-linejoin="round" stroke-linecap="round"/>
<path transform="translate(1773.90 1280.60) scale(0.38375 0.5)" d="M0-28l4 0l4-1l4 0l4 0l4-1l4 0l4 0l4 0l4 0l4 0l4 0l4 0l4-1l4 0l4 0l4 0l4 0l4 0l4 0l4 0l4 0l4-1l4-1l4-1l4-1l4-1l4 0l4 1l4 1l4 1l4 2l4 1l4 0l4 0l4 0l4 0l4 0l4 0l4 0l4 0l4 0l4 0l4 0l4 0l4-1l4-1l4-2l4-2l4-2l4-2l4-1l4-2l4 0l4 0l4 1l4 1l4 1l4 2l4 1l4 1l4 1l4 0l4 1l4 0l4 0l4 0l4-1l4 0l4-2l4-1l4-2l4-2l4-3l4-2l4-1l4-1l4-1l4 0l4 0l4 0l4 0l4 0l4 0l4-1l4-1l4-2l4-2l4-3l4-3l4-2l4-2l4-2l4-2l4-1l4-2l4-1l4 0l4-1l4-1l4 0l4 0l4 0l4 0l4 0l4 0l4-1l4 0l4 1l4 0l4 1l4 1l4 1l4 2l4 2l4 2l4 2l4 2l4 3l4 2l4 3l4 3l4 2l4 3l4 2l4 2l4 2l4 2l4 1l4 1l4 2l4 1l4 1l4 2l4 2l4 1l4 1l4 1l4 0l4 0l4-1l4-1l4 0l4-1l4 0l4-1l4 0l4 0l4 0l4 0l4 1l4 0l4 1l4 0l4 1l4-1l4 0l4-1l4-1l4-1l4 0l4-1l4 0l4 0l4 0l4 0l4 0l4 1l4 0l4 0l4 0l4-1l4 0l4-1l4 0l4-1l4-1l4-1l4 0l4 0l4 0l4 1l4 1l4 1l4 1l4 1l4 1l4 0l4 0l4-1l4-1l4-1l4-1l4-1l4 0l4 0l4 0l4 1l4 1l4 1l4 0" fill="none" stroke="#e31a1c" stroke-width="3.6" vector-effect="non-scaling-stroke" stroke-linejoin="round"/>
<path transform="translate(1773.90 1280.60) scale(0.38375 0.5)" d="M0-36l2-2l2 1l2 0l2 6l2 1l2-4l2-1l2 5l2-3l2 2l2-3l2-3l2 3l2-2l2 2l2-1l2-2l2-1l2 2l2 4l2-3l2 4l2-3l2-6l2 2l2 3l2 3l2-2l2-1l2 0l2-2l2 5l2-2l2-3l2 2l2 0l2 0l2 1l2 0l2 4l2 0l2-3l2 0l2-1l2 4l2-4l2-6l2 3l2 3l2 1l2 0l2 1l2-8l2 2l2 1l2-1l2 2l2 2l2 3l2-3l2 1l2-1l2-3l2 6l2 2l2-9l2 1l2 1l2-1l2 4l2 1l2-5l2 2l2 0l2-3l2 4l2-5l2 8l2-5l2 3l2-3l2 4l2-1l2-2l2-1l2 2l2 1l2-6l2 0l2 7l2-4l2 0l2-1l2 4l2-3l2 0l2 2l2-2l2 4l2-1l2-5l2 5l2 0l2 1l2-6l2 3l2 2l2-3l2 2l2-1l2-1l2-4l2 6l2 1l2-7l2 8l2-2l2-3l2 3l2 0l2-5l2 5l2 1l2-1l2-2l2-1l2 5l2-1l2 0l2-4l2 0l2 2l2 0l2 3l2 1l2 3l2-2l2-1l2-4l2-2l2 3l2 5l2-2l2 0l2-3l2 1l2 3l2-2l2 4l2-3l2-6l2 10l2-3l2-7l2 0l2-1l2 7l2-7l2 1l2 2l2 4l2-6l2 1l2 0l2 1l2 0l2 5l2-4l2 0l2-2l2 1l2 2l2 3l2-10l2 4l2 2l2 3l2-2l2-1l2 0l2 3l2-3l2 2l2 0l2 0l2-6l2 2l2 0l2 2l2-3l2 4l2-2l2 3l2-4l2 4l2 0l2-2l2-6l2-10l2-6l2 4l2 11l2 3l2 3l2 4l2-2l2-3l2 2l2 3l2-2l2 0l2 0l2-3l2 0l2 5l2-2l2-3l2 4l2-2l2 1l2-5l2-1l2 7l2-1l2-3l2 0l2-1l2 2l2 0l2-2l2 5l2 2l2-3l2 1l2-1l2-5l2 1l2 4l2-3l2 2l2 0l2 0l2 1l2 1l2-2l2-5l2 3l2-3l2 5l2 6l2-4l2-3l2-1l2 6l2-1l2-2l2-4l2 5l2-1l2 0l2-2l2-1l2 6l2-4l2-1l2-1l2 4l2-1l2 1l2-3l2-5l2 7l2-2l2 1l2 5l2-4l2-3l2 2l2 1l2 0l2-2l2 0l2-3l2 6l2-5l2 2l2 3l2 0l2 2l2-3l2-3l2 1l2-1l2-1l2 1l2-1l2 2l2-2l2 8l2-2l2-2l2-2l2 2l2-2l2 0l2-3l2 6l2-2l2 3l2-6l2 8l2-1l2-3l2-3l2 2l2-3l2 0l2 4l2 0l2-3l2-4l2 5l2 2l2-2l2 5l2-7l2-1l2 4l2 2l2-4l2 0l2 1l2 4l2-3l2-3l2 8l2-7l2 3l2-4l2 0l2 2l2 3l2-4l2 2l2-1l2 0l2-5l2 2l2 1l2 6l2-4l2 0l2 3l2-2l2 0l2 1l2 1l2-3l2 4l2-3l2 2l2 0l2-1l2 3l2-5l2-5l2 7l2 0l2 2l2-2l2-8l2 5l2 1l2 3l2-3l2 7l2-6l2 5l2-4l2 1l2-2l2 1l2-4l2 10l2-7l2-2l2 2l2 3l2 0l2 1l2-8l2 3l2 8l2-8l2-3l2-1l2 6l2 1l2-5l2 2" fill="none" stroke="#808080" stroke-width="5.0" vector-effect="non-scaling-stroke" stroke-linejoin="round"/>
<path transform="translate(1773.90 1280.60) scale(0.38375 0.5)" d="M0-33l3-1l3 0l3 0l3 0l3 0l3 0l3 0l3 0l3 0l3 0l3 0l3 0l3 0l3 0l3 0l3 0l3 0l3 1l3 0l3-1l3 0l3-1l3 0l3 1l3 0l3 0l3 0l3 0l3 1l3 0l3-1l3 0l3 0l3-1l3 1l3 0l3 0l3 1l3 0l3-1l3 0l3 0l3-1l3 0l3 0l3 0l3 0l3 1l3 0l3 0l3-1l3 0l3 0l3 0l3 1l3 0l3 0l3 0l3 1l3 0l3 1l3-1l3-1l3 0l3 0l3 0l3 0l3 1l3 0l3-1l3 0l3-1l3 0l3 1l3 0l3 0l3 0l3 0l3 0l3-1l3 0l3 0l3 1l3 0l3 0l3 1l3 0l3-1l3 0l3 0l3 0l3 1l3-1l3 0l3 0l3 0l3 0l3 0l3 0l3 0l3 0l3 0l3 0l3 0l3 0l3 0l3 0l3 0l3 0l3 0l3 0l3 0l3 0l3 0l3 0l3 0l3 0l3-1l3 0l3 0l3 0l3 1l3 0l3-1l3 0l3 1l3 0l3 0l3 1l3-1l3-1l3-2l3-1l3 1l3 2l3 2l3 0l3-1l3 0l3 0l3 0l3 1l3 0l3 0l3-1l3-1l3 1l3 0l3 0l3 0l3 0l3 0l3 0l3 1l3-1l3 0l3 0l3 0l3 0l3 0l3 1l3 0l3 0l3-1l3 0l3-1l3 0l3 1l3 0l3 1l3 0l3-1l3 0l3 0l3 0l3 0l3 1l3 0l3 0l3-1l3-1l3 0l3 0l3-1l3 1l3 0l3 0l3 0l3 0l3 0l3 1l3 0l3 0l3 0l3 0l3 1l3 0l3 0l3 0l3 0l3 0l3-1l3 0l3-1l3 0l3 0l3 1l3 0l3 0l3 0l3 0l3 0l3-1l3 0l3 0l3 0l3 1l3 1l3 1l3 0l3-1l3 0l3-1l3 0l3 0l3 0l3 0l3 0l3 0l3 0l3 0l3 1l3 0l3-1l3 0l3 0l3 0l3 0l3 0l3 1l3 0l3 0l3 0l3-1l3 1l3 0l3-1l3 0l3 0l3-1l3 0l3 0l3 1l3 0l3 0l3 1l3 0l3 0l3 0l3-1l3 0l3-1l3 0l3 0l3 0l3 0" fill="none" stroke="#000000" stroke-width="3.5" vector-effect="non-scaling-stroke" stroke-linejoin="round"/>
<rect x="1914.93" y="1271.60" width="24.94" height="9.00" fill="#ff0099"/>
</g>
<path d="M1812.28 1026.80v8.3M1812.28 1280.60v-8.3M1850.65 1026.80v16.8M1850.65 1280.60v-16.8M1889.03 1026.80v8.3M1889.03 1280.60v-8.3M1927.40 1026.80v16.8M1927.40 1280.60v-16.8M1965.78 1026.80v8.3M1965.78 1280.60v-8.3M2004.15 1026.80v16.8M2004.15 1280.60v-16.8M2042.53 1026.80v8.3M2042.53 1280.60v-8.3M1773.90 1279.00h16.5M2080.90 1279.00h-16.5M1773.90 1208.09h16.5M2080.90 1208.09h-16.5M1773.90 1135.57h16.5M2080.90 1135.57h-16.5M1773.90 1063.06h16.5M2080.90 1063.06h-16.5" stroke="#000" stroke-width="2" fill="none"/>
<rect x="1773.90" y="1026.80" width="307.00" height="253.80" fill="none" stroke="#000" stroke-width="3.1"/>
<text x="1757.60" y="1287.10" class="tl" text-anchor="end">0.000</text>
<text x="1757.60" y="1214.59" class="tl" text-anchor="end">0.002</text>
<text x="1757.60" y="1142.07" class="tl" text-anchor="end">0.004</text>
<text x="1757.60" y="1069.56" class="tl" text-anchor="end">0.006</text>
<text x="1928.40" y="1006.45" class="tt" text-anchor="middle">EP300 (n = 1,757)</text>
<clipPath id="c20"><rect x="113.25" y="1355.05" width="307.00" height="253.80"/></clipPath>
<g clip-path="url(#c20)">
<path transform="translate(113.25 1608.85) scale(0.38375 0.5)" d="M0-62l1 62l1 0l1-62l1 62l1 0l1-62l1 0l1 0l1 62l1 0l1 0l1-62l1 62l1 0l1-62l1 0l1 62l1 0l1 0l1 0l1-62l1 0l1 62l1 0l1-62l1 0l1 0l1 62l1-62l1-61l1 61l1 62l1-62l1 62l1-62l1 62l1-123l1 123l1-62l1 62l1 0l1 0l1 0l1 0l1-62l1 62l1 0l1 0l1 0l1 0l1-62l1 62l1 0l1-62l1 62l1-62l1 62l1 0l1 0l1 0l1-62l1 62l1-247l1 185l1 62l1 0l1-62l1 0l1-61l1-198l1 321l1 0l1-62l1 62l1-62l1 62l1-123l1 123l1-123l1 123l1 0l1 0l1 0l1 0l1-123l1 123l1 0l1 0l1 0l1-62l1 0l1 0l1 62l1-62l1 0l1 0l1 62l1-62l1 62l1 0l1-123l1 61l1 62l1-62l1 0l1 0l1 62l1-62l1 62l1-62l1 0l1 62l1 0l1-185l1 0l1 123l1 62l1 0l1-185l1 185l1-62l1 0l1 0l1-61l1 0l1 123l1-62l1 62l1 0l1 0l1 0l1-62l1 62l1 0l1 0l1-62l1 0l1 0l1 62l1-123l1 61l1-123l1 123l1 62l1-185l1 185l1 0l1 0l1 0l1 0l1-185l1 62l1 61l1-123l1 185l1-185l1 123l1 62l1-123l1 0l1 61l1 0l1 62l1 0l1-62l1 62l1-62l1 62l1 0l1 0l1 0l1-123l1 61l1 62l1-62l1 0l1 62l1 0l1-62l1 62l1 0l1 0l1-62l1 62l1 0l1 0l1-185l1 123l1 0l1 0l1 62l1 0l1 0l1 0l1 0l1-123l1 123l1 0l1 0l1-62l1 0l1 0l1-123l1 185l1 0l1-62l1 62l1-62l1 62l1 0l1-62l1 62l1-185l1 62l1 123l1 0l1 0l1 0l1-62l1 0l1 62l1-123l1 123l1 0l1 0l1-123l1 0l1 123l1-123l1 61l1 62l1-123l1 0l1 123l1 0l1 0l1-62l1 0l1 62l1-123l1 123l1 0l1-62l1 62l1-123l1 123l1-62l1 62l1 0l1-62l1-123l1 185l1-62l1 0l1 62l1-185l1 185l1-123l1 123l1-123l1 61l1-61l1 0l1 0l1 0l1 123l1 0l1-62l1-123l1 185l1-62l1 0l1 0l1 0l1 0l1 0l1 62l1-62l1 62l1 0l1-62l1 0l1 0l1-123l1 62l1 123l1-123l1 61l1-61l1 123l1-62l1 62l1-185l1 185l1-62l1-123l1 123l1-123l1 62l1 0l1 61l1 62l1-123l1 0l1 0l1 0l1-62l1 123l1-185l1 62l1 123l1 0l1 0l1-185l1 124l1 61l1 0l1 0l1-61l1 123l1-185l1 123l1-61l1 61l1 62l1-62l1 62l1-123l1 61l1 62l1-62l1 62l1-62l1 62l1-185l1 123l1 62l1-62l1 62l1-62l1-61l1 123l1 0l1-62l1 62l1 0l1-62l1-61l1 61l1-61l1-62l1 185l1-62l1 0l1 0l1 62l1-123l1-62l1 0l1-69l1 192l1 0l1-61l1 0l1-186l1 247l1 62l1 0l1-62l1 62l1 0l1 0l1 0l1-185l1-94l1 217l1 62l1 0l1 0l1 0l1-62l1 62l1-62l1-123l1-170l1 293l1 0l1-123l1 62l1-62l1-185l1-78l1 325l1-124l1-252l1 252l1 247l1-123l1 0l1 0l1-186l1 186l1-207l1 268l1-123l1 62l1 0l1 123l1-123l1 0l1 123l1-185l1 0l1 0l1-94l1 217l1-61l1 123l1-62l1 0l1-61l1 0l1-62l1 185l1-370l1 308l1 62l1-271l1 86l1 123l1-61l1 61l1 0l1 0l1 0l1-123l1 0l1 185l1-123l1-62l1 0l1 185l1 0l1-62l1 0l1-247l1 247l1-61l1 61l1 62l1-62l1 0l1-247l1 186l1 61l1 0l1-61l1 61l1-308l1 116l1 192l1 62l1-247l1 185l1-123l1 185l1-185l1 185l1-62l1-123l1 0l1 62l1 0l1 123l1 0l1-62l1 0l1 62l1-185l1 185l1 0l1 0l1-123l1-247l1 247l1 61l1 62l1 0l1-123l1 0l1-62l1 123l1-61l1 123l1 0l1-123l1 123l1-185l1 0l1 62l1 123l1-247l1 62l1 123l1-61l1 61l1 0l1 62l1-123l1 0l1 123l1-62l1 0l1-61l1 123l1-62l1-61l1 123l1-62l1-158l1 97l1-62l1 185l1-185l1 185l1-62l1 62l1-123l1 0l1-124l1 247l1-123l1 61l1-123l1 185l1 0l1 0l1-62l1 62l1-62l1-61l1-62l1-185l1 185l1 0l1 123l1 0l1 0l1-185l1 185l1-61l1 61l1 62l1-62l1 0l1 0l1-61l1 61l1 0l1 0l1 0l1 62l1 0l1-62l1 0l1-123l1 123l1 62l1 0l1 0l1-62l1-61l1-62l1 185l1 0l1-185l1 0l1 123l1-61l1 61l1-123l1 0l1 185l1-62l1-61l1 123l1-62l1 62l1 0l1-123l1 61l1 62l1-185l1 0l1 123l1 0l1 62l1 0l1 0l1-62l1 0l1 62l1-62l1 0l1 62l1-123l1 123l1-185l1 0l1 185l1 0l1-62l1-61l1 123l1 0l1-62l1 0l1 62l1-62l1 0l1-185l1 247l1-62l1 0l1 0l1 62l1 0l1 0l1-123l1-62l1 62l1 123l1-62l1 0l1-61l1 123l1 0l1 0l1-62l1 62l1-62l1 62l1-123l1 123l1-62l1 62l1 0l1-62l1 62l1-212l1 212l1 0l1 0l1-185l1 185l1-123l1 123l1-62l1 62l1-123l1 123l1-62l1 62l1 0l1-62l1 0l1 62l1-62l1 62l1 0l1 0l1 0l1 0l1-62l1 62l1 0l1-62l1 62l1 0l1-123l1 123l1 0l1-62l1 62l1-123l1 123l1-62l1 0l1-123l1 185l1 0l1-62l1 62l1 0l1 0l1 0l1 0l1-62l1 62l1-123l1 61l1 62l1 0l1-62l1 62l1-123l1 123l1 0l1 0l1-62l1 62l1 0l1-62l1 62l1 0l1 0l1-62l1 0l1 0l1 0l1-61l1 61l1 0l1 62l1-62l1-61l1 61l1-61l1 61l1 62l1 0l1 0l1-123l1 0l1 123l1-62l1 62l1-123l1 123l1 0l1 0l1-62l1 62l1 0l1 0l1-123l1 61l1 0l1 62l1 0l1 0l1 0l1-62l1 0l1 0l1 62l1-123l1 123l1-123l1 123l1-123l1 123l1-62l1 0l1 62l1 0l1-62l1 62l1 0l1-62l1 62l1-123l1 61l1 62l1-62l1 0l1 62l1-62l1 62l1 0l1-62l1 0l1 0l1 62l1-185l1 62l1-124l1 247l1-123l1 123l1-62l1 62l1 0l1 0l1-62l1 62l1-62l1 62l1-247l1 247" fill="none" stroke="#f08a8a" stroke-width="4.0" vector-effect="non-scaling-stroke" stroke-linejoin="round" stroke-linecap="round"/>
<path transform="translate(113.25 1608.85) scale(0.38375 0.5)" d="M0-6l4 0l4 0l4 0l4-1l4 0l4 0l4 0l4-1l4 0l4 0l4-1l4 0l4-1l4 0l4-1l4-1l4 0l4-1l4-1l4-1l4-1l4-1l4-1l4-1l4-1l4-1l4-1l4-1l4-1l4-1l4 0l4-1l4-1l4 0l4 0l4-1l4 0l4 0l4 0l4 1l4 0l4 0l4 0l4 0l4 1l4 0l4-1l4 0l4 0l4-1l4-1l4 0l4-1l4-1l4-1l4-2l4-1l4-1l4-1l4-2l4-1l4-2l4-1l4-2l4-2l4-2l4-1l4-2l4-2l4-2l4-2l4-1l4-2l4-1l4-1l4-1l4-1l4-1l4 0l4 0l4 0l4 0l4 0l4-1l4 0l4-1l4 0l4-1l4-2l4-1l4-2l4-1l4-2l4-2l4-2l4-2l4-2l4-1l4-1l4-1l4-1l4-1l4 0l4 0l4 1l4 0l4 1l4 0l4 1l4 1l4 0l4 1l4 1l4 1l4 1l4 1l4 1l4 1l4 1l4 2l4 1l4 1l4 2l4 1l4 1l4 1l4 1l4 1l4 1l4 1l4 1l4 1l4 1l4 1l4 1l4 1l4 1l4 1l4 1l4 1l4 2l4 1l4 1l4 2l4 1l4 2l4 1l4 1l4 2l4 1l4 1l4 2l4 1l4 1l4 2l4 1l4 1l4 1l4 2l4 1l4 1l4 1l4 1l4 1l4 1l4 1l4 0l4 1l4 0l4 0l4 0l4 0l4 0l4 0l4 0l4-1l4 0l4 0l4 0l4-1l4 0l4 0l4 0l4 0l4-1l4 0l4 0l4 0l4-1l4 0l4 0l4-1l4 0l4-1l4 0l4-1l4 0l4 0l4 0l4 0" fill="none" stroke="#e31a1c" stroke-width="3.6" vector-effect="non-scaling-stroke" stroke-linejoin="round"/>
<path transform="translate(113.25 1608.85) scale(0.38375 0.5)" d="M0-39l2-1l2-1l2-4l2-1l2 3l2 5l2 1l2 0l2-1l2-8l2 2l2 4l2 4l2-5l2-4l2 6l2-1l2-8l2 8l2-6l2 5l2-1l2 2l2-4l2 6l2 0l2-3l2 0l2 2l2 3l2 4l2-4l2-3l2-1l2-5l2 1l2 1l2 1l2 3l2-5l2 0l2-4l2 7l2 0l2-6l2 7l2 3l2-8l2-1l2 4l2 3l2 0l2 1l2-5l2 0l2 2l2-1l2 1l2-4l2 0l2 4l2 0l2-3l2 7l2-9l2 2l2 7l2 2l2-7l2-4l2 2l2 7l2-4l2-1l2 3l2-1l2-2l2 4l2-2l2-1l2-1l2 7l2-11l2 1l2 2l2 8l2-5l2-4l2-2l2 6l2-6l2 3l2-2l2-2l2 6l2 3l2-6l2 1l2-2l2 2l2 4l2-3l2-2l2 7l2-2l2-1l2-7l2 3l2 2l2 1l2 6l2-7l2 5l2-2l2-1l2-7l2 3l2 1l2-2l2 6l2 3l2-5l2-2l2 3l2-7l2 1l2 6l2-2l2 5l2-2l2 2l2-2l2-2l2-2l2 2l2-1l2-1l2 1l2 2l2-4l2 5l2-1l2-3l2 0l2-1l2 8l2-4l2-1l2 2l2 0l2 3l2-12l2 4l2 4l2-4l2 3l2-2l2-3l2 7l2-1l2-4l2-4l2 4l2-5l2 5l2 9l2-3l2-4l2-5l2 7l2-4l2 1l2 6l2 2l2 0l2-4l2-7l2-1l2 10l2 1l2-4l2-2l2 2l2 0l2 5l2-5l2-2l2 0l2-3l2 6l2-5l2 4l2-4l2 6l2-8l2 8l2-7l2-3l2-5l2 2l2 2l2 2l2 8l2 2l2-6l2 1l2 1l2 7l2-3l2-6l2 1l2 2l2 3l2-1l2-4l2-3l2 3l2 2l2 0l2-4l2 6l2-6l2 1l2-2l2-1l2-3l2 7l2 2l2-4l2 6l2-1l2 2l2-9l2 10l2 0l2-6l2 3l2-1l2-4l2 6l2-5l2 0l2 5l2 2l2-3l2-3l2 1l2 3l2-7l2 3l2-5l2 6l2 1l2-4l2 2l2 4l2-5l2 4l2-4l2-4l2 6l2 0l2 2l2 0l2-7l2 4l2 1l2 0l2 1l2-3l2 4l2 4l2-3l2 1l2-5l2 0l2-1l2 0l2 2l2 2l2-1l2 2l2-9l2 4l2 3l2-3l2 6l2-4l2-4l2 11l2-12l2 2l2 3l2 3l2-3l2 4l2-6l2 5l2 0l2-2l2 5l2-5l2-1l2 1l2-4l2 4l2-8l2 4l2 5l2 1l2-2l2 0l2-1l2-1l2-1l2 0l2 2l2-2l2 3l2 5l2-5l2-4l2 2l2 4l2 0l2-1l2-4l2-5l2 7l2 2l2 2l2-2l2-7l2 2l2 1l2-1l2-2l2 6l2-2l2 0l2 1l2 3l2-6l2 5l2 3l2-3l2 2l2-3l2-2l2 3l2 6l2-7l2-5l2 4l2 2l2-3l2-2l2 3l2 0l2-5l2 1l2 4l2 4l2-7l2 3l2-1l2 2l2 0l2-3l2 1l2 0l2-3l2 5l2 0l2 1l2-3l2-5l2 5l2 0l2-3l2 2l2 6l2-3l2-1l2-4l2 1l2 7l2-2l2-2l2 5l2-2l2-7l2 7l2-6l2 0l2 4l2-2l2 1l2 1l2 0" fill="none" stroke="#808080" stroke-width="5.0" vector-effect="non-scaling-stroke" stroke-linejoin="round"/>
<path transform="translate(113.25 1608.85) scale(0.38375 0.5)" d="M0-40l3 0l3-1l3 0l3-1l3 0l3 1l3 0l3 0l3-1l3 0l3 0l3 0l3 0l3 0l3 0l3 0l3 0l3 0l3 1l3 0l3 0l3 0l3-1l3 0l3 1l3 1l3 0l3-1l3 0l3-1l3 0l3 0l3 1l3 0l3 0l3 1l3 0l3 0l3-1l3-1l3 0l3 0l3 1l3 0l3-1l3 1l3 0l3 0l3-1l3 0l3 0l3 1l3 0l3 1l3 0l3 0l3-1l3 0l3 0l3 0l3 0l3 1l3-1l3 0l3-1l3 0l3 0l3 0l3 0l3 1l3-1l3 0l3 0l3 0l3 1l3 0l3 1l3-1l3 0l3-1l3 0l3 0l3 0l3 0l3 0l3 0l3 0l3 1l3 0l3 0l3 0l3 0l3 0l3-1l3 0l3 0l3 0l3-1l3 0l3 1l3 0l3 0l3 0l3 0l3 0l3 0l3-1l3 0l3 0l3 1l3 1l3 0l3 0l3 0l3 0l3 0l3 0l3 0l3-1l3 0l3 1l3 0l3 0l3 0l3-1l3 0l3 0l3 0l3 0l3 0l3 0l3-2l3-1l3 0l3 2l3 2l3 1l3 0l3 0l3-1l3-1l3 0l3 1l3 1l3 0l3-1l3-1l3 0l3 0l3 1l3 0l3 0l3 0l3 0l3 0l3 0l3-1l3 0l3 0l3 0l3 1l3-1l3 0l3 0l3 1l3 0l3 1l3 0l3-1l3 0l3 0l3 0l3 0l3 0l3 0l3 0l3 0l3 0l3 0l3 0l3 0l3 0l3 0l3 0l3 0l3-1l3 0l3 0l3 0l3 0l3 1l3 0l3 0l3 0l3 0l3 0l3 0l3 0l3 0l3 0l3 0l3 0l3-1l3 0l3 1l3 0l3 0l3-1l3-1l3 0l3 1l3 1l3 0l3 1l3-1l3 0l3-1l3 0l3 0l3 0l3 0l3 0l3 0l3 0l3 0l3-1l3 0l3 0l3 0l3 1l3 1l3 0l3 0l3-1l3 0l3 0l3-1l3 0l3 1l3 0l3 0l3 0l3 1l3-1l3 0l3 0l3 0l3 0l3 0l3 0l3 0l3 0l3 0l3 1l3 0l3 1l3 0l3 0l3-1l3-1l3 0l3 0l3 0l3 1l3 0l3 1" fill="none" stroke="#000000" stroke-width="3.5" vector-effect="non-scaling-stroke" stroke-linejoin="round"/>
<rect x="254.28" y="1599.85" width="24.94" height="9.00" fill="#ff0099"/>
</g>
<path d="M151.62 1355.05v8.3M151.62 1608.85v-8.3M190.00 1355.05v16.8M190.00 1608.85v-16.8M228.38 1355.05v8.3M228.38 1608.85v-8.3M266.75 1355.05v16.8M266.75 1608.85v-16.8M305.12 1355.05v8.3M305.12 1608.85v-8.3M343.50 1355.05v16.8M343.50 1608.85v-16.8M381.88 1355.05v8.3M381.88 1608.85v-8.3M113.25 1607.25h16.5M420.25 1607.25h-16.5M113.25 1524.25h16.5M420.25 1524.25h-16.5M113.25 1439.65h16.5M420.25 1439.65h-16.5" stroke="#000" stroke-width="2" fill="none"/>
<rect x="113.25" y="1355.05" width="307.00" height="253.80" fill="none" stroke="#000" stroke-width="3.1"/>
<text x="96.95" y="1615.35" class="tl" text-anchor="end">0.000</text>
<text x="96.95" y="1530.75" class="tl" text-anchor="end">0.002</text>
<text x="96.95" y="1446.15" class="tl" text-anchor="end">0.004</text>
<text x="96.95" y="1361.55" class="tl" text-anchor="end">0.006</text>
<text x="267.75" y="1334.70" class="tt" text-anchor="middle">SIN3A (n = 1,755)</text>
<clipPath id="c21"><rect x="528.25" y="1355.05" width="307.00" height="253.80"/></clipPath>
<g clip-path="url(#c21)">
<path transform="translate(528.25 1608.85) scale(0.38375 0.5)" d="M0 0l1 0l1 0l1-186l1 186l1-62l1-124l1 186l1 0l1 0l1-62l1-187l1 249l1 0l1-62l1 62l1 0l1 0l1-62l1 62l1 0l1 0l1 0l1-62l1 0l1 0l1 62l1-62l1-62l1 62l1-124l1 186l1 0l1 0l1 0l1 0l1 0l1 0l1-62l1 0l1 0l1-62l1-62l1 62l1 62l1 62l1-186l1 0l1 186l1-62l1 62l1-62l1 0l1 0l1 62l1 0l1-186l1 124l1 62l1 0l1-124l1 0l1 62l1 62l1-62l1-62l1 62l1 62l1 0l1-124l1 0l1-62l1 124l1 0l1 62l1 0l1-62l1 0l1 62l1-62l1 62l1 0l1 0l1 0l1 0l1-62l1-62l1 124l1-62l1 62l1 0l1 0l1-62l1 62l1 0l1-186l1 186l1 0l1 0l1-62l1 62l1-186l1 186l1 0l1-124l1 62l1 62l1 0l1 0l1 0l1-124l1 62l1 62l1 0l1 0l1 0l1 0l1 0l1-124l1 62l1 0l1 62l1 0l1-186l1 124l1 0l1 62l1-124l1 124l1 0l1 0l1-124l1 62l1 0l1 62l1 0l1-124l1 62l1-62l1 62l1 62l1-62l1 0l1 62l1 0l1 0l1-124l1 124l1-62l1 62l1-62l1 62l1-62l1 62l1-124l1 62l1 0l1-124l1 124l1 0l1 62l1-62l1-62l1 62l1 62l1 0l1-124l1 62l1 0l1 62l1-195l1 195l1-62l1 62l1-62l1 62l1 0l1-62l1-187l1 125l1 62l1 0l1 0l1 0l1-124l1 186l1-124l1 124l1-124l1 62l1 62l1-62l1-124l1 186l1-62l1 62l1 0l1-124l1 124l1-62l1 62l1 0l1-62l1 0l1-62l1 62l1 62l1-186l1 62l1 124l1-124l1 62l1-124l1 124l1 0l1 0l1 62l1 0l1-124l1 62l1 0l1 62l1 0l1-186l1 62l1 124l1 0l1-62l1-124l1 124l1 0l1 62l1 0l1 0l1 0l1-186l1 124l1 62l1-62l1 62l1-62l1 62l1-62l1 62l1 0l1-62l1 62l1 0l1-62l1 0l1 0l1-62l1 124l1-62l1 62l1-186l1 186l1 0l1 0l1 0l1 0l1 0l1 0l1 0l1-249l1 187l1 62l1-62l1 0l1-124l1 186l1 0l1 0l1 0l1-124l1 0l1 124l1 0l1-62l1 62l1-62l1 0l1-62l1 62l1-62l1 124l1-62l1 62l1 0l1 0l1-62l1-124l1 186l1-62l1 0l1 0l1 0l1 62l1-62l1 0l1 0l1 0l1 0l1 62l1-62l1 62l1-124l1 0l1 62l1 0l1-62l1 62l1-124l1 124l1 62l1-62l1 62l1 0l1 0l1 0l1-62l1 0l1 0l1 62l1-62l1 62l1 0l1 0l1-124l1 62l1 0l1 62l1 0l1-124l1 62l1-62l1 0l1 124l1 0l1 0l1-62l1 62l1-124l1 124l1 0l1-62l1-62l1 0l1 124l1 0l1 0l1-62l1-62l1 0l1-125l1-47l1 296l1-62l1 62l1-186l1 0l1 186l1 0l1-62l1-187l1 249l1-62l1-62l1 62l1 0l1 0l1 0l1 0l1-62l1 62l1-124l1 62l1 62l1 0l1-62l1-62l1 186l1-249l1 125l1 62l1-420l1 482l1 0l1-124l1 62l1-249l1 249l1-249l1 249l1-124l1-254l1 316l1 0l1 0l1 0l1 124l1-124l1-262l1 386l1-62l1-378l1 316l1 62l1-249l1 311l1 0l1-62l1 0l1-187l1 187l1-124l1-125l1 62l1 187l1 62l1 0l1-62l1-124l1 186l1-124l1 62l1 0l1-187l1 249l1 0l1-398l1 336l1 0l1-62l1 124l1 0l1 0l1-186l1 0l1 124l1-187l1 249l1-124l1 0l1 0l1 124l1-311l1 125l1 124l1-249l1 125l1 124l1-187l1 249l1-62l1-200l1 200l1 0l1-124l1 124l1 0l1 0l1 62l1-124l1 62l1 0l1-62l1 0l1 124l1 0l1-186l1 124l1-124l1 62l1-187l1 249l1 62l1-186l1 124l1 0l1 0l1-62l1 62l1-124l1 186l1 0l1-62l1-324l1 324l1 0l1-192l1 192l1 62l1-124l1 62l1 0l1 62l1-124l1 0l1 62l1 62l1-62l1 0l1 62l1-62l1 62l1-62l1 62l1-186l1 186l1 0l1-62l1 62l1 0l1-124l1 62l1 0l1 0l1 62l1-186l1 124l1-62l1 124l1 0l1 0l1-124l1 124l1 0l1-62l1 0l1-192l1 130l1 124l1 0l1-62l1 62l1-62l1 0l1 62l1 0l1-124l1 124l1-124l1 124l1-62l1 62l1-62l1 0l1 62l1 0l1 0l1 0l1-62l1 62l1-62l1 0l1-124l1 186l1-186l1 124l1 62l1-62l1 0l1 0l1 0l1 62l1-186l1 124l1 0l1 62l1-62l1 0l1 0l1 0l1 62l1-62l1 62l1 0l1-124l1 124l1-62l1 62l1-62l1 62l1-62l1 0l1 62l1 0l1-62l1 62l1 0l1-62l1-124l1 62l1 124l1-124l1 124l1 0l1 0l1-62l1-62l1 124l1 0l1 0l1-62l1 0l1 62l1 0l1 0l1-62l1 0l1 62l1 0l1-62l1 0l1 62l1 0l1 0l1-62l1-124l1 0l1 62l1 62l1 0l1 62l1-186l1 186l1 0l1-62l1 62l1-262l1 262l1 0l1 0l1 0l1 0l1 0l1-186l1 124l1 62l1-62l1 0l1 0l1 0l1 62l1 0l1-62l1 62l1-62l1 62l1 0l1 0l1-62l1 62l1-311l1 249l1 0l1 62l1 0l1 0l1 0l1-62l1 0l1 62l1-62l1-62l1 62l1-62l1 0l1 62l1 62l1 0l1 0l1 0l1-62l1 0l1 62l1-62l1 62l1-62l1 62l1-62l1-62l1 62l1 62l1 0l1 0l1-62l1 62l1-62l1 0l1 0l1 62l1-62l1 0l1 62l1-186l1 186l1-62l1 0l1 62l1 0l1-124l1-125l1 249l1-62l1 62l1-124l1 62l1 62l1-124l1 124l1 0l1-124l1 124l1-124l1 62l1 62l1-62l1-62l1 124l1 0l1 0l1 0l1 0l1-62l1 0l1 0l1-124l1 62l1 124l1-62l1 0l1 62l1-62l1 62l1 0l1 0l1-62l1 0l1-62l1 62l1 0l1-62l1 62l1-62l1 124l1-62l1 62l1-124l1 124l1-124l1 124l1 0l1 0l1 0l1-124l1 124l1 0l1-62l1 0l1-62l1-62l1 186l1-62l1 62l1-62l1 0l1 0l1 62l1 0l1 0l1-124l1-62l1 186l1-186l1 124l1 0l1 0l1 0l1 0l1 0l1 62l1-62l1 62l1-124l1 124l1-124l1 62l1 0l1 0l1 62l1 0l1 0l1 0l1-62l1 62l1-62l1 62l1 0l1 0" fill="none" stroke="#f08a8a" stroke-width="4.0" vector-effect="non-scaling-stroke" stroke-linejoin="round" stroke-linecap="round"/>
<path transform="translate(528.25 1608.85) scale(0.38375 0.5)" d="M0-34l4 0l4 1l4 2l4 2l4 1l4-1l4-2l4-2l4-4l4-3l4-3l4 0l4 1l4 1l4 1l4 0l4 1l4 3l4 4l4 4l4 2l4 1l4-1l4-1l4-1l4 0l4 1l4 0l4-1l4-3l4-2l4-1l4 0l4 0l4 1l4 0l4 0l4-2l4-2l4-1l4 0l4 0l4-1l4-3l4-1l4-1l4 2l4 2l4 2l4-1l4-2l4-2l4-1l4 1l4 2l4 2l4 2l4 3l4 3l4 1l4 1l4 0l4-1l4 0l4-1l4-2l4-1l4-1l4-1l4 0l4-1l4 0l4-1l4-1l4-2l4-1l4 0l4 1l4 3l4 2l4 1l4-2l4-1l4-2l4-2l4-3l4-4l4-5l4-5l4-4l4-6l4-8l4-11l4-15l4-16l4-15l4-14l4-9l4-2l4 3l4 8l4 11l4 12l4 12l4 12l4 10l4 6l4 1l4-5l4-8l4-7l4-4l4 2l4 4l4 4l4 2l4 0l4 0l4 1l4 2l4 4l4 6l4 7l4 7l4 7l4 6l4 4l4 2l4 2l4 2l4 3l4 3l4 3l4 2l4 2l4 1l4-1l4-2l4-3l4-1l4 0l4 2l4 3l4 2l4 2l4 0l4-1l4 0l4 1l4 1l4 1l4 0l4-3l4-3l4-2l4 1l4 2l4 3l4 1l4 0l4 0l4-1l4-2l4-1l4-1l4 0l4 1l4 2l4 1l4 1l4-1l4-1l4-2l4-3l4-2l4-1l4 1l4 2l4 2l4 0l4 0l4 0l4-1l4-1l4 0l4 0l4 1l4 0l4 1l4-1l4-2l4-2l4-1l4 0l4 2l4 3l4 5l4 4l4 3l4 1" fill="none" stroke="#e31a1c" stroke-width="3.6" vector-effect="non-scaling-stroke" stroke-linejoin="round"/>
<path transform="translate(528.25 1608.85) scale(0.38375 0.5)" d="M0-46l2 2l2-1l2 0l2-4l2 2l2 7l2-3l2-2l2 2l2 0l2-6l2-1l2 9l2-2l2-5l2 0l2 6l2-4l2 3l2 2l2-4l2-5l2 7l2-6l2-1l2 7l2-2l2 1l2-3l2 1l2 0l2 0l2-2l2 2l2-1l2 5l2-2l2-3l2 0l2 1l2 1l2 1l2-4l2 1l2 0l2-2l2 7l2 2l2 0l2-2l2-2l2-1l2 1l2 0l2 3l2-4l2 1l2 1l2-3l2-1l2 2l2 0l2 1l2 1l2 2l2-4l2-2l2 5l2-3l2 0l2 0l2 3l2-1l2 0l2-5l2 7l2-4l2 1l2 0l2-2l2 2l2 2l2-8l2 2l2 1l2 0l2 1l2 0l2 1l2 3l2-1l2-6l2 7l2-7l2 6l2-1l2 2l2 0l2 0l2 2l2 2l2 1l2-8l2 2l2 1l2-4l2 1l2 2l2 1l2 4l2-9l2 3l2 2l2 1l2-5l2 2l2 2l2-4l2 2l2 1l2-1l2-7l2 4l2-1l2 4l2 2l2-3l2 0l2-3l2 3l2 5l2-2l2-4l2-3l2 3l2 2l2-2l2 1l2 6l2-3l2-2l2 0l2 2l2 1l2-4l2-9l2 3l2 10l2-5l2 4l2-4l2 0l2 4l2-5l2 2l2 2l2-6l2 1l2 1l2-5l2 7l2 2l2 0l2-3l2 2l2-1l2-1l2-2l2 8l2-3l2-3l2 1l2 0l2 4l2-7l2 5l2 2l2 2l2-7l2-3l2 5l2-2l2 1l2-2l2 5l2-3l2 2l2 1l2 0l2 3l2-8l2 5l2 0l2-6l2 4l2-4l2-2l2-6l2-9l2-4l2 3l2 18l2 1l2 0l2 4l2-6l2 1l2 1l2 3l2 0l2 0l2-2l2 1l2 2l2 1l2-6l2 4l2 2l2-2l2 6l2-4l2-3l2-3l2 0l2 0l2 7l2-8l2 6l2-4l2-1l2 2l2 1l2-5l2 2l2-3l2 10l2-6l2 0l2-2l2 3l2 4l2-7l2 1l2 2l2-1l2 0l2 6l2-4l2 0l2 1l2 0l2-3l2 4l2-6l2 2l2 3l2-3l2 6l2-5l2 6l2-3l2-4l2 0l2 5l2-8l2 1l2 3l2-1l2 2l2 1l2 3l2-3l2-6l2 7l2 0l2 1l2 5l2-6l2 1l2-8l2 2l2 4l2-1l2 0l2-6l2 8l2-7l2 10l2-9l2 2l2 3l2 5l2-8l2 4l2-5l2 6l2 0l2-1l2-5l2 1l2-1l2 3l2 5l2-8l2-2l2 6l2 0l2 4l2 0l2-5l2-2l2 5l2-3l2-6l2 3l2-5l2 7l2 5l2 1l2-3l2-1l2-3l2 0l2-2l2 5l2 2l2-2l2-3l2 1l2-5l2 6l2-1l2-2l2 5l2 0l2-5l2 2l2 3l2 0l2-5l2 6l2-4l2 4l2-3l2-4l2 6l2-2l2-1l2 9l2-11l2 1l2-1l2-3l2 1l2 5l2-4l2 5l2 0l2 4l2-2l2-6l2 3l2-7l2 5l2 4l2 0l2-1l2-3l2 7l2-3l2 2l2-1l2 2l2-7l2 4l2 4l2-5l2 3l2 1l2-1l2-5l2 1l2-2l2 3l2 0l2-6l2 2l2 5l2-2l2 3l2-4l2 1l2 4l2-7l2 10l2-8l2-3l2-4l2 5l2 1" fill="none" stroke="#808080" stroke-width="5.0" vector-effect="non-scaling-stroke" stroke-linejoin="round"/>
<path transform="translate(528.25 1608.85) scale(0.38375 0.5)" d="M0-44l3-1l3 0l3 0l3-1l3 0l3 1l3 0l3 1l3 0l3 1l3 0l3 0l3-1l3 1l3 0l3-1l3 0l3 0l3-1l3-1l3 0l3 0l3 1l3 0l3 1l3 0l3 0l3-1l3 0l3 0l3 1l3-1l3 0l3-1l3 1l3 0l3 0l3 0l3-1l3 0l3 0l3 0l3 0l3 0l3 0l3 0l3 0l3 0l3 0l3 0l3 1l3 0l3 0l3 1l3-1l3 0l3-1l3 1l3 0l3 0l3 0l3 0l3 1l3 0l3 0l3-1l3 0l3 0l3-1l3 0l3 0l3 0l3 0l3 1l3 0l3 0l3 0l3 0l3 0l3 0l3 0l3 0l3 1l3-1l3 0l3 0l3 0l3 0l3 0l3-1l3 0l3 1l3 0l3 1l3-1l3 0l3 0l3 0l3-1l3 0l3 0l3 1l3 0l3 1l3-1l3 0l3-1l3 0l3 0l3 1l3 0l3 0l3 0l3-1l3 0l3-1l3 1l3 1l3 0l3 0l3-1l3 0l3 1l3 0l3 0l3 0l3-1l3 0l3 0l3 0l3-1l3-3l3-3l3 0l3 3l3 3l3 2l3 0l3 0l3 0l3 0l3 0l3 0l3 0l3-1l3 0l3 0l3 1l3 0l3 0l3 0l3 0l3 0l3 0l3 0l3-1l3 0l3-1l3 0l3 1l3 0l3 1l3 0l3 0l3 1l3 0l3 0l3-1l3 0l3 0l3 0l3 0l3 0l3 0l3-1l3 0l3 0l3 0l3 1l3 1l3 0l3-1l3 0l3 0l3 0l3 1l3 0l3 0l3-1l3 0l3 0l3 1l3 1l3 0l3 0l3-1l3 0l3-1l3 0l3 0l3 0l3 0l3 0l3 0l3 0l3-1l3 0l3 0l3 0l3 0l3-1l3 0l3 1l3 0l3 0l3 1l3 0l3-1l3 0l3 0l3 0l3 1l3 0l3 0l3 1l3 0l3 0l3 0l3-1l3-1l3 0l3 0l3 1l3 0l3 0l3 1l3 0l3 0l3 0l3 1l3-1l3 0l3-1l3 1l3 0l3 0l3 0l3-1l3 0l3 0l3-1l3 1l3 0l3 1l3 0l3 0l3-1l3 0l3 0l3-1l3 0l3 1l3 1l3 0l3 0l3 0" fill="none" stroke="#000000" stroke-width="3.5" vector-effect="non-scaling-stroke" stroke-linejoin="round"/>
<rect x="669.28" y="1599.85" width="24.94" height="9.00" fill="#ff0099"/>
</g>
<path d="M566.62 1355.05v8.3M566.62 1608.85v-8.3M605.00 1355.05v16.8M605.00 1608.85v-16.8M643.38 1355.05v8.3M643.38 1608.85v-8.3M681.75 1355.05v16.8M681.75 1608.85v-16.8M720.12 1355.05v8.3M720.12 1608.85v-8.3M758.50 1355.05v16.8M758.50 1608.85v-16.8M796.88 1355.05v8.3M796.88 1608.85v-8.3M528.25 1607.25h16.5M835.25 1607.25h-16.5M528.25 1524.25h16.5M835.25 1524.25h-16.5M528.25 1439.65h16.5M835.25 1439.65h-16.5" stroke="#000" stroke-width="2" fill="none"/>
<rect x="528.25" y="1355.05" width="307.00" height="253.80" fill="none" stroke="#000" stroke-width="3.1"/>
<text x="511.95" y="1615.35" class="tl" text-anchor="end">0.000</text>
<text x="511.95" y="1530.75" class="tl" text-anchor="end">0.002</text>
<text x="511.95" y="1446.15" class="tl" text-anchor="end">0.004</text>
<text x="511.95" y="1361.55" class="tl" text-anchor="end">0.006</text>
<text x="682.75" y="1334.70" class="tt" text-anchor="middle">USF1 (n = 1,743)</text>
<clipPath id="c22"><rect x="943.35" y="1355.05" width="307.00" height="253.80"/></clipPath>
<g clip-path="url(#c22)">
<path transform="translate(943.35 1608.85) scale(0.38375 0.5)" d="M0 0l1 0l1-64l1-63l1 63l1 64l1 0l1 0l1 0l1-64l1 0l1 64l1-64l1 64l1 0l1 0l1-127l1 63l1-127l1 64l1 127l1-64l1 64l1-64l1-127l1 191l1 0l1-127l1 127l1-127l1 127l1-127l1 127l1-127l1 63l1 64l1 0l1-64l1 64l1 0l1 0l1-64l1 0l1 0l1 64l1-64l1 0l1 64l1-191l1 191l1-64l1 64l1-127l1 127l1-64l1 0l1 64l1-127l1 0l1 127l1 0l1 0l1 0l1 0l1 0l1 0l1-127l1 127l1 0l1-64l1-63l1 127l1-64l1 64l1-64l1 0l1-63l1 127l1-64l1 0l1 64l1 0l1-64l1-63l1 127l1-127l1 127l1 0l1-64l1 0l1-127l1 191l1 0l1 0l1-127l1 63l1 64l1 0l1 0l1-64l1 0l1 0l1 64l1 0l1-64l1 0l1 0l1 0l1-63l1 127l1 0l1-127l1 0l1 127l1 0l1 0l1-64l1 64l1-64l1 64l1-64l1 0l1 64l1-64l1 0l1 64l1 0l1-64l1 64l1 0l1 0l1-191l1 64l1 63l1-63l1 63l1 0l1 64l1-127l1 127l1 0l1-64l1 64l1 0l1 0l1-127l1 63l1 0l1 0l1 64l1 0l1-64l1 64l1-127l1 127l1 0l1 0l1-64l1 0l1 64l1 0l1-127l1-64l1 191l1-64l1 0l1 0l1 0l1 64l1 0l1 0l1 0l1-64l1 0l1 64l1 0l1 0l1 0l1 0l1-64l1-63l1 63l1 0l1 64l1-127l1-64l1 64l1 63l1 64l1-64l1 64l1-64l1 64l1-64l1 64l1 0l1 0l1-64l1 0l1 64l1 0l1 0l1-127l1 127l1-64l1 64l1 0l1 0l1-127l1 63l1 0l1 64l1 0l1 0l1-127l1-64l1 191l1-64l1 64l1-64l1 64l1-64l1 64l1-64l1 0l1 64l1-64l1 64l1-64l1 64l1 0l1 0l1-64l1 0l1 64l1-127l1 63l1 0l1 64l1-127l1 63l1 64l1 0l1-64l1-127l1 191l1-64l1 64l1 0l1 0l1-127l1 63l1 64l1-64l1 64l1 0l1-127l1 127l1-191l1 127l1 64l1-64l1-63l1-64l1 127l1 64l1-191l1 0l1 64l1 127l1 0l1-127l1 127l1 0l1-64l1 0l1 0l1 0l1 0l1 64l1-64l1 0l1-127l1 191l1-127l1 127l1 0l1 0l1-64l1 64l1-64l1-63l1 63l1 0l1-63l1 127l1-127l1 63l1 0l1 64l1-347l1 283l1 0l1 0l1-63l1 63l1 64l1 0l1 0l1 0l1-64l1-127l1 191l1-127l1 0l1 63l1 0l1 64l1-64l1-63l1 127l1-64l1 0l1 0l1-63l1 63l1 0l1-63l1 127l1 0l1 0l1-127l1 127l1-191l1 0l1 64l1-64l1 191l1-127l1 127l1 0l1-127l1 0l1-64l1 64l1 63l1 0l1-127l1 191l1-127l1-178l1 305l1-127l1 63l1 64l1-127l1 0l1 63l1-356l1 356l1-190l1 254l1-191l1 191l1 0l1-127l1 63l1-127l1 0l1 64l1-245l1 372l1-64l1-127l1 0l1 127l1 0l1 64l1 0l1-64l1 64l1-318l1 127l1 127l1 0l1-317l1 381l1 0l1 0l1-127l1 127l1-64l1-63l1-64l1 64l1 127l1-64l1-461l1 461l1 64l1-127l1-255l1 318l1 0l1 64l1-318l1-64l1 318l1 0l1 0l1-274l1 147l1 127l1 64l1-382l1 382l1-254l1 127l1-64l1 127l1-127l1 191l1-191l1 64l1 0l1-178l1 241l1 64l1-64l1-190l1 190l1-63l1 63l1 64l1-64l1 0l1 64l1-127l1 63l1-63l1 0l1 63l1-63l1 0l1 0l1 127l1-127l1 127l1-191l1 64l1-161l1 288l1-64l1 64l1 0l1-64l1-63l1-191l1 318l1-191l1 191l1-191l1 0l1 127l1-63l1 63l1 0l1 0l1-63l1 127l1 0l1-127l1-127l1 254l1-127l1-118l1 245l1-127l1 127l1 0l1-127l1 63l1 64l1-64l1 64l1 0l1-64l1 0l1 64l1-191l1 127l1-63l1 0l1-64l1 64l1 63l1-190l1 254l1-64l1 64l1 0l1-64l1-63l1 63l1 64l1 0l1 0l1 0l1-64l1 0l1 64l1 0l1-64l1-63l1 63l1 0l1 0l1 0l1-63l1 127l1 0l1-191l1 191l1-64l1 0l1 64l1-64l1 64l1-64l1 0l1-266l1 330l1 0l1 0l1-64l1 0l1 64l1-64l1 64l1 0l1 0l1-64l1-127l1 191l1-64l1 0l1 0l1 64l1-127l1 63l1 64l1 0l1-127l1-64l1 191l1-64l1 64l1-64l1 64l1-64l1 0l1 64l1 0l1 0l1 0l1 0l1 0l1-64l1 0l1 0l1-127l1 191l1 0l1-127l1 63l1 0l1 0l1 64l1-127l1 127l1-64l1 64l1 0l1 0l1 0l1-64l1 64l1 0l1 0l1 0l1 0l1 0l1 0l1 0l1 0l1-191l1 127l1 64l1 0l1-191l1 127l1 64l1-64l1-254l1 318l1-64l1 64l1-64l1 0l1 0l1 64l1 0l1 0l1 0l1 0l1 0l1-64l1 64l1-127l1 127l1 0l1-191l1 191l1-127l1 127l1 0l1-191l1 127l1-63l1 127l1 0l1-64l1 0l1 64l1 0l1 0l1-191l1 64l1 127l1 0l1 0l1-64l1 64l1-127l1 63l1 0l1 0l1 64l1-64l1 64l1-64l1 64l1 0l1-64l1-127l1 127l1 64l1-64l1 0l1-63l1 0l1 127l1-64l1 0l1 64l1-127l1 0l1 0l1 0l1-64l1-80l1 80l1 191l1 0l1-64l1-127l1 64l1 127l1-64l1 64l1-64l1-63l1 127l1-64l1 0l1 0l1 64l1-64l1 64l1 0l1-64l1 0l1 64l1 0l1 0l1-64l1 64l1-64l1-63l1 127l1 0l1-64l1-63l1 127l1 0l1 0l1-64l1 64l1-64l1 0l1-127l1 191l1-127l1-64l1 127l1 0l1 0l1-63l1 63l1 64l1 0l1-64l1 0l1-63l1 127l1 0l1-127l1 63l1 64l1-64l1 64l1-127l1 127l1 0l1-64l1 64l1 0l1-64l1 64l1 0l1 0l1-64l1-63l1 127l1-64l1 64l1-64l1-63l1 127l1-127l1 63l1 64l1-64l1 0l1-127l1 0l1 191l1-64l1-63l1 63l1 0l1 0l1 64l1 0l1 0l1-64l1 64l1 0l1 0l1-127l1 127l1-127l1-64l1 0l1 64l1 127l1 0l1-64l1 64l1-64l1-127l1 191l1 0l1-127l1 127l1-64l1 0l1 0l1 0l1 64l1 0l1-64l1 64l1-64l1 64l1-127l1 127l1-64l1-63l1 127l1-64" fill="none" stroke="#f08a8a" stroke-width="4.0" vector-effect="non-scaling-stroke" stroke-linejoin="round" stroke-linecap="round"/>
<path transform="translate(943.35 1608.85) scale(0.38375 0.5)" d="M0-25l4 0l4-2l4-2l4-2l4-1l4-1l4 1l4 1l4 1l4 1l4 1l4 0l4 0l4 1l4 1l4 0l4 0l4-1l4-1l4-1l4 0l4 0l4 0l4 1l4 0l4 0l4 1l4 0l4 0l4 0l4-1l4-1l4 0l4 0l4 0l4 1l4 1l4 0l4 0l4 0l4 1l4 0l4-1l4 0l4-1l4-1l4 1l4 1l4 1l4 1l4 0l4-1l4-1l4 0l4 0l4 0l4-1l4 0l4-2l4-1l4-2l4-2l4-2l4-3l4-3l4-1l4 0l4 1l4 1l4 1l4 0l4-1l4 0l4-1l4-1l4-1l4-1l4-1l4-2l4-2l4-4l4-4l4-5l4-5l4-6l4-7l4-7l4-7l4-8l4-7l4-6l4-5l4-4l4-3l4-3l4-3l4-2l4-3l4-3l4-1l4 1l4 3l4 5l4 7l4 7l4 8l4 7l4 7l4 4l4 3l4 2l4 2l4 0l4 1l4 2l4 3l4 4l4 5l4 5l4 3l4 2l4 2l4 2l4 4l4 4l4 5l4 4l4 3l4 2l4 2l4 3l4 2l4 1l4 0l4 0l4-1l4 0l4 0l4 1l4 1l4 1l4 0l4 1l4 1l4 2l4 1l4-1l4-1l4-3l4-2l4 0l4 0l4 0l4 0l4 0l4-1l4-1l4 0l4 1l4 0l4-1l4-1l4-3l4-3l4-2l4-2l4-1l4 2l4 2l4 4l4 4l4 3l4 1l4 0l4-2l4-2l4-2l4-2l4 0l4 1l4 3l4 2l4 1l4 1l4-2l4-2l4-2l4-2l4-1l4 0l4 0l4 0l4 0l4 1l4 1l4 2l4 1l4 1l4 1l4 0" fill="none" stroke="#e31a1c" stroke-width="3.6" vector-effect="non-scaling-stroke" stroke-linejoin="round"/>
<path transform="translate(943.35 1608.85) scale(0.38375 0.5)" d="M0-44l2-4l2 1l2 0l2 5l2-5l2 2l2-3l2 3l2-1l2 0l2-2l2 6l2 0l2-4l2 5l2 1l2 0l2-3l2-4l2 0l2 1l2 4l2 2l2-6l2 0l2-6l2 6l2-2l2 2l2 3l2 4l2-4l2-3l2 4l2 1l2 1l2-1l2 7l2-6l2-3l2-8l2 6l2-1l2 1l2 2l2-4l2-2l2 4l2 3l2 1l2-2l2-7l2-2l2 16l2-11l2-4l2-2l2 7l2-2l2 3l2 4l2 3l2-8l2-2l2 2l2 0l2 2l2-5l2 2l2 4l2-3l2-1l2-2l2 0l2 2l2 1l2 1l2 1l2-8l2 3l2-1l2 7l2 2l2-5l2 3l2 1l2-3l2-1l2 6l2 3l2-4l2-5l2-1l2 1l2 4l2-2l2 2l2 4l2-7l2 0l2-2l2 4l2 0l2-3l2 0l2 0l2 1l2-7l2 3l2 4l2 2l2 0l2 1l2-4l2-5l2 4l2 3l2-7l2 5l2-1l2 0l2 2l2-5l2 7l2 1l2-4l2 2l2 0l2 0l2 2l2 1l2-3l2-5l2 6l2 1l2-6l2 1l2 10l2-6l2 2l2-2l2 0l2 3l2-6l2-2l2 6l2-2l2 3l2-2l2-3l2 3l2-4l2 5l2-1l2-5l2-5l2 3l2 1l2 2l2 1l2-1l2 1l2-7l2 3l2 5l2 2l2-2l2 2l2 1l2-1l2-3l2-2l2 1l2 1l2 5l2-2l2-3l2-5l2 4l2 5l2-9l2 6l2 2l2-5l2 1l2 8l2-7l2-3l2 7l2 2l2-4l2 3l2 2l2-3l2 0l2 0l2 3l2 1l2 10l2 6l2-2l2-9l2-7l2-6l2-1l2 3l2 4l2-7l2 9l2-8l2 0l2 5l2-1l2-1l2-4l2 4l2 3l2-1l2-5l2 2l2 2l2-7l2 0l2 5l2-3l2-1l2 5l2 0l2 2l2-8l2 0l2 1l2 3l2-2l2 0l2 2l2-3l2-1l2 9l2-6l2-5l2 9l2-4l2 1l2 0l2 2l2-6l2 6l2 4l2-8l2 2l2-4l2 10l2-5l2 0l2 0l2-1l2-3l2 1l2 0l2 3l2-6l2 5l2-3l2-4l2 6l2 2l2 2l2-7l2 7l2 0l2-1l2 1l2-5l2 5l2-3l2-2l2 1l2 1l2 6l2-8l2 6l2-6l2-3l2 6l2 1l2 1l2 1l2-5l2-2l2-9l2 8l2 4l2-2l2-1l2 4l2-5l2-1l2 3l2 2l2 0l2-1l2 2l2-3l2-3l2 1l2 4l2-1l2 1l2 2l2-3l2 0l2 3l2-2l2 3l2-3l2 2l2-2l2 0l2 3l2-3l2-3l2 5l2 1l2-4l2-5l2 3l2 3l2-6l2 1l2 9l2 0l2-1l2-4l2 1l2 0l2 4l2-4l2 5l2-5l2-1l2 4l2 1l2-2l2-2l2 0l2 3l2-7l2 2l2 2l2-1l2-1l2 5l2-2l2-2l2-2l2 1l2 5l2 0l2-3l2 4l2-6l2 1l2 1l2-1l2-3l2 4l2-2l2-1l2 1l2 3l2-5l2-1l2 6l2 0l2-2l2 1l2 2l2-3l2 2l2 4l2-5l2 8l2-10l2 4l2-5l2 1l2 2l2 1l2 4l2-6l2 8l2-7l2-4l2 1l2 1l2 5l2 3l2-8l2 4" fill="none" stroke="#808080" stroke-width="5.0" vector-effect="non-scaling-stroke" stroke-linejoin="round"/>
<path transform="translate(943.35 1608.85) scale(0.38375 0.5)" d="M0-45l3 0l3 1l3 0l3 0l3-1l3 0l3 0l3 0l3-1l3 0l3 0l3 0l3 1l3 0l3-1l3 0l3-1l3 0l3 1l3 1l3 1l3 0l3 0l3 0l3 0l3 0l3 0l3 0l3-1l3 0l3 0l3 0l3 1l3-1l3 0l3 0l3 0l3 0l3 0l3 0l3 0l3 0l3 1l3 0l3 0l3 0l3-1l3 0l3 0l3 1l3 1l3-1l3 0l3-1l3 1l3-1l3 0l3 0l3 1l3-1l3 0l3 0l3 1l3 0l3 0l3-1l3 0l3 0l3 0l3 0l3 1l3 0l3 0l3-1l3 0l3 0l3 1l3 0l3 0l3 0l3 0l3-1l3 0l3 0l3 0l3 0l3-1l3 0l3 1l3 0l3 0l3 0l3 1l3 0l3 0l3 0l3-1l3 0l3 0l3 0l3 0l3 0l3 0l3 1l3 1l3 0l3 0l3-1l3-1l3 0l3 0l3 0l3 0l3 0l3 0l3 0l3 0l3 0l3 0l3 0l3 0l3 0l3 0l3 0l3 0l3-1l3 0l3 0l3 0l3 1l3 1l3 2l3 2l3 0l3-2l3-2l3-1l3 0l3 1l3 0l3 0l3 0l3 0l3-1l3-1l3 0l3 0l3-1l3 1l3 0l3 1l3 0l3 0l3 0l3 0l3 0l3 0l3 0l3 0l3-1l3 0l3 0l3 0l3 0l3 1l3 0l3 0l3 0l3 0l3 0l3 1l3 0l3 0l3 0l3 0l3 1l3 0l3-1l3 0l3-1l3 1l3 0l3-1l3 0l3 0l3-1l3 0l3 0l3 1l3 0l3 0l3 1l3 0l3-1l3 0l3 0l3-1l3 0l3 1l3 1l3 1l3-1l3 0l3-1l3 0l3 0l3 0l3 0l3 0l3 0l3 0l3 0l3 1l3 0l3 0l3 0l3-1l3 0l3 0l3 0l3 0l3 1l3 0l3 0l3 0l3 0l3 0l3 0l3-1l3 0l3-1l3 0l3 0l3 1l3 0l3 0l3-1l3 0l3 0l3 0l3 1l3 0l3 0l3-1l3 0l3 0l3 0l3 0l3 0l3 0l3 0l3 0l3 0l3 1l3 0l3 0l3 0l3 0l3 0l3 0l3 0l3 1l3 0l3 0l3-1l3 1" fill="none" stroke="#000000" stroke-width="3.5" vector-effect="non-scaling-stroke" stroke-linejoin="round"/>
<rect x="1084.38" y="1599.85" width="24.94" height="9.00" fill="#ff0099"/>
</g>
<path d="M981.73 1355.05v8.3M981.73 1608.85v-8.3M1020.10 1355.05v16.8M1020.10 1608.85v-16.8M1058.47 1355.05v8.3M1058.47 1608.85v-8.3M1096.85 1355.05v16.8M1096.85 1608.85v-16.8M1135.22 1355.05v8.3M1135.22 1608.85v-8.3M1173.60 1355.05v16.8M1173.60 1608.85v-16.8M1211.97 1355.05v8.3M1211.97 1608.85v-8.3M943.35 1607.25h16.5M1250.35 1607.25h-16.5M943.35 1524.25h16.5M1250.35 1524.25h-16.5M943.35 1439.65h16.5M1250.35 1439.65h-16.5" stroke="#000" stroke-width="2" fill="none"/>
<rect x="943.35" y="1355.05" width="307.00" height="253.80" fill="none" stroke="#000" stroke-width="3.1"/>
<text x="927.05" y="1615.35" class="tl" text-anchor="end">0.000</text>
<text x="927.05" y="1530.75" class="tl" text-anchor="end">0.002</text>
<text x="927.05" y="1446.15" class="tl" text-anchor="end">0.004</text>
<text x="927.05" y="1361.55" class="tl" text-anchor="end">0.006</text>
<text x="1097.85" y="1334.70" class="tt" text-anchor="middle">NRF1 (n = 1,703)</text>
<clipPath id="c23"><rect x="1358.35" y="1355.05" width="307.00" height="253.80"/></clipPath>
<g clip-path="url(#c23)">
<path transform="translate(1358.35 1608.85) scale(0.38375 0.5)" d="M0-65l1 0l1-66l1 0l1 66l1 65l1 0l1-65l1 65l1 0l1-131l1 131l1-65l1 0l1 65l1 0l1-131l1 131l1-131l1 131l1 0l1-131l1 131l1 0l1 0l1-65l1 65l1-131l1 0l1 66l1 0l1 65l1-65l1-131l1 131l1 0l1 65l1-65l1 65l1-65l1 65l1 0l1-131l1 131l1-131l1 131l1 0l1 0l1 0l1 0l1-65l1 0l1 0l1 0l1 0l1 65l1-196l1 65l1 131l1-65l1 65l1 0l1 0l1 0l1-65l1-66l1 66l1 65l1-65l1 65l1-65l1 0l1-66l1 131l1 0l1 0l1 0l1 0l1 0l1-65l1 65l1 0l1 0l1 0l1-65l1 65l1 0l1-65l1 65l1 0l1 0l1 0l1 0l1-131l1 131l1 0l1-65l1 65l1 0l1-65l1-131l1 196l1 0l1-65l1 0l1 65l1-65l1 65l1-196l1 65l1 131l1 0l1-65l1 0l1 0l1 0l1-131l1 196l1-65l1 65l1 0l1 0l1 0l1 0l1-65l1 0l1 65l1 0l1-65l1 65l1-65l1 65l1-65l1 0l1 65l1-65l1 65l1-65l1-66l1 131l1-65l1 65l1 0l1-131l1 0l1 66l1 0l1-66l1 131l1-65l1 65l1 0l1 0l1 0l1 0l1 0l1-131l1 131l1-131l1 131l1-131l1 131l1 0l1-65l1 0l1 0l1 65l1-65l1 65l1-196l1 196l1 0l1-65l1 65l1-131l1 131l1 0l1 0l1 0l1 0l1-65l1 0l1 65l1-131l1 66l1 65l1-65l1-131l1 196l1-131l1 131l1-65l1 65l1 0l1 0l1 0l1 0l1-65l1 0l1-66l1 131l1-327l1 327l1-131l1 0l1 131l1 0l1 0l1 0l1 0l1 0l1-131l1 66l1 65l1 0l1 0l1-65l1 65l1-65l1 65l1-65l1 65l1 0l1 0l1-65l1 65l1-261l1 261l1 0l1 0l1-131l1 131l1 0l1-65l1 0l1 65l1 0l1 0l1 0l1-65l1 65l1 0l1 0l1-65l1 0l1 0l1 65l1 0l1 0l1 0l1-237l1 237l1-131l1 131l1 0l1 0l1 0l1-65l1 65l1 0l1-65l1 65l1-65l1 0l1 65l1 0l1 0l1 0l1-65l1-66l1 66l1 65l1 0l1-65l1 65l1-65l1 0l1 0l1 0l1 65l1-65l1 0l1 65l1 0l1 0l1-65l1 65l1-65l1 0l1 0l1 65l1 0l1 0l1 0l1 0l1 0l1 0l1-131l1 131l1 0l1 0l1 0l1-65l1 65l1 0l1-65l1 0l1 0l1 65l1-131l1 66l1 65l1-345l1 214l1 131l1-131l1 131l1-131l1 66l1-131l1-83l1 279l1-65l1-66l1 0l1 66l1-66l1 66l1 65l1 0l1 0l1-65l1 0l1-66l1 0l1 131l1 0l1 0l1-65l1 65l1-65l1 0l1 0l1 65l1-65l1 65l1-65l1-66l1 131l1-65l1 65l1 0l1 0l1 0l1-131l1 131l1 0l1-65l1 0l1 65l1-398l1 398l1 0l1-131l1 131l1 0l1 0l1 0l1 0l1-65l1-66l1 131l1-131l1 131l1 0l1-65l1-131l1 0l1-65l1 196l1-248l1 248l1-196l1-66l1 262l1 0l1-131l1 65l1-65l1 196l1-65l1 65l1-131l1-130l1 65l1 65l1-130l1 130l1 131l1-196l1-235l1 235l1 65l1 66l1-66l1 66l1-66l1 0l1 0l1-214l1 345l1-131l1-130l1 196l1-66l1-216l1 347l1-131l1 66l1-131l1 131l1-196l1 196l1-66l1-65l1 65l1 131l1-131l1 131l1-131l1 66l1-131l1 0l1 65l1 131l1 0l1-65l1-280l1 345l1-131l1-148l1 214l1 0l1 0l1 0l1 0l1-66l1 0l1 131l1-65l1 65l1-196l1 65l1 66l1 65l1-131l1 131l1-196l1 131l1 0l1 65l1-65l1 65l1-131l1-65l1 196l1-65l1 0l1 65l1 0l1-196l1 196l1-65l1 0l1-66l1 131l1 0l1-65l1 0l1 65l1 0l1-65l1 65l1 0l1-65l1 65l1 0l1-65l1 65l1-65l1 0l1 65l1 0l1 0l1 0l1 0l1-131l1 66l1 65l1-65l1-189l1 189l1 65l1 0l1-65l1 65l1 0l1 0l1-65l1 0l1 0l1 0l1 0l1-131l1 131l1 0l1 65l1-65l1-66l1 131l1 0l1 0l1 0l1-65l1 65l1-65l1 65l1-196l1 196l1-131l1 66l1 0l1-66l1-65l1 0l1 131l1 65l1-65l1 0l1 65l1 0l1 0l1 0l1-65l1 65l1-65l1 0l1 0l1 65l1-131l1 131l1-65l1 65l1 0l1 0l1 0l1-65l1 0l1 65l1-65l1 65l1-65l1 0l1 0l1 65l1 0l1-65l1 65l1-65l1 0l1 0l1 65l1-65l1-66l1 0l1 131l1 0l1 0l1 0l1 0l1 0l1 0l1-65l1 65l1 0l1 0l1-65l1 65l1-65l1 0l1 65l1-65l1 65l1-65l1 65l1 0l1 0l1-65l1 65l1-65l1-131l1 131l1 0l1-66l1 66l1 0l1 0l1 65l1-131l1 66l1 0l1-66l1 131l1-131l1-65l1 131l1 0l1-66l1 131l1 0l1 0l1-65l1 0l1-131l1 196l1 0l1 0l1 0l1 0l1-65l1 0l1 65l1-65l1 65l1-65l1 65l1 0l1-131l1 66l1 65l1 0l1 0l1 0l1-196l1 131l1 65l1 0l1 0l1 0l1 0l1-65l1 65l1-65l1 0l1 0l1 0l1-131l1 131l1 0l1 65l1 0l1-65l1 0l1 65l1-65l1 65l1-131l1 66l1-66l1 66l1 65l1 0l1 0l1 0l1 0l1-327l1 262l1 65l1-65l1-131l1 131l1 0l1-131l1 196l1 0l1 0l1 0l1-65l1 0l1-66l1 66l1 0l1 0l1 0l1-131l1 196l1 0l1-131l1 131l1-65l1 0l1 65l1-65l1 65l1-65l1 65l1 0l1 0l1 0l1-65l1 65l1-65l1-196l1 196l1 65l1-131l1 131l1 0l1-65l1 0l1-273l1 273l1 0l1 0l1 0l1 0l1 65l1 0l1 0l1 0l1-131l1 131l1-65l1 65l1 0l1 0l1 0l1-196l1 196l1-65l1 65l1-196l1 196l1-131l1 66l1 65l1-131l1 131l1 0l1 0l1-65l1 0l1-66l1 131l1-131l1 131l1 0l1-65l1 65l1 0l1-65l1 0l1 65l1-65l1 65l1-131l1 0l1-65l1 65l1 66l1 0l1 65l1 0l1 0l1 0l1-65l1 0l1 0l1 0l1 65l1-196l1 196l1-196l1 196l1-65l1 65l1 0l1 0l1 0l1-131l1 66l1 65l1 0l1 0l1-65l1 65l1 0l1 0l1 0l1 0l1-65" fill="none" stroke="#f08a8a" stroke-width="4.0" vector-effect="non-scaling-stroke" stroke-linejoin="round" stroke-linecap="round"/>
<path transform="translate(1358.35 1608.85) scale(0.38375 0.5)" d="M0-53l4 8l4 10l4 1l4-1l4 1l4-3l4-9l4-3l4 8l4 7l4 4l4 0l4-10l4-4l4 8l4 2l4-2l4 6l4 9l4 4l4-1l4-1l4-4l4-7l4-7l4-4l4-4l4-1l4 6l4 11l4 5l4-3l4-4l4-5l4-5l4-4l4 8l4 10l4-4l4-6l4 0l4 0l4 4l4 6l4-5l4-10l4 0l4 10l4-6l4-15l4 7l4 15l4 5l4 1l4-2l4-6l4-2l4 6l4 6l4 1l4-1l4 2l4 1l4-2l4-2l4-2l4-5l4-3l4 0l4 3l4 3l4 3l4 5l4 0l4-4l4-12l4-23l4-24l4-13l4-8l4 1l4 14l4 14l4 16l4 12l4 7l4 6l4 6l4 2l4 1l4-1l4-12l4-28l4-47l4-44l4-16l4-3l4-12l4-5l4 16l4 19l4 8l4 10l4 7l4-5l4 6l4 14l4 9l4 6l4 5l4-1l4-2l4 5l4 13l4 15l4 10l4 9l4 6l4 8l4 8l4 3l4 0l4-1l4-3l4 0l4-1l4-12l4-16l4-1l4 6l4-5l4-16l4-5l4 18l4 23l4 5l4-1l4 5l4 1l4-3l4-2l4-4l4-1l4 9l4 9l4-2l4-5l4-2l4-6l4-14l4-6l4-1l4-3l4 5l4 12l4 8l4 5l4 0l4-2l4-1l4 2l4 1l4-10l4-7l4 4l4 1l4-1l4-2l4-11l4-1l4 10l4 0l4-5l4 6l4 10l4 7l4-6l4-12l4-2l4 2l4 7l4 9l4 0l4-7l4-8l4 1l4 5l4 1l4 3l4-2l4-14l4-3l4 13l4 1l4-6l4 7l4 9l4 6l4 6l4 2" fill="none" stroke="#e31a1c" stroke-width="3.6" vector-effect="non-scaling-stroke" stroke-linejoin="round"/>
<path transform="translate(1358.35 1608.85) scale(0.38375 0.5)" d="M0-40l2 1l2-3l2-1l2-2l2 0l2 3l2-4l2 1l2 1l2-4l2 1l2 2l2 2l2-8l2 7l2-5l2-1l2 1l2 7l2 1l2-6l2 5l2-5l2 2l2-7l2 7l2-1l2-5l2 1l2-2l2 2l2 10l2-7l2 6l2-4l2-2l2 0l2 2l2-3l2-3l2 5l2 3l2 1l2-6l2 3l2-2l2 3l2-5l2 1l2-4l2 10l2-8l2 1l2 9l2-9l2-2l2 3l2 0l2-2l2 3l2-1l2 0l2 4l2 1l2 0l2-6l2-5l2 6l2-1l2 1l2 8l2-11l2-3l2 7l2 1l2-2l2 5l2-4l2-1l2-3l2 0l2 1l2-2l2 0l2 4l2 1l2 0l2 3l2-6l2 4l2-1l2-1l2 3l2-6l2 4l2 4l2 0l2-6l2 6l2 4l2-15l2 11l2 5l2-6l2-2l2-1l2 3l2-3l2 2l2 0l2-2l2 2l2 0l2 3l2-2l2-2l2-1l2-3l2-5l2 12l2-3l2 2l2 1l2 0l2 1l2-5l2-4l2 10l2 1l2-2l2 1l2-5l2 2l2-1l2-2l2-1l2-1l2 7l2 2l2-4l2 2l2-1l2 2l2-3l2-1l2-2l2-3l2 2l2 5l2 6l2-12l2-1l2-2l2 0l2 3l2-1l2 5l2 0l2-2l2-3l2 3l2-5l2 4l2 2l2-4l2 2l2 5l2-4l2-5l2 8l2 0l2-1l2-5l2 2l2 0l2-2l2 0l2 5l2-4l2 2l2 3l2-6l2 5l2 2l2-4l2-2l2-4l2 8l2 2l2-3l2 2l2-3l2 3l2-8l2 2l2 2l2 5l2 8l2 7l2 9l2-6l2-11l2-11l2 2l2 1l2-3l2 1l2-1l2-1l2 0l2-3l2 6l2-5l2 1l2 2l2-1l2 0l2 4l2-2l2 3l2-3l2 1l2-3l2 0l2-1l2-2l2 6l2 3l2 0l2-1l2-3l2-6l2 8l2-5l2 3l2 1l2 1l2-2l2-2l2-4l2 4l2 0l2-2l2 0l2-1l2 1l2 7l2-4l2 3l2-9l2 3l2 4l2-1l2-2l2 7l2-5l2 2l2-2l2 0l2-2l2-2l2 5l2-2l2 5l2-2l2-3l2 7l2-1l2-5l2-1l2 4l2 1l2-5l2 0l2-2l2 6l2 0l2-4l2 5l2 0l2-9l2 4l2 0l2-1l2 6l2-3l2 2l2-1l2-1l2-1l2-2l2 0l2 2l2 1l2-8l2 1l2 9l2-5l2 3l2 3l2 2l2-4l2-2l2-4l2 3l2 4l2-3l2 4l2-10l2 5l2 6l2-5l2 4l2-6l2 4l2 0l2 0l2-2l2-1l2 0l2 4l2-1l2-2l2 7l2-6l2-5l2 6l2-7l2 1l2 7l2 2l2-3l2 0l2-4l2 12l2 0l2-11l2 0l2 4l2-2l2-5l2 9l2-7l2 2l2-1l2 6l2-3l2-3l2 0l2-1l2 1l2 0l2 4l2-8l2 6l2-1l2 2l2-2l2 4l2 1l2-3l2-5l2 2l2 3l2 3l2-1l2-2l2-9l2 7l2 0l2 2l2-11l2 2l2 7l2 0l2 0l2 0l2-1l2 0l2 4l2-5l2 1l2 4l2-1l2-1l2-5l2 2l2 4l2 3l2-2l2 0l2-2l2-5l2 3l2 1l2-6l2 3l2 7l2-7l2 4" fill="none" stroke="#808080" stroke-width="5.0" vector-effect="non-scaling-stroke" stroke-linejoin="round"/>
<path transform="translate(1358.35 1608.85) scale(0.38375 0.5)" d="M0-46l3-1l3 0l3 0l3 1l3 0l3 0l3-1l3 0l3 0l3 1l3 0l3-1l3 0l3 1l3 0l3 0l3 0l3 0l3 0l3 0l3 0l3-1l3 0l3 0l3 0l3-1l3 1l3 0l3 1l3-1l3 0l3 0l3 0l3 1l3 0l3 0l3 0l3 0l3 0l3-1l3 1l3 0l3 0l3 0l3 0l3 0l3 1l3 0l3 0l3 0l3-1l3 0l3-1l3 0l3 0l3 0l3 0l3 0l3-1l3 0l3 0l3 0l3 1l3 0l3 0l3 0l3 0l3 0l3 0l3 1l3 0l3 0l3 0l3-1l3 0l3 0l3 0l3 1l3-1l3 0l3-1l3-1l3 0l3 0l3 1l3 1l3 1l3 1l3-1l3 0l3-1l3 1l3 1l3-1l3-1l3 0l3 0l3 0l3 0l3 0l3 0l3 0l3 0l3 0l3 0l3 1l3 0l3-1l3 0l3 0l3 1l3 0l3 0l3 0l3 0l3 0l3 0l3 0l3 0l3 0l3 0l3 0l3 0l3 0l3 0l3-1l3 0l3 0l3 0l3 0l3 0l3 2l3 2l3 0l3-1l3-2l3 0l3-1l3 0l3 0l3 0l3 0l3-1l3 0l3 0l3 1l3 0l3 0l3 0l3 0l3 0l3 0l3 0l3 0l3 0l3 1l3 0l3 0l3 0l3 1l3-1l3 0l3 0l3 0l3 0l3 0l3 0l3-1l3 0l3 1l3 0l3 0l3 0l3 0l3 0l3 0l3 0l3 0l3-1l3 0l3 0l3-1l3 1l3 0l3 0l3 0l3 0l3 0l3 0l3 0l3 0l3-1l3 1l3 0l3 0l3-1l3 0l3 0l3 1l3 1l3 0l3 0l3 1l3 0l3 0l3-1l3-1l3 0l3 0l3 0l3 0l3 0l3 0l3 0l3 0l3 0l3 0l3 0l3 0l3 1l3 0l3 0l3 0l3 0l3-1l3 0l3 0l3 0l3-1l3 0l3 0l3 1l3 0l3 1l3 0l3 0l3 0l3-1l3 0l3 0l3 1l3 0l3 0l3 0l3 0l3-1l3 0l3 0l3 0l3 1l3 0l3 0l3 0l3 0l3 0l3-1l3 0l3 0l3 0l3 0l3 0l3 0l3 0l3 0l3 0l3 0" fill="none" stroke="#000000" stroke-width="3.5" vector-effect="non-scaling-stroke" stroke-linejoin="round"/>
<rect x="1499.38" y="1599.85" width="24.94" height="9.00" fill="#ff0099"/>
</g>
<path d="M1396.72 1355.05v8.3M1396.72 1608.85v-8.3M1435.10 1355.05v16.8M1435.10 1608.85v-16.8M1473.47 1355.05v8.3M1473.47 1608.85v-8.3M1511.85 1355.05v16.8M1511.85 1608.85v-16.8M1550.22 1355.05v8.3M1550.22 1608.85v-8.3M1588.60 1355.05v16.8M1588.60 1608.85v-16.8M1626.97 1355.05v8.3M1626.97 1608.85v-8.3M1358.35 1607.25h16.5M1665.35 1607.25h-16.5M1358.35 1524.25h16.5M1665.35 1524.25h-16.5M1358.35 1439.65h16.5M1665.35 1439.65h-16.5" stroke="#000" stroke-width="2" fill="none"/>
<rect x="1358.35" y="1355.05" width="307.00" height="253.80" fill="none" stroke="#000" stroke-width="3.1"/>
<text x="1342.05" y="1615.35" class="tl" text-anchor="end">0.000</text>
<text x="1342.05" y="1530.75" class="tl" text-anchor="end">0.002</text>
<text x="1342.05" y="1446.15" class="tl" text-anchor="end">0.004</text>
<text x="1342.05" y="1361.55" class="tl" text-anchor="end">0.006</text>
<text x="1512.85" y="1334.70" class="tt" text-anchor="middle">FOS (n = 1,657)</text>
<clipPath id="c24"><rect x="1773.90" y="1355.05" width="307.00" height="253.80"/></clipPath>
<g clip-path="url(#c24)">
<path transform="translate(1773.90 1608.85) scale(0.38375 0.5)" d="M0-123l1 123l1 0l1 0l1 0l1-41l1 41l1-41l1 0l1 0l1 41l1-41l1 0l1 41l1 0l1 0l1-82l1 82l1 0l1-41l1 41l1-41l1 0l1 41l1-41l1 41l1 0l1 0l1-41l1-41l1 82l1 0l1 0l1-41l1 41l1 0l1 0l1-123l1 123l1 0l1 0l1-41l1-41l1 82l1 0l1 0l1-41l1-41l1 82l1-82l1 41l1-41l1 41l1-41l1 82l1 0l1-41l1 0l1 41l1 0l1 0l1 0l1-82l1 82l1 0l1-41l1 0l1 41l1-82l1 41l1 0l1 0l1 41l1 0l1 0l1 0l1 0l1-41l1 41l1-41l1 0l1 41l1 0l1-82l1 82l1 0l1-82l1 0l1 82l1 0l1 0l1 0l1-41l1 41l1-123l1 0l1 123l1-82l1 82l1-82l1 82l1-41l1 0l1 41l1 0l1-82l1 41l1-82l1 123l1-41l1-41l1 0l1 0l1 82l1-164l1 123l1 0l1 0l1 0l1 0l1-177l1 218l1 0l1 0l1 0l1-82l1 82l1 0l1-41l1 41l1 0l1 0l1 0l1 0l1 0l1-41l1 0l1 41l1-41l1 41l1 0l1 0l1-41l1 41l1 0l1-41l1 0l1 41l1 0l1 0l1 0l1-82l1 82l1-41l1 41l1-41l1 0l1 41l1-41l1-41l1 41l1-41l1-41l1 82l1 41l1-41l1-41l1 0l1 82l1 0l1 0l1 0l1-41l1-41l1-41l1 123l1-82l1 82l1-41l1 41l1-41l1-41l1-41l1 123l1-41l1-41l1 0l1-41l1 41l1 41l1 0l1-41l1 82l1-82l1 41l1 0l1 41l1 0l1 0l1-41l1-41l1-41l1 123l1-41l1 41l1 0l1-123l1 123l1-41l1 41l1-82l1 82l1-123l1 82l1 0l1 41l1-82l1 82l1-123l1 82l1 41l1 0l1-41l1 41l1-82l1 41l1 0l1 41l1 0l1-41l1 41l1 0l1 0l1 0l1-41l1 0l1 41l1 0l1 0l1-123l1 123l1-82l1-41l1 41l1 41l1 41l1 0l1 0l1-41l1-123l1 164l1-41l1 0l1 41l1 0l1 0l1-41l1 41l1-41l1 0l1 41l1-41l1 0l1 41l1 0l1 0l1-41l1-82l1 123l1-82l1 82l1 0l1-123l1 41l1 41l1 0l1 41l1-164l1 123l1 0l1 0l1 0l1 41l1-82l1 82l1 0l1 0l1 0l1 0l1-82l1 41l1 41l1-41l1 0l1-123l1 41l1 123l1-41l1-41l1 41l1 0l1 41l1-41l1-82l1 41l1 41l1-41l1 41l1 0l1-82l1 82l1-41l1 41l1-41l1 0l1 41l1 0l1 41l1-41l1 0l1-162l1 162l1-41l1 82l1-123l1 41l1 0l1-82l1 164l1 0l1 0l1 0l1-41l1 0l1 0l1 41l1 0l1 0l1-82l1 41l1-41l1 82l1 0l1-82l1 82l1-123l1 123l1 0l1-123l1 0l1 82l1 41l1-41l1-82l1 41l1 0l1 0l1 82l1-123l1 0l1-95l1 177l1-206l1 247l1-247l1 247l1-123l1 0l1-82l1 123l1-206l1 206l1 41l1-82l1-41l1 41l1 41l1 82l1-41l1-123l1 41l1-41l1 123l1-248l1 248l1 0l1-206l1 124l1 82l1-164l1-100l1 305l1-82l1-82l1-41l1 123l1 0l1 0l1-165l1 247l1-228l1 228l1-41l1-41l1-82l1 41l1-206l1 206l1-124l1 247l1-82l1 41l1-206l1-215l1 380l1 41l1 0l1 0l1-41l1-82l1-124l1 206l1-41l1-41l1-124l1 206l1-41l1 0l1-82l1 82l1-263l1 345l1-41l1-123l1 41l1-165l1 288l1-82l1 0l1-247l1 206l1 164l1-82l1-123l1 205l1-82l1 41l1 0l1 0l1 0l1-41l1-41l1 41l1 82l1 0l1-41l1 41l1-82l1 82l1-41l1 0l1 0l1-82l1 82l1-41l1 41l1-82l1 123l1-41l1 0l1 0l1-41l1-82l1 164l1-82l1-151l1 233l1 0l1-41l1 0l1 41l1-82l1 82l1 0l1-82l1 82l1-164l1 123l1 41l1-41l1 0l1 41l1-41l1-41l1 82l1-41l1 0l1 41l1-41l1 41l1 0l1-41l1 0l1 0l1 41l1-82l1 82l1-41l1 41l1-41l1 41l1 0l1-82l1 82l1-41l1 0l1 0l1-41l1 41l1 41l1-123l1 123l1 0l1 0l1 0l1-164l1 82l1 0l1 41l1 0l1 0l1 41l1 0l1-82l1 82l1-41l1 41l1-41l1-41l1 82l1-41l1 0l1 41l1-41l1 0l1-82l1 123l1-41l1 0l1-41l1 41l1 0l1 0l1-41l1 41l1-41l1-82l1 164l1-82l1 41l1 41l1-41l1 41l1 0l1-41l1 41l1-164l1 123l1 41l1-41l1 0l1 41l1-41l1 0l1 41l1-164l1 82l1 82l1-41l1 41l1 0l1 0l1 0l1 0l1-41l1 0l1 41l1-41l1 0l1 0l1 41l1 0l1 0l1-123l1 0l1 82l1 0l1 0l1 41l1 0l1 0l1 0l1-41l1-41l1-41l1 123l1-41l1-41l1 82l1-41l1 0l1 0l1 41l1 0l1 0l1-82l1 41l1 41l1-41l1 0l1-41l1 41l1-82l1 123l1 0l1 0l1 0l1-41l1 0l1 41l1 0l1 0l1-41l1 41l1-82l1 82l1 0l1-41l1-41l1 41l1-192l1 233l1 0l1-82l1 41l1-41l1 82l1-41l1 0l1-41l1 82l1-41l1 0l1-123l1 123l1-82l1 123l1 0l1-41l1-123l1 123l1 0l1 41l1-41l1 0l1 0l1 41l1 0l1 0l1 0l1 0l1-82l1 41l1 0l1 41l1 0l1 0l1 0l1-82l1 82l1-41l1 41l1-41l1 41l1 0l1-82l1 0l1 41l1 0l1 41l1-41l1 41l1-41l1 0l1 0l1 0l1 41l1-82l1 82l1 0l1 0l1 0l1 0l1 0l1 0l1-82l1 41l1 0l1 41l1 0l1-82l1 82l1 0l1 0l1 0l1-123l1 41l1 82l1-82l1 41l1-82l1 123l1 0l1-41l1 0l1 41l1-41l1 41l1 0l1 0l1 0l1 0l1 0l1-41l1-41l1 41l1 41l1-41l1 41l1-82l1 82l1 0l1-41l1 0l1 0l1 0l1 0l1 41l1-41l1 41l1-41l1 41l1 0l1 0l1-41l1 0l1 0l1 0l1 0l1 0l1 41l1 0l1 0l1-41l1 41l1-41l1-41l1 41l1 0l1-41l1 41l1 41l1 0l1-82l1 82l1-41l1 0l1 0l1 41l1-123l1 41l1-82l1 164l1 0l1 0l1-41l1 41l1 0l1 0l1 0l1-123l1 123l1 0l1 0l1-82l1 41l1-41l1 0l1 82l1 0l1-82" fill="none" stroke="#f08a8a" stroke-width="4.0" vector-effect="non-scaling-stroke" stroke-linejoin="round" stroke-linecap="round"/>
<path transform="translate(1773.90 1608.85) scale(0.38375 0.5)" d="M0-12l4 0l4-2l4 0l4 1l4 0l4 1l4 0l4 0l4-1l4-2l4-3l4-6l4 0l4 7l4 4l4-2l4-2l4 4l4 3l4-3l4-4l4-1l4-4l4-5l4 3l4-2l4-7l4-3l4 6l4 11l4 8l4 3l4 1l4-1l4-1l4 0l4-2l4-4l4-7l4-8l4 1l4 6l4-1l4-3l4-4l4-6l4 0l4 8l4 7l4-1l4 0l4-1l4-3l4 1l4 4l4 5l4 5l4 2l4-7l4-10l4-1l4 4l4 6l4 4l4 0l4-4l4-7l4-6l4-1l4 6l4 8l4-3l4-14l4-9l4-3l4-6l4-3l4 4l4 9l4 3l4-1l4 7l4 10l4 0l4-6l4-7l4-10l4-10l4-12l4-16l4-16l4-12l4 0l4 6l4-2l4-5l4 0l4 3l4 5l4 3l4-9l4-7l4 5l4-5l4-21l4-13l4 3l4 2l4 1l4 22l4 35l4 27l4 16l4 10l4 0l4-3l4 1l4 5l4 9l4 2l4-3l4-1l4 4l4 4l4 2l4-1l4 1l4-3l4-4l4-2l4-3l4 0l4 7l4 1l4-4l4-6l4-7l4-7l4-1l4 7l4 4l4 1l4 2l4 5l4 10l4 3l4-4l4-6l4 1l4 2l4-3l4 2l4 3l4-2l4-2l4 5l4 6l4-1l4-5l4-4l4-2l4-4l4-6l4 0l4 6l4 10l4 5l4 0l4 0l4-2l4-4l4-2l4 2l4 4l4 5l4-2l4-3l4-4l4-7l4 1l4 9l4 6l4-2l4-5l4-1l4 1l4 3l4 0l4-2l4 0l4-3l4-4l4 0l4-4l4-2l4 9l4 5l4-5l4-4l4 0" fill="none" stroke="#e31a1c" stroke-width="3.6" vector-effect="non-scaling-stroke" stroke-linejoin="round"/>
<path transform="translate(1773.90 1608.85) scale(0.38375 0.5)" d="M0-35l2-1l2 3l2 0l2 2l2-1l2 2l2 0l2-1l2 2l2-3l2 3l2-1l2-1l2-3l2 4l2-2l2 3l2-2l2 0l2-1l2 0l2 0l2 1l2 0l2-1l2-1l2 0l2 0l2 0l2 1l2 0l2 2l2-3l2 3l2-4l2 1l2 2l2 1l2 0l2-1l2-1l2 1l2 1l2 0l2-2l2 0l2-1l2 1l2 2l2 0l2-1l2-1l2 0l2 2l2-3l2 1l2 0l2 2l2-1l2 4l2-4l2 1l2-1l2 2l2 0l2-4l2-1l2 1l2 0l2 2l2-1l2 1l2-3l2 7l2-2l2-2l2-1l2 0l2-1l2 1l2 1l2 0l2 0l2 0l2 2l2-1l2-1l2 1l2-2l2-2l2 2l2-1l2-2l2 3l2 2l2 0l2-3l2 3l2 1l2-1l2 0l2-1l2-2l2 0l2 3l2-1l2 1l2-1l2-1l2 1l2-1l2 0l2-1l2 1l2-1l2 0l2 2l2 0l2-1l2 0l2 2l2-1l2-1l2 0l2 1l2-1l2-1l2 1l2 0l2 2l2 1l2 0l2-4l2 0l2 2l2-3l2 1l2 2l2-1l2-1l2 1l2 1l2 0l2-1l2 1l2-1l2-1l2 0l2 3l2-1l2-1l2 0l2 2l2-3l2 1l2-1l2 3l2 2l2-6l2 5l2-2l2 1l2 2l2-2l2-2l2-3l2 4l2 2l2-4l2 3l2 0l2 3l2-3l2-1l2 2l2-4l2 1l2 1l2-1l2 2l2-4l2 3l2 0l2 1l2-2l2 0l2 0l2 2l2 1l2-4l2 3l2-1l2 1l2 1l2 0l2-2l2-8l2-18l2-23l2-14l2 13l2 24l2 14l2 8l2 3l2 5l2-3l2-1l2 0l2-1l2-1l2 1l2-1l2 3l2-1l2 0l2 0l2-1l2-1l2 1l2 2l2-1l2-4l2 5l2-1l2 2l2-3l2 1l2 0l2-1l2-3l2 2l2-1l2 4l2-2l2 3l2-1l2-4l2 2l2 1l2 0l2-1l2 1l2-1l2 3l2-1l2 1l2 0l2-2l2-3l2 4l2-1l2-4l2 2l2 3l2-1l2 0l2-3l2 3l2-2l2 0l2 2l2 0l2 2l2-3l2-2l2 2l2 0l2 1l2 0l2-1l2-2l2 2l2 0l2 2l2-4l2 0l2 3l2 1l2 1l2 0l2-2l2-2l2 2l2-1l2 1l2-1l2 1l2 0l2 1l2-1l2-1l2-1l2 3l2 0l2-4l2 1l2 2l2 2l2-1l2-4l2 2l2 0l2 2l2-3l2 4l2-2l2-1l2 2l2 0l2-1l2-1l2-1l2 2l2 0l2 0l2-1l2-1l2 0l2-1l2 1l2 0l2-2l2 2l2 2l2 1l2 0l2-3l2 1l2-1l2-1l2 1l2 1l2 0l2 0l2-1l2 3l2-2l2 1l2 0l2 2l2-1l2-1l2-4l2 1l2 2l2 1l2-2l2-1l2 3l2 0l2 0l2-1l2-2l2-1l2 4l2 0l2 1l2 0l2-2l2-1l2 0l2 1l2 2l2-2l2 1l2-2l2 2l2 2l2-3l2-1l2 2l2-1l2-1l2 2l2-2l2 0l2 0l2 1l2 1l2-3l2 0l2 5l2 0l2-2l2 0l2-1l2 3l2-4l2 4l2-1l2-2l2-2l2 3l2 1l2-1l2 1l2-3l2 2l2 1" fill="none" stroke="#808080" stroke-width="5.0" vector-effect="non-scaling-stroke" stroke-linejoin="round"/>
<path transform="translate(1773.90 1608.85) scale(0.38375 0.5)" d="M0-31l3 0l3 0l3-1l3 0l3 0l3 0l3 0l3 0l3 0l3 0l3 0l3 0l3 1l3 0l3 0l3 0l3 0l3 0l3-1l3 0l3 1l3 0l3 0l3 0l3 0l3 0l3 0l3 0l3 0l3-1l3 0l3 0l3 0l3 0l3 0l3 0l3 0l3 0l3 0l3 0l3 0l3 0l3 0l3 0l3 0l3 0l3 0l3 1l3-1l3 0l3 0l3-1l3 1l3 0l3 0l3 1l3-1l3 0l3 0l3 0l3 0l3 0l3 0l3 0l3-1l3 0l3 0l3 0l3 1l3 0l3 0l3 0l3 0l3 0l3 0l3 0l3-1l3 1l3 0l3 0l3 1l3 0l3 0l3 0l3 1l3 0l3 0l3-1l3-1l3 0l3-1l3 1l3 0l3 0l3 0l3 0l3 0l3 0l3 0l3 0l3 1l3 0l3-1l3 0l3 0l3 0l3 0l3 0l3-1l3 0l3 1l3 0l3 1l3 0l3-1l3 0l3 0l3 0l3 0l3 0l3 0l3 0l3 0l3 0l3 0l3 0l3 0l3 0l3 0l3 0l3-2l3-4l3-4l3 1l3 5l3 3l3 1l3 1l3 0l3 0l3 0l3-1l3 0l3 1l3 0l3 0l3 0l3 0l3 0l3 0l3 0l3-1l3 0l3 0l3 1l3-1l3 0l3 0l3 0l3 0l3 0l3 0l3 0l3 0l3 0l3 1l3 0l3 1l3 0l3 0l3-1l3 0l3 1l3 0l3-1l3 0l3 0l3 0l3-1l3 0l3 0l3 0l3 1l3 0l3 0l3-1l3 0l3 1l3 0l3 0l3 0l3-1l3 1l3 0l3 0l3 0l3 0l3 0l3-1l3 0l3 0l3 0l3 0l3 0l3 0l3 0l3 0l3 0l3 0l3 0l3 0l3 1l3 0l3 0l3 0l3 0l3 0l3 0l3 0l3 0l3 0l3 0l3 0l3 0l3-1l3 0l3 0l3 0l3 1l3 0l3 0l3 0l3 0l3 0l3-1l3 0l3 1l3 0l3 0l3 0l3 0l3 0l3-1l3 0l3 1l3 0l3 0l3 0l3 0l3-1l3 0l3 0l3 0l3 0l3 0l3 1l3 0l3 0l3 1l3-1l3 0l3 0l3 0l3 0l3-1l3 0" fill="none" stroke="#000000" stroke-width="3.5" vector-effect="non-scaling-stroke" stroke-linejoin="round"/>
<rect x="1914.93" y="1599.85" width="24.94" height="9.00" fill="#ff0099"/>
</g>
<path d="M1812.28 1355.05v8.3M1812.28 1608.85v-8.3M1850.65 1355.05v16.8M1850.65 1608.85v-16.8M1889.03 1355.05v8.3M1889.03 1608.85v-8.3M1927.40 1355.05v16.8M1927.40 1608.85v-16.8M1965.78 1355.05v8.3M1965.78 1608.85v-8.3M2004.15 1355.05v16.8M2004.15 1608.85v-16.8M2042.53 1355.05v8.3M2042.53 1608.85v-8.3M1773.90 1607.25h16.5M2080.90 1607.25h-16.5M1773.90 1481.95h16.5M2080.90 1481.95h-16.5" stroke="#000" stroke-width="2" fill="none"/>
<rect x="1773.90" y="1355.05" width="307.00" height="253.80" fill="none" stroke="#000" stroke-width="3.1"/>
<text x="1757.60" y="1615.35" class="tl" text-anchor="end">0.000</text>
<text x="1757.60" y="1488.45" class="tl" text-anchor="end">0.005</text>
<text x="1757.60" y="1361.55" class="tl" text-anchor="end">0.010</text>
<text x="1928.40" y="1334.70" class="tt" text-anchor="middle">ZNF143 (n = 1,581)</text>
<clipPath id="c25"><rect x="113.25" y="1683.30" width="307.00" height="253.80"/></clipPath>
<g clip-path="url(#c25)">
<path transform="translate(113.25 1937.10) scale(0.38375 0.5)" d="M0 0l1 0l1-23l1-23l1 23l1 0l1 23l1 0l1-93l1 93l1 0l1 0l1-70l1 24l1 46l1-23l1 0l1 23l1 0l1 0l1 0l1 0l1 0l1 0l1-23l1 23l1-70l1 70l1-23l1 0l1 23l1-46l1 46l1 0l1-23l1 0l1 23l1 0l1 0l1 0l1 0l1 0l1 0l1-70l1 70l1-46l1 23l1-23l1 23l1 23l1-23l1 23l1 0l1 0l1 0l1 0l1-46l1-24l1 47l1 23l1 0l1-46l1 23l1 23l1 0l1 0l1-46l1 23l1 23l1 0l1-107l1 61l1 46l1 0l1-23l1 23l1 0l1-70l1 70l1 0l1 0l1 0l1 0l1-23l1 0l1 23l1-23l1 0l1 0l1 0l1 0l1 0l1 23l1 0l1 0l1 0l1 0l1 0l1-23l1 23l1-127l1 127l1-23l1 23l1 0l1 0l1 0l1-23l1 0l1 23l1 0l1 0l1-70l1 70l1 0l1 0l1 0l1 0l1 0l1-70l1 70l1 0l1-23l1 23l1-23l1 23l1 0l1 0l1-23l1 23l1 0l1-23l1 0l1-23l1 46l1 0l1 0l1 0l1 0l1 0l1-23l1 0l1 23l1 0l1-70l1 47l1-23l1 23l1-23l1 46l1 0l1 0l1 0l1 0l1 0l1-23l1-23l1 23l1 23l1 0l1-23l1-23l1 23l1 23l1 0l1 0l1 0l1 0l1-23l1 23l1 0l1 0l1 0l1 0l1 0l1 0l1-23l1 23l1 0l1-23l1 0l1 23l1-23l1 0l1 0l1 23l1-46l1 0l1 23l1-23l1 46l1 0l1 0l1 0l1-23l1 23l1-23l1 0l1 23l1-46l1 46l1-23l1 23l1-23l1 0l1 23l1 0l1-23l1-47l1 70l1 0l1-70l1 24l1-47l1 93l1 0l1-70l1 0l1 70l1 0l1 0l1-23l1-23l1 0l1 46l1 0l1 0l1 0l1-23l1 23l1 0l1-70l1 70l1 0l1 0l1-23l1 23l1 0l1 0l1-23l1 0l1 23l1 0l1 0l1 0l1 0l1-23l1 23l1-70l1 70l1-23l1-47l1 70l1 0l1-23l1 0l1 23l1 0l1 0l1 0l1 0l1 0l1 0l1-23l1-23l1 46l1 0l1-23l1 23l1-23l1 0l1-23l1 46l1-23l1 0l1 0l1 0l1 0l1-47l1 70l1 0l1-46l1 46l1 0l1-46l1 46l1-23l1 23l1 0l1 0l1 0l1 0l1 0l1-23l1 23l1 0l1-23l1-47l1 24l1 0l1 46l1 0l1-70l1 47l1-23l1 23l1 0l1 23l1 0l1 0l1-23l1 23l1 0l1-46l1 23l1 23l1-46l1 23l1 0l1 23l1-23l1-47l1 47l1 0l1 23l1 0l1-23l1 0l1 0l1 23l1-23l1 0l1 23l1-23l1 23l1-70l1 0l1 47l1 23l1 0l1-23l1 0l1 0l1-23l1 46l1 0l1-46l1 0l1 46l1-23l1 0l1-47l1 47l1-47l1 24l1 0l1 0l1 0l1 23l1 23l1 0l1-23l1 0l1 0l1-116l1 93l1 46l1-70l1 70l1 0l1-23l1-47l1 24l1 23l1 0l1-118l1 118l1-186l1 186l1-47l1-46l1 46l1-93l1 47l1 70l1-47l1 47l1 46l1-23l1-47l1-102l1 126l1-93l1 46l1-46l1 93l1 46l1-93l1-46l1-340l1 433l1-287l1 217l1 0l1-70l1 163l1-23l1-24l1-23l1 0l1-113l1 90l1 23l1 23l1 24l1 46l1-209l1 70l1 69l1 24l1 0l1 0l1 0l1-24l1 24l1-151l1 174l1-70l1 70l1 0l1 0l1 0l1-23l1 23l1-70l1 47l1 23l1 0l1-47l1 24l1 23l1-47l1 47l1 23l1 0l1-127l1-12l1 69l1 70l1-23l1-23l1 23l1-47l1 47l1 23l1-46l1-24l1 0l1 70l1 0l1-46l1 46l1-23l1 0l1 0l1 0l1 0l1-23l1-47l1 93l1-23l1-23l1 46l1-23l1 23l1-46l1 23l1-23l1 23l1 23l1-113l1 90l1 0l1-47l1 70l1-70l1 70l1 0l1-70l1 47l1 23l1 0l1-23l1 23l1-46l1 23l1 23l1 0l1-46l1 46l1 0l1 0l1 0l1 0l1-46l1 0l1 46l1 0l1-46l1-24l1 47l1 0l1 0l1-23l1 23l1-47l1 70l1 0l1-23l1 0l1 0l1 0l1 23l1-23l1-23l1 46l1-23l1 23l1-23l1 0l1 0l1-23l1 23l1-23l1 46l1-23l1 0l1 0l1 23l1-23l1 23l1-23l1-23l1 46l1-23l1 23l1 0l1-23l1 0l1 23l1-23l1 23l1 0l1 0l1-23l1 23l1 0l1-23l1 0l1 23l1 0l1-46l1-24l1 47l1 23l1-46l1 23l1 0l1 0l1 23l1 0l1 0l1 0l1-46l1 23l1 0l1 0l1 23l1 0l1-93l1 70l1 23l1-46l1 23l1-47l1 70l1 0l1 0l1-23l1 23l1 0l1 0l1-23l1 23l1 0l1-23l1 0l1 0l1 0l1 23l1-23l1 0l1 23l1-23l1 0l1 0l1 23l1 0l1 0l1 0l1 0l1 0l1-23l1 23l1 0l1 0l1 0l1-23l1 23l1 0l1 0l1 0l1-23l1 23l1-23l1 23l1 0l1-70l1 24l1-24l1 47l1 23l1-23l1-47l1 70l1 0l1 0l1 0l1 0l1-23l1 23l1 0l1-23l1 23l1 0l1 0l1 0l1-23l1 23l1 0l1-23l1 0l1 23l1-23l1-23l1 46l1-23l1 23l1 0l1 0l1 0l1 0l1 0l1-23l1 0l1 23l1 0l1-46l1 46l1 0l1-23l1 23l1 0l1-23l1 0l1 23l1 0l1 0l1-23l1-23l1 23l1 23l1 0l1 0l1 0l1 0l1-23l1 0l1-47l1 70l1 0l1 0l1-23l1 23l1-23l1 23l1-23l1 0l1 0l1 23l1-23l1 23l1-23l1 23l1-23l1 23l1-23l1 23l1 0l1 0l1 0l1 0l1-46l1 46l1 0l1 0l1 0l1 0l1-23l1 0l1 0l1-23l1 46l1-46l1 23l1-23l1 46l1 0l1 0l1 0l1 0l1 0l1-23l1 0l1 23l1 0l1-46l1 46l1 0l1-23l1 23l1-23l1 23l1 0l1 0l1 0l1-23l1-70l1 70l1 23l1 0l1-23l1 23l1 0l1 0l1 0l1-23l1 23l1 0l1 0l1-23l1-23l1 46l1 0l1-23l1 23l1 0l1 0l1-23l1 0l1 23l1-23l1 23l1-46l1 46l1 0l1-23l1 0l1 23l1 0l1-23l1-23l1 46l1 0l1 0l1-70l1 24l1 46l1 0l1 0l1 0l1-23l1 0l1 0l1 0l1 0l1 23l1 0l1-46l1 46l1-23" fill="none" stroke="#f08a8a" stroke-width="4.0" vector-effect="non-scaling-stroke" stroke-linejoin="round" stroke-linecap="round"/>
<path transform="translate(113.25 1937.10) scale(0.38375 0.5)" d="M0-14l4 0l4-1l4 1l4 3l4 2l4-1l4-1l4 0l4 2l4-1l4-2l4-1l4 1l4-1l4 0l4 1l4 1l4 0l4 1l4 0l4-1l4 0l4 2l4 1l4 0l4 0l4-1l4 0l4 0l4 0l4 0l4 0l4 0l4-1l4-1l4-2l4 0l4 2l4 0l4 0l4 2l4 2l4 1l4-2l4-3l4-2l4 0l4 1l4 1l4-1l4-2l4-3l4-3l4 1l4 3l4 4l4 1l4 1l4 1l4 0l4-1l4-2l4 0l4 2l4 1l4-2l4-2l4-2l4-1l4 1l4 3l4 1l4-2l4-4l4-2l4 0l4 2l4 0l4-2l4-1l4 1l4-1l4-1l4-2l4-1l4-1l4-4l4-3l4-1l4 0l4-2l4-4l4-7l4-12l4-11l4-6l4-5l4-11l4-16l4-21l4 19l4 14l4 10l4 9l4 10l4 11l4 7l4 4l4 1l4 0l4 0l4 1l4 4l4 3l4 3l4 1l4 1l4 1l4 2l4 0l4 1l4 3l4 2l4 3l4 0l4-2l4-2l4-1l4 2l4 3l4 1l4-1l4 1l4 1l4 2l4 1l4 2l4 0l4-1l4-2l4-1l4 1l4 0l4-1l4-1l4 2l4 3l4 1l4-1l4 0l4 1l4 2l4 1l4 0l4-2l4-4l4-3l4 1l4 4l4 3l4 0l4-1l4-1l4 1l4 1l4-1l4 0l4 0l4-1l4 0l4 0l4-1l4 0l4 0l4 1l4 1l4 1l4 0l4-2l4-2l4 0l4 2l4 1l4 0l4-1l4-1l4 0l4 1l4 1l4 0l4 0l4-1l4 0l4-1l4-1l4 0l4 0l4 0l4 0l4 0" fill="none" stroke="#e31a1c" stroke-width="3.6" vector-effect="non-scaling-stroke" stroke-linejoin="round"/>
<path transform="translate(113.25 1937.10) scale(0.38375 0.5)" d="M0-18l2 0l2 1l2 0l2-1l2 0l2 0l2 1l2 0l2 0l2 0l2-1l2 0l2-1l2 1l2 1l2-1l2 0l2 1l2 0l2 0l2 0l2-1l2 0l2 1l2 0l2-1l2 0l2 0l2 1l2-2l2 2l2 0l2 1l2-3l2 1l2 2l2-2l2-1l2 1l2 2l2 0l2-2l2 1l2 1l2 0l2-3l2 0l2 1l2 1l2 0l2-1l2 1l2-1l2 0l2 0l2 1l2-1l2-2l2 1l2 1l2 2l2 0l2-2l2 0l2 0l2-1l2 1l2 1l2-1l2 0l2 0l2 0l2 1l2-1l2-1l2 1l2 0l2-1l2 2l2 0l2 0l2 0l2-1l2 1l2-2l2 3l2-1l2-1l2 0l2 0l2 1l2-1l2 2l2-1l2 0l2-1l2 2l2-2l2 1l2-1l2 0l2 1l2-1l2 0l2 1l2-1l2 0l2 2l2-1l2-1l2-2l2 3l2-1l2-1l2 1l2 0l2 0l2 1l2-2l2 2l2-1l2 0l2 0l2 1l2 0l2-1l2-1l2 0l2 1l2 1l2 1l2-3l2 1l2 0l2 1l2-2l2 2l2-3l2 1l2 1l2 0l2 0l2 2l2-1l2-1l2 0l2-1l2 1l2 0l2 1l2-1l2-1l2 1l2 1l2-1l2-1l2 1l2 0l2 0l2-1l2 1l2 0l2 1l2-2l2 2l2 1l2 0l2 0l2-3l2 0l2 0l2 2l2-1l2 0l2-2l2 3l2-1l2 2l2-1l2-1l2 1l2-1l2 1l2-1l2 0l2 0l2 0l2 0l2 0l2 2l2-3l2 1l2 3l2-1l2-2l2 0l2-1l2-4l2-9l2-3l2 3l2 8l2 3l2 3l2 0l2 0l2 1l2-1l2-1l2 0l2 3l2-3l2 2l2-1l2-1l2 2l2-2l2 0l2 2l2 1l2-2l2 2l2-2l2 0l2 1l2 0l2-2l2 3l2-1l2-3l2 2l2 0l2 1l2-2l2 2l2-2l2 1l2-1l2 2l2 0l2 1l2-2l2 0l2 0l2 0l2 0l2 0l2 0l2 0l2 0l2 0l2 0l2 1l2-1l2 1l2-1l2 0l2 0l2 0l2 1l2 0l2-1l2 0l2 1l2 1l2-1l2 1l2-1l2-1l2 0l2 2l2-2l2 1l2-2l2 1l2 1l2-2l2 1l2 0l2 1l2-2l2 2l2-2l2-1l2 1l2 2l2-1l2-1l2 0l2 2l2-1l2 0l2 0l2 1l2 0l2 0l2 0l2-2l2 1l2 0l2 1l2-1l2-1l2 0l2 2l2 0l2-1l2 0l2-2l2 2l2-1l2 0l2 0l2 1l2 1l2 1l2-2l2 0l2 1l2 0l2-2l2 3l2-3l2 0l2 1l2 0l2 2l2-2l2 1l2 0l2-1l2-1l2 0l2 1l2 1l2 0l2-1l2-1l2 0l2 0l2 1l2 0l2 0l2 0l2 0l2-1l2 0l2 2l2-1l2-1l2 0l2 2l2-1l2 1l2-2l2 1l2 0l2 0l2-1l2 1l2 0l2 1l2-3l2 2l2 2l2-1l2 0l2-1l2-1l2 0l2 0l2 0l2 1l2 1l2-1l2-1l2 1l2 1l2-1l2 1l2 0l2 1l2-1l2 0l2-2l2 1l2-1l2 1l2-1l2 0l2 1l2 1l2-2l2 0l2 1l2 1l2 0l2-2l2 2l2-1" fill="none" stroke="#808080" stroke-width="5.0" vector-effect="non-scaling-stroke" stroke-linejoin="round"/>
<path transform="translate(113.25 1937.10) scale(0.38375 0.5)" d="M0-17l3 0l3 0l3-1l3 0l3 0l3 1l3 0l3 0l3 0l3 0l3-1l3 0l3 0l3 0l3 0l3 1l3-1l3 0l3 0l3 0l3 0l3 1l3 0l3 0l3-1l3 0l3 0l3 0l3 0l3 0l3 0l3 0l3 0l3 0l3 0l3 0l3 0l3 0l3 0l3 0l3 0l3 0l3 0l3 0l3 0l3 0l3 0l3 0l3 0l3 0l3 0l3 0l3 0l3 0l3 0l3 0l3 0l3 1l3 0l3-1l3 0l3 0l3 0l3 0l3 0l3 0l3 0l3 0l3 0l3 0l3 0l3 0l3 0l3 0l3 0l3 0l3 0l3 0l3 0l3 0l3 0l3 0l3 0l3 0l3 0l3 1l3 0l3-1l3 0l3 0l3 0l3 0l3 0l3 0l3 0l3 0l3 0l3 0l3 0l3 0l3 0l3 0l3 0l3 0l3 0l3 0l3 0l3 0l3 0l3 0l3 0l3 0l3 0l3 0l3 0l3 0l3 0l3 0l3 1l3-1l3 0l3 0l3 0l3 0l3 0l3 0l3 0l3 0l3 0l3 0l3-1l3-2l3-2l3 0l3 3l3 2l3 0l3 0l3 0l3 0l3 0l3 0l3 0l3 0l3 0l3 0l3 1l3 0l3 0l3-1l3 0l3 0l3 0l3 0l3 0l3 0l3 0l3 0l3 0l3 0l3 0l3 0l3 0l3 0l3 0l3 0l3 0l3 0l3 0l3 0l3 0l3 0l3 0l3 0l3 0l3 0l3 0l3 0l3 0l3 0l3 0l3 0l3 0l3 0l3 0l3 0l3 0l3 0l3 1l3-1l3 0l3 0l3 0l3 0l3 0l3 0l3 0l3 0l3 0l3 0l3 0l3 0l3 0l3 0l3 0l3 0l3 1l3 0l3-1l3 0l3 0l3 0l3 0l3 1l3 0l3 0l3-1l3 0l3 0l3 0l3 0l3 0l3 0l3 0l3 0l3 0l3 0l3 0l3 0l3 0l3 0l3 0l3 1l3 0l3-1l3 0l3 0l3 0l3 0l3 0l3 1l3 0l3-1l3 0l3 0l3 0l3 0l3 0l3 1l3-1l3 0l3 0l3 0l3 0l3 0l3 0l3 0l3 0l3 1l3-1l3 0l3 0l3 0l3 0l3 0l3 0" fill="none" stroke="#000000" stroke-width="3.5" vector-effect="non-scaling-stroke" stroke-linejoin="round"/>
<rect x="254.28" y="1928.10" width="24.94" height="9.00" fill="#ff0099"/>
</g>
<path d="M151.62 1683.30v8.3M151.62 1937.10v-8.3M190.00 1683.30v16.8M190.00 1937.10v-16.8M228.38 1683.30v8.3M228.38 1937.10v-8.3M266.75 1683.30v16.8M266.75 1937.10v-16.8M305.12 1683.30v8.3M305.12 1937.10v-8.3M343.50 1683.30v16.8M343.50 1937.10v-16.8M381.88 1683.30v8.3M381.88 1937.10v-8.3M113.25 1935.50h16.5M420.25 1935.50h-16.5M113.25 1866.60h16.5M420.25 1866.60h-16.5M113.25 1796.10h16.5M420.25 1796.10h-16.5M113.25 1725.60h16.5M420.25 1725.60h-16.5" stroke="#000" stroke-width="2" fill="none"/>
<rect x="113.25" y="1683.30" width="307.00" height="253.80" fill="none" stroke="#000" stroke-width="3.1"/>
<text x="96.95" y="1943.60" class="tl" text-anchor="end">0.000</text>
<text x="96.95" y="1873.10" class="tl" text-anchor="end">0.005</text>
<text x="96.95" y="1802.60" class="tl" text-anchor="end">0.010</text>
<text x="96.95" y="1732.10" class="tl" text-anchor="end">0.015</text>
<text x="267.75" y="1662.95" class="tt" text-anchor="middle">GTF2F1 (n = 1,553)</text>
<clipPath id="c26"><rect x="528.25" y="1683.30" width="307.00" height="253.80"/></clipPath>
<g clip-path="url(#c26)">
<path transform="translate(528.25 1937.10) scale(0.38375 0.5)" d="M0-15l1 0l1-15l1 15l1-30l1 45l1 0l1-15l1 15l1-30l1 15l1 0l1 15l1-15l1 15l1-30l1 30l1-74l1 59l1 15l1-30l1 30l1 0l1 0l1-15l1 0l1 15l1 0l1-15l1 15l1 0l1 0l1 0l1-15l1-15l1 30l1-30l1 30l1-30l1 30l1 0l1-15l1 0l1 0l1 15l1-15l1 15l1-15l1 15l1 0l1-15l1 0l1 0l1 0l1 0l1 15l1-15l1 15l1-45l1 0l1 45l1 0l1 0l1 0l1 0l1-15l1 15l1 0l1 0l1-30l1 15l1 15l1-30l1 0l1 0l1 0l1 15l1 15l1 0l1-30l1 15l1-30l1 30l1 15l1-15l1 15l1-30l1 30l1-15l1 0l1-15l1 15l1 15l1-30l1 30l1 0l1 0l1-15l1 15l1-15l1-58l1 58l1-15l1 30l1 0l1 0l1 0l1 0l1 0l1-15l1 15l1-15l1 15l1-15l1 15l1-30l1 30l1 0l1-15l1-15l1 15l1 0l1 0l1 15l1-15l1 0l1 15l1-45l1 30l1 0l1 0l1 0l1 0l1-15l1 30l1-15l1-15l1 15l1 0l1-45l1 60l1 0l1-30l1 30l1 0l1-15l1 0l1-15l1 0l1 15l1 0l1 0l1 15l1 0l1 0l1-15l1 15l1 0l1-15l1 15l1 0l1 0l1-30l1 30l1-15l1-45l1 15l1 0l1 45l1 0l1 0l1 0l1 0l1 0l1 0l1-30l1 30l1 0l1-45l1 45l1-45l1 15l1 30l1-15l1-30l1 45l1 0l1 0l1 0l1 0l1 0l1 0l1-15l1-30l1 15l1 30l1-15l1-15l1 30l1 0l1 0l1-45l1 45l1 0l1-15l1 15l1-15l1 15l1 0l1 0l1 0l1 0l1-15l1-30l1 15l1 0l1-15l1 30l1 15l1 0l1-15l1 0l1 0l1 15l1 0l1 0l1-74l1 74l1 0l1 0l1 0l1-15l1-15l1 15l1 15l1 0l1-45l1 45l1-15l1 15l1 0l1 0l1-15l1 15l1 0l1 0l1 0l1-30l1 30l1 0l1 0l1 0l1-15l1 0l1 15l1-15l1 15l1-15l1 15l1 0l1 0l1-15l1 15l1-60l1 30l1 30l1 0l1-15l1 15l1-15l1 15l1-15l1-15l1 0l1-15l1 45l1 0l1 0l1-30l1 30l1 0l1 0l1-15l1 15l1 0l1 0l1-15l1 15l1-15l1 15l1-15l1 15l1 0l1 0l1 0l1 0l1-15l1 15l1 0l1 0l1-30l1 15l1 15l1 0l1-15l1 0l1 0l1 15l1 0l1-30l1 30l1 0l1-15l1 15l1 0l1-15l1-15l1 30l1-30l1-15l1 45l1-60l1 45l1 15l1-15l1 0l1-30l1 0l1 30l1 15l1 0l1-15l1 15l1 0l1 0l1-30l1 30l1 0l1-74l1 44l1 15l1 0l1-15l1 15l1 15l1-15l1 15l1-30l1 15l1-15l1 15l1-15l1 15l1 0l1-30l1 45l1-30l1 30l1-15l1 15l1-30l1-15l1 15l1 30l1 0l1-91l1 76l1-45l1 45l1 0l1-15l1 30l1-15l1-30l1 0l1-15l1-14l1 29l1-15l1 15l1-80l1 65l1 60l1-15l1-15l1 15l1 15l1-119l1-15l1 104l1-80l1 50l1 30l1-59l1 29l1-74l1 89l1 0l1-44l1-164l1-128l1 158l1 69l1 65l1-119l1 148l1 0l1-14l1-30l1 89l1-74l1 59l1 30l1-15l1-30l1-58l1-1l1 15l1 74l1-15l1 15l1-45l1 45l1-30l1 0l1 15l1 30l1-45l1-29l1 14l1 60l1-74l1 29l1 15l1-15l1 30l1-30l1 30l1-30l1 45l1-88l1 73l1-30l1 0l1 15l1 15l1 15l1 0l1-15l1 15l1 0l1-45l1 30l1 15l1 0l1-15l1 15l1-15l1 0l1 15l1 0l1-60l1 45l1-15l1 30l1 0l1 0l1-45l1 45l1-15l1-15l1 30l1 0l1 0l1-45l1 45l1-15l1-15l1 15l1 15l1-30l1 30l1-45l1 30l1 15l1-15l1-15l1 15l1 0l1 15l1 0l1 0l1 0l1 0l1 0l1 0l1 0l1 0l1 0l1 0l1-30l1 0l1 15l1 15l1 0l1 0l1 0l1-45l1 15l1-15l1 30l1 0l1 15l1-30l1 0l1 30l1-30l1-15l1 45l1-15l1 15l1 0l1 0l1 0l1 0l1-30l1 15l1 0l1 15l1 0l1 0l1-15l1 0l1-15l1 15l1 0l1-15l1 15l1-15l1-15l1 45l1 0l1-30l1 30l1 0l1-45l1 30l1 0l1 15l1-30l1 15l1 0l1 15l1 0l1 0l1 0l1-15l1 15l1-15l1 15l1-45l1 45l1 0l1-15l1 15l1-15l1-15l1 30l1-15l1 15l1 0l1 0l1 0l1-60l1 60l1 0l1-15l1 15l1-15l1-15l1 15l1 15l1 0l1 0l1 0l1 0l1-15l1 0l1-30l1 30l1 15l1-30l1 0l1 30l1-30l1 30l1-45l1 45l1 0l1-30l1 30l1-60l1 30l1 30l1-30l1 30l1-15l1-15l1 30l1-15l1 0l1 15l1-15l1 0l1 15l1-15l1-15l1 0l1 30l1-15l1 15l1-15l1 0l1 0l1 0l1 15l1 0l1-45l1 45l1 0l1 0l1 0l1 0l1-15l1 15l1 0l1 0l1-15l1 0l1 0l1 15l1 0l1-30l1 15l1 15l1-15l1-15l1 15l1 0l1 15l1-15l1 0l1 15l1 0l1 0l1 0l1-45l1 45l1-15l1 15l1-15l1 0l1 0l1 15l1 0l1-15l1 0l1 0l1 15l1-15l1 0l1 15l1 0l1 0l1 0l1-15l1 0l1 0l1-59l1 74l1-15l1 0l1 15l1 0l1-45l1 45l1 0l1 0l1 0l1 0l1-15l1 15l1-15l1 0l1 15l1 0l1 0l1-30l1 30l1 0l1 0l1-15l1-45l1 60l1-60l1 60l1 0l1-30l1 30l1-15l1 15l1-60l1 60l1-30l1 30l1 0l1 0l1 0l1 0l1-30l1 15l1 15l1 0l1-15l1-15l1 15l1 15l1-30l1 15l1 15l1 0l1-15l1-15l1 30l1 0l1-15l1 0l1-15l1 15l1 0l1 15l1-15l1 0l1 15l1 0l1-15l1 15l1-15l1 15l1-60l1 60l1-15l1 15l1 0l1-15l1 0l1-30l1 45l1-60l1 60l1 0l1 0l1-15l1 15l1-15l1 15l1-15l1 15l1-15l1 15l1-30l1 0l1 15l1-30l1 15l1 30l1 0l1-15l1-30l1 0l1 30l1-15l1 15l1 15l1 0l1-15l1 15l1 0l1 0l1-15l1 0l1 15l1-30l1 30l1-60l1 45l1 15l1-15l1 15l1 0l1 0" fill="none" stroke="#f08a8a" stroke-width="4.0" vector-effect="non-scaling-stroke" stroke-linejoin="round" stroke-linecap="round"/>
<path transform="translate(528.25 1937.10) scale(0.38375 0.5)" d="M0-13l4 1l4 2l4 0l4-2l4 2l4 3l4 2l4-2l4-1l4 0l4 1l4 0l4-2l4-1l4 2l4 2l4-2l4-4l4-1l4 1l4 1l4 1l4 1l4 2l4 1l4 1l4 0l4-1l4-2l4-2l4 0l4-1l4-1l4-1l4 1l4 1l4 1l4 2l4 2l4-2l4-4l4 1l4 4l4-2l4-3l4 2l4 3l4-2l4-1l4 2l4 2l4-1l4-4l4-2l4 3l4 1l4 0l4 0l4 1l4 2l4 1l4 0l4-1l4 0l4-2l4-2l4 0l4-1l4 2l4 3l4 1l4 0l4 1l4-1l4-2l4-1l4 0l4-1l4-3l4-3l4-1l4 3l4 1l4-5l4-7l4-3l4 1l4 4l4 3l4-1l4-6l4-9l4-7l4-2l4 2l4-7l4-15l4-12l4-24l4-68l4 62l4 30l4 9l4 5l4 14l4 9l4-3l4-2l4 6l4 8l4 9l4 6l4 3l4 0l4-1l4 0l4 1l4 0l4 0l4-1l4 1l4 4l4 3l4 0l4-2l4-3l4-3l4-1l4 2l4 4l4 1l4-1l4-2l4-3l4 1l4 1l4 1l4 3l4 0l4-1l4 0l4 1l4-1l4 0l4 1l4-1l4-3l4-1l4 0l4-1l4 1l4 2l4 1l4-1l4 1l4 1l4 2l4 1l4-1l4-2l4-1l4 0l4 2l4 0l4-1l4 1l4 0l4 0l4-3l4-1l4 3l4 2l4 0l4-1l4-3l4-2l4 1l4 1l4 3l4-1l4-1l4 0l4 0l4 0l4 1l4 0l4-1l4-1l4-1l4 2l4 1l4-2l4-3l4-1l4 1l4 4l4 1l4-1l4 0l4 2" fill="none" stroke="#e31a1c" stroke-width="3.6" vector-effect="non-scaling-stroke" stroke-linejoin="round"/>
<path transform="translate(528.25 1937.10) scale(0.38375 0.5)" d="M0-12l2 1l2-1l2 0l2 0l2-1l2 2l2-1l2 0l2 0l2 0l2 1l2 0l2-1l2 0l2 1l2-1l2 1l2 0l2-1l2 0l2 0l2 0l2 0l2 0l2 0l2 1l2 1l2-3l2 1l2 1l2-1l2 0l2 0l2 1l2 0l2 0l2 0l2-1l2 0l2 1l2 0l2-1l2 0l2-1l2 0l2 1l2 1l2-1l2 0l2 1l2-1l2 0l2 0l2 0l2 1l2 0l2 0l2-1l2-1l2 2l2-1l2-1l2 1l2 0l2 0l2 0l2 0l2-1l2 2l2-1l2 1l2 0l2 1l2-1l2-1l2 0l2-1l2 1l2 0l2 1l2 0l2 0l2-1l2 0l2 1l2-2l2 0l2 2l2-1l2 0l2 1l2 0l2 0l2-1l2 0l2 0l2 0l2 0l2 0l2 0l2 0l2 0l2 1l2-1l2 0l2 1l2 0l2-1l2 0l2 1l2 0l2 0l2 0l2 1l2-2l2 0l2 0l2 0l2 0l2 0l2 0l2 0l2 0l2 0l2 0l2 0l2 1l2-1l2 0l2 1l2 0l2 0l2 0l2 0l2-1l2 0l2 2l2-1l2-1l2 1l2 0l2-1l2 0l2 0l2 0l2 0l2 1l2-1l2 1l2-1l2 1l2-1l2 1l2-1l2 0l2 1l2-1l2-1l2 1l2 0l2 0l2 0l2 0l2-1l2 1l2 1l2-1l2 0l2 0l2 0l2 1l2 0l2 0l2-1l2 0l2 1l2-1l2 0l2 0l2 1l2 0l2 0l2 0l2 0l2 0l2-1l2 0l2 0l2 0l2 0l2 0l2-1l2 2l2 0l2-2l2 1l2-1l2-3l2-3l2-1l2 1l2 3l2 3l2 2l2 0l2-1l2 0l2 0l2 0l2 1l2 0l2-1l2 0l2 0l2 0l2-1l2 1l2 1l2 0l2-2l2 1l2 1l2 0l2 0l2-1l2 0l2 1l2-2l2 1l2-1l2 1l2 0l2 1l2 1l2-2l2 1l2 0l2-1l2 0l2 1l2-1l2-1l2 1l2 0l2-1l2-1l2 1l2 1l2 0l2 1l2 0l2-2l2 0l2 1l2 0l2 0l2 0l2 0l2 0l2 0l2 0l2 1l2 0l2-1l2 0l2 1l2 0l2 0l2-1l2 1l2 0l2 0l2 0l2 0l2 0l2 0l2-1l2 1l2-1l2 0l2 0l2-1l2 0l2 2l2-1l2 1l2 0l2-1l2 0l2-1l2 1l2 0l2 0l2 1l2-1l2 0l2 0l2 1l2 0l2-1l2 1l2-1l2 0l2 0l2 1l2-1l2-1l2 2l2 0l2-1l2 0l2-1l2 0l2 1l2-1l2 1l2-1l2 0l2 1l2 0l2 1l2 0l2 0l2-1l2 0l2 1l2-1l2 1l2-1l2 0l2 1l2 0l2 0l2-1l2 0l2-1l2 1l2 1l2-1l2 0l2 0l2 0l2 1l2-2l2 1l2 0l2 1l2 0l2 0l2-1l2-1l2 1l2 0l2 0l2 0l2 0l2 0l2 0l2 0l2 0l2-1l2 1l2-1l2 1l2 1l2 0l2-1l2 1l2-1l2 1l2-1l2 0l2 0l2 1l2-1l2 0l2 0l2 0l2 1l2-1l2 1l2-1l2 0l2 1l2 0l2-1l2 0l2 0l2-1l2 2l2-1l2 0l2 1l2 0l2 0l2-1l2 0l2 0l2 0l2 0" fill="none" stroke="#808080" stroke-width="5.0" vector-effect="non-scaling-stroke" stroke-linejoin="round"/>
<path transform="translate(528.25 1937.10) scale(0.38375 0.5)" d="M0-12l3 0l3 1l3-1l3 0l3 0l3 0l3 0l3 0l3 0l3 0l3 0l3 0l3 0l3 0l3 0l3 0l3 0l3 0l3 0l3 0l3 0l3 0l3 0l3 0l3 0l3 0l3 0l3 0l3 0l3 0l3 0l3 0l3 0l3 0l3 0l3 1l3 0l3-1l3 0l3 0l3 0l3 0l3 0l3 0l3 0l3 0l3 0l3 0l3 0l3 0l3 0l3 0l3 0l3 0l3 0l3 0l3 0l3 0l3 0l3 0l3 0l3 0l3 0l3 0l3 0l3 0l3 0l3 0l3 0l3 0l3 0l3 0l3 0l3 0l3 0l3 0l3 0l3 0l3 0l3 0l3 0l3 0l3 0l3 0l3 0l3 0l3 0l3 0l3 0l3 0l3 0l3 0l3 1l3-1l3 0l3 0l3 0l3 0l3 0l3 0l3 0l3 0l3 0l3 0l3 0l3 0l3 0l3 0l3 0l3 0l3 0l3 0l3 0l3 0l3 1l3-1l3 0l3 0l3 0l3 0l3 0l3 0l3 0l3 0l3 0l3 0l3 0l3 1l3 0l3-1l3 0l3-2l3-1l3 1l3 1l3 1l3 0l3 0l3 0l3 0l3 0l3 0l3 0l3 0l3 0l3 0l3 0l3 0l3 0l3 0l3 0l3 0l3 0l3 0l3 0l3 0l3 0l3 0l3 0l3 0l3 0l3 0l3 1l3 0l3 0l3-1l3 0l3 0l3 0l3 0l3 0l3 0l3 0l3 0l3 0l3 0l3 0l3 1l3 0l3 0l3 0l3 0l3 0l3 0l3 0l3 0l3 0l3 0l3-1l3 1l3 0l3 0l3-1l3 0l3 0l3 0l3 0l3 0l3 0l3 0l3 0l3 0l3 0l3 0l3 0l3 0l3 0l3 0l3 0l3 0l3 0l3 0l3 0l3 0l3 0l3 0l3 0l3 0l3 0l3 0l3 0l3 0l3 0l3 0l3 1l3 0l3 0l3-1l3 0l3 0l3 0l3 0l3 0l3 0l3 0l3 0l3 0l3 0l3 0l3 0l3 0l3 0l3 0l3 0l3 1l3-1l3 0l3 0l3 0l3 0l3 0l3 0l3 0l3 0l3 1l3 0l3 0l3 0l3 0l3-1l3 0l3 0l3 0l3 1l3 0l3 0" fill="none" stroke="#000000" stroke-width="3.5" vector-effect="non-scaling-stroke" stroke-linejoin="round"/>
</g>
<rect x="669.28" y="1932.60" width="24.94" height="9.50" fill="#ff0099"/>
<path d="M566.62 1683.30v8.3M566.62 1937.10v-8.3M605.00 1683.30v16.8M605.00 1937.10v-16.8M643.38 1683.30v8.3M643.38 1937.10v-8.3M681.75 1683.30v16.8M681.75 1937.10v-16.8M720.12 1683.30v8.3M720.12 1937.10v-8.3M758.50 1683.30v16.8M758.50 1937.10v-16.8M796.88 1683.30v8.3M796.88 1937.10v-8.3M528.25 1935.50h16.5M835.25 1935.50h-16.5M528.25 1863.75h16.5M835.25 1863.75h-16.5M528.25 1790.39h16.5M835.25 1790.39h-16.5M528.25 1717.04h16.5M835.25 1717.04h-16.5" stroke="#000" stroke-width="2" fill="none"/>
<rect x="528.25" y="1683.30" width="307.00" height="253.80" fill="none" stroke="#000" stroke-width="3.1"/>
<text x="511.95" y="1943.60" class="tl" text-anchor="end">0.00</text>
<text x="511.95" y="1870.25" class="tl" text-anchor="end">0.01</text>
<text x="511.95" y="1796.89" class="tl" text-anchor="end">0.02</text>
<text x="511.95" y="1723.54" class="tl" text-anchor="end">0.03</text>
<text x="682.75" y="1662.95" class="tt" text-anchor="middle">ELK4 (n = 1,261)</text>
<clipPath id="c27"><rect x="943.35" y="1683.30" width="307.00" height="253.80"/></clipPath>
<g clip-path="url(#c27)">
<path transform="translate(943.35 1937.10) scale(0.38375 0.5)" d="M0 0l1 0l1 0l1 0l1 0l1 0l1-66l1 66l1 0l1 0l1 0l1 0l1 0l1 0l1 0l1-66l1 0l1-132l1 198l1 0l1 0l1 0l1 0l1-66l1 66l1 0l1 0l1 0l1 0l1-66l1 66l1 0l1 0l1 0l1 0l1 0l1 0l1 0l1 0l1 0l1 0l1-132l1 132l1-66l1 66l1 0l1-132l1 132l1 0l1 0l1 0l1-66l1 66l1-66l1 0l1 66l1 0l1 0l1 0l1 0l1-66l1 66l1 0l1 0l1 0l1 0l1 0l1 0l1-66l1 66l1 0l1-66l1 66l1 0l1 0l1 0l1 0l1 0l1 0l1 0l1 0l1 0l1 0l1 0l1-66l1 0l1 66l1 0l1-66l1 66l1-66l1 0l1 66l1-66l1 66l1 0l1 0l1 0l1 0l1-66l1 66l1 0l1-132l1 66l1 66l1 0l1 0l1 0l1-66l1 66l1 0l1 0l1-132l1 132l1 0l1 0l1 0l1 0l1 0l1 0l1 0l1 0l1 0l1 0l1-132l1 132l1-66l1 66l1 0l1 0l1-66l1 66l1-66l1-66l1 132l1-66l1 0l1 66l1 0l1 0l1 0l1 0l1-198l1 132l1 66l1 0l1 0l1 0l1-66l1 0l1 66l1-66l1 66l1 0l1 0l1 0l1 0l1 0l1 0l1 0l1 0l1 0l1-66l1 0l1 0l1 66l1 0l1 0l1 0l1 0l1 0l1 0l1-66l1 66l1 0l1 0l1 0l1 0l1 0l1 0l1 0l1 0l1 0l1-66l1 0l1 0l1 66l1 0l1 0l1 0l1 0l1 0l1-66l1 66l1 0l1 0l1-66l1 0l1-66l1 132l1-190l1 190l1-66l1-132l1 198l1 0l1 0l1-66l1 66l1 0l1 0l1 0l1 0l1 0l1 0l1-66l1 66l1-132l1 66l1 66l1-66l1 66l1-66l1 66l1 0l1 0l1 0l1-132l1 66l1 66l1 0l1 0l1 0l1 0l1 0l1-198l1 198l1-66l1 66l1 0l1 0l1 0l1 0l1-66l1 66l1-66l1 66l1 0l1 0l1-66l1 66l1 0l1 0l1-66l1 66l1 0l1 0l1 0l1-66l1 66l1 0l1 0l1 0l1 0l1 0l1 0l1 0l1 0l1-66l1 66l1 0l1 0l1-66l1 0l1 0l1 0l1 0l1 0l1 0l1 0l1 66l1 0l1 0l1 0l1-198l1 198l1-198l1 198l1 0l1 0l1 0l1-132l1 132l1 0l1-66l1 66l1-66l1 66l1-198l1 198l1-216l1 216l1-66l1 0l1 66l1 0l1 0l1-66l1 0l1 66l1 0l1 0l1-66l1 66l1 0l1 0l1-66l1 0l1 66l1 0l1 0l1 0l1 0l1-198l1 66l1 132l1-66l1 66l1-66l1-66l1 66l1 66l1-198l1 66l1 0l1 66l1 66l1 0l1 0l1-66l1 0l1 66l1 0l1-66l1 0l1 66l1-66l1 0l1 66l1-66l1-213l1 213l1 66l1 0l1-66l1-66l1 66l1 66l1-132l1 132l1-66l1-132l1 198l1 0l1 0l1-66l1-66l1 132l1 0l1-198l1 198l1-66l1 0l1 66l1 0l1 0l1 0l1-66l1 66l1-132l1-66l1 132l1 66l1-132l1 132l1-279l1 213l1 0l1-132l1 132l1 66l1-132l1 0l1 132l1 0l1-298l1 298l1-66l1 66l1-132l1-344l1 476l1-66l1 0l1 0l1 0l1 0l1 0l1-132l1 66l1-84l1 18l1 132l1 66l1-66l1 0l1-66l1 66l1 0l1-66l1-132l1 66l1 198l1 0l1 0l1-203l1 71l1 66l1-198l1 132l1 66l1-66l1 0l1 132l1-264l1 132l1 66l1 66l1-132l1 132l1 0l1-66l1 66l1-198l1 132l1 66l1-66l1 0l1 66l1 0l1-216l1-48l1 264l1-66l1 66l1-66l1 66l1-66l1-132l1-66l1 66l1 198l1-66l1 66l1-66l1 0l1 0l1 0l1 66l1-198l1 198l1 0l1 0l1-66l1 66l1 0l1 0l1 0l1 0l1-66l1 0l1-66l1-66l1 132l1 66l1 0l1 0l1 0l1-132l1 132l1 0l1 0l1 0l1 0l1 0l1-66l1 0l1 0l1 66l1 0l1 0l1 0l1-66l1 66l1 0l1-66l1 0l1 66l1-66l1 0l1 66l1 0l1 0l1 0l1 0l1-66l1 66l1 0l1-198l1 198l1 0l1-66l1 66l1-66l1 66l1-66l1 66l1 0l1 0l1 0l1 0l1-66l1 66l1-66l1 0l1 0l1 0l1 66l1-132l1 132l1-66l1 0l1 66l1 0l1 0l1 0l1-132l1 0l1 66l1 66l1-190l1 190l1 0l1 0l1-66l1 66l1-66l1 66l1 0l1 0l1 0l1 0l1-66l1-66l1 132l1-66l1 66l1 0l1 0l1 0l1-66l1-132l1 198l1-66l1 0l1 66l1-66l1 66l1 0l1 0l1 0l1-66l1 66l1 0l1-66l1 66l1 0l1 0l1-198l1 132l1 66l1 0l1 0l1 0l1 0l1 0l1 0l1 0l1-132l1 132l1 0l1 0l1 0l1 0l1 0l1 0l1 0l1-66l1 66l1 0l1 0l1 0l1 0l1 0l1 0l1 0l1 0l1 0l1 0l1-66l1 66l1-66l1 66l1 0l1 0l1-66l1 66l1 0l1 0l1-66l1 66l1 0l1-198l1 198l1 0l1-66l1 66l1-66l1 66l1-66l1 66l1-66l1 66l1 0l1 0l1 0l1 0l1-66l1-66l1 132l1 0l1-66l1 66l1-66l1 66l1 0l1 0l1 0l1 0l1 0l1-66l1 0l1 0l1 66l1 0l1 0l1-66l1 66l1 0l1 0l1 0l1-198l1 66l1 132l1 0l1 0l1 0l1 0l1 0l1 0l1-66l1 66l1 0l1-66l1 66l1 0l1 0l1 0l1-66l1 0l1 66l1-66l1 0l1 66l1 0l1 0l1 0l1 0l1-66l1 66l1 0l1 0l1 0l1 0l1 0l1 0l1 0l1 0l1 0l1 0l1 0l1 0l1 0l1 0l1 0l1-66l1 0l1 0l1 0l1 66l1 0l1 0l1 0l1-132l1 132l1 0l1-66l1 66l1-66l1 66l1-198l1 198l1 0l1 0l1 0l1 0l1 0l1 0l1 0l1 0l1-66l1 0l1-66l1 66l1 66l1 0l1-66l1 0l1 66l1 0l1 0l1 0l1 0l1 0l1 0l1 0l1-66l1 0l1 0l1 66l1 0l1-66l1 66l1-66l1 66l1 0l1-66l1 66l1 0l1-66l1 0l1 66l1 0l1 0l1 0l1-66l1 66l1-66l1 66l1 0l1 0l1 0l1-66l1 0l1 66l1 0l1-66l1 66l1-66l1-132l1 132l1 66l1 0l1 0l1 0l1 0l1 0l1 0l1 0l1-66l1 66" fill="none" stroke="#f08a8a" stroke-width="4.0" vector-effect="non-scaling-stroke" stroke-linejoin="round" stroke-linecap="round"/>
<path transform="translate(943.35 1937.10) scale(0.38375 0.5)" d="M0-24l4 0l4-1l4 0l4 0l4-1l4 0l4 0l4 0l4 0l4 0l4-1l4 1l4 0l4 0l4 1l4 0l4 0l4 0l4 0l4-1l4 0l4-1l4-1l4 0l4 0l4 0l4 0l4 0l4-1l4 0l4-1l4 0l4-1l4 0l4 0l4 1l4 1l4 1l4 1l4 1l4 0l4 1l4 0l4-1l4-1l4-2l4-1l4-2l4-1l4-1l4 0l4 0l4 0l4 1l4 0l4 1l4 1l4 0l4 1l4 1l4 0l4 1l4 0l4-1l4-1l4-2l4-2l4-2l4-2l4-2l4-1l4-1l4-1l4 0l4-1l4 0l4-2l4-2l4-2l4-3l4-3l4-2l4-3l4-2l4-1l4-2l4-1l4-2l4-1l4-1l4-2l4-1l4-2l4-1l4-2l4-2l4-1l4-2l4-2l4-2l4-2l4-2l4-2l4 0l4 0l4 0l4 2l4 2l4 3l4 3l4 3l4 2l4 3l4 3l4 3l4 3l4 4l4 4l4 3l4 4l4 3l4 3l4 2l4 2l4 2l4 1l4 1l4 1l4 0l4 0l4 0l4 0l4 0l4 0l4 0l4 0l4 1l4 0l4 1l4 0l4 1l4 0l4 1l4 0l4 1l4 1l4 2l4 1l4 1l4 1l4 1l4 0l4 0l4-1l4 0l4-1l4-1l4-1l4-1l4 0l4-1l4 0l4 1l4 0l4 0l4 0l4 0l4 0l4 1l4 0l4 1l4 1l4 1l4 0l4 1l4-1l4 0l4-1l4-1l4-1l4-1l4-1l4 0l4 0l4 0l4 0l4 0l4 1l4 0l4 0l4 0l4 0l4 0l4 0l4 0l4 0l4 0l4 0l4 0l4 0" fill="none" stroke="#e31a1c" stroke-width="3.6" vector-effect="non-scaling-stroke" stroke-linejoin="round"/>
<path transform="translate(943.35 1937.10) scale(0.38375 0.5)" d="M0-33l2 7l2-5l2-2l2 4l2-2l2-5l2-1l2 4l2 0l2 3l2-1l2-3l2 2l2 0l2 0l2 0l2 1l2 0l2-3l2 1l2 2l2-1l2 0l2 0l2 0l2 0l2 1l2-3l2 3l2-1l2 5l2-4l2-2l2 5l2-1l2-3l2-1l2 5l2-3l2-1l2-3l2 2l2 0l2 2l2-2l2 0l2-2l2-1l2 7l2-3l2 1l2-4l2 3l2 1l2-3l2 3l2-1l2 1l2 0l2-2l2 0l2 1l2-2l2 4l2 1l2-1l2-1l2-3l2 2l2-1l2 5l2-4l2-2l2-3l2-1l2 6l2-2l2-1l2 2l2 3l2-3l2 0l2 1l2 2l2-6l2 2l2 0l2 0l2 1l2 4l2-2l2-1l2 1l2-6l2 4l2 5l2-3l2-2l2 1l2 1l2-5l2 4l2-6l2 6l2 5l2-6l2-1l2 2l2 5l2-3l2 2l2-3l2 3l2-6l2 2l2 1l2-4l2 4l2-6l2 2l2 5l2-3l2-1l2 3l2-1l2 2l2-1l2 2l2-4l2-1l2 1l2 2l2 0l2 1l2-2l2 0l2 2l2 2l2-4l2 0l2 2l2-3l2 2l2 3l2-4l2 0l2 0l2 1l2 1l2 0l2-2l2 1l2-2l2 0l2 1l2-1l2 0l2 4l2-3l2 3l2 1l2-1l2-1l2-1l2-1l2 0l2 1l2-3l2 1l2 2l2-1l2 4l2-1l2-3l2-1l2 1l2 1l2-3l2 2l2-3l2-1l2 5l2-1l2 4l2-5l2 2l2 1l2-3l2 3l2-1l2-3l2 5l2-5l2 5l2-1l2 0l2-1l2-7l2-3l2-4l2 3l2 5l2 3l2 5l2 1l2-5l2 0l2-1l2 5l2 0l2-5l2 4l2 1l2 0l2-1l2-2l2-4l2 3l2 2l2-5l2 3l2 2l2-1l2 2l2 1l2-1l2-1l2-1l2 0l2 1l2 1l2-1l2-2l2 0l2 2l2 1l2-5l2 2l2 2l2 1l2-2l2 3l2-4l2 2l2-1l2 0l2-2l2 1l2 3l2-1l2 1l2-3l2-2l2 2l2 5l2-7l2 3l2 1l2 0l2-1l2-2l2 1l2-3l2 4l2-3l2 2l2 0l2 5l2-5l2 1l2-2l2-3l2 9l2-1l2-3l2-3l2 4l2 3l2-3l2-1l2 3l2-4l2 4l2-1l2-3l2 0l2-3l2 7l2-1l2 0l2 1l2-7l2 7l2 1l2-5l2 1l2-1l2-4l2 2l2 1l2 2l2-2l2 3l2 0l2-2l2-2l2 5l2-2l2 3l2-4l2 0l2-1l2 5l2-7l2 3l2 1l2 4l2-5l2 2l2 2l2 0l2 2l2 0l2-6l2 1l2-4l2 2l2 2l2 3l2-2l2-1l2 2l2-5l2 3l2-2l2 5l2-3l2 1l2 2l2-5l2 0l2 1l2 3l2 1l2-2l2-1l2-2l2-1l2 0l2 4l2 1l2-2l2-1l2 0l2 7l2-6l2 0l2 1l2 1l2-3l2 0l2 4l2 0l2-4l2 5l2-2l2 1l2 3l2-6l2-3l2 3l2-5l2 4l2 5l2-7l2 2l2 0l2-2l2 4l2-1l2-3l2 5l2-1l2-2l2 4l2-1l2-1l2 0l2 1l2-1l2 0l2 3l2-5l2 4l2 2l2-3l2 0l2-3l2 0l2 1" fill="none" stroke="#808080" stroke-width="5.0" vector-effect="non-scaling-stroke" stroke-linejoin="round"/>
<path transform="translate(943.35 1937.10) scale(0.38375 0.5)" d="M0-30l3 0l3-1l3-1l3 0l3 0l3 0l3 0l3 0l3 1l3 0l3 0l3-1l3 0l3 0l3 0l3 0l3 0l3 0l3 0l3 0l3 0l3 0l3 1l3 0l3 0l3 0l3-1l3 0l3 0l3 0l3 0l3 0l3 0l3 0l3 0l3 0l3 0l3 0l3 0l3 0l3 0l3 0l3 0l3 0l3 0l3 0l3 0l3 0l3 1l3 0l3 0l3 0l3 0l3-1l3 0l3 1l3 0l3 0l3-1l3-1l3 0l3 1l3 0l3 0l3 1l3 0l3 0l3-1l3 0l3 1l3-1l3 0l3-1l3 0l3 0l3 1l3 0l3 0l3 0l3 0l3 0l3 0l3 1l3 0l3 0l3 0l3-1l3 0l3 0l3 0l3-1l3 0l3 0l3 1l3 0l3 0l3 0l3 0l3 0l3 0l3 0l3 0l3 1l3 0l3 0l3 0l3 0l3-1l3 1l3 0l3 0l3 0l3 0l3 0l3-1l3 0l3 0l3 0l3 0l3 0l3 1l3 0l3 0l3 0l3 0l3-1l3 1l3 0l3 0l3 0l3-1l3-2l3-1l3 0l3 2l3 1l3 1l3 0l3 0l3 0l3 0l3-1l3 0l3 0l3 0l3 0l3 1l3 0l3 0l3-1l3 0l3-1l3 1l3 0l3 0l3 0l3 0l3 1l3 0l3 0l3 0l3 0l3 0l3 0l3 1l3 0l3 0l3-1l3 0l3 0l3-1l3 0l3 0l3 0l3 0l3 0l3 0l3-1l3 0l3 0l3 1l3 0l3 0l3 1l3 0l3 0l3 0l3-1l3-1l3 0l3 0l3 1l3 0l3 0l3 0l3 0l3 1l3 0l3 0l3-1l3 1l3 0l3-1l3 0l3 1l3 0l3 0l3 0l3-1l3 0l3 0l3 0l3 0l3 0l3 0l3 0l3 0l3 0l3 0l3 0l3 0l3 0l3 0l3 0l3 0l3 0l3 0l3 0l3 0l3 0l3 0l3 0l3 1l3 0l3 0l3 0l3-1l3 0l3 0l3 0l3 0l3 0l3 0l3-1l3 0l3 0l3 1l3 0l3 0l3 0l3 0l3 0l3 1l3 0l3 0l3-1l3 0l3 0l3 0l3 0l3 1l3 0l3 0l3 0l3 0l3-1" fill="none" stroke="#000000" stroke-width="3.5" vector-effect="non-scaling-stroke" stroke-linejoin="round"/>
<rect x="1084.38" y="1928.10" width="24.94" height="9.00" fill="#ff0099"/>
</g>
<path d="M981.73 1683.30v8.3M981.73 1937.10v-8.3M1020.10 1683.30v16.8M1020.10 1937.10v-16.8M1058.47 1683.30v8.3M1058.47 1937.10v-8.3M1096.85 1683.30v16.8M1096.85 1937.10v-16.8M1135.22 1683.30v8.3M1135.22 1937.10v-8.3M1173.60 1683.30v16.8M1173.60 1937.10v-16.8M1211.97 1683.30v8.3M1211.97 1937.10v-8.3M943.35 1935.50h16.5M1250.35 1935.50h-16.5M943.35 1873.65h16.5M1250.35 1873.65h-16.5M943.35 1810.20h16.5M1250.35 1810.20h-16.5M943.35 1746.75h16.5M1250.35 1746.75h-16.5" stroke="#000" stroke-width="2" fill="none"/>
<rect x="943.35" y="1683.30" width="307.00" height="253.80" fill="none" stroke="#000" stroke-width="3.1"/>
<text x="927.05" y="1943.60" class="tl" text-anchor="end">0.000</text>
<text x="927.05" y="1880.15" class="tl" text-anchor="end">0.002</text>
<text x="927.05" y="1816.70" class="tl" text-anchor="end">0.004</text>
<text x="927.05" y="1753.25" class="tl" text-anchor="end">0.006</text>
<text x="927.05" y="1689.80" class="tl" text-anchor="end">0.008</text>
<text x="1097.85" y="1662.95" class="tt" text-anchor="middle">PAX5 (n = 1,230)</text>
<clipPath id="c28"><rect x="1358.35" y="1683.30" width="307.00" height="253.80"/></clipPath>
<g clip-path="url(#c28)">
<path transform="translate(1358.35 1937.10) scale(0.38375 0.5)" d="M0 0l1 0l1-89l1 89l1 0l1 0l1 0l1 0l1 0l1 0l1 0l1 0l1 0l1 0l1 0l1-352l1 263l1 89l1 0l1-89l1 0l1 0l1-88l1 177l1 0l1-177l1 177l1-89l1 89l1 0l1 0l1 0l1-89l1 89l1 0l1 0l1 0l1-89l1-177l1 177l1 0l1-177l1 266l1-177l1 177l1 0l1 0l1-177l1 88l1 89l1-89l1 0l1-88l1 0l1 88l1 0l1 0l1 89l1-89l1 0l1 89l1 0l1 0l1 0l1-266l1 266l1 0l1-89l1 0l1 89l1 0l1 0l1 0l1-89l1 89l1 0l1 0l1 0l1-177l1 177l1-89l1-88l1 88l1 89l1-89l1 0l1-88l1 88l1 89l1 0l1-89l1-88l1 177l1-89l1-88l1 177l1-89l1 0l1 0l1-88l1 88l1 89l1-177l1 88l1 0l1 0l1-88l1 88l1 89l1-177l1 88l1-88l1 88l1 89l1 0l1 0l1 0l1-89l1 0l1 89l1 0l1-177l1 88l1 89l1-352l1 175l1 177l1 0l1-177l1 177l1-266l1 266l1 0l1-89l1 0l1 89l1-177l1 177l1-266l1 266l1-177l1 88l1 89l1 0l1 0l1-89l1 89l1-177l1 177l1 0l1-89l1 0l1 89l1-177l1 177l1-89l1 0l1 89l1-89l1 0l1-177l1 266l1 0l1-177l1 177l1 0l1-89l1 89l1 0l1-89l1 0l1 89l1-89l1 89l1-89l1 89l1-89l1-88l1 88l1 0l1 89l1 0l1 0l1 0l1-177l1 177l1-177l1 177l1-177l1 177l1-89l1-177l1 89l1 88l1 0l1-177l1 266l1 0l1 0l1 0l1-372l1 283l1 89l1-89l1-88l1 177l1-177l1 88l1 89l1-89l1 89l1 0l1 0l1 0l1-89l1 0l1 89l1-177l1 177l1-177l1 0l1 177l1-89l1 89l1-177l1 88l1-88l1 177l1-89l1 0l1 89l1 0l1 0l1 0l1 0l1-89l1 0l1-88l1 177l1-89l1 89l1 0l1 0l1-89l1 89l1 0l1-266l1 266l1 0l1 0l1 0l1 0l1 0l1 0l1-177l1 88l1 0l1 0l1 0l1-88l1 88l1 89l1 0l1 0l1 0l1 0l1 0l1 0l1 0l1-177l1 88l1 0l1 89l1 0l1-89l1 89l1 0l1 0l1 0l1-89l1 0l1 89l1-89l1 89l1 0l1-177l1 177l1 0l1 0l1 0l1 0l1-89l1 89l1-89l1 0l1 0l1-88l1 0l1 0l1 88l1 0l1-88l1 177l1 0l1 0l1-177l1 177l1-89l1 0l1 89l1 0l1 0l1 0l1 0l1 0l1-89l1 0l1 89l1 0l1 0l1 0l1 0l1-177l1 177l1-89l1 89l1 0l1 0l1-352l1 175l1 177l1 0l1-89l1 89l1-89l1 89l1 0l1-89l1-88l1 88l1 0l1 0l1-88l1 0l1-175l1 263l1-177l1 177l1-263l1 352l1-372l1 195l1 88l1 89l1-89l1-88l1 88l1-88l1-175l1 263l1 0l1-88l1 0l1 177l1 0l1-89l1 0l1 0l1-88l1 177l1 0l1-177l1 88l1 0l1-88l1 0l1 88l1 89l1-89l1-88l1-136l1 313l1-177l1 177l1-89l1-177l1 266l1-266l1 0l1 266l1 0l1 0l1-89l1-88l1 177l1-266l1-86l1 175l1 177l1-177l1-170l1 170l1 88l1 0l1 89l1 0l1-352l1 352l1-177l1 88l1-351l1 351l1 89l1-266l1 177l1-88l1 88l1 89l1-89l1-263l1 86l1 89l1 0l1 0l1 0l1 88l1-88l1 0l1 88l1 89l1-406l1 317l1 89l1-177l1 88l1 89l1-177l1-175l1 352l1-89l1-300l1 300l1 0l1 0l1-177l1 177l1 89l1 0l1-266l1 89l1 88l1-88l1 88l1 89l1-177l1 177l1-177l1 177l1 0l1 0l1-89l1 89l1-89l1 0l1-88l1 0l1 177l1 0l1-352l1 263l1 0l1 0l1-88l1 177l1 0l1-177l1 88l1-88l1 88l1-88l1-111l1 288l1-89l1 0l1 89l1-352l1 263l1-88l1 177l1 0l1 0l1-177l1 177l1 0l1-89l1-88l1 177l1 0l1-89l1 89l1-177l1 177l1-266l1 89l1 0l1 177l1-89l1 0l1 0l1 89l1-89l1 89l1 0l1 0l1-89l1 0l1-88l1 177l1-266l1 266l1-177l1 177l1 0l1 0l1-89l1 89l1 0l1 0l1 0l1-89l1-199l1 199l1-177l1 177l1 0l1-177l1 266l1-89l1 0l1-177l1 89l1 177l1-89l1 0l1 89l1-89l1 89l1-89l1 89l1-89l1 89l1-177l1 88l1-88l1 88l1 89l1-177l1 88l1-177l1 266l1-177l1 177l1 0l1-177l1 177l1 0l1-89l1 0l1 89l1-89l1 89l1 0l1-177l1 177l1-89l1 89l1 0l1-89l1 89l1 0l1-177l1 177l1 0l1 0l1 0l1 0l1 0l1 0l1-352l1 263l1 0l1 0l1-88l1 88l1 89l1-266l1 266l1 0l1 0l1-89l1-88l1 88l1-88l1 177l1 0l1-177l1 177l1-266l1 266l1 0l1 0l1-89l1 0l1 0l1 89l1 0l1-89l1-88l1 177l1 0l1 0l1 0l1-89l1-88l1 177l1 0l1-89l1-88l1 177l1-89l1-88l1 88l1 89l1-266l1 177l1 89l1 0l1-89l1 0l1 89l1-89l1 0l1 0l1 89l1 0l1 0l1-89l1 0l1 89l1 0l1 0l1-89l1 0l1 0l1 0l1 0l1 0l1-88l1 177l1 0l1-288l1 22l1 266l1-89l1 0l1-177l1 266l1 0l1 0l1-89l1 0l1 89l1 0l1 0l1 0l1-89l1 0l1-88l1 177l1-89l1-88l1 177l1-266l1 89l1 177l1 0l1 0l1-89l1 0l1 89l1-89l1 89l1-89l1 89l1-266l1 266l1 0l1-89l1 89l1 0l1 0l1-89l1 0l1 0l1 89l1 0l1-89l1-88l1 177l1-177l1 88l1 0l1 0l1 0l1 89l1-177l1 177l1-177l1 177l1-177l1 0l1 177l1-89l1 89l1 0l1 0l1 0l1 0l1-177l1 88l1-88l1 0l1 177l1 0l1-266l1 266l1-89l1 0l1 0l1-88l1 177l1 0l1 0l1 0l1 0l1-89l1 89l1 0l1-177l1 177l1-288l1 111l1 88l1-263l1 175l1 177l1-89l1 0l1 89l1-89l1 0l1 89l1-89l1 0l1 89l1-89l1 89l1 0l1 0l1-177l1 0l1 177l1 0l1 0l1-266l1 266l1-177l1 88l1 89l1 0l1 0l1 0l1 0l1-266l1 0l1 177l1 89l1-177l1 177l1 0l1-177l1 177l1 0l1 0l1 0l1-266l1 266l1-89l1 89l1-352l1 175" fill="none" stroke="#f08a8a" stroke-width="4.0" vector-effect="non-scaling-stroke" stroke-linejoin="round" stroke-linecap="round"/>
<path transform="translate(1358.35 1937.10) scale(0.38375 0.5)" d="M0-24l4-1l4 0l4-2l4-1l4-2l4-1l4-1l4-1l4-2l4 0l4-1l4 0l4 0l4 1l4 1l4 1l4 0l4 0l4-1l4-1l4-1l4-1l4-1l4-1l4-1l4 0l4 0l4 0l4 0l4 1l4 0l4 0l4 1l4 0l4 1l4 1l4 0l4 1l4 0l4 1l4 0l4 0l4-1l4 0l4-1l4 0l4-1l4 0l4 0l4 0l4 1l4 0l4 0l4 1l4 0l4 0l4 0l4 1l4 0l4 0l4 1l4-1l4 0l4 0l4-1l4 0l4-1l4-1l4-2l4-2l4-2l4-2l4-3l4-2l4-2l4-1l4-2l4-2l4-3l4-4l4-4l4-5l4-6l4-6l4-5l4-5l4-4l4-3l4-3l4-2l4-1l4-1l4-2l4-1l4-2l4-2l4-2l4-1l4-2l4-1l4 0l4-1l4 0l4 1l4 1l4 2l4 2l4 2l4 3l4 3l4 3l4 4l4 3l4 3l4 3l4 2l4 3l4 2l4 3l4 3l4 3l4 3l4 4l4 3l4 4l4 3l4 2l4 3l4 2l4 1l4 1l4 1l4 1l4 0l4 1l4 1l4 1l4 2l4 1l4 2l4 2l4 2l4 1l4 0l4 1l4-1l4 0l4-1l4 0l4 0l4 0l4 1l4 0l4 0l4 1l4 0l4 0l4 0l4 0l4 1l4 0l4 0l4 0l4-1l4 0l4 0l4 0l4 0l4 0l4 0l4 0l4 0l4 0l4 0l4 0l4 0l4-1l4 0l4-1l4 0l4 0l4 0l4 0l4 0l4 0l4 0l4 0l4 0l4 0l4 0l4 0l4 0l4 0l4 0l4-1l4-1l4 0l4-1l4 0l4-1" fill="none" stroke="#e31a1c" stroke-width="3.6" vector-effect="non-scaling-stroke" stroke-linejoin="round"/>
<path transform="translate(1358.35 1937.10) scale(0.38375 0.5)" d="M0-48l2 2l2 3l2 6l2 1l2-8l2-4l2 4l2-2l2 2l2 5l2-3l2 1l2-2l2 2l2 3l2-1l2-6l2 0l2-1l2 8l2-7l2-3l2 1l2 1l2 0l2 1l2 3l2-4l2 5l2-5l2-3l2 11l2-1l2-6l2 3l2-3l2 1l2-3l2 2l2-5l2 7l2 3l2-1l2-4l2-3l2 7l2-3l2-1l2 0l2-3l2 2l2 5l2 2l2-7l2 6l2-1l2-6l2 4l2 6l2-2l2-4l2-4l2 5l2 2l2-7l2 2l2-1l2-1l2 2l2 4l2 2l2-1l2-5l2 2l2-2l2 3l2-2l2 2l2-2l2-1l2 1l2-3l2 2l2 2l2 0l2-1l2 7l2-5l2 2l2-4l2 2l2-5l2 5l2-3l2 6l2-9l2 4l2 0l2-3l2 0l2 2l2-2l2-5l2 10l2 1l2-2l2-4l2 1l2 5l2 0l2-7l2 3l2 3l2-4l2 0l2 0l2-2l2 5l2 3l2-3l2 9l2-7l2 4l2 3l2-5l2-1l2 1l2-2l2 0l2-3l2 3l2 2l2-5l2-1l2-3l2 4l2 1l2 2l2 3l2-3l2 0l2-2l2 7l2-1l2-8l2 1l2 6l2-8l2-1l2 0l2 6l2 4l2-3l2-1l2-1l2 0l2-3l2 1l2 1l2-8l2 7l2-2l2 1l2-1l2 3l2 0l2-5l2-2l2 7l2-1l2-2l2 10l2-3l2-2l2-1l2 6l2 0l2-9l2-3l2 3l2 3l2-5l2 1l2 5l2-3l2-3l2 4l2-1l2-4l2 9l2-2l2-3l2 2l2-3l2 1l2 0l2-2l2-9l2-15l2 2l2 0l2 12l2 5l2 2l2 6l2-7l2 7l2-3l2 8l2-6l2-3l2 4l2 2l2 1l2-2l2 0l2-3l2-4l2 7l2 1l2-1l2 1l2 0l2 0l2-2l2-4l2 3l2 1l2-1l2 7l2-8l2 4l2 3l2-3l2-1l2-2l2 1l2-1l2 1l2 3l2 2l2-2l2-4l2 5l2-4l2-2l2-1l2-1l2 6l2-1l2 3l2 0l2-3l2 2l2 1l2-5l2 0l2 0l2 1l2 3l2-3l2-5l2 2l2 1l2 5l2 1l2-3l2-3l2-1l2 0l2 4l2 0l2-4l2 1l2 2l2 0l2-2l2 3l2-1l2 0l2 2l2 0l2-2l2 0l2-5l2 6l2-2l2 1l2 1l2-5l2 6l2-6l2 7l2-3l2 1l2-3l2 5l2-2l2-1l2-1l2 4l2-2l2-6l2 1l2-3l2 8l2-2l2-2l2-4l2 6l2 3l2-7l2 0l2 11l2-6l2-5l2 6l2-5l2 3l2 1l2-4l2 6l2-3l2-7l2 8l2-5l2 9l2-5l2 4l2-1l2-1l2-1l2-4l2 5l2-3l2 0l2 9l2-4l2 0l2-3l2 3l2 1l2 1l2-7l2 1l2 2l2-4l2 1l2 2l2-1l2-5l2 3l2 0l2 4l2-3l2-3l2 4l2 1l2-3l2 5l2-4l2 2l2 1l2 0l2-4l2 1l2 1l2 0l2 0l2 0l2 3l2-1l2-2l2 0l2 3l2-2l2 3l2-2l2 3l2-8l2 4l2-3l2 3l2-1l2-2l2 3l2 5l2-4l2-5l2 3l2-2l2 2l2-6l2 5l2 7l2-1l2-4l2-3l2 2l2-2" fill="none" stroke="#808080" stroke-width="5.0" vector-effect="non-scaling-stroke" stroke-linejoin="round"/>
<path transform="translate(1358.35 1937.10) scale(0.38375 0.5)" d="M0-43l3 0l3 0l3 0l3 0l3 0l3 0l3 0l3 0l3 1l3 0l3 0l3 0l3-1l3-1l3 0l3 0l3 0l3 1l3 0l3 0l3 0l3 0l3 0l3 0l3 0l3 0l3-1l3-1l3-1l3 1l3 0l3 1l3 0l3 1l3 0l3 0l3 0l3 0l3 0l3 0l3 1l3 0l3 0l3-1l3 0l3 0l3 0l3 0l3 0l3 0l3 0l3 0l3 0l3 1l3 0l3-1l3 0l3-1l3 0l3 0l3 1l3 1l3 0l3 0l3 0l3-1l3 0l3 1l3 0l3 0l3-1l3 0l3 0l3 0l3 0l3-1l3 0l3 1l3 0l3 0l3 0l3 0l3 0l3 0l3 0l3 0l3-1l3 0l3 0l3 0l3 1l3 0l3 0l3 0l3 0l3 0l3 0l3 0l3 0l3 1l3 0l3 0l3 0l3 0l3 0l3 0l3 0l3 0l3-1l3 0l3-1l3 0l3 0l3 0l3 0l3 0l3 1l3 0l3 1l3-1l3 0l3 0l3 0l3-1l3 0l3 0l3 1l3 0l3 0l3-1l3-5l3-9l3-9l3 2l3 10l3 9l3 3l3 0l3 0l3 0l3 0l3-1l3 0l3 0l3 0l3 1l3 1l3 0l3 0l3 0l3 0l3 0l3 0l3-1l3 0l3-1l3 0l3 0l3 0l3 0l3 0l3 0l3 0l3 0l3 1l3 0l3 0l3 0l3 0l3 1l3-1l3 0l3 0l3-1l3 0l3 0l3 1l3 0l3 1l3 0l3 0l3-1l3-1l3 0l3 1l3 0l3 0l3 0l3 0l3-1l3 0l3 0l3 0l3 0l3 0l3 1l3 0l3 0l3 0l3 0l3 0l3-1l3 1l3 0l3 0l3 0l3 0l3 0l3-1l3 0l3 0l3 0l3-1l3 0l3 0l3 0l3 1l3 0l3 0l3 0l3 1l3 0l3 0l3-1l3 0l3 0l3 0l3 0l3 1l3 0l3 0l3 0l3 1l3 0l3-1l3 0l3 0l3 0l3-1l3 0l3 0l3 0l3 0l3 0l3 0l3 1l3 0l3 0l3 0l3 0l3 0l3 0l3-1l3 0l3 0l3 0l3 0l3 0l3 0l3 0l3 0l3 0l3 1l3 0l3 0l3 0" fill="none" stroke="#000000" stroke-width="3.5" vector-effect="non-scaling-stroke" stroke-linejoin="round"/>
<rect x="1499.38" y="1928.10" width="24.94" height="9.00" fill="#ff0099"/>
</g>
<path d="M1396.72 1683.30v8.3M1396.72 1937.10v-8.3M1435.10 1683.30v16.8M1435.10 1937.10v-16.8M1473.47 1683.30v8.3M1473.47 1937.10v-8.3M1511.85 1683.30v16.8M1511.85 1937.10v-16.8M1550.22 1683.30v8.3M1550.22 1937.10v-8.3M1588.60 1683.30v16.8M1588.60 1937.10v-16.8M1626.97 1683.30v8.3M1626.97 1937.10v-8.3M1358.35 1935.50h16.5M1665.35 1935.50h-16.5M1358.35 1852.50h16.5M1665.35 1852.50h-16.5M1358.35 1767.90h16.5M1665.35 1767.90h-16.5" stroke="#000" stroke-width="2" fill="none"/>
<rect x="1358.35" y="1683.30" width="307.00" height="253.80" fill="none" stroke="#000" stroke-width="3.1"/>
<text x="1342.05" y="1943.60" class="tl" text-anchor="end">0.000</text>
<text x="1342.05" y="1859.00" class="tl" text-anchor="end">0.002</text>
<text x="1342.05" y="1774.40" class="tl" text-anchor="end">0.004</text>
<text x="1342.05" y="1689.80" class="tl" text-anchor="end">0.006</text>
<text x="1512.85" y="1662.95" class="tt" text-anchor="middle">POU2F2 (n = 1,221)</text>
<clipPath id="c29"><rect x="1773.90" y="1683.30" width="307.00" height="253.80"/></clipPath>
<g clip-path="url(#c29)">
<path transform="translate(1773.90 1937.10) scale(0.38375 0.5)" d="M0-61l1-122l1 183l1 0l1-61l1 61l1-122l1 122l1 0l1 0l1-122l1 122l1-61l1 0l1 61l1 0l1 0l1 0l1-61l1 61l1 0l1 0l1 0l1 0l1-61l1 61l1 0l1-61l1 0l1 61l1 0l1 0l1-122l1 122l1 0l1 0l1 0l1-61l1 61l1 0l1 0l1 0l1 0l1-122l1 61l1 61l1-122l1 122l1 0l1-61l1 61l1 0l1-61l1 61l1 0l1-61l1 0l1-61l1 0l1 122l1-183l1 183l1 0l1-122l1 61l1 61l1 0l1-61l1 61l1-61l1 61l1-61l1 0l1 0l1 0l1-61l1 61l1 61l1 0l1 0l1-61l1-122l1 122l1 61l1-122l1 122l1-61l1 0l1 61l1 0l1 0l1-183l1 61l1 61l1 0l1 0l1 61l1 0l1-183l1 122l1-214l1 275l1 0l1-122l1 61l1 61l1 0l1 0l1-122l1 122l1 0l1 0l1-61l1 0l1 0l1 0l1 0l1 0l1 61l1-61l1 61l1-61l1 61l1-61l1 0l1 0l1 61l1 0l1 0l1 0l1 0l1 0l1 0l1 0l1 0l1-122l1 61l1 61l1-122l1 61l1-61l1 0l1 122l1-122l1 122l1 0l1 0l1-122l1 122l1 0l1 0l1-61l1 61l1 0l1 0l1 0l1 0l1 0l1 0l1 0l1-61l1 0l1 0l1 61l1-61l1 0l1 0l1-122l1 183l1 0l1 0l1-61l1 0l1 0l1 61l1 0l1 0l1 0l1 0l1-61l1 0l1 61l1 0l1 0l1 0l1 0l1-61l1 0l1 61l1-122l1 61l1-61l1 122l1-183l1 61l1 61l1 0l1 0l1 0l1 61l1 0l1 0l1-61l1 61l1-61l1 61l1-61l1 61l1-244l1 244l1-61l1 61l1-61l1 61l1-122l1 0l1 61l1 0l1 0l1 61l1 0l1-122l1 122l1 0l1-61l1 61l1 0l1 0l1-61l1 61l1-61l1 0l1 61l1 0l1 0l1-122l1 61l1 61l1-344l1 344l1 0l1 0l1-61l1 61l1-61l1 61l1 0l1-183l1 183l1-61l1 61l1-183l1 61l1-61l1 183l1 0l1-122l1 122l1-61l1 0l1-122l1 0l1 183l1 0l1 0l1-244l1 183l1 61l1 0l1 0l1-61l1 61l1 0l1 0l1-61l1 61l1-61l1-61l1 122l1 0l1-264l1 264l1-61l1 0l1 0l1 61l1 0l1 0l1 0l1 0l1-122l1 61l1 61l1-61l1 61l1 0l1-61l1 0l1 61l1-61l1-61l1 122l1 0l1-61l1-61l1 0l1 122l1 0l1-61l1 61l1-61l1 0l1 0l1 61l1 0l1 0l1-183l1 183l1-122l1 122l1 0l1-183l1 183l1-61l1 0l1 61l1-61l1 61l1 0l1 0l1 0l1-61l1-122l1 183l1-122l1 0l1 122l1-305l1 305l1-61l1 0l1-283l1 39l1 122l1 0l1-161l1 222l1 61l1 0l1-61l1 61l1-183l1 0l1 183l1-61l1-165l1 287l1-122l1 0l1-61l1 0l1 122l1-61l1 122l1-122l1 61l1-122l1 61l1 61l1-61l1 61l1 0l1-295l1 356l1-183l1 0l1 61l1 0l1-61l1 61l1 122l1-244l1-61l1-39l1 0l1 23l1 260l1-183l1 61l1 61l1-61l1-122l1-62l1 306l1-61l1 61l1-61l1 61l1 61l1-61l1-61l1 122l1-183l1 183l1-61l1-283l1 344l1-183l1-61l1 122l1-61l1 0l1 61l1-262l1 140l1 0l1-61l1 61l1-100l1 283l1-283l1 222l1 122l1-244l1 61l1-196l1 379l1-183l1 183l1-183l1-247l1 247l1 122l1 61l1-61l1 61l1-61l1-61l1 122l1-122l1 122l1-344l1 283l1-61l1 0l1 61l1 61l1-61l1 61l1-183l1-61l1 183l1-183l1 183l1-183l1 183l1 0l1 0l1-61l1-122l1-31l1 92l1 122l1-122l1 61l1 61l1 61l1-183l1-61l1 183l1 61l1 0l1-61l1 61l1 0l1-183l1 183l1 0l1 0l1-61l1 0l1 61l1 0l1 0l1-61l1 61l1 0l1 0l1 0l1-61l1 61l1 0l1 0l1 0l1-61l1 61l1 0l1 0l1 0l1 0l1-122l1 122l1 0l1-122l1 122l1-122l1 122l1 0l1 0l1-61l1 0l1 61l1 0l1 0l1-183l1 122l1 0l1 61l1 0l1 0l1 0l1-122l1 61l1 61l1 0l1 0l1-61l1 0l1-183l1 61l1 122l1 0l1-61l1 61l1 61l1-61l1-61l1 61l1 61l1 0l1 0l1-122l1 61l1 61l1 0l1 0l1 0l1-244l1 122l1 61l1 0l1 0l1 0l1 0l1 61l1-61l1 61l1-61l1 0l1-61l1 61l1-61l1 61l1 61l1 0l1-61l1 61l1-61l1 61l1 0l1-183l1 183l1-61l1 61l1 0l1-61l1 0l1 61l1-61l1 61l1-61l1 61l1 0l1 0l1 0l1 0l1-61l1 61l1-61l1 61l1 0l1-61l1 0l1 61l1-61l1 61l1 0l1 0l1-61l1 0l1-214l1 214l1-61l1 122l1-61l1 61l1 0l1 0l1-61l1 0l1 61l1-61l1 0l1-61l1 122l1 0l1-61l1-61l1 61l1 61l1-122l1 61l1 61l1 0l1 0l1 0l1-61l1 61l1-61l1 0l1 61l1-61l1 61l1-122l1 61l1 0l1 61l1-61l1 61l1 0l1 0l1 0l1-61l1 61l1 0l1-61l1 61l1 0l1-122l1 122l1-61l1 61l1-183l1 183l1-122l1 61l1 61l1 0l1 0l1-61l1 0l1 0l1 61l1 0l1 0l1 0l1 0l1 0l1 0l1 0l1-122l1 122l1 0l1 0l1 0l1-122l1 61l1 0l1 61l1 0l1 0l1 0l1 0l1-61l1 61l1 0l1 0l1-183l1 183l1 0l1-61l1-61l1 122l1-61l1 61l1-61l1 61l1-61l1 61l1 0l1 0l1 0l1-61l1 61l1-61l1 0l1 0l1 61l1 0l1-61l1 61l1 0l1 0l1 0l1-183l1 183l1 0l1 0l1 0l1 0l1 0l1 0l1 0l1 0l1 0l1-122l1 122l1-61l1 61l1-122l1 122l1 0l1-61l1 61l1-61l1-244l1 305l1-61l1 61l1 0l1-183l1 61l1 122l1-61l1 61l1 0l1-61l1 61l1 0l1 0l1 0l1-61l1-122l1 183l1 0l1-183l1 183l1-122l1 0l1 122l1-61l1 61l1-61l1-122l1 183l1-61l1 61l1-61l1-61l1 122l1 0l1-61l1 61l1-122l1 122l1-122l1 0l1 61l1-61l1 61l1 61l1 0l1 0l1 0l1-61l1 0l1 61l1-122l1 0l1 122l1 0l1 0l1 0l1 0l1 0l1 0l1-61l1-61l1 122l1-61l1-122" fill="none" stroke="#f08a8a" stroke-width="4.0" vector-effect="non-scaling-stroke" stroke-linejoin="round" stroke-linecap="round"/>
<path transform="translate(1773.90 1937.10) scale(0.38375 0.5)" d="M0-52l4 17l4 11l4 5l4 15l4 3l4-4l4-8l4 2l4 8l4-5l4-18l4 6l4 2l4-28l4-8l4 22l4 9l4-15l4-1l4-3l4 0l4 6l4-17l4 8l4 13l4 9l4 5l4-9l4-7l4 9l4 7l4 17l4-4l4-35l4-18l4 24l4 21l4 12l4 0l4-17l4-22l4 3l4 18l4 13l4 0l4-4l4-32l4-27l4 17l4 32l4-5l4-19l4-2l4-1l4 20l4 15l4 0l4-12l4-28l4 8l4 14l4-25l4-22l4 9l4-7l4 15l4 33l4 14l4-11l4 0l4 7l4 3l4-8l4-3l4-11l4-5l4 11l4 3l4-12l4-4l4 14l4 9l4-36l4-41l4-61l4-32l4 45l4 22l4 26l4-3l4 11l4-4l4-18l4-34l4-55l4-36l4 45l4 58l4 59l4 19l4-10l4-70l4-85l4-49l4 43l4 69l4 53l4 39l4 11l4-34l4 0l4-12l4-40l4 3l4-5l4 24l4 36l4 44l4 14l4 11l4 10l4 2l4 0l4-1l4-17l4-9l4 7l4-9l4-2l4 7l4-17l4-45l4 9l4 29l4 15l4-7l4-25l4 16l4 8l4-9l4 22l4 3l4-1l4 7l4 11l4 6l4-8l4-5l4-2l4-17l4 9l4 4l4-14l4-6l4 8l4 20l4-7l4-12l4 10l4 18l4-6l4-18l4-15l4 14l4 14l4 15l4-1l4-13l4-6l4 15l4-7l4-18l4 1l4 16l4 6l4-11l4 5l4 1l4 6l4 6l4-11l4-15l4-15l4-17l4 10l4 26l4 9l4-28l4-15l4 8l4 6l4 9l4-7l4-16l4 26l4 6l4-3l4 21l4-22l4-24" fill="none" stroke="#e31a1c" stroke-width="3.6" vector-effect="non-scaling-stroke" stroke-linejoin="round"/>
<path transform="translate(1773.90 1937.10) scale(0.38375 0.5)" d="M0-41l2 2l2 1l2 1l2-3l2 0l2 1l2-3l2 2l2 2l2 0l2 1l2 0l2-1l2 0l2 1l2-3l2 0l2 1l2 0l2 1l2-1l2-1l2-1l2 0l2 2l2-2l2 1l2 0l2-2l2 1l2 4l2 2l2-4l2-1l2-1l2 2l2 1l2-3l2 4l2-4l2 1l2 3l2 1l2-4l2 3l2 0l2-3l2 1l2 1l2-2l2 1l2 1l2 1l2-1l2-2l2 1l2 0l2-2l2 4l2-3l2 0l2 1l2 0l2 1l2-1l2 2l2 0l2-1l2-4l2 2l2 1l2-1l2 2l2 0l2 1l2-2l2 4l2-4l2 1l2 0l2-2l2 0l2 2l2 0l2-2l2-1l2 5l2-2l2 0l2 0l2-3l2 2l2-2l2 1l2-2l2 3l2-2l2-1l2 0l2 5l2-1l2-4l2 3l2 1l2-3l2 3l2 1l2-2l2-1l2 6l2-3l2-2l2 0l2 0l2 1l2-4l2 4l2-1l2-4l2 0l2 8l2-2l2-2l2 0l2-2l2 2l2-1l2 2l2 2l2-6l2 0l2 1l2 1l2 0l2 0l2-3l2 4l2-1l2-3l2 1l2 5l2-4l2 4l2 0l2-1l2-2l2 4l2-2l2-2l2 0l2-2l2 3l2-2l2 0l2 0l2 1l2 4l2-4l2 2l2 0l2-2l2 2l2 2l2 0l2-4l2-1l2 0l2 2l2-3l2 0l2 3l2 1l2 0l2 0l2-2l2 3l2 0l2-2l2 0l2 1l2-1l2-2l2 1l2-3l2 3l2 2l2-1l2 1l2 1l2 0l2 1l2-2l2-4l2 2l2 0l2 2l2-1l2 10l2 16l2 7l2-8l2-11l2-10l2-4l2 2l2-2l2 1l2 0l2 0l2-2l2 0l2 1l2 0l2 1l2-2l2-1l2-2l2 6l2-4l2 2l2 2l2-2l2 4l2-4l2-3l2 6l2 1l2-2l2 1l2-1l2-1l2-1l2 0l2 1l2 3l2-5l2 2l2 1l2 2l2-7l2 4l2-3l2 1l2-2l2 2l2 1l2 0l2 5l2-4l2 4l2-7l2 1l2-2l2 2l2 2l2-2l2 0l2 2l2 0l2-3l2 0l2 5l2-4l2-2l2-1l2-1l2 3l2-2l2 1l2 0l2 1l2 2l2 3l2-5l2 0l2 2l2 0l2-2l2 1l2 1l2-1l2-1l2 4l2-1l2-1l2-2l2 2l2 1l2-2l2-2l2 5l2-2l2 1l2-2l2 3l2-2l2 1l2 1l2-3l2 3l2 0l2-2l2-1l2 2l2-1l2-3l2 4l2-3l2 0l2 4l2 0l2-3l2 4l2-1l2 1l2-1l2-1l2 0l2-1l2 0l2-2l2 2l2 2l2-2l2-1l2 1l2-2l2 4l2-1l2-3l2 0l2-1l2 1l2 0l2 2l2 2l2 0l2-2l2 0l2-1l2 0l2 0l2 1l2-1l2 1l2 3l2-3l2 0l2 0l2-1l2-1l2-2l2 3l2-1l2 2l2 1l2 2l2-1l2-2l2-1l2 3l2-3l2 1l2 1l2 2l2-4l2 2l2-2l2-2l2-1l2 3l2 1l2-2l2 2l2-1l2 0l2 1l2-1l2-1l2 3l2-1l2 1l2-1l2 0l2 1l2-2l2 2l2 1l2-1l2-4l2 3l2 0l2-1l2 2l2-4l2 0l2 5l2 0l2-4l2 4" fill="none" stroke="#808080" stroke-width="5.0" vector-effect="non-scaling-stroke" stroke-linejoin="round"/>
<path transform="translate(1773.90 1937.10) scale(0.38375 0.5)" d="M0-40l3 0l3 1l3 0l3 1l3 0l3-1l3 0l3 0l3 0l3 0l3 0l3 0l3 0l3 1l3 0l3 0l3-1l3 0l3 0l3 0l3 0l3 0l3 1l3-1l3 0l3 0l3 0l3 0l3 0l3 0l3 0l3 0l3-1l3 1l3 0l3 1l3-1l3 0l3 0l3 0l3 0l3 0l3 0l3 0l3 0l3 0l3 1l3-1l3 0l3 0l3 0l3 0l3 0l3 0l3 0l3 1l3 0l3 0l3 0l3 0l3 0l3 0l3-1l3 0l3 0l3-1l3 0l3 0l3 1l3 0l3 0l3 1l3 0l3 0l3 0l3 0l3-1l3 0l3 0l3 0l3 1l3 0l3 0l3 0l3 0l3 0l3-1l3 0l3 0l3 0l3 1l3 0l3 0l3 0l3 0l3 0l3 0l3-1l3 0l3 0l3 0l3 0l3 0l3 0l3 0l3 0l3 0l3 0l3 0l3 0l3 0l3 0l3 0l3 0l3 0l3 1l3 0l3 0l3 0l3 0l3-1l3 0l3 0l3 0l3 0l3 0l3 0l3 0l3 0l3 0l3 2l3 3l3 2l3 0l3-3l3-3l3 0l3 0l3-1l3 0l3 1l3 0l3 0l3-1l3 0l3 0l3 0l3 0l3 0l3 0l3 0l3 1l3 0l3-1l3 0l3 0l3 0l3 0l3 0l3 0l3 0l3 0l3 0l3-1l3 0l3 0l3 1l3 0l3 0l3 0l3 0l3 0l3 0l3 0l3 0l3 1l3 0l3 0l3-1l3 0l3 0l3 0l3 0l3 0l3 0l3-1l3 0l3 0l3 0l3 1l3 0l3 0l3 1l3 0l3 0l3 0l3 0l3-1l3 0l3 0l3 0l3 0l3 0l3 0l3-1l3 0l3 1l3 1l3 0l3-1l3 0l3 0l3-1l3 0l3 0l3 0l3 0l3 0l3 1l3 0l3 0l3 0l3 0l3 0l3 0l3 0l3 0l3 0l3 0l3-1l3 0l3 0l3 1l3 0l3 0l3 0l3 0l3 0l3 0l3 0l3 1l3 0l3 0l3 0l3 0l3-1l3 0l3 0l3 0l3 1l3-1l3 0l3 0l3 0l3 0l3 0l3 1l3 0l3 0l3-1l3 0l3 1l3 0l3 0l3 0l3 0" fill="none" stroke="#000000" stroke-width="3.5" vector-effect="non-scaling-stroke" stroke-linejoin="round"/>
</g>
<rect x="1914.93" y="1932.60" width="24.94" height="9.50" fill="#ff0099"/>
<path d="M1812.28 1683.30v8.3M1812.28 1937.10v-8.3M1850.65 1683.30v16.8M1850.65 1937.10v-16.8M1889.03 1683.30v8.3M1889.03 1937.10v-8.3M1927.40 1683.30v16.8M1927.40 1937.10v-16.8M1965.78 1683.30v8.3M1965.78 1937.10v-8.3M2004.15 1683.30v16.8M2004.15 1937.10v-16.8M2042.53 1683.30v8.3M2042.53 1937.10v-8.3M1773.90 1935.50h16.5M2080.90 1935.50h-16.5M1773.90 1793.71h16.5M2080.90 1793.71h-16.5" stroke="#000" stroke-width="2" fill="none"/>
<rect x="1773.90" y="1683.30" width="307.00" height="253.80" fill="none" stroke="#000" stroke-width="3.1"/>
<text x="1757.60" y="1943.60" class="tl" text-anchor="end">0.000</text>
<text x="1757.60" y="1800.21" class="tl" text-anchor="end">0.005</text>
<text x="1928.40" y="1662.95" class="tt" text-anchor="middle">NFYB (n = 1,205)</text>
<text x="1773.90" y="1971.20" class="tl" text-anchor="middle">-400</text>
<text x="1850.65" y="1971.20" class="tl" text-anchor="middle">-200</text>
<text x="1927.40" y="1971.20" class="tl" text-anchor="middle">0</text>
<text x="2004.15" y="1971.20" class="tl" text-anchor="middle">200</text>
<text x="2080.90" y="1971.20" class="tl" text-anchor="middle">400</text>
<clipPath id="c30"><rect x="113.25" y="2011.55" width="307.00" height="253.80"/></clipPath>
<g clip-path="url(#c30)">
<path transform="translate(113.25 2265.35) scale(0.38375 0.5)" d="M0 0l1-64l1 64l1 0l1-64l1 0l1 64l1 0l1-64l1 0l1 0l1 0l1 0l1 0l1 64l1-64l1 64l1 0l1 0l1-64l1 64l1-64l1 0l1 64l1-64l1-63l1 127l1 0l1-64l1 0l1 64l1 0l1-191l1 191l1 0l1-127l1 63l1 64l1 0l1-64l1-63l1 127l1-64l1 64l1 0l1-127l1 127l1-64l1 0l1 64l1-64l1 64l1 0l1-127l1 127l1-191l1 127l1 0l1 64l1 0l1-127l1 127l1 0l1 0l1 0l1-64l1 0l1 0l1 0l1 0l1 0l1 64l1 0l1-64l1 64l1-64l1 64l1 0l1 0l1-127l1 63l1 0l1 64l1 0l1 0l1-64l1 64l1-127l1 63l1 64l1-191l1 127l1 64l1-64l1 64l1 0l1-64l1 64l1 0l1-64l1 64l1 0l1 0l1-64l1 64l1 0l1 0l1 0l1 0l1-64l1 0l1-127l1 191l1-127l1 127l1 0l1 0l1-64l1-63l1 63l1 64l1 0l1 0l1 0l1-64l1 64l1-64l1-63l1 127l1 0l1 0l1 0l1 0l1-127l1 127l1 0l1-64l1 64l1 0l1 0l1-64l1-63l1 127l1 0l1-64l1 64l1-64l1 64l1 0l1 0l1-191l1 191l1 0l1-64l1 64l1-64l1 0l1 64l1-64l1-63l1-62l1 189l1 0l1 0l1 0l1-64l1 0l1 64l1-64l1 64l1 0l1 0l1 0l1 0l1 0l1-64l1-63l1 127l1-127l1 0l1 127l1 0l1 0l1 0l1 0l1 0l1 0l1 0l1 0l1 0l1 0l1 0l1-64l1 0l1-127l1 191l1 0l1-64l1 64l1-64l1-63l1 127l1-64l1-63l1 127l1 0l1 0l1 0l1 0l1 0l1-64l1 0l1 64l1-127l1 63l1 64l1 0l1 0l1 0l1 0l1 0l1 0l1 0l1 0l1-254l1 190l1 64l1 0l1-64l1 64l1-64l1 64l1 0l1-191l1 127l1 64l1-64l1-63l1 63l1 64l1-64l1 64l1 0l1 0l1 0l1-127l1 127l1 0l1-127l1 63l1 0l1 0l1 64l1-64l1-63l1 63l1-63l1 127l1 0l1 0l1 0l1 0l1-64l1 0l1-63l1 127l1 0l1 0l1-64l1 64l1 0l1 0l1-64l1 64l1 0l1 0l1 0l1-64l1 0l1 0l1 0l1 0l1 64l1 0l1 0l1-64l1-63l1 127l1 0l1 0l1 0l1-254l1 127l1 63l1 0l1 0l1 64l1 0l1-64l1 64l1-189l1 189l1-127l1 127l1-64l1-63l1 127l1 0l1-64l1 64l1 0l1 0l1 0l1 0l1-64l1 64l1 0l1 0l1 0l1 0l1 0l1-64l1 0l1 64l1 0l1 0l1 0l1 0l1-64l1 0l1-194l1 258l1 0l1-64l1-63l1 127l1 0l1-191l1 127l1 0l1 64l1-127l1-64l1 191l1-64l1-63l1 63l1-63l1 127l1-64l1 64l1-254l1 190l1 0l1 0l1-127l1-63l1 127l1 63l1 64l1-358l1 231l1-127l1 190l1 0l1 64l1 0l1-64l1 64l1-127l1-160l1 96l1 64l1 63l1 64l1-64l1 0l1-63l1 0l1 127l1 0l1-127l1 0l1 127l1-127l1-177l1 304l1-191l1-63l1 63l1 127l1 0l1-127l1 191l1-254l1-67l1 194l1 63l1-254l1 0l1-129l1 256l1 64l1 63l1 0l1-63l1 0l1 63l1-127l1 127l1 0l1-127l1-124l1 61l1 127l1 127l1-254l1 127l1 0l1 127l1-127l1 0l1 0l1 127l1-191l1-67l1 194l1 0l1 64l1-127l1 63l1 0l1-127l1 127l1 64l1-64l1 0l1 64l1 0l1-64l1 64l1-64l1 64l1 0l1-127l1 127l1-64l1 0l1-63l1 127l1 0l1-64l1 64l1-64l1-63l1 0l1 127l1 0l1 0l1-64l1-137l1 10l1 191l1-127l1 63l1-63l1 63l1 64l1-64l1 0l1 0l1 64l1-64l1-63l1 63l1 64l1 0l1-64l1 64l1-64l1 64l1-191l1 191l1 0l1 0l1 0l1-64l1 64l1-127l1 127l1 0l1-127l1 127l1 0l1 0l1-64l1 64l1-127l1 63l1 64l1-64l1 64l1 0l1 0l1-64l1 0l1 64l1 0l1 0l1 0l1 0l1 0l1 0l1-64l1 64l1-64l1 64l1 0l1-64l1 64l1 0l1-127l1 63l1 0l1-63l1 127l1-64l1 64l1 0l1 0l1 0l1 0l1-64l1 0l1 0l1 64l1 0l1-64l1-63l1 63l1 0l1 0l1 0l1 64l1 0l1 0l1-64l1-63l1 127l1 0l1-127l1 127l1 0l1-64l1 64l1 0l1-64l1 64l1 0l1 0l1 0l1-64l1 0l1 0l1 64l1 0l1 0l1 0l1-127l1 127l1-254l1 254l1 0l1 0l1-127l1 63l1 0l1 64l1-64l1 64l1-254l1 254l1-127l1 127l1-64l1 64l1 0l1-64l1 64l1 0l1 0l1-127l1 127l1 0l1-64l1 64l1 0l1 0l1 0l1 0l1 0l1-64l1 64l1-191l1 191l1 0l1-64l1 64l1 0l1 0l1-64l1 0l1 64l1 0l1 0l1-64l1 0l1 64l1 0l1 0l1 0l1-64l1 0l1 0l1 0l1 0l1 0l1 0l1 64l1 0l1 0l1 0l1 0l1 0l1-64l1 64l1-64l1 0l1 64l1 0l1-127l1 127l1 0l1-64l1 64l1 0l1 0l1 0l1 0l1-64l1 64l1 0l1 0l1-64l1 0l1 64l1 0l1-64l1-63l1 127l1-64l1 0l1 0l1-127l1 64l1 127l1-127l1 0l1 63l1 0l1 64l1-64l1 64l1 0l1 0l1 0l1 0l1 0l1 0l1-64l1 64l1-191l1 127l1 0l1 0l1 0l1 64l1 0l1 0l1 0l1 0l1 0l1 0l1 0l1-127l1 63l1 64l1-191l1 191l1-64l1-125l1 62l1 127l1-64l1 0l1 64l1 0l1 0l1 0l1 0l1-127l1 127l1 0l1 0l1 0l1 0l1 0l1-127l1 63l1 64l1-127l1 63l1 0l1 64l1-64l1 0l1 0l1 64l1 0l1 0l1 0l1 0l1-127l1 127l1 0l1 0l1-64l1 64l1 0l1 0l1 0l1 0l1 0l1-64l1 0l1 64l1 0l1-64l1 0l1 64l1-64l1 64l1 0l1-64l1-127l1 191l1-127l1 63l1 0l1 64l1 0l1-127l1 63l1 64l1 0l1 0l1-64l1 64l1 0l1-127l1 127l1-64l1 64l1 0l1-64l1 64l1-64l1 0l1 64l1 0l1-64l1 0l1 64l1 0l1-64l1 0l1 0l1 64l1 0l1-64l1 64l1-64l1 64l1-64l1 0l1 64l1-127l1 127l1 0l1 0l1 0" fill="none" stroke="#f08a8a" stroke-width="4.0" vector-effect="non-scaling-stroke" stroke-linejoin="round" stroke-linecap="round"/>
<path transform="translate(113.25 2265.35) scale(0.38375 0.5)" d="M0-22l4-4l4-12l4-2l4 16l4-4l4-11l4 1l4-6l4 1l4 4l4 3l4 1l4-10l4-8l4 22l4 2l4-11l4 12l4 3l4-8l4 0l4-19l4 9l4 24l4 7l4 2l4-21l4-20l4 12l4 11l4 3l4 0l4 5l4-1l4-7l4 1l4-2l4-6l4-1l4 9l4 9l4 2l4 1l4-28l4 10l4 31l4-1l4-31l4-11l4 0l4 17l4 11l4-15l4 17l4 2l4-28l4 5l4-10l4-7l4 22l4 4l4-20l4-9l4 12l4 19l4-5l4 13l4 6l4-13l4-12l4 5l4-15l4-22l4 28l4 12l4-10l4 17l4 14l4 1l4-6l4-1l4-6l4-15l4-25l4-16l4-3l4 0l4-29l4-36l4-8l4 52l4 26l4-10l4 11l4-2l4-30l4-40l4-11l4-39l4-16l4 59l4 11l4-20l4 15l4 20l4-4l4 26l4 25l4 33l4 14l4-10l4-6l4-1l4-6l4-18l4-3l4 20l4 7l4 10l4 1l4 9l4-4l4 2l4-4l4 6l4 11l4 11l4-4l4-11l4-19l4-5l4 26l4-6l4-18l4-5l4 14l4-1l4 10l4 11l4-5l4-7l4-19l4-8l4 1l4-8l4 22l4 18l4 1l4 10l4-11l4-12l4 12l4 1l4 1l4-9l4-16l4 20l4 12l4-14l4-1l4 14l4 4l4-11l4-18l4-27l4-19l4 23l4 41l4 8l4-33l4 1l4 32l4-10l4-29l4 4l4 19l4 12l4 1l4-16l4-20l4 11l4 20l4 3l4 6l4 3l4-14l4-8l4-16l4-13l4 17l4 16l4-1l4 0l4 0l4-1l4-3l4 3l4-4l4 5l4 14" fill="none" stroke="#e31a1c" stroke-width="3.6" vector-effect="non-scaling-stroke" stroke-linejoin="round"/>
<path transform="translate(113.25 2265.35) scale(0.38375 0.5)" d="M0-38l2-1l2 5l2-1l2-1l2 1l2-1l2-1l2-2l2 4l2-2l2 1l2 1l2 0l2-2l2 1l2-1l2 3l2-2l2 1l2 2l2-7l2 5l2 2l2 1l2-5l2 0l2 2l2-4l2 0l2 0l2 4l2-2l2 1l2 1l2-1l2 2l2-1l2-2l2-1l2 4l2 1l2-1l2-1l2 1l2-5l2 2l2 0l2-4l2 4l2 2l2-2l2 2l2 0l2-3l2 5l2-5l2 1l2 0l2 2l2 0l2 0l2-1l2 0l2 1l2-1l2-1l2 1l2 0l2 1l2 0l2 1l2-3l2 2l2-2l2 2l2 2l2-3l2 4l2-5l2 1l2 0l2-1l2 1l2 1l2-4l2 3l2 0l2 0l2 0l2 0l2 0l2 2l2-1l2-2l2 1l2 1l2-2l2-1l2 3l2 0l2-1l2 2l2-3l2 0l2 2l2-2l2 1l2-1l2-4l2 5l2 0l2-1l2 0l2-3l2 2l2 0l2 1l2 3l2-3l2 1l2-1l2 3l2-4l2 3l2 0l2 0l2-2l2-3l2 4l2 2l2 0l2 0l2-1l2 0l2 0l2-2l2 1l2 0l2 1l2 2l2-1l2-3l2-3l2 1l2 1l2-1l2 3l2 0l2 3l2-4l2 1l2-1l2 0l2-1l2 7l2-5l2-2l2-1l2 0l2 5l2 0l2-2l2 3l2-3l2 0l2 2l2-5l2 1l2 0l2 3l2-1l2 0l2 1l2-4l2 1l2 1l2 1l2 1l2 2l2-1l2-3l2 1l2-3l2 2l2-2l2 1l2 0l2 1l2 2l2-1l2-5l2 5l2 0l2 1l2-1l2-2l2-4l2-25l2-37l2-11l2 15l2 29l2 22l2 11l2 2l2 1l2 2l2-3l2 0l2 0l2 0l2-1l2 1l2-1l2 0l2-1l2 2l2-2l2 1l2 3l2-3l2 1l2 2l2 0l2-3l2-1l2 2l2 0l2 2l2 0l2-3l2 0l2 0l2 4l2-4l2 2l2-2l2-2l2 5l2-1l2-1l2 2l2-3l2 5l2-6l2-2l2 5l2-1l2-2l2 2l2 0l2 4l2-2l2 1l2 0l2-4l2 0l2 2l2-2l2 2l2-1l2 3l2-2l2-2l2-1l2 1l2 2l2-1l2-1l2 1l2 0l2-3l2 1l2 1l2 0l2 3l2-6l2 3l2 3l2-2l2-1l2 2l2-1l2 2l2-3l2-5l2 5l2 3l2-2l2-2l2 0l2 1l2-1l2 3l2-4l2 5l2-2l2 4l2-2l2-1l2-2l2 0l2 1l2 1l2-3l2 2l2-1l2 1l2 0l2 1l2-3l2-1l2 4l2-2l2-2l2 1l2 2l2 0l2-1l2-3l2 3l2 0l2 1l2-2l2 3l2-2l2-1l2 1l2 2l2-3l2 1l2-3l2 3l2-1l2-1l2 4l2-1l2 1l2-3l2 0l2 1l2-1l2 1l2 2l2-2l2 0l2 2l2-1l2-1l2 1l2 3l2-5l2 1l2 1l2-1l2 1l2 1l2-2l2-4l2 5l2 1l2-3l2 3l2 3l2-3l2-3l2 1l2 3l2 0l2-2l2-1l2 3l2-2l2-1l2 0l2 2l2-1l2 1l2 1l2-1l2 1l2 1l2-4l2 2l2-5l2 4l2-1l2 0l2 2l2-2l2 0l2 4l2-3l2-3l2 2l2 2l2-2l2-1l2 5l2-2" fill="none" stroke="#808080" stroke-width="5.0" vector-effect="non-scaling-stroke" stroke-linejoin="round"/>
<path transform="translate(113.25 2265.35) scale(0.38375 0.5)" d="M0-38l3 0l3 0l3 1l3 1l3 0l3 0l3 0l3 0l3 0l3 1l3 0l3-1l3 0l3 0l3 0l3 0l3 1l3 0l3 0l3 0l3 0l3-1l3 0l3 0l3-1l3 0l3 0l3-1l3 1l3 0l3 1l3 0l3 1l3 0l3 0l3 0l3 0l3-1l3 0l3 0l3 0l3 0l3 1l3 0l3-1l3 0l3 0l3 0l3 0l3 0l3 0l3 0l3 0l3 0l3 1l3-1l3 0l3-1l3-1l3 1l3 1l3 0l3 0l3 0l3 0l3 1l3-1l3 0l3 0l3 0l3 1l3 0l3 0l3 0l3-1l3 0l3 0l3 1l3 0l3 0l3-1l3 0l3 0l3-1l3 0l3 0l3 0l3 1l3 0l3 0l3 0l3-1l3 0l3 0l3 0l3 0l3 1l3 0l3 0l3-1l3 1l3 0l3 1l3 0l3 0l3 0l3 0l3 0l3 0l3-1l3 0l3 0l3 0l3-1l3 1l3 0l3 0l3 0l3-1l3 0l3 0l3 0l3 0l3 0l3 1l3 0l3 0l3 0l3 0l3-2l3-7l3-16l3-14l3 3l3 17l3 13l3 5l3 0l3 0l3 1l3 0l3 0l3 0l3 0l3 0l3 0l3 0l3 0l3 0l3 0l3 0l3 0l3 0l3-1l3 1l3-1l3 0l3 0l3 1l3 0l3 0l3 0l3-1l3 0l3 0l3 0l3 1l3 0l3 1l3 0l3-1l3 0l3 0l3-1l3 1l3 0l3 0l3 0l3-1l3 0l3-1l3 0l3 1l3 0l3 0l3 0l3 1l3 0l3 0l3 1l3-1l3 0l3 0l3 0l3 0l3 0l3 0l3 0l3 0l3 0l3 0l3 1l3-1l3 0l3 0l3 0l3 0l3 0l3 0l3 1l3 0l3 0l3 0l3-1l3 0l3 0l3 0l3 0l3 0l3-1l3 0l3 0l3 0l3 1l3 0l3 0l3 1l3 0l3 0l3-1l3 0l3 0l3 0l3 0l3 0l3 0l3-1l3 1l3 0l3 1l3 0l3-1l3 0l3 0l3 0l3 0l3 0l3 0l3 0l3 0l3 0l3 0l3 0l3-1l3 0l3 1l3 0l3 0l3 0l3 0l3 0l3 0l3 0l3 0l3 1l3 0" fill="none" stroke="#000000" stroke-width="3.5" vector-effect="non-scaling-stroke" stroke-linejoin="round"/>
<rect x="254.28" y="2256.35" width="24.94" height="9.00" fill="#ff0099"/>
</g>
<path d="M151.62 2011.55v8.3M151.62 2265.35v-8.3M190.00 2011.55v16.8M190.00 2265.35v-16.8M228.38 2011.55v8.3M228.38 2265.35v-8.3M266.75 2011.55v16.8M266.75 2265.35v-16.8M305.12 2011.55v8.3M305.12 2265.35v-8.3M343.50 2011.55v16.8M343.50 2265.35v-16.8M381.88 2011.55v8.3M381.88 2265.35v-8.3M113.25 2263.75h16.5M420.25 2263.75h-16.5M113.25 2121.96h16.5M420.25 2121.96h-16.5" stroke="#000" stroke-width="2" fill="none"/>
<rect x="113.25" y="2011.55" width="307.00" height="253.80" fill="none" stroke="#000" stroke-width="3.1"/>
<text x="96.95" y="2271.85" class="tl" text-anchor="end">0.000</text>
<text x="96.95" y="2128.46" class="tl" text-anchor="end">0.005</text>
<text x="267.75" y="1991.20" class="tt" text-anchor="middle">CCNT2 (n = 1,155)</text>
<text x="113.25" y="2299.45" class="tl" text-anchor="middle">-400</text>
<text x="190.00" y="2299.45" class="tl" text-anchor="middle">-200</text>
<text x="266.75" y="2299.45" class="tl" text-anchor="middle">0</text>
<text x="343.50" y="2299.45" class="tl" text-anchor="middle">200</text>
<text x="420.25" y="2299.45" class="tl" text-anchor="middle">400</text>
<clipPath id="c31"><rect x="528.25" y="2011.55" width="307.00" height="253.80"/></clipPath>
<g clip-path="url(#c31)">
<path transform="translate(528.25 2265.35) scale(0.38375 0.5)" d="M0 0l1-72l1 72l1-72l1 72l1 0l1 0l1 0l1 0l1 0l1 0l1-72l1 72l1 0l1-72l1 72l1-72l1 72l1 0l1 0l1-72l1-72l1 72l1 72l1 0l1-72l1 0l1-72l1 72l1 72l1 0l1-72l1 72l1 0l1 0l1 0l1-72l1 72l1 0l1 0l1-72l1 72l1 0l1 0l1-72l1 72l1 0l1 0l1 0l1 0l1-72l1 72l1 0l1-72l1 72l1 0l1-72l1 72l1-72l1 72l1 0l1 0l1-72l1 72l1-72l1 0l1 0l1 72l1 0l1 0l1-72l1 72l1-144l1 144l1 0l1-72l1 72l1 0l1 0l1 0l1 0l1 0l1 0l1 0l1-144l1 72l1-72l1 144l1-72l1 0l1 72l1 0l1 0l1 0l1 0l1-72l1 72l1 0l1 0l1 0l1 0l1 0l1 0l1 0l1 0l1-72l1 72l1-72l1 72l1 0l1 0l1 0l1-72l1 0l1 0l1 72l1 0l1 0l1-72l1 72l1 0l1 0l1 0l1 0l1 0l1 0l1 0l1 0l1 0l1 0l1-72l1 0l1 72l1-72l1 0l1 0l1 72l1 0l1 0l1-72l1 72l1 0l1-72l1 72l1-72l1 0l1 72l1 0l1 0l1 0l1 0l1 0l1 0l1 0l1 0l1-72l1 72l1 0l1-144l1 0l1 72l1 72l1-72l1 72l1 0l1 0l1 0l1-72l1 0l1 0l1 72l1-72l1 0l1 72l1-72l1 72l1 0l1-72l1 72l1-72l1 0l1 0l1 72l1-72l1 72l1 0l1 0l1 0l1 0l1-72l1 0l1-144l1 216l1-72l1 72l1-144l1 72l1 0l1 72l1 0l1 0l1-72l1 72l1 0l1 0l1-72l1 72l1 0l1 0l1 0l1 0l1 0l1 0l1 0l1 0l1 0l1 0l1 0l1 0l1 0l1 0l1 0l1-72l1 72l1-72l1 72l1 0l1-144l1 144l1 0l1 0l1-144l1 144l1 0l1 0l1 0l1-144l1 144l1 0l1 0l1-72l1 72l1 0l1 0l1 0l1-72l1 72l1 0l1-216l1 216l1-72l1 72l1 0l1 0l1-72l1 72l1 0l1-72l1 72l1-72l1 0l1 72l1-72l1 0l1-72l1 144l1 0l1-72l1 72l1-144l1 72l1 72l1-72l1-72l1 144l1-72l1 72l1 0l1 0l1-72l1 0l1 0l1 72l1-144l1 144l1-72l1 0l1 72l1-144l1-144l1 216l1 72l1 0l1 0l1-144l1 144l1 0l1 0l1-144l1 72l1-150l1 150l1 0l1 0l1 0l1 0l1 0l1 0l1 0l1 72l1-72l1 72l1-72l1 0l1 0l1 72l1-72l1 0l1-72l1 144l1-216l1 72l1 72l1-72l1 72l1-72l1 72l1-72l1 0l1 72l1 72l1-144l1 72l1 72l1-144l1-72l1 144l1 72l1 0l1 0l1-241l1 169l1 0l1 0l1-144l1 0l1 216l1-144l1 144l1 0l1 0l1-72l1 72l1-144l1 144l1-288l1 216l1 0l1 0l1 0l1 72l1-288l1 288l1-216l1 72l1-180l1 324l1 0l1 0l1 0l1-144l1 144l1-144l1 72l1 0l1 0l1 72l1-72l1 0l1-216l1 288l1-72l1 0l1 0l1 72l1-419l1 203l1 216l1 0l1-144l1-142l1 142l1 144l1 0l1-288l1 288l1-360l1 288l1 0l1 72l1-216l1 216l1-72l1 0l1 72l1-144l1 0l1 144l1 0l1 0l1-216l1 216l1-72l1 72l1 0l1-260l1 260l1 0l1-216l1 0l1 144l1-144l1 0l1 144l1 0l1 0l1-144l1 0l1 216l1-72l1-72l1 144l1-144l1 0l1 72l1-72l1 0l1-72l1 216l1 0l1-72l1-216l1 216l1-72l1 72l1 0l1 0l1-72l1 144l1-216l1 216l1-216l1 144l1 72l1-144l1 144l1-144l1 72l1-288l1 216l1 72l1-216l1-17l1 305l1-144l1 72l1 72l1-298l1 226l1 72l1-72l1 0l1 72l1 0l1 0l1-470l1 470l1-72l1 72l1 0l1-216l1 144l1-216l1 288l1-216l1 144l1 0l1 72l1-144l1 144l1-216l1 216l1-72l1 72l1-72l1 0l1 0l1 72l1-144l1 72l1 72l1 0l1-216l1 144l1-72l1 144l1 0l1 0l1-72l1 0l1 72l1-72l1-72l1 144l1-72l1 0l1 72l1 0l1-72l1 72l1-72l1 0l1 72l1-72l1 0l1 0l1 0l1 72l1 0l1 0l1-228l1 228l1-72l1-72l1 72l1 0l1 72l1-72l1 0l1 72l1 0l1-72l1 0l1 0l1-72l1 72l1 72l1 0l1 0l1-72l1 0l1 72l1 0l1-72l1-72l1 0l1 72l1 0l1-72l1 144l1 0l1 0l1 0l1 0l1 0l1-72l1-72l1 144l1 0l1 0l1-72l1 0l1 0l1-72l1 72l1 0l1 72l1-72l1 0l1 72l1-216l1 216l1 0l1 0l1-216l1 144l1 0l1 72l1-72l1 0l1 72l1-72l1-72l1 144l1 0l1-72l1-72l1 144l1-144l1 144l1 0l1-216l1 144l1 72l1 0l1 0l1 0l1 0l1 0l1 0l1-72l1 72l1 0l1-72l1 0l1 72l1-216l1 216l1 0l1 0l1 0l1 0l1 0l1-72l1 72l1 0l1-72l1 72l1 0l1-72l1 72l1-72l1 72l1 0l1 0l1 0l1 0l1 0l1 0l1-72l1 0l1 72l1 0l1-72l1 72l1-72l1 72l1 0l1 0l1 0l1-72l1 72l1 0l1 0l1 0l1 0l1-72l1 72l1 0l1 0l1 0l1 0l1 0l1 0l1 0l1-72l1 72l1-144l1 144l1 0l1 0l1 0l1 0l1 0l1 0l1 0l1 0l1 0l1-72l1 0l1 0l1 72l1 0l1 0l1-72l1 0l1 72l1-72l1 72l1 0l1 0l1 0l1 0l1-72l1 0l1 72l1 0l1 0l1 0l1 0l1 0l1-72l1 72l1 0l1-144l1 144l1 0l1 0l1 0l1 0l1 0l1 0l1 0l1 0l1 0l1 0l1-72l1 72l1 0l1 0l1 0l1 0l1 0l1 0l1 0l1 0l1 0l1-72l1 72l1 0l1 0l1-72l1 72l1-72l1 72l1 0l1 0l1-72l1 72l1-72l1 72l1 0l1 0l1-72l1 72l1 0l1 0l1 0l1-144l1 144l1-72l1 72l1-72l1 72l1 0l1 0l1 0l1 0l1-72l1 72l1 0l1 0l1 0l1-72l1 72l1 0l1 0l1 0l1-72l1 0l1 72l1 0l1-144l1 72l1 72l1 0l1-72l1-72l1 144l1 0l1 0l1-72l1 0l1 72l1-72l1 72l1 0l1-72l1 72l1-72l1 0l1 72l1 0l1 0l1 0l1 0l1 0l1-144l1 144l1 0l1-144" fill="none" stroke="#f08a8a" stroke-width="4.0" vector-effect="non-scaling-stroke" stroke-linejoin="round" stroke-linecap="round"/>
<path transform="translate(528.25 2265.35) scale(0.38375 0.5)" d="M0-18l4 0l4 0l4 0l4 0l4 0l4 0l4 0l4 0l4 0l4 0l4 0l4 1l4 0l4 0l4 0l4 0l4 0l4 0l4 0l4 0l4 0l4 1l4 0l4 0l4 0l4 0l4 0l4 0l4 0l4 0l4 0l4 0l4-1l4 0l4-1l4 0l4-1l4 0l4-1l4 0l4-1l4 0l4 0l4 0l4 0l4 0l4 0l4 0l4 0l4 1l4 0l4 0l4 0l4 0l4-1l4 0l4-1l4-1l4-1l4-1l4-2l4-2l4-1l4-2l4-2l4-2l4-2l4-2l4-2l4-2l4-2l4-2l4-2l4-3l4-2l4-2l4-3l4-2l4-2l4-2l4-3l4-2l4-2l4-2l4-1l4-2l4-1l4-2l4-1l4-2l4-1l4-1l4-1l4-1l4-2l4-1l4-1l4-1l4-1l4-1l4-1l4-1l4-1l4 0l4-1l4 0l4 0l4 0l4 0l4 1l4 1l4 2l4 1l4 2l4 3l4 2l4 2l4 3l4 3l4 2l4 3l4 3l4 2l4 3l4 2l4 3l4 2l4 2l4 3l4 2l4 1l4 2l4 2l4 1l4 1l4 2l4 1l4 1l4 1l4 1l4 1l4 1l4 1l4 1l4 1l4 1l4 1l4 2l4 1l4 1l4 2l4 1l4 2l4 1l4 2l4 1l4 2l4 1l4 1l4 1l4 1l4 0l4 1l4 1l4 0l4 1l4 0l4 0l4 0l4 1l4 0l4 0l4 0l4 0l4 0l4 0l4 0l4 0l4 0l4 0l4-1l4 0l4-1l4 0l4-1l4-1l4 0l4-1l4-1l4-1l4 0l4-1l4 0l4-1l4 0l4-1l4 0l4 0l4-1l4 0" fill="none" stroke="#e31a1c" stroke-width="3.6" vector-effect="non-scaling-stroke" stroke-linejoin="round"/>
<path transform="translate(528.25 2265.35) scale(0.38375 0.5)" d="M0-29l2-2l2-1l2-3l2-1l2 2l2 0l2 6l2-2l2 0l2-1l2-5l2-1l2-2l2 4l2 6l2 0l2-2l2-3l2 0l2 2l2 4l2-4l2 2l2-3l2 0l2-4l2 3l2 1l2 4l2-3l2-1l2 3l2-4l2 2l2 2l2 0l2-4l2 5l2-2l2-3l2 3l2 0l2-1l2 1l2-2l2 1l2-1l2 2l2 1l2-4l2 1l2 2l2 4l2-1l2-1l2-2l2-3l2 2l2-2l2 0l2 2l2 1l2-2l2 2l2 3l2-2l2-2l2 1l2 0l2-1l2-3l2-3l2 3l2 5l2-2l2 4l2-1l2-2l2 1l2-6l2 3l2 1l2-1l2 3l2 0l2 3l2 0l2-3l2-3l2-3l2 0l2 5l2 0l2-4l2-1l2 3l2 2l2-1l2-2l2 1l2 1l2 1l2-1l2 4l2-2l2-7l2 3l2 2l2 2l2-4l2 2l2 1l2-1l2-2l2 1l2 5l2-3l2-1l2 0l2 1l2-4l2 3l2 2l2-1l2 1l2-2l2 2l2-1l2-1l2 2l2-1l2 1l2 1l2-3l2 2l2-2l2-3l2 1l2 2l2 2l2-2l2-3l2 2l2 1l2-2l2-2l2 3l2 0l2 4l2-4l2 2l2 1l2 1l2-5l2 2l2-1l2 4l2-6l2 3l2-4l2 6l2 2l2-7l2 5l2-3l2 0l2 2l2-1l2-2l2 3l2 0l2-2l2 0l2 0l2 2l2 1l2-2l2-1l2 4l2-5l2 1l2 1l2 0l2-3l2 2l2 1l2-1l2 8l2-4l2-2l2 4l2 1l2-2l2-1l2-1l2-4l2 2l2-7l2-4l2 0l2 0l2 7l2 4l2 1l2-3l2-2l2 0l2 4l2-3l2 5l2-3l2 0l2 4l2-1l2-2l2-2l2-1l2 4l2 0l2-2l2 0l2 2l2-2l2-5l2 7l2 0l2 0l2 0l2-1l2 1l2 4l2-5l2-3l2-1l2 4l2 2l2-2l2-3l2 1l2 6l2 0l2-4l2-2l2 4l2 2l2-2l2 1l2 1l2-6l2 5l2-6l2 3l2 1l2 0l2 0l2 0l2-1l2 2l2 1l2-4l2-3l2 3l2 1l2 0l2 0l2-1l2 2l2 2l2-2l2-2l2-3l2 1l2-2l2 10l2 0l2-6l2-2l2 4l2 2l2 1l2-2l2-1l2 1l2-3l2 2l2 0l2-3l2 5l2-1l2-2l2 1l2-2l2 5l2-1l2-4l2 2l2 0l2-1l2-2l2 1l2 0l2 1l2-1l2 1l2 1l2 3l2-3l2 0l2-1l2 0l2-2l2 3l2 3l2-3l2 0l2 2l2 2l2-5l2-2l2 3l2-1l2 1l2 0l2 0l2-1l2 0l2-1l2 4l2-3l2-3l2 6l2-2l2 0l2 0l2-1l2 0l2 2l2-1l2 0l2 2l2-3l2 2l2 0l2 0l2 0l2-2l2 0l2 0l2 3l2 0l2-2l2 2l2-5l2 3l2 0l2 0l2 3l2-3l2 1l2-2l2 2l2-4l2 7l2-5l2 1l2 0l2-1l2-6l2 6l2-3l2 3l2 2l2 0l2 3l2-4l2-2l2 6l2-2l2-4l2-1l2 0l2-2l2 4l2 0l2 2l2 1l2-4l2 0l2 4l2-3l2-2l2 2l2 3l2-2l2-2l2 2l2 2l2-5l2-1l2 0" fill="none" stroke="#808080" stroke-width="5.0" vector-effect="non-scaling-stroke" stroke-linejoin="round"/>
<path transform="translate(528.25 2265.35) scale(0.38375 0.5)" d="M0-33l3 0l3 0l3 1l3 0l3 1l3 0l3 0l3 0l3 0l3 0l3-1l3 0l3 0l3 0l3 0l3 0l3 0l3 0l3 0l3 0l3-1l3 0l3 1l3 0l3-1l3 1l3 0l3 0l3 0l3 0l3 0l3 0l3 0l3 0l3 1l3-1l3 0l3-1l3 0l3 0l3 1l3 0l3 0l3 1l3-1l3 0l3 1l3 0l3 0l3 0l3 0l3 0l3 0l3 0l3 0l3 1l3 0l3 0l3-1l3-1l3 0l3 0l3 0l3 0l3 1l3 0l3-1l3 0l3 0l3 0l3 0l3 0l3 0l3 0l3 0l3 0l3 0l3 0l3 1l3 0l3 0l3-1l3 0l3 0l3 0l3 0l3 0l3 0l3 0l3 0l3 0l3 0l3 0l3 1l3 0l3 0l3 0l3 0l3 0l3 0l3 0l3 0l3-1l3 0l3 1l3 0l3 0l3-1l3 0l3 0l3 0l3 0l3 0l3 0l3 0l3-1l3 0l3 1l3 0l3 0l3 0l3 0l3 1l3 0l3 0l3 0l3-1l3 0l3 0l3 0l3-1l3-1l3-1l3 0l3 1l3 2l3 0l3 1l3 0l3 1l3-1l3 0l3-1l3 0l3 0l3 0l3 0l3 0l3 0l3 1l3 0l3-1l3-1l3 0l3 1l3 1l3 0l3 0l3 0l3 0l3 0l3 0l3-1l3 0l3 0l3 1l3 0l3-1l3 0l3-1l3 0l3 0l3 1l3 0l3 0l3 1l3 0l3 0l3 0l3 0l3 0l3 1l3 0l3-1l3-1l3 0l3 0l3 0l3 1l3-1l3-1l3 0l3 0l3 0l3 0l3 1l3 1l3 0l3-1l3 0l3-1l3 1l3 0l3 0l3 0l3 0l3 0l3 1l3-1l3 0l3 0l3 0l3 0l3 1l3 0l3-1l3 0l3 0l3 0l3 0l3 0l3 0l3 0l3 0l3 0l3 1l3 0l3 0l3 0l3 0l3 0l3 0l3-1l3 0l3 0l3 0l3-1l3 0l3 0l3 1l3 0l3 1l3 0l3 0l3-1l3 0l3 0l3 0l3 0l3 0l3-1l3 0l3 1l3 0l3 0l3 0l3 0l3 0l3 0l3-1l3 0l3 0l3 0l3 1l3 0l3 0" fill="none" stroke="#000000" stroke-width="3.5" vector-effect="non-scaling-stroke" stroke-linejoin="round"/>
<rect x="669.28" y="2256.35" width="24.94" height="9.00" fill="#ff0099"/>
</g>
<path d="M566.62 2011.55v8.3M566.62 2265.35v-8.3M605.00 2011.55v16.8M605.00 2265.35v-16.8M643.38 2011.55v8.3M643.38 2265.35v-8.3M681.75 2011.55v16.8M681.75 2265.35v-16.8M720.12 2011.55v8.3M720.12 2265.35v-8.3M758.50 2011.55v16.8M758.50 2265.35v-16.8M796.88 2011.55v8.3M796.88 2265.35v-8.3M528.25 2263.75h16.5M835.25 2263.75h-16.5M528.25 2201.90h16.5M835.25 2201.90h-16.5M528.25 2138.45h16.5M835.25 2138.45h-16.5M528.25 2075.00h16.5M835.25 2075.00h-16.5" stroke="#000" stroke-width="2" fill="none"/>
<rect x="528.25" y="2011.55" width="307.00" height="253.80" fill="none" stroke="#000" stroke-width="3.1"/>
<text x="511.95" y="2271.85" class="tl" text-anchor="end">0.000</text>
<text x="511.95" y="2208.40" class="tl" text-anchor="end">0.002</text>
<text x="511.95" y="2144.95" class="tl" text-anchor="end">0.004</text>
<text x="511.95" y="2081.50" class="tl" text-anchor="end">0.006</text>
<text x="511.95" y="2018.05" class="tl" text-anchor="end">0.008</text>
<text x="682.75" y="1991.20" class="tt" text-anchor="middle">USF2 (n = 1,128)</text>
<text x="528.25" y="2299.45" class="tl" text-anchor="middle">-400</text>
<text x="605.00" y="2299.45" class="tl" text-anchor="middle">-200</text>
<text x="681.75" y="2299.45" class="tl" text-anchor="middle">0</text>
<text x="758.50" y="2299.45" class="tl" text-anchor="middle">200</text>
<text x="835.25" y="2299.45" class="tl" text-anchor="middle">400</text>
<clipPath id="c32"><rect x="943.35" y="2011.55" width="307.00" height="253.80"/></clipPath>
<g clip-path="url(#c32)">
<path transform="translate(943.35 2265.35) scale(0.38375 0.5)" d="M0 0l1-49l1 0l1 49l1-49l1-50l1 99l1 0l1-49l1 49l1 0l1-148l1 99l1 0l1 49l1 0l1-49l1-99l1 49l1 99l1 0l1-198l1 198l1-49l1 49l1 0l1-99l1 99l1-49l1 49l1 0l1 0l1 0l1 0l1-49l1 49l1 0l1 0l1 0l1 0l1-49l1 49l1-49l1 49l1 0l1 0l1-49l1 49l1-49l1 0l1 49l1 0l1 0l1 0l1-99l1 99l1 0l1-49l1-50l1 50l1 49l1-49l1 49l1-49l1 0l1-50l1 99l1 0l1 0l1-99l1-49l1 148l1-99l1 99l1 0l1 0l1 0l1-49l1 0l1 0l1 49l1 0l1-49l1 49l1-49l1 0l1 0l1 0l1 0l1-50l1 50l1 49l1-99l1 99l1-99l1 99l1-148l1 99l1 49l1-49l1 49l1-49l1 49l1-49l1 49l1 0l1 0l1 0l1-49l1-50l1 50l1 49l1 0l1-49l1 49l1 0l1-49l1-50l1 99l1-49l1 0l1 49l1 0l1 0l1 0l1 0l1-49l1 49l1 0l1-99l1 99l1-99l1 99l1-49l1 0l1 49l1 0l1 0l1-49l1 49l1 0l1 0l1 0l1 0l1 0l1 0l1-49l1-50l1 0l1 99l1-49l1 49l1-49l1 0l1 49l1 0l1-49l1 49l1 0l1 0l1-49l1 49l1 0l1-99l1 50l1 49l1-49l1 49l1-148l1 99l1 49l1-99l1 0l1 0l1 50l1 49l1 0l1 0l1-148l1 99l1 49l1-49l1 49l1 0l1 0l1 0l1-148l1 148l1-49l1 0l1 49l1 0l1 0l1 0l1 0l1-49l1 49l1-49l1 49l1-99l1 99l1-49l1 49l1 0l1 0l1-49l1 0l1-50l1 99l1 0l1 0l1 0l1-49l1 49l1 0l1 0l1-49l1 49l1 0l1-49l1 49l1 0l1 0l1-49l1 0l1 49l1-49l1 0l1 0l1 49l1 0l1-99l1 50l1 49l1-49l1 49l1-49l1 49l1-49l1 0l1 0l1-50l1 50l1 0l1 0l1 0l1 49l1-49l1 49l1 0l1-99l1 0l1 50l1-50l1 0l1 0l1-99l1 149l1 0l1 0l1-50l1 99l1 0l1 0l1 0l1 0l1-99l1 99l1-49l1 49l1 0l1-49l1 49l1-49l1 0l1 0l1 49l1 0l1-49l1 0l1 49l1 0l1-49l1 49l1 0l1 0l1 0l1-49l1 0l1 49l1-49l1 0l1 49l1 0l1 0l1 0l1 0l1-49l1 49l1-49l1 0l1 49l1-99l1 99l1 0l1 0l1 0l1-99l1 50l1-50l1 99l1-99l1 0l1 99l1 0l1 0l1 0l1 0l1-49l1 0l1 49l1-49l1 49l1 0l1-49l1-99l1 99l1 0l1 0l1 49l1-49l1 49l1 0l1-247l1 148l1 50l1 49l1-148l1 99l1 49l1-294l1 195l1 50l1 49l1-49l1 0l1-50l1 0l1 99l1-99l1 0l1 0l1 99l1 0l1-198l1-15l1 213l1-148l1 99l1 49l1-49l1-50l1-49l1 99l1-99l1 49l1 50l1-149l1 0l1 50l1-121l1 121l1-139l1 238l1-198l1 198l1 0l1-99l1 148l1-287l1 139l1-139l1 89l1 149l1 0l1-198l1 99l1 99l1-198l1 247l1-247l1 247l1-49l1 0l1-99l1 148l1-99l1 99l1 0l1-99l1-188l1 287l1-49l1 49l1-99l1-114l1 65l1 148l1 0l1-247l1 0l1 247l1-247l1 198l1 49l1-198l1-89l1 188l1-49l1 99l1-262l1 212l1 0l1-49l1 99l1-50l1-148l1 198l1-50l1 99l1 0l1-49l1-50l1 99l1 0l1 0l1-99l1-49l1-139l1 89l1 50l1 99l1 0l1-258l1 208l1 50l1 49l1-148l1 0l1 49l1-188l1 139l1 49l1 50l1-198l1-111l1 111l1 148l1 50l1-50l1 99l1-49l1-99l1 99l1-50l1 0l1 99l1-49l1-149l1 198l1-49l1 0l1 0l1 49l1-49l1 49l1 0l1 0l1-99l1 0l1-93l1 93l1 99l1 0l1 0l1-49l1 49l1-99l1 0l1 99l1 0l1 0l1 0l1 0l1 0l1-49l1 49l1-49l1 49l1-49l1 49l1-49l1 49l1 0l1-49l1 0l1 49l1 0l1 0l1-49l1 49l1 0l1 0l1 0l1 0l1 0l1 0l1-49l1 49l1 0l1 0l1 0l1-49l1 49l1-49l1 0l1 49l1 0l1 0l1 0l1 0l1 0l1-49l1 0l1 0l1 49l1 0l1-49l1-149l1 99l1 0l1 50l1-99l1 99l1 49l1 0l1 0l1 0l1 0l1 0l1-99l1 50l1 0l1 0l1-99l1 99l1 0l1 0l1 0l1 0l1-50l1 50l1 0l1 49l1-287l1 287l1-49l1 0l1 0l1-50l1 0l1 99l1-99l1 50l1 49l1-49l1 49l1 0l1 0l1 0l1 0l1-49l1 0l1 49l1 0l1 0l1 0l1 0l1 0l1-49l1 49l1 0l1 0l1 0l1 0l1 0l1 0l1 0l1 0l1 0l1-230l1 230l1-49l1 49l1 0l1 0l1-49l1 49l1-49l1 49l1-49l1 49l1 0l1 0l1 0l1 0l1-49l1 0l1 0l1 49l1-49l1 49l1 0l1 0l1 0l1 0l1-49l1 49l1 0l1 0l1-49l1 49l1 0l1-99l1 99l1 0l1-49l1 0l1 49l1-99l1 99l1-49l1 0l1 0l1 0l1 49l1-148l1 148l1-49l1 0l1 0l1 49l1 0l1 0l1 0l1 0l1-49l1 49l1-49l1 49l1-49l1 49l1-49l1 49l1-49l1 49l1 0l1-49l1 49l1-49l1 49l1 0l1-49l1 49l1 0l1-49l1 49l1 0l1-49l1-50l1 50l1 0l1 0l1 49l1-49l1 0l1 49l1-49l1 49l1 0l1 0l1 0l1 0l1 0l1 0l1-49l1 0l1 49l1 0l1-49l1 49l1 0l1 0l1-49l1 0l1 49l1-49l1 49l1 0l1-49l1 0l1 0l1 0l1 0l1 49l1 0l1 0l1 0l1-49l1 49l1-49l1 49l1 0l1-99l1 99l1-49l1 49l1 0l1-49l1 49l1 0l1-99l1 99l1-49l1 49l1 0l1 0l1 0l1 0l1-99l1 99l1-49l1 49l1 0l1-49l1 49l1 0l1-49l1 49l1-99l1-49l1 49l1 50l1 49l1-49l1 0l1 49l1-49l1 49l1 0l1-49l1 49l1-49l1 49l1 0l1 0l1 0l1-49l1 49l1-49l1 49l1-49l1 0l1 49l1 0l1 0l1-49l1 0l1 49l1-99l1 50l1 49l1 0l1 0l1-49l1 49l1 0l1 0l1 0l1-49l1 49l1-49l1-50l1 99l1 0l1-49l1 49l1-49l1 0l1-50l1-99" fill="none" stroke="#f08a8a" stroke-width="4.0" vector-effect="non-scaling-stroke" stroke-linejoin="round" stroke-linecap="round"/>
<path transform="translate(943.35 2265.35) scale(0.38375 0.5)" d="M0-30l4 0l4 0l4-9l4-10l4-2l4 18l4 17l4 11l4 1l4-4l4-4l4-4l4-1l4-12l4-4l4-1l4-7l4 5l4 16l4-2l4-10l4-14l4-2l4 3l4 19l4 12l4-9l4 0l4-3l4 6l4 11l4-14l4-5l4 15l4 10l4-12l4-20l4 10l4 12l4-4l4-16l4-17l4-4l4 15l4 11l4 5l4-1l4 14l4-7l4-5l4 0l4 2l4 11l4 0l4-3l4-10l4-7l4 0l4-2l4-14l4 2l4-1l4-33l4-9l4 39l4 26l4 0l4-2l4 0l4 8l4 4l4-7l4 5l4 1l4-11l4-2l4-17l4 6l4 20l4-6l4-18l4-6l4-18l4-19l4-2l4 10l4 1l4 8l4 7l4-13l4-35l4-38l4-13l4 7l4-24l4 17l4 51l4 43l4 2l4-13l4-3l4-38l4-34l4-8l4 23l4 19l4 39l4 29l4-48l4-26l4 22l4-37l4-38l4 15l4 64l4 23l4 13l4 25l4 7l4-7l4 7l4 2l4 16l4-4l4-3l4 2l4 7l4 7l4-1l4-6l4-5l4 5l4-13l4-33l4-22l4 36l4 12l4-28l4-7l4-1l4-7l4 9l4 18l4 28l4 7l4 3l4 4l4 1l4 0l4 0l4-8l4-4l4 4l4-7l4 2l4 9l4-4l4-9l4-9l4-9l4-6l4 8l4 21l4 1l4-6l4 2l4 2l4 1l4-10l4-14l4 9l4 18l4 6l4-8l4-1l4-5l4-6l4-1l4 12l4-4l4-3l4 2l4 1l4 5l4-5l4-2l4-25l4-6l4 25l4 11l4 5l4-6l4-3l4-5l4 0l4 13l4-4l4-12l4-17l4-25" fill="none" stroke="#e31a1c" stroke-width="3.6" vector-effect="non-scaling-stroke" stroke-linejoin="round"/>
<path transform="translate(943.35 2265.35) scale(0.38375 0.5)" d="M0-31l2 1l2-2l2 0l2-1l2 2l2-1l2 1l2 0l2 0l2 0l2-1l2 0l2 0l2 0l2-1l2 2l2 0l2-3l2 0l2 2l2 0l2-1l2 0l2 0l2-3l2 2l2 1l2 0l2-1l2 3l2 0l2-1l2 2l2 0l2-1l2-3l2-2l2 5l2 1l2 0l2-3l2 0l2 0l2 3l2-2l2 1l2 2l2-4l2-1l2 1l2 0l2 1l2 1l2-2l2-2l2 3l2-2l2 1l2 0l2-1l2 0l2 1l2 2l2-1l2-2l2 3l2-1l2-1l2 0l2-1l2 0l2 4l2-2l2 3l2-4l2 0l2 1l2 1l2-2l2 1l2-1l2 3l2-1l2-1l2 0l2 3l2-1l2-3l2 0l2 2l2-1l2 1l2-4l2 3l2 2l2-2l2 2l2 2l2-1l2-1l2-5l2 4l2 1l2-3l2-1l2 0l2 0l2-1l2-1l2-2l2 7l2-2l2 2l2 0l2-1l2 0l2-3l2 2l2 2l2 0l2 0l2 0l2-1l2 1l2-1l2-3l2 1l2 1l2-1l2 1l2 2l2 0l2-3l2 2l2 3l2-2l2-4l2 1l2 0l2 0l2-2l2 5l2-2l2-1l2 0l2 2l2 1l2 1l2-1l2-1l2-2l2 1l2 2l2-1l2-1l2 0l2 0l2-2l2 1l2 0l2 4l2 0l2-1l2-2l2 2l2-2l2 1l2-2l2 3l2-2l2 1l2 0l2 0l2 0l2 1l2 0l2 0l2-2l2 1l2-3l2 2l2 0l2-1l2 0l2 2l2 1l2-3l2-1l2 1l2 2l2-1l2 2l2-1l2 1l2 1l2-5l2 6l2 10l2 10l2 5l2-7l2-10l2-6l2-4l2-1l2 2l2-3l2-1l2 0l2 2l2-1l2-1l2 2l2 0l2 0l2-2l2 0l2-2l2 2l2 1l2-2l2-1l2 5l2 0l2-4l2 2l2 1l2-1l2-3l2 3l2 3l2 0l2-4l2 2l2 1l2-2l2 2l2-2l2-2l2 2l2 0l2 2l2-1l2 0l2-2l2 0l2 2l2 1l2 2l2-4l2-2l2 3l2-1l2 0l2 2l2-1l2 1l2-2l2-1l2 2l2 3l2-3l2-2l2 1l2 0l2 0l2 0l2 2l2 1l2-2l2 0l2-1l2 0l2 1l2-1l2 1l2 1l2 0l2 1l2-3l2 0l2 2l2-3l2 2l2-2l2 2l2 0l2-1l2 2l2-1l2-2l2-1l2 3l2 0l2-2l2 3l2-2l2 2l2 1l2-6l2 5l2-4l2 2l2 4l2-5l2 3l2-2l2 2l2-1l2 0l2 0l2 1l2-3l2 0l2 1l2 1l2 1l2-3l2 2l2 1l2-2l2-1l2 2l2-2l2 0l2 0l2-2l2 0l2 2l2 1l2-2l2 2l2 0l2 1l2-4l2 2l2 1l2 0l2-2l2 5l2 1l2 1l2-4l2 1l2-2l2 0l2 2l2 2l2-4l2-1l2 2l2 0l2 1l2 0l2 0l2 0l2 0l2 0l2 0l2-2l2 0l2-1l2-2l2 3l2-1l2 1l2-2l2-1l2 2l2 3l2 0l2 0l2 0l2-2l2 1l2 0l2-4l2 2l2 1l2 0l2 1l2-2l2 2l2-3l2 4l2-1l2 0l2-3l2 3l2-1l2 1l2-1l2 0l2 1l2 2l2 0l2-1l2-2l2 3l2-4" fill="none" stroke="#808080" stroke-width="5.0" vector-effect="non-scaling-stroke" stroke-linejoin="round"/>
<path transform="translate(943.35 2265.35) scale(0.38375 0.5)" d="M0-32l3 0l3-1l3 1l3 0l3 0l3 0l3 0l3 0l3 0l3 0l3 0l3 0l3 0l3 0l3 0l3 1l3 0l3 0l3-1l3 0l3-1l3 0l3-1l3 1l3 0l3 1l3-1l3 0l3 0l3 1l3 0l3 0l3 0l3 0l3 0l3 0l3-1l3 0l3 1l3 0l3 0l3 0l3 0l3-1l3 0l3 0l3 1l3 0l3 0l3-1l3 0l3 0l3 0l3 1l3 0l3 0l3-1l3 0l3 0l3 0l3 0l3 0l3 1l3 0l3 0l3 0l3 0l3-1l3 0l3 1l3 0l3 0l3-1l3 0l3 0l3 0l3 1l3 0l3 0l3 0l3 0l3-1l3 0l3 1l3 0l3 0l3 0l3-1l3 0l3 1l3 0l3 0l3-1l3 0l3 0l3 1l3 0l3 0l3 0l3 0l3 0l3 1l3 0l3 0l3 0l3 0l3 0l3-1l3 0l3 0l3 0l3 0l3 0l3 0l3 1l3-1l3 0l3-1l3 0l3 1l3 0l3 0l3-1l3 0l3 0l3 0l3 1l3 0l3 0l3 1l3 2l3 5l3 5l3-1l3-6l3-5l3-1l3 0l3 0l3 0l3 0l3 0l3 0l3 0l3-1l3 0l3 0l3 0l3 0l3 0l3 0l3 0l3 0l3 0l3 0l3 0l3 0l3 0l3 0l3 1l3 0l3 0l3 0l3 0l3 0l3 0l3 0l3 0l3 0l3 0l3 0l3 0l3 0l3 0l3 1l3 0l3-1l3 0l3 0l3 0l3 0l3 0l3-1l3 0l3 0l3 1l3-1l3 0l3 0l3 0l3 0l3 0l3 0l3 0l3 0l3 0l3-1l3 0l3 1l3 0l3 1l3 0l3 0l3 0l3 0l3 0l3-1l3 0l3 0l3 0l3 0l3 1l3 0l3 0l3 0l3-1l3 0l3 0l3 1l3 0l3 0l3 0l3-1l3 0l3 0l3 0l3-1l3 0l3 0l3 1l3 0l3 0l3 0l3 0l3 0l3 0l3 0l3 0l3 0l3 0l3 0l3 0l3 0l3 1l3 0l3 0l3 0l3-1l3 1l3 0l3 0l3 0l3 0l3 0l3 0l3 0l3 0l3-1l3 0l3 0l3 0l3 0l3 0l3 1l3 0l3 0" fill="none" stroke="#000000" stroke-width="3.5" vector-effect="non-scaling-stroke" stroke-linejoin="round"/>
</g>
<rect x="1084.38" y="2260.85" width="24.94" height="9.50" fill="#ff0099"/>
<path d="M981.73 2011.55v8.3M981.73 2265.35v-8.3M1020.10 2011.55v16.8M1020.10 2265.35v-16.8M1058.47 2011.55v8.3M1058.47 2265.35v-8.3M1096.85 2011.55v16.8M1096.85 2265.35v-16.8M1135.22 2011.55v8.3M1135.22 2265.35v-8.3M1173.60 2011.55v16.8M1173.60 2265.35v-16.8M1211.97 2011.55v8.3M1211.97 2265.35v-8.3M943.35 2263.75h16.5M1250.35 2263.75h-16.5M943.35 2158.71h16.5M1250.35 2158.71h-16.5M943.35 2052.07h16.5M1250.35 2052.07h-16.5" stroke="#000" stroke-width="2" fill="none"/>
<rect x="943.35" y="2011.55" width="307.00" height="253.80" fill="none" stroke="#000" stroke-width="3.1"/>
<text x="927.05" y="2271.85" class="tl" text-anchor="end">0.000</text>
<text x="927.05" y="2165.21" class="tl" text-anchor="end">0.005</text>
<text x="927.05" y="2058.57" class="tl" text-anchor="end">0.010</text>
<text x="1097.85" y="1991.20" class="tt" text-anchor="middle">NFYA (n = 1,104)</text>
<text x="943.35" y="2299.45" class="tl" text-anchor="middle">-400</text>
<text x="1020.10" y="2299.45" class="tl" text-anchor="middle">-200</text>
<text x="1096.85" y="2299.45" class="tl" text-anchor="middle">0</text>
<text x="1173.60" y="2299.45" class="tl" text-anchor="middle">200</text>
<text x="1250.35" y="2299.45" class="tl" text-anchor="middle">400</text>
<clipPath id="c33"><rect x="1358.35" y="2011.55" width="307.00" height="253.80"/></clipPath>
<g clip-path="url(#c33)">
<path transform="translate(1358.35 2265.35) scale(0.38375 0.5)" d="M0 0l1 0l1-52l1 52l1 0l1-52l1 52l1 0l1 0l1-52l1 52l1 0l1 0l1 0l1-52l1 0l1 0l1 52l1 0l1-103l1 103l1-103l1 51l1-51l1 103l1 0l1 0l1-103l1 103l1 0l1 0l1 0l1-103l1 103l1 0l1 0l1 0l1 0l1 0l1 0l1 0l1-52l1 52l1 0l1 0l1-52l1 0l1 52l1-52l1-51l1 51l1 52l1-103l1 51l1 52l1 0l1 0l1-155l1 155l1 0l1 0l1 0l1 0l1 0l1 0l1 0l1 0l1 0l1 0l1 0l1 0l1 0l1 0l1 0l1 0l1-103l1 51l1 52l1 0l1 0l1-155l1 52l1 51l1 52l1 0l1 0l1-52l1 52l1-52l1 52l1 0l1 0l1 0l1-52l1 52l1 0l1 0l1 0l1-52l1 52l1-158l1 106l1 52l1 0l1 0l1-52l1 0l1-51l1 103l1-52l1 52l1-103l1 51l1 0l1 0l1-51l1 103l1 0l1 0l1 0l1-52l1 52l1 0l1-52l1-206l1 258l1 0l1 0l1 0l1 0l1-155l1 155l1 0l1-52l1 52l1 0l1 0l1-52l1 52l1 0l1 0l1-52l1 52l1 0l1 0l1 0l1-52l1 52l1-52l1 52l1-103l1 51l1 52l1 0l1 0l1 0l1-103l1 103l1-52l1 0l1 52l1 0l1 0l1-103l1 103l1 0l1 0l1 0l1 0l1-52l1-51l1 103l1-52l1 52l1 0l1-103l1 51l1 52l1 0l1 0l1 0l1 0l1 0l1 0l1 0l1-52l1 0l1 52l1 0l1-52l1 52l1 0l1 0l1-103l1 103l1 0l1-52l1 0l1 52l1-103l1 103l1-52l1 52l1-52l1 0l1 52l1-52l1 52l1 0l1 0l1 0l1-52l1-51l1 103l1 0l1 0l1 0l1-52l1 52l1 0l1 0l1-155l1 103l1 0l1 0l1 52l1 0l1 0l1 0l1-52l1 0l1 0l1 0l1 52l1 0l1 0l1 0l1 0l1-52l1 52l1-52l1 52l1-52l1 52l1-52l1 52l1 0l1 0l1 0l1-52l1 52l1 0l1 0l1 0l1 0l1 0l1 0l1-103l1 103l1-103l1 51l1-103l1 103l1 52l1 0l1 0l1 0l1 0l1 0l1 0l1 0l1 0l1 0l1-103l1 103l1-52l1 52l1-52l1-51l1 103l1-52l1 52l1 0l1 0l1 0l1-52l1 52l1-103l1 103l1 0l1 0l1 0l1-52l1 52l1 0l1 0l1-52l1 0l1 52l1-103l1 103l1-52l1 52l1 0l1 0l1-103l1 103l1-52l1 0l1 52l1-52l1 52l1-52l1 52l1 0l1-52l1 52l1-52l1 0l1 52l1-52l1 52l1-103l1 103l1-52l1 52l1-52l1 52l1-52l1 52l1 0l1 0l1-103l1 103l1 0l1-155l1 103l1 52l1-52l1 52l1 0l1 0l1 0l1 0l1 0l1-166l1 166l1-52l1 52l1-52l1 52l1-52l1 0l1 0l1 0l1 0l1 52l1-52l1 52l1-52l1-106l1 3l1 103l1 0l1-103l1 0l1 103l1 52l1 0l1 0l1 0l1-52l1 52l1-52l1 0l1-154l1 103l1 103l1-52l1-154l1 206l1-103l1 51l1 52l1-103l1-161l1 212l1 0l1-51l1 0l1 0l1 51l1 52l1-52l1-154l1-41l1 195l1-51l1-52l1 103l1-396l1 396l1 52l1-103l1 103l1 0l1-155l1 103l1 0l1 52l1-52l1 52l1 0l1 0l1-52l1 52l1-103l1 103l1-52l1 52l1-171l1 68l1 51l1-51l1-52l1 103l1 0l1 52l1 0l1 0l1-218l1 218l1 0l1-103l1 51l1-51l1 0l1 51l1 0l1 0l1 52l1 0l1 0l1-52l1 0l1-103l1 103l1 0l1 0l1 52l1-52l1 52l1-52l1 0l1 52l1 0l1 0l1 0l1 0l1-52l1 52l1 0l1 0l1-103l1-52l1 103l1 52l1-52l1 0l1 0l1 52l1 0l1 0l1-52l1 0l1 52l1 0l1 0l1 0l1 0l1-52l1 52l1 0l1 0l1-103l1-63l1 166l1 0l1 0l1 0l1 0l1 0l1-52l1 52l1-52l1 0l1 0l1-51l1 51l1 52l1-52l1 52l1 0l1-52l1 52l1 0l1-52l1 52l1 0l1 0l1 0l1 0l1 0l1-103l1 0l1 103l1 0l1 0l1 0l1 0l1-52l1 52l1 0l1-52l1 52l1 0l1 0l1 0l1 0l1 0l1 0l1-52l1 52l1-103l1 103l1 0l1 0l1 0l1 0l1-52l1 52l1 0l1 0l1 0l1 0l1 0l1 0l1-52l1 52l1 0l1 0l1 0l1 0l1 0l1 0l1 0l1 0l1 0l1 0l1 0l1 0l1 0l1 0l1 0l1 0l1 0l1 0l1 0l1 0l1 0l1 0l1 0l1-52l1 52l1 0l1 0l1 0l1 0l1 0l1 0l1 0l1-52l1 52l1-103l1 51l1 52l1 0l1 0l1 0l1 0l1 0l1 0l1 0l1-52l1 52l1 0l1 0l1 0l1 0l1 0l1-158l1 158l1 0l1-103l1 103l1-103l1 51l1 52l1 0l1-52l1 52l1 0l1 0l1 0l1 0l1 0l1 0l1-52l1 0l1 0l1 52l1 0l1-52l1 0l1 52l1 0l1 0l1 0l1-52l1 0l1 52l1 0l1 0l1-52l1 52l1-52l1 52l1 0l1 0l1-52l1 0l1 52l1 0l1 0l1 0l1 0l1 0l1 0l1 0l1 0l1 0l1 0l1-103l1 103l1 0l1-52l1 0l1 52l1 0l1 0l1 0l1 0l1 0l1 0l1 0l1-103l1 103l1 0l1 0l1 0l1-103l1 103l1 0l1-52l1 52l1 0l1-52l1 0l1 52l1 0l1-103l1 51l1 52l1 0l1-52l1 0l1 52l1 0l1 0l1-52l1 0l1 52l1 0l1 0l1 0l1 0l1-52l1 52l1 0l1 0l1 0l1 0l1 0l1-52l1 52l1 0l1 0l1-103l1 103l1 0l1 0l1-206l1 154l1 52l1 0l1-103l1 103l1-52l1-51l1 103l1-103l1 51l1 52l1 0l1 0l1 0l1-103l1 103l1-52l1 52l1 0l1 0l1 0l1 0l1 0l1 0l1-52l1 52l1 0l1 0l1-103l1 103l1-52l1-51l1 103l1 0l1-52l1 52l1-52l1 52l1 0l1-103l1 51l1-51l1 51l1 52l1 0l1 0l1 0l1-52l1 52l1 0l1 0l1 0l1 0l1 0l1 0l1 0l1 0l1 0l1 0l1-103l1 103l1 0l1-52l1-51l1 103l1 0l1 0l1 0l1 0l1 0l1 0l1 0l1 0l1-103l1 51l1 0l1 52l1-52l1-51l1 103l1 0l1-52l1 52l1-52l1 0l1 52l1 0l1 0l1-52" fill="none" stroke="#f08a8a" stroke-width="4.0" vector-effect="non-scaling-stroke" stroke-linejoin="round" stroke-linecap="round"/>
<path transform="translate(1358.35 2265.35) scale(0.38375 0.5)" d="M0-16l4 0l4-1l4-1l4-2l4 0l4 0l4 1l4 1l4 0l4 0l4-1l4 0l4 0l4 1l4 1l4 1l4 0l4 0l4-2l4 0l4 0l4 0l4 0l4 0l4-1l4-2l4-2l4-1l4 0l4 0l4 1l4 1l4 2l4 1l4 1l4 0l4 0l4-1l4 0l4 0l4 0l4 0l4 1l4 0l4 1l4 0l4-1l4-1l4 0l4-1l4 0l4 0l4 0l4 0l4 0l4 0l4 1l4 1l4 1l4 0l4 1l4-1l4-1l4-1l4 0l4 0l4 0l4 0l4 0l4 0l4 0l4 0l4 0l4-1l4-1l4 0l4-1l4-1l4 0l4-1l4 0l4-1l4 0l4-1l4-1l4-2l4-3l4-5l4-5l4-4l4-4l4-2l4-3l4-2l4-3l4-2l4-2l4-1l4 0l4 3l4 3l4 4l4 3l4 2l4 1l4 1l4 1l4 2l4 1l4 3l4 2l4 3l4 3l4 2l4 2l4 2l4 2l4 2l4 2l4 1l4 1l4 0l4 0l4-1l4 1l4 0l4 1l4 1l4 1l4 1l4 1l4 1l4 0l4 1l4 1l4 1l4 1l4 0l4 1l4 0l4 0l4-1l4-1l4-1l4-1l4-1l4 0l4 0l4-1l4 0l4-1l4-1l4 0l4 0l4 0l4 0l4 0l4 1l4 1l4 0l4 1l4 0l4-1l4 0l4-1l4-1l4-1l4-1l4 0l4 0l4 0l4 1l4 1l4 0l4-1l4-2l4-2l4-2l4 0l4 0l4 2l4 1l4 1l4 0l4 0l4-1l4 0l4 1l4 1l4 2l4 1l4 0l4-1l4-1l4-1l4-1l4 0l4-1l4 0l4 0" fill="none" stroke="#e31a1c" stroke-width="3.6" vector-effect="non-scaling-stroke" stroke-linejoin="round"/>
<path transform="translate(1358.35 2265.35) scale(0.38375 0.5)" d="M0-27l2 1l2 2l2-3l2-2l2 1l2 0l2 2l2-2l2 1l2 0l2-1l2 1l2 1l2-3l2 1l2 0l2 1l2 3l2-5l2 3l2-3l2 2l2 0l2-2l2 1l2 2l2 2l2-2l2-2l2 1l2-1l2 0l2-1l2 2l2 1l2-2l2 1l2-1l2 2l2-1l2 0l2-1l2 1l2 0l2-1l2 3l2-1l2-1l2 0l2 0l2 3l2-3l2-3l2 4l2 3l2-4l2 0l2-2l2 2l2 2l2-2l2 2l2-2l2-1l2 0l2 1l2-2l2 3l2 0l2 1l2-2l2 0l2 0l2 2l2-1l2-2l2 1l2 0l2-1l2-1l2 3l2 0l2 0l2 1l2-3l2-1l2 2l2 1l2 0l2 0l2 0l2-1l2 0l2 0l2 0l2 0l2 1l2-1l2-1l2 2l2 1l2-2l2 0l2 1l2 0l2 0l2-1l2 0l2-1l2 1l2 2l2-1l2-3l2 2l2 1l2 0l2-1l2 1l2-2l2 3l2-1l2 1l2 0l2 0l2 1l2-3l2 0l2-2l2 0l2 3l2 0l2 2l2-3l2-1l2 2l2 1l2 0l2-1l2-3l2 3l2-1l2 0l2-1l2 2l2-2l2 2l2-1l2-1l2 0l2 0l2 0l2 1l2 1l2-1l2 1l2-3l2 2l2 2l2 0l2 1l2-1l2 0l2 0l2-1l2 0l2-2l2 3l2-1l2 2l2-2l2-2l2 2l2 0l2 0l2-2l2 2l2 0l2-1l2-1l2 0l2 2l2-1l2 2l2-2l2 1l2-1l2-1l2 1l2-1l2 0l2 1l2 2l2-3l2 1l2 1l2-4l2-1l2-10l2-12l2-8l2 7l2 14l2 8l2 4l2 2l2 2l2-3l2-1l2-1l2 1l2 2l2 0l2-1l2-3l2 2l2 0l2-1l2 2l2-2l2 0l2 1l2 1l2-1l2 2l2-4l2 4l2-1l2 1l2-4l2 2l2-1l2 1l2 1l2 1l2-1l2 0l2-2l2 2l2 1l2 0l2-1l2 0l2 0l2 0l2 1l2 1l2-3l2-1l2 1l2 0l2 0l2 0l2 2l2-1l2 0l2 2l2 0l2-3l2 1l2 0l2 1l2-2l2 1l2-1l2-1l2 1l2 2l2-1l2 2l2 0l2-2l2-1l2 1l2-1l2-1l2 2l2 1l2 1l2-3l2 1l2-1l2-1l2-2l2 4l2-1l2 2l2-3l2-1l2 5l2-2l2-1l2 4l2-3l2 0l2-2l2 0l2 2l2 1l2-1l2 2l2-1l2 1l2-2l2-1l2 0l2 1l2 1l2-1l2 4l2-2l2-2l2 1l2 0l2-1l2-1l2 2l2-3l2 4l2-1l2-1l2-3l2 0l2 1l2 0l2 1l2 0l2 0l2 2l2 0l2 0l2 1l2-2l2 2l2 0l2-2l2 0l2 0l2-1l2 0l2 4l2-2l2-3l2 1l2 1l2 1l2 0l2-1l2-1l2 0l2-1l2 1l2 2l2-1l2 3l2-3l2 0l2 0l2 0l2-2l2 0l2 2l2 3l2-2l2-3l2 1l2 4l2-4l2 3l2-1l2 0l2-2l2 2l2 0l2-2l2 0l2 2l2 3l2-3l2 0l2-1l2 1l2 0l2-2l2 0l2 0l2 1l2-1l2 1l2-1l2 1l2 2l2-1l2 1l2-1l2-2l2 0l2 1l2 2l2 0l2-1" fill="none" stroke="#808080" stroke-width="5.0" vector-effect="non-scaling-stroke" stroke-linejoin="round"/>
<path transform="translate(1358.35 2265.35) scale(0.38375 0.5)" d="M0-27l3 0l3 0l3 0l3 0l3 0l3 0l3 0l3 0l3 1l3 0l3 0l3 0l3-1l3 0l3 0l3 0l3 0l3 0l3 0l3 0l3 0l3 0l3 0l3 0l3 0l3 0l3 0l3 0l3 0l3 0l3 0l3-1l3 1l3 0l3 0l3 1l3 0l3 0l3 0l3 0l3-1l3 0l3 1l3 0l3 0l3-1l3 0l3 0l3 0l3 0l3 0l3 0l3 0l3 0l3 0l3 0l3 0l3 0l3 0l3 0l3 0l3 0l3 0l3 0l3 0l3 0l3 0l3 0l3 0l3 0l3-1l3 0l3 1l3 0l3 1l3 0l3 0l3-1l3 0l3 0l3 0l3-1l3 0l3 1l3 0l3 1l3 0l3 0l3-1l3 0l3 0l3 0l3 0l3 0l3 0l3 0l3 1l3 0l3-1l3 0l3 1l3 0l3 0l3-1l3 0l3 1l3-1l3 0l3-1l3 0l3 1l3 0l3 0l3 0l3 0l3 0l3 0l3 0l3 1l3 0l3 0l3 0l3 0l3 0l3-1l3 0l3 0l3 0l3-1l3 0l3-2l3-4l3-5l3 1l3 6l3 4l3 1l3 0l3 0l3 1l3 0l3-1l3 0l3 0l3 0l3 0l3 0l3-1l3 0l3 1l3 0l3 0l3 1l3 0l3 0l3 0l3-1l3 0l3 0l3 0l3 0l3 0l3 0l3-1l3 0l3 1l3 0l3 0l3 1l3 0l3-1l3 0l3 0l3 0l3 0l3 0l3 0l3 0l3 0l3 1l3 0l3 0l3 0l3 0l3-1l3 0l3 0l3 0l3 0l3 0l3 0l3 0l3 0l3 0l3 0l3 0l3 0l3 0l3 0l3 0l3 0l3 1l3 0l3 0l3 0l3 0l3 0l3 0l3-1l3 0l3 1l3-1l3 0l3 0l3 0l3 1l3-1l3 0l3 0l3 0l3 0l3 0l3 1l3 0l3-1l3 0l3 0l3 1l3 0l3 0l3 0l3 0l3 0l3 0l3-1l3 0l3 0l3 0l3 0l3 0l3 0l3 0l3 0l3 0l3 0l3 0l3 0l3 0l3 1l3 0l3-1l3 0l3 0l3 0l3-1l3 0l3 0l3 0l3 0l3 1l3 0l3 1l3 0l3 0l3-1l3 0" fill="none" stroke="#000000" stroke-width="3.5" vector-effect="non-scaling-stroke" stroke-linejoin="round"/>
<rect x="1499.38" y="2256.35" width="24.94" height="9.00" fill="#ff0099"/>
</g>
<path d="M1396.72 2011.55v8.3M1396.72 2265.35v-8.3M1435.10 2011.55v16.8M1435.10 2265.35v-16.8M1473.47 2011.55v8.3M1473.47 2265.35v-8.3M1511.85 2011.55v16.8M1511.85 2265.35v-16.8M1550.22 2011.55v8.3M1550.22 2265.35v-8.3M1588.60 2011.55v16.8M1588.60 2265.35v-16.8M1626.97 2011.55v8.3M1626.97 2265.35v-8.3M1358.35 2263.75h16.5M1665.35 2263.75h-16.5M1358.35 2158.71h16.5M1665.35 2158.71h-16.5M1358.35 2052.07h16.5M1665.35 2052.07h-16.5" stroke="#000" stroke-width="2" fill="none"/>
<rect x="1358.35" y="2011.55" width="307.00" height="253.80" fill="none" stroke="#000" stroke-width="3.1"/>
<text x="1342.05" y="2271.85" class="tl" text-anchor="end">0.000</text>
<text x="1342.05" y="2165.21" class="tl" text-anchor="end">0.005</text>
<text x="1342.05" y="2058.57" class="tl" text-anchor="end">0.010</text>
<text x="1512.85" y="1991.20" class="tt" text-anchor="middle">STAT3 (n = 1,058)</text>
<text x="1358.35" y="2299.45" class="tl" text-anchor="middle">-400</text>
<text x="1435.10" y="2299.45" class="tl" text-anchor="middle">-200</text>
<text x="1511.85" y="2299.45" class="tl" text-anchor="middle">0</text>
<text x="1588.60" y="2299.45" class="tl" text-anchor="middle">200</text>
<text x="1665.35" y="2299.45" class="tl" text-anchor="middle">400</text><text class="al" text-anchor="middle" transform="translate(21.8 1035.2) rotate(-90)">Mutation rate (per nt)</text><text class="al" x="1096.8" y="2344.6" text-anchor="middle">Distance from TFBS mid-point (nt)</text></svg></body></html>
